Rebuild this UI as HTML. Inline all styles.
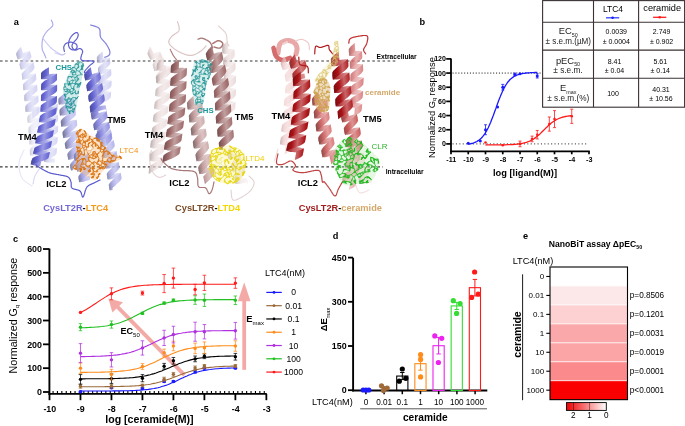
<!DOCTYPE html>
<html><head><meta charset="utf-8"><style>
html,body{margin:0;padding:0;background:#fff;overflow:hidden}
svg{display:block;will-change:transform}
text{font-family:"Liberation Sans",sans-serif}
</style></head><body>
<svg width="685" height="426" viewBox="0 0 685 426">
<rect width="685" height="426" fill="#fff"/>
<line x1="0" y1="61.0" x2="397" y2="61.0" stroke="#383838" stroke-width="1.2" stroke-dasharray="2.6 2.5"/>
<line x1="0" y1="166.9" x2="383" y2="166.9" stroke="#383838" stroke-width="1.2" stroke-dasharray="2.6 2.5"/>
<defs><linearGradient id="hf1" gradientUnits="userSpaceOnUse" x1="19.6" y1="83.8" x2="35.4" y2="81.2"><stop offset="0" stop-color="#7f7f9c"/><stop offset="0.35" stop-color="#c4c4f0"/><stop offset="0.62" stop-color="#d9d9f5"/><stop offset="1" stop-color="#c4c4f0"/></linearGradient><linearGradient id="hb1" gradientUnits="userSpaceOnUse" x1="19.6" y1="83.8" x2="35.4" y2="81.2"><stop offset="0" stop-color="#9b9bbe"/><stop offset="0.45" stop-color="#d6d6f4"/><stop offset="1" stop-color="#e8e8f9"/></linearGradient></defs><g opacity="0.7"><path d="M16.5,55.6L16.8,55.8L17.5,55.7L18.5,55.3L19.9,54.7L21.4,54.0L23.1,53.2L24.7,52.5L26.3,51.9L27.7,51.4L28.8,51.2L29.6,51.3L30.0,51.7L31.0,54.9L30.7,54.7L30.0,54.8L29.0,55.2L27.6,55.7L26.1,56.4L24.4,57.2L22.8,57.9L21.2,58.6L19.8,59.0L18.7,59.2L17.9,59.2L17.5,58.8ZM19.7,65.8L20.0,65.9L20.7,65.9L21.8,65.5L23.2,65.0L24.7,64.4L26.5,63.7L28.2,63.1L29.8,62.6L31.2,62.3L32.4,62.2L33.2,62.4L33.5,62.8L34.3,66.1L34.0,65.9L33.3,65.8L32.2,66.1L30.8,66.6L29.2,67.1L27.5,67.8L25.9,68.4L24.2,68.9L22.8,69.3L21.8,69.5L21.0,69.4L20.7,69.0ZM21.9,75.6L22.1,75.8L22.8,75.8L23.9,75.6L25.3,75.3L27.0,74.9L28.8,74.4L30.6,74.0L32.2,73.8L33.7,73.6L34.8,73.6L35.6,73.9L35.9,74.3L36.3,77.7L36.0,77.4L35.3,77.4L34.2,77.5L32.7,77.8L31.1,78.2L29.3,78.6L27.5,79.0L25.9,79.3L24.5,79.5L23.4,79.6L22.7,79.4L22.4,78.9ZM23.1,86.2L23.3,86.4L24.1,86.5L25.2,86.3L26.6,86.1L28.3,85.7L30.0,85.4L31.8,85.0L33.5,84.8L34.9,84.7L36.1,84.7L36.8,84.9L37.1,85.4L37.4,88.8L37.1,88.5L36.4,88.5L35.3,88.6L33.9,88.8L32.2,89.2L30.4,89.5L28.7,89.9L27.0,90.1L25.5,90.3L24.4,90.2L23.7,90.0L23.4,89.5ZM24.2,97.2L24.5,97.4L25.2,97.5L26.3,97.3L27.7,97.0L29.4,96.7L31.1,96.3L32.9,96.0L34.6,95.7L36.1,95.6L37.2,95.6L37.9,95.9L38.2,96.3L38.5,99.7L38.3,99.4L37.6,99.4L36.5,99.5L35.0,99.8L33.4,100.1L31.6,100.5L29.8,100.8L28.1,101.1L26.7,101.2L25.6,101.2L24.9,101.0L24.6,100.5ZM25.3,108.0L25.6,108.3L26.3,108.3L27.4,108.2L28.8,108.0L30.5,107.6L32.3,107.3L34.0,106.9L35.7,106.7L37.2,106.5L38.3,106.6L39.0,106.8L39.3,107.3L39.6,110.6L39.3,110.4L38.6,110.4L37.5,110.5L36.1,110.7L34.4,111.1L32.7,111.4L30.9,111.8L29.2,112.0L27.8,112.1L26.6,112.1L25.9,111.8L25.6,111.4Z" fill="url(#hb1)" opacity="1.0"/><path d="M21.0,46.7L20.3,47.5L19.6,48.3L18.9,49.1L18.3,49.9L17.7,50.6L17.2,51.4L16.8,52.1L16.5,52.7L16.3,53.3L16.1,53.8L16.1,54.2L16.1,54.5L17.9,59.8L17.9,59.7L18.0,59.4L18.2,59.1L18.5,58.7L18.9,58.2L19.3,57.6L19.8,57.0L20.4,56.4L21.0,55.7L21.6,54.9L22.3,54.1L23.0,53.3ZM29.6,50.7L29.5,51.1L29.0,51.8L28.2,52.8L27.1,54.1L25.8,55.5L24.4,57.1L23.0,58.7L21.7,60.3L20.7,61.7L19.9,62.9L19.5,64.0L19.4,64.7L21.0,70.1L21.2,69.7L21.7,69.0L22.6,68.0L23.7,66.8L25.1,65.3L26.5,63.8L27.9,62.2L29.2,60.6L30.2,59.1L31.0,57.8L31.4,56.7L31.4,56.0ZM33.3,61.7L33.1,62.1L32.7,62.9L31.8,63.8L30.6,65.0L29.1,66.3L27.5,67.6L26.0,69.1L24.5,70.4L23.3,71.7L22.4,72.8L21.8,73.8L21.7,74.5L22.5,80.0L22.8,79.7L23.4,79.1L24.4,78.2L25.7,77.2L27.2,75.9L28.9,74.5L30.4,73.1L31.9,71.7L33.1,70.2L34.0,69.0L34.5,67.9L34.6,67.2ZM35.7,73.2L35.5,73.6L34.9,74.2L33.9,75.1L32.6,76.1L31.0,77.2L29.3,78.5L27.6,79.8L26.1,81.1L24.8,82.3L23.7,83.4L23.1,84.3L23.0,85.1L23.5,90.6L23.7,90.3L24.4,89.7L25.4,88.9L26.8,87.9L28.4,86.7L30.1,85.5L31.7,84.2L33.3,82.9L34.6,81.6L35.6,80.5L36.2,79.5L36.4,78.8ZM37.0,84.3L36.8,84.7L36.1,85.3L35.1,86.1L33.7,87.1L32.1,88.2L30.4,89.4L28.7,90.7L27.2,92.0L25.8,93.3L24.8,94.4L24.2,95.3L24.1,96.1L24.7,101.6L24.9,101.3L25.5,100.6L26.5,99.8L27.9,98.8L29.4,97.7L31.1,96.4L32.8,95.1L34.4,93.8L35.7,92.6L36.7,91.5L37.3,90.6L37.5,89.9ZM38.1,95.2L37.9,95.6L37.2,96.2L36.2,97.0L34.9,98.0L33.3,99.1L31.6,100.4L29.9,101.7L28.3,103.0L27.0,104.2L26.0,105.3L25.4,106.2L25.2,106.9L25.7,112.5L25.9,112.1L26.6,111.5L27.6,110.7L29.0,109.7L30.6,108.6L32.3,107.4L34.0,106.1L35.5,104.8L36.9,103.6L37.9,102.5L38.5,101.5L38.6,100.8ZM39.2,106.2L39.1,106.4L39.0,106.6L38.6,106.9L38.2,107.3L37.7,107.7L37.0,108.2L36.3,108.7L35.5,109.2L34.7,109.9L33.8,110.5L32.9,111.2L32.0,111.8L32.6,118.8L33.6,118.1L34.5,117.4L35.3,116.8L36.2,116.1L37.0,115.4L37.7,114.8L38.3,114.1L38.8,113.6L39.2,113.0L39.5,112.6L39.7,112.1L39.7,111.8Z" fill="url(#hf1)"/></g>
<defs><linearGradient id="hf2" gradientUnits="userSpaceOnUse" x1="27.6" y1="135.5" x2="41.4" y2="134.5"><stop offset="0" stop-color="#8e8ea0"/><stop offset="0.35" stop-color="#dadaf6"/><stop offset="0.62" stop-color="#e7e7f9"/><stop offset="1" stop-color="#dadaf6"/></linearGradient><linearGradient id="hb2" gradientUnits="userSpaceOnUse" x1="27.6" y1="135.5" x2="41.4" y2="134.5"><stop offset="0" stop-color="#acacc2"/><stop offset="0.45" stop-color="#e5e5f9"/><stop offset="1" stop-color="#f1f1fc"/></linearGradient></defs><g opacity="0.5"><path d="M27.4,118.8L27.6,119.1L28.2,119.1L29.2,119.1L30.4,118.9L31.8,118.6L33.4,118.4L34.9,118.1L36.3,118.0L37.6,117.9L38.6,118.1L39.2,118.3L39.4,118.8L39.8,122.2L39.6,121.9L39.0,121.8L38.0,121.9L36.8,122.0L35.3,122.3L33.8,122.6L32.3,122.8L30.8,123.0L29.6,123.0L28.6,122.9L28.0,122.6L27.7,122.1ZM28.5,129.7L28.7,129.9L29.3,130.0L30.3,130.0L31.5,129.8L33.0,129.6L34.5,129.3L36.1,129.1L37.5,129.0L38.7,129.0L39.7,129.1L40.4,129.4L40.6,129.9L40.9,133.3L40.7,133.0L40.0,132.9L39.1,132.9L37.9,133.1L36.4,133.3L34.9,133.5L33.3,133.7L31.9,133.9L30.7,133.9L29.7,133.8L29.1,133.5L28.8,133.0ZM29.3,140.4L29.5,140.7L30.2,140.8L31.1,140.7L32.3,140.6L33.8,140.5L35.3,140.3L36.9,140.1L38.3,140.1L39.6,140.1L40.5,140.3L41.2,140.6L41.4,141.1L41.5,144.4L41.3,144.2L40.7,144.0L39.8,144.0L38.5,144.1L37.1,144.3L35.5,144.5L34.0,144.6L32.6,144.7L31.3,144.7L30.4,144.5L29.7,144.2L29.5,143.7ZM29.8,151.3L30.0,151.5L30.4,151.7L31.0,151.7L31.8,151.7L32.8,151.6L34.0,151.5L35.2,151.3L36.4,151.2L37.6,151.1L38.8,151.1L39.8,151.1L40.6,151.2L40.8,155.0L40.0,155.1L38.9,155.2L37.8,155.3L36.6,155.4L35.3,155.5L34.1,155.6L33.0,155.7L32.0,155.7L31.1,155.5L30.5,155.4L30.1,155.1L30.0,154.7Z" fill="url(#hb2)" opacity="1.0"/><path d="M32.6,111.5L31.9,112.1L31.2,112.7L30.5,113.3L29.9,113.9L29.3,114.5L28.7,115.0L28.3,115.6L27.9,116.1L27.6,116.5L27.4,117.0L27.3,117.3L27.2,117.7L27.9,123.3L27.9,123.1L28.0,122.9L28.2,122.6L28.6,122.3L29.0,122.0L29.4,121.6L30.0,121.1L30.6,120.7L31.2,120.2L31.9,119.6L32.6,119.1L33.4,118.5ZM39.3,117.7L39.2,118.1L38.6,118.6L37.7,119.4L36.6,120.3L35.2,121.3L33.8,122.5L32.4,123.6L31.0,124.8L29.9,125.9L29.0,127.0L28.5,127.8L28.4,128.6L28.9,134.1L29.1,133.8L29.7,133.2L30.6,132.5L31.7,131.6L33.1,130.6L34.5,129.4L36.0,128.2L37.3,127.1L38.4,125.9L39.3,124.9L39.8,124.0L39.9,123.3ZM40.5,128.8L40.4,129.2L39.8,129.7L38.9,130.5L37.7,131.3L36.4,132.3L34.9,133.4L33.4,134.5L32.0,135.6L30.9,136.7L30.0,137.7L29.4,138.6L29.3,139.3L29.6,144.9L29.8,144.5L30.3,144.0L31.3,143.3L32.5,142.4L33.9,141.5L35.4,140.4L36.8,139.3L38.2,138.1L39.4,137.0L40.3,136.0L40.8,135.1L41.0,134.4ZM41.3,140.0L41.2,140.3L40.6,140.9L39.7,141.5L38.5,142.4L37.1,143.3L35.5,144.4L34.0,145.5L32.6,146.6L31.4,147.6L30.5,148.6L30.0,149.5L29.8,150.2L30.0,155.8L30.2,155.4L30.8,154.9L31.7,154.2L32.9,153.4L34.3,152.4L35.8,151.4L37.4,150.3L38.8,149.2L40.0,148.1L40.9,147.1L41.4,146.3L41.6,145.6Z" fill="url(#hf2)"/></g>
<defs><linearGradient id="hf3" gradientUnits="userSpaceOnUse" x1="44.1" y1="130.8" x2="57.9" y2="131.2"><stop offset="0" stop-color="#7f7f9c"/><stop offset="0.35" stop-color="#c4c4f0"/><stop offset="0.62" stop-color="#d9d9f5"/><stop offset="1" stop-color="#c4c4f0"/></linearGradient><linearGradient id="hb3" gradientUnits="userSpaceOnUse" x1="44.1" y1="130.8" x2="57.9" y2="131.2"><stop offset="0" stop-color="#9b9bbe"/><stop offset="0.45" stop-color="#d6d6f4"/><stop offset="1" stop-color="#e8e8f9"/></linearGradient></defs><g opacity="0.7"><path d="M46.0,103.2L46.2,103.5L46.8,103.7L47.8,103.7L49.0,103.6L50.5,103.5L52.0,103.4L53.6,103.3L55.0,103.3L56.3,103.4L57.2,103.6L57.8,103.9L58.0,104.4L58.1,107.8L57.9,107.5L57.3,107.3L56.3,107.3L55.1,107.4L53.6,107.5L52.1,107.6L50.5,107.7L49.1,107.7L47.8,107.6L46.9,107.4L46.3,107.1L46.1,106.6ZM46.1,114.2L46.3,114.5L46.9,114.6L47.9,114.7L49.1,114.6L50.6,114.5L52.1,114.4L53.7,114.3L55.1,114.3L56.4,114.4L57.3,114.6L57.9,115.0L58.1,115.5L58.1,118.8L57.9,118.6L57.3,118.4L56.4,118.4L55.1,118.4L53.7,118.5L52.1,118.6L50.6,118.7L49.2,118.7L47.9,118.6L47.0,118.4L46.4,118.1L46.2,117.6ZM46.1,125.1L46.3,125.4L46.9,125.5L47.9,125.6L49.1,125.5L50.6,125.5L52.1,125.4L53.7,125.4L55.1,125.4L56.4,125.5L57.3,125.8L57.9,126.1L58.1,126.7L58.0,130.0L57.8,129.7L57.2,129.6L56.3,129.5L55.0,129.5L53.6,129.5L52.0,129.6L50.5,129.6L49.0,129.6L47.8,129.5L46.8,129.3L46.2,128.9L46.1,128.5ZM45.7,135.8L45.9,136.1L46.5,136.3L47.5,136.4L48.7,136.4L50.2,136.4L51.7,136.4L53.3,136.4L54.7,136.5L56.0,136.7L56.9,136.9L57.5,137.3L57.7,137.8L57.5,141.2L57.3,140.9L56.7,140.7L55.7,140.6L54.5,140.6L53.0,140.6L51.5,140.6L49.9,140.6L48.5,140.5L47.2,140.3L46.3,140.1L45.7,139.7L45.6,139.2ZM45.1,146.7L45.2,147.0L45.8,147.2L46.8,147.3L48.0,147.4L49.5,147.4L51.0,147.4L52.6,147.4L54.0,147.5L55.3,147.7L56.2,148.0L56.8,148.4L56.9,148.9L56.7,152.2L56.5,151.9L55.9,151.7L55.0,151.6L53.7,151.6L52.3,151.6L50.7,151.6L49.2,151.5L47.7,151.4L46.5,151.3L45.6,151.0L45.0,150.6L44.8,150.1ZM44.3,157.7L44.4,157.9L44.8,158.1L45.4,158.2L46.2,158.3L47.1,158.3L48.3,158.3L49.5,158.3L50.7,158.3L51.9,158.4L53.0,158.4L54.0,158.6L54.9,158.7L54.7,162.6L53.8,162.6L52.8,162.5L51.6,162.5L50.4,162.5L49.2,162.5L48.0,162.5L46.9,162.4L45.9,162.3L45.1,162.0L44.5,161.8L44.1,161.4L44.0,161.0Z" fill="url(#hb3)" opacity="1.0"/><path d="M52.0,96.5L51.2,97.0L50.4,97.5L49.7,98.1L49.0,98.6L48.3,99.1L47.8,99.6L47.2,100.1L46.8,100.6L46.5,101.0L46.2,101.4L46.1,101.8L46.0,102.1L46.1,107.7L46.1,107.5L46.3,107.4L46.5,107.1L46.9,106.9L47.3,106.5L47.8,106.2L48.4,105.8L49.0,105.4L49.7,104.9L50.5,104.5L51.2,104.0L52.0,103.5ZM58.0,103.3L57.8,103.6L57.2,104.1L56.3,104.8L55.1,105.6L53.6,106.5L52.1,107.5L50.5,108.5L49.1,109.6L47.9,110.6L46.9,111.5L46.3,112.4L46.1,113.1L46.2,118.7L46.4,118.3L47.0,117.8L47.9,117.2L49.2,116.4L50.6,115.5L52.1,114.5L53.7,113.5L55.1,112.4L56.4,111.4L57.3,110.4L57.9,109.6L58.1,108.9ZM58.1,114.4L57.9,114.7L57.4,115.2L56.4,115.9L55.2,116.6L53.7,117.5L52.2,118.5L50.6,119.5L49.1,120.5L47.9,121.5L46.9,122.4L46.3,123.3L46.1,124.0L46.1,129.6L46.3,129.2L46.9,128.7L47.9,128.1L49.1,127.4L50.6,126.5L52.1,125.5L53.7,124.5L55.1,123.4L56.4,122.4L57.3,121.5L57.9,120.7L58.1,120.0ZM58.2,125.6L57.9,125.9L57.3,126.4L56.4,127.0L55.1,127.8L53.6,128.6L52.0,129.5L50.5,130.5L49.0,131.4L47.7,132.4L46.7,133.2L46.0,134.0L45.8,134.7L45.5,140.3L45.7,140.0L46.4,139.5L47.4,138.9L48.6,138.2L50.1,137.4L51.7,136.5L53.3,135.5L54.8,134.6L56.1,133.6L57.1,132.7L57.7,131.9L58.0,131.2ZM57.7,136.7L57.5,137.0L56.9,137.5L55.9,138.1L54.6,138.8L53.1,139.6L51.5,140.5L49.9,141.4L48.4,142.3L47.1,143.3L46.0,144.1L45.4,144.9L45.1,145.6L44.8,151.2L45.0,150.9L45.6,150.4L46.6,149.8L47.9,149.1L49.4,148.3L51.0,147.5L52.7,146.5L54.2,145.6L55.5,144.7L56.5,143.8L57.1,143.0L57.4,142.3ZM57.0,147.7L56.8,148.1L56.2,148.5L55.2,149.1L53.9,149.8L52.4,150.6L50.8,151.5L49.1,152.4L47.6,153.3L46.3,154.2L45.3,155.1L44.6,155.9L44.4,156.6L44.0,162.2L44.2,161.8L44.8,161.4L45.8,160.8L47.1,160.1L48.6,159.3L50.2,158.4L51.9,157.5L53.4,156.6L54.7,155.7L55.7,154.8L56.4,154.0L56.6,153.3Z" fill="url(#hf3)"/></g>
<defs><linearGradient id="hf4" gradientUnits="userSpaceOnUse" x1="62.9" y1="132.1" x2="81.1" y2="128.9"><stop offset="0" stop-color="#78789b"/><stop offset="0.35" stop-color="#b8b8ee"/><stop offset="0.62" stop-color="#d1d1f4"/><stop offset="1" stop-color="#b8b8ee"/></linearGradient><linearGradient id="hb4" gradientUnits="userSpaceOnUse" x1="62.9" y1="132.1" x2="81.1" y2="128.9"><stop offset="0" stop-color="#9191bc"/><stop offset="0.45" stop-color="#cdcdf3"/><stop offset="1" stop-color="#e4e4f8"/></linearGradient></defs><g opacity="1.0"><path d="M58.4,100.7L58.7,100.9L59.5,100.9L60.8,100.7L62.4,100.3L64.3,99.9L66.4,99.4L68.4,98.9L70.3,98.6L71.9,98.4L73.2,98.3L74.0,98.5L74.4,99.0L74.7,102.3L74.4,102.1L73.6,102.1L72.3,102.3L70.7,102.6L68.8,103.1L66.8,103.6L64.7,104.0L62.8,104.4L61.2,104.6L59.9,104.6L59.1,104.4L58.8,104.0ZM59.5,111.6L59.8,111.8L60.6,111.8L61.9,111.6L63.5,111.3L65.4,110.8L67.4,110.3L69.5,109.9L71.4,109.5L73.0,109.2L74.3,109.2L75.1,109.4L75.4,109.8L75.8,113.1L75.5,112.9L74.7,112.9L73.4,113.2L71.8,113.5L69.9,114.0L67.9,114.5L65.9,115.0L64.0,115.4L62.3,115.6L61.0,115.6L60.2,115.4L59.9,115.0ZM60.8,122.7L61.1,123.0L61.9,122.9L63.2,122.7L64.8,122.3L66.7,121.8L68.7,121.3L70.7,120.7L72.6,120.3L74.2,120.0L75.5,119.9L76.3,120.0L76.6,120.5L77.1,123.8L76.8,123.6L76.0,123.6L74.8,123.9L73.2,124.3L71.3,124.9L69.3,125.4L67.3,125.9L65.3,126.4L63.7,126.6L62.4,126.7L61.6,126.5L61.2,126.0ZM62.6,134.0L62.9,134.3L63.7,134.2L65.0,133.9L66.6,133.4L68.4,132.8L70.4,132.1L72.4,131.5L74.2,130.9L75.8,130.5L77.0,130.3L77.9,130.4L78.3,130.9L78.9,134.1L78.6,133.9L77.8,134.0L76.6,134.4L75.0,134.9L73.2,135.6L71.2,136.2L69.2,136.9L67.3,137.4L65.7,137.8L64.4,137.9L63.6,137.8L63.2,137.3ZM65.0,145.1L65.3,145.3L66.1,145.2L67.3,144.9L68.9,144.3L70.7,143.6L72.7,142.9L74.6,142.2L76.4,141.6L78.0,141.1L79.3,140.9L80.2,141.0L80.5,141.4L81.3,144.7L81.0,144.5L80.2,144.6L79.0,145.0L77.4,145.5L75.6,146.2L73.6,147.0L71.7,147.7L69.8,148.3L68.2,148.7L66.9,148.9L66.1,148.8L65.7,148.4ZM67.6,155.9L67.9,156.1L68.7,156.0L69.9,155.6L71.5,155.1L73.3,154.4L75.2,153.6L77.2,152.8L79.0,152.2L80.6,151.8L81.8,151.6L82.7,151.6L83.1,152.0L83.9,155.3L83.5,155.1L82.7,155.2L81.5,155.6L80.0,156.2L78.2,156.9L76.2,157.7L74.3,158.4L72.4,159.0L70.8,159.5L69.6,159.7L68.7,159.6L68.3,159.2ZM70.2,166.6L70.2,166.7L70.3,166.7L70.4,166.8L70.5,166.7L70.6,166.7L70.8,166.7L71.1,166.7L71.3,166.6L71.6,166.5L71.9,166.5L72.2,166.4L72.6,166.2L73.5,170.1L73.1,170.2L72.8,170.2L72.5,170.3L72.2,170.3L71.9,170.3L71.7,170.3L71.5,170.3L71.3,170.2L71.2,170.2L71.1,170.1L71.0,170.0L70.9,169.9Z" fill="url(#hb4)" opacity="1.0"/><path d="M65.6,92.5L64.6,93.2L63.7,94.0L62.8,94.7L61.9,95.4L61.1,96.0L60.4,96.7L59.8,97.3L59.2,97.8L58.8,98.3L58.5,98.8L58.4,99.2L58.3,99.5L58.9,105.1L59.0,104.9L59.1,104.7L59.4,104.4L59.9,104.1L60.4,103.7L61.1,103.2L61.8,102.7L62.7,102.1L63.5,101.5L64.5,100.9L65.4,100.2L66.4,99.5ZM74.2,97.9L74.0,98.2L73.3,98.9L72.1,99.8L70.5,100.9L68.7,102.1L66.8,103.5L64.8,104.9L63.0,106.3L61.5,107.6L60.3,108.7L59.6,109.7L59.4,110.5L60.0,116.1L60.2,115.7L61.0,115.0L62.1,114.1L63.7,113.0L65.5,111.8L67.5,110.4L69.4,109.0L71.2,107.6L72.7,106.3L73.9,105.2L74.6,104.2L74.8,103.4ZM75.3,108.7L75.1,109.1L74.3,109.7L73.2,110.6L71.6,111.7L69.8,113.0L67.9,114.4L66.0,115.8L64.2,117.3L62.7,118.6L61.5,119.8L60.9,120.8L60.7,121.6L61.4,127.2L61.6,126.7L62.3,126.1L63.5,125.2L65.0,124.1L66.8,122.8L68.7,121.4L70.6,119.9L72.4,118.5L73.9,117.2L75.0,116.0L75.7,115.0L75.9,114.2ZM76.5,119.4L76.2,119.7L75.5,120.4L74.4,121.3L72.9,122.5L71.1,123.8L69.2,125.3L67.4,126.9L65.7,128.4L64.2,129.8L63.2,131.1L62.5,132.1L62.4,132.9L63.4,138.4L63.6,138.0L64.3,137.3L65.4,136.3L66.8,135.1L68.5,133.7L70.4,132.2L72.2,130.7L73.9,129.2L75.4,127.8L76.5,126.6L77.1,125.6L77.3,124.9ZM78.0,129.8L77.8,130.2L77.1,130.9L76.0,131.9L74.6,133.1L73.0,134.6L71.2,136.2L69.4,137.8L67.8,139.4L66.4,140.9L65.4,142.2L64.8,143.2L64.7,144.0L66.0,149.5L66.1,149.1L66.8,148.3L67.8,147.3L69.3,146.0L70.9,144.6L72.7,143.0L74.4,141.4L76.1,139.8L77.4,138.3L78.5,137.0L79.1,136.0L79.2,135.2ZM80.3,140.3L80.1,140.7L79.4,141.5L78.4,142.5L77.0,143.8L75.3,145.3L73.6,146.9L71.9,148.5L70.3,150.2L68.9,151.7L67.9,153.0L67.4,154.1L67.3,154.8L68.6,160.3L68.8,159.9L69.4,159.1L70.5,158.1L71.9,156.8L73.5,155.3L75.2,153.7L77.0,152.0L78.6,150.4L79.9,148.9L80.9,147.6L81.5,146.5L81.6,145.8ZM82.8,150.9L82.6,151.4L82.0,152.1L80.9,153.2L79.5,154.4L77.9,155.9L76.2,157.6L74.5,159.2L72.9,160.9L71.5,162.4L70.6,163.7L70.0,164.7L69.9,165.5L71.2,170.9L71.4,170.5L72.1,169.8L73.1,168.8L74.5,167.5L76.1,166.0L77.9,164.4L79.6,162.7L81.2,161.1L82.5,159.6L83.5,158.2L84.1,157.2L84.1,156.4Z" fill="url(#hf4)"/></g>
<defs><linearGradient id="hf5" gradientUnits="userSpaceOnUse" x1="96.0" y1="78.7" x2="111.0" y2="78.3"><stop offset="0" stop-color="#7f7f9c"/><stop offset="0.35" stop-color="#c4c4f0"/><stop offset="0.62" stop-color="#d9d9f5"/><stop offset="1" stop-color="#c4c4f0"/></linearGradient><linearGradient id="hb5" gradientUnits="userSpaceOnUse" x1="96.0" y1="78.7" x2="111.0" y2="78.3"><stop offset="0" stop-color="#9b9bbe"/><stop offset="0.45" stop-color="#d6d6f4"/><stop offset="1" stop-color="#e8e8f9"/></linearGradient></defs><g opacity="0.75"><path d="M96.9,59.0L97.1,59.3L97.8,59.3L98.8,59.2L100.1,59.0L101.7,58.7L103.4,58.4L105.0,58.1L106.6,57.9L107.9,57.8L109.0,57.8L109.6,58.1L109.9,58.6L110.3,61.9L110.0,61.7L109.4,61.6L108.3,61.7L107.0,61.9L105.5,62.2L103.8,62.6L102.2,62.9L100.6,63.1L99.3,63.2L98.2,63.1L97.5,62.8L97.2,62.4ZM98.0,69.9L98.2,70.1L98.9,70.2L99.9,70.1L101.3,69.9L102.8,69.6L104.5,69.3L106.2,69.1L107.7,68.9L109.1,68.9L110.1,69.0L110.8,69.3L111.1,69.8L111.3,73.2L111.0,72.9L110.4,72.8L109.4,72.8L108.0,73.0L106.5,73.2L104.8,73.5L103.1,73.8L101.6,73.9L100.3,74.0L99.2,73.9L98.5,73.6L98.3,73.2ZM98.5,80.3L98.7,80.5L99.4,80.6L100.4,80.6L101.8,80.5L103.3,80.4L105.0,80.3L106.7,80.2L108.3,80.2L109.7,80.3L110.7,80.5L111.3,80.9L111.5,81.4L111.4,84.8L111.2,84.5L110.6,84.3L109.5,84.3L108.2,84.3L106.6,84.4L104.9,84.5L103.3,84.6L101.7,84.6L100.4,84.6L99.3,84.4L98.7,84.1L98.5,83.6ZM98.1,90.9L98.4,91.2L99.0,91.3L100.0,91.4L101.4,91.4L102.9,91.3L104.6,91.3L106.3,91.3L107.9,91.3L109.2,91.5L110.3,91.7L110.9,92.1L111.1,92.6L110.9,95.9L110.7,95.7L110.0,95.5L109.0,95.4L107.6,95.4L106.1,95.4L104.4,95.5L102.7,95.5L101.1,95.5L99.8,95.3L98.8,95.1L98.2,94.8L98.0,94.3ZM97.5,101.9L97.5,101.9L97.5,102.0L97.5,102.0L97.5,102.0L97.5,102.0L97.5,102.0L97.5,102.1L97.6,102.1L97.6,102.1L97.6,102.1L97.6,102.1L97.6,102.2L97.5,105.7L97.4,105.7L97.4,105.6L97.4,105.6L97.4,105.6L97.4,105.5L97.4,105.5L97.4,105.5L97.3,105.4L97.3,105.4L97.3,105.4L97.3,105.3L97.3,105.3Z" fill="url(#hb5)" opacity="1.0"/><path d="M102.7,51.5L101.9,52.1L101.1,52.7L100.3,53.4L99.6,54.0L99.0,54.6L98.4,55.2L97.9,55.7L97.5,56.2L97.1,56.7L96.9,57.2L96.8,57.6L96.8,57.9L97.4,63.5L97.4,63.3L97.5,63.1L97.8,62.8L98.1,62.5L98.6,62.1L99.1,61.7L99.6,61.3L100.3,60.8L101.0,60.2L101.7,59.7L102.5,59.1L103.3,58.5ZM109.8,57.5L109.6,57.8L109.0,58.4L108.1,59.2L106.8,60.2L105.4,61.3L103.8,62.5L102.3,63.7L100.8,64.9L99.6,66.1L98.6,67.1L98.1,68.0L97.9,68.7L98.4,74.3L98.6,73.9L99.2,73.4L100.2,72.6L101.4,71.7L102.9,70.6L104.5,69.4L106.1,68.2L107.5,67.0L108.8,65.8L109.7,64.7L110.2,63.8L110.4,63.0ZM111.0,68.7L110.9,69.1L110.2,69.7L109.2,70.4L108.0,71.3L106.5,72.3L104.9,73.4L103.2,74.5L101.7,75.6L100.4,76.7L99.4,77.6L98.7,78.5L98.5,79.1L98.5,84.7L98.8,84.5L99.5,83.9L100.5,83.2L101.9,82.5L103.4,81.5L105.1,80.4L106.8,79.3L108.3,78.1L109.6,77.0L110.6,76.0L111.2,75.1L111.4,74.3ZM111.6,80.3L111.4,80.7L110.7,81.2L109.7,81.8L108.3,82.6L106.7,83.5L105.0,84.4L103.2,85.4L101.6,86.4L100.2,87.4L99.2,88.3L98.5,89.1L98.2,89.8L97.9,95.4L98.1,95.0L98.8,94.6L99.9,93.9L101.3,93.2L102.9,92.3L104.6,91.4L106.4,90.4L108.0,89.4L109.4,88.4L110.5,87.5L111.1,86.6L111.4,85.9ZM111.1,91.5L110.9,91.8L110.2,92.3L109.2,92.9L107.8,93.6L106.1,94.5L104.4,95.4L102.6,96.4L101.0,97.3L99.6,98.3L98.5,99.2L97.8,100.0L97.5,100.8L97.3,106.4L97.5,106.0L98.2,105.5L99.2,104.9L100.6,104.1L102.2,103.3L104.0,102.4L105.7,101.4L107.3,100.4L108.7,99.5L109.8,98.6L110.5,97.8L110.8,97.1Z" fill="url(#hf5)"/></g>
<defs><linearGradient id="hf6" gradientUnits="userSpaceOnUse" x1="75.1" y1="167.7" x2="90.9" y2="164.3"><stop offset="0" stop-color="#6d6d98"/><stop offset="0.35" stop-color="#a8a8ea"/><stop offset="0.62" stop-color="#c6c6f1"/><stop offset="1" stop-color="#a8a8ea"/></linearGradient><linearGradient id="hb6" gradientUnits="userSpaceOnUse" x1="75.1" y1="167.7" x2="90.9" y2="164.3"><stop offset="0" stop-color="#8585b9"/><stop offset="0.45" stop-color="#c2c2f0"/><stop offset="1" stop-color="#ddddf7"/></linearGradient></defs><g opacity="1.0"><path d="M74.0,157.0L74.3,157.2L75.0,157.2L76.1,156.9L77.5,156.5L79.1,155.9L80.8,155.3L82.5,154.7L84.1,154.3L85.6,154.0L86.7,153.9L87.4,154.0L87.8,154.4L88.5,157.7L88.2,157.5L87.5,157.5L86.5,157.8L85.1,158.2L83.5,158.8L81.7,159.4L80.0,160.0L78.4,160.4L77.0,160.8L75.9,160.9L75.1,160.7L74.8,160.3ZM76.4,167.6L76.7,167.8L77.4,167.8L78.5,167.5L79.9,167.1L81.5,166.6L83.2,166.0L85.0,165.5L86.6,165.1L88.0,164.8L89.2,164.8L89.9,164.9L90.2,165.4L90.9,168.7L90.6,168.4L89.9,168.5L88.8,168.7L87.4,169.1L85.8,169.6L84.1,170.1L82.3,170.7L80.7,171.1L79.3,171.4L78.2,171.5L77.4,171.3L77.1,170.9ZM78.5,178.3L78.7,178.5L79.1,178.5L79.6,178.5L80.4,178.3L81.3,178.0L82.4,177.7L83.5,177.4L84.8,177.0L86.0,176.6L87.2,176.3L88.4,176.0L89.5,175.7L90.3,179.7L89.2,180.0L88.0,180.4L86.8,180.7L85.6,181.1L84.3,181.5L83.2,181.8L82.1,182.0L81.2,182.1L80.4,182.2L79.8,182.1L79.4,181.9L79.2,181.6Z" fill="url(#hb6)" opacity="1.0"/><path d="M79.2,148.6L78.4,149.3L77.7,150.1L77.0,150.8L76.3,151.6L75.7,152.3L75.1,153.0L74.7,153.6L74.3,154.2L74.0,154.7L73.8,155.2L73.7,155.6L73.7,156.0L75.0,161.4L75.1,161.2L75.2,161.0L75.4,160.7L75.7,160.3L76.2,159.9L76.7,159.4L77.2,158.8L77.9,158.2L78.5,157.5L79.3,156.9L80.0,156.1L80.8,155.4ZM87.5,153.3L87.4,153.7L86.8,154.4L85.9,155.4L84.7,156.5L83.3,157.9L81.7,159.3L80.2,160.8L78.8,162.2L77.6,163.6L76.7,164.8L76.3,165.8L76.2,166.5L77.3,172.0L77.5,171.6L78.1,170.9L79.0,170.0L80.3,168.9L81.7,167.6L83.3,166.1L84.8,164.6L86.2,163.2L87.4,161.8L88.2,160.6L88.7,159.6L88.8,158.8ZM90.0,164.3L89.9,164.7L89.3,165.3L88.3,166.2L87.1,167.4L85.6,168.7L84.0,170.1L82.5,171.5L81.0,172.9L79.8,174.3L78.9,175.4L78.4,176.4L78.3,177.2L79.4,182.7L79.6,182.3L80.1,181.6L81.1,180.7L82.4,179.6L83.8,178.3L85.4,176.9L87.0,175.5L88.4,174.0L89.6,172.7L90.5,171.5L91.0,170.5L91.1,169.8Z" fill="url(#hf6)"/></g>
<defs><linearGradient id="hf7" gradientUnits="userSpaceOnUse" x1="101.6" y1="158.8" x2="117.4" y2="155.2"><stop offset="0" stop-color="#6d6d97"/><stop offset="0.35" stop-color="#a8a8e8"/><stop offset="0.62" stop-color="#c6c6f0"/><stop offset="1" stop-color="#a8a8e8"/></linearGradient><linearGradient id="hb7" gradientUnits="userSpaceOnUse" x1="101.6" y1="158.8" x2="117.4" y2="155.2"><stop offset="0" stop-color="#8585b7"/><stop offset="0.45" stop-color="#c2c2ef"/><stop offset="1" stop-color="#ddddf6"/></linearGradient></defs><g opacity="0.85"><path d="M97.2,133.2L97.5,133.4L98.2,133.4L99.2,133.0L100.6,132.6L102.2,131.9L103.9,131.3L105.6,130.7L107.2,130.1L108.6,129.8L109.7,129.6L110.5,129.7L110.8,130.1L111.7,133.4L111.4,133.2L110.7,133.3L109.6,133.6L108.3,134.1L106.7,134.7L105.0,135.3L103.3,136.0L101.7,136.5L100.3,136.9L99.2,137.0L98.4,136.9L98.0,136.5ZM100.0,143.8L100.3,144.0L101.0,143.9L102.1,143.6L103.5,143.1L105.0,142.5L106.7,141.9L108.5,141.3L110.1,140.8L111.5,140.4L112.6,140.3L113.4,140.5L113.7,140.9L114.6,144.1L114.3,143.9L113.6,144.0L112.5,144.3L111.1,144.7L109.5,145.3L107.8,146.0L106.1,146.6L104.5,147.1L103.1,147.5L102.0,147.6L101.2,147.5L100.9,147.1ZM102.7,154.3L102.9,154.5L103.7,154.4L104.7,154.2L106.1,153.7L107.7,153.2L109.4,152.6L111.2,152.0L112.8,151.6L114.2,151.3L115.4,151.2L116.1,151.4L116.5,151.8L117.2,155.1L116.9,154.9L116.2,154.9L115.1,155.1L113.7,155.6L112.1,156.1L110.4,156.7L108.6,157.2L107.0,157.7L105.6,158.0L104.5,158.1L103.8,158.0L103.5,157.6ZM104.9,164.8L105.2,165.0L105.9,165.0L107.0,164.8L108.4,164.4L110.0,163.9L111.7,163.3L113.5,162.8L115.1,162.4L116.6,162.2L117.7,162.1L118.4,162.3L118.8,162.7L119.4,166.0L119.1,165.8L118.4,165.8L117.3,166.0L115.9,166.4L114.3,166.9L112.5,167.4L110.8,168.0L109.2,168.4L107.7,168.6L106.6,168.7L105.9,168.5L105.6,168.1ZM106.9,175.5L107.2,175.7L107.9,175.7L109.0,175.5L110.4,175.1L112.1,174.6L113.8,174.1L115.6,173.6L117.2,173.2L118.6,173.0L119.8,173.0L120.5,173.1L120.8,173.6L121.4,176.9L121.1,176.7L120.4,176.7L119.3,176.9L117.9,177.3L116.3,177.7L114.6,178.3L112.8,178.7L111.2,179.1L109.7,179.4L108.6,179.4L107.9,179.3L107.6,178.8ZM108.9,186.4L109.0,186.5L109.1,186.5L109.2,186.6L109.4,186.6L109.6,186.6L109.8,186.6L110.1,186.5L110.4,186.5L110.8,186.4L111.2,186.3L111.6,186.2L112.1,186.1L112.8,190.1L112.4,190.1L111.9,190.2L111.5,190.3L111.2,190.3L110.8,190.3L110.5,190.3L110.3,190.2L110.0,190.2L109.9,190.1L109.7,190.0L109.6,189.8L109.6,189.7Z" fill="url(#hb7)" opacity="1.0"/><path d="M102.1,124.6L101.4,125.4L100.6,126.2L99.9,126.9L99.3,127.7L98.7,128.4L98.2,129.1L97.7,129.7L97.3,130.4L97.1,130.9L96.9,131.4L96.8,131.8L96.9,132.2L98.3,137.6L98.3,137.4L98.5,137.1L98.7,136.8L99.0,136.4L99.4,136.0L99.9,135.5L100.4,134.9L101.0,134.3L101.7,133.6L102.4,132.9L103.1,132.1L103.9,131.4ZM110.5,129.1L110.4,129.5L109.9,130.2L109.0,131.1L107.8,132.3L106.4,133.7L105.0,135.2L103.5,136.8L102.2,138.3L101.0,139.7L100.2,141.0L99.8,142.0L99.7,142.7L101.2,148.1L101.3,147.7L101.8,147.0L102.7,146.1L103.9,144.9L105.3,143.5L106.8,142.0L108.2,140.5L109.6,138.9L110.7,137.5L111.5,136.3L112.0,135.2L112.0,134.5ZM113.5,139.8L113.3,140.2L112.8,140.9L111.9,141.8L110.7,143.0L109.3,144.4L107.8,145.9L106.3,147.4L104.9,148.9L103.8,150.2L102.9,151.5L102.5,152.5L102.4,153.2L103.7,158.7L103.9,158.3L104.4,157.6L105.3,156.6L106.6,155.5L108.0,154.1L109.5,152.7L111.0,151.1L112.3,149.6L113.5,148.2L114.3,147.0L114.8,146.0L114.8,145.2ZM116.3,150.7L116.1,151.1L115.6,151.8L114.6,152.7L113.4,153.8L111.9,155.2L110.4,156.6L108.8,158.0L107.4,159.5L106.2,160.8L105.3,162.0L104.8,163.0L104.7,163.7L105.8,169.2L105.9,168.8L106.5,168.1L107.5,167.3L108.7,166.1L110.2,164.8L111.8,163.4L113.3,162.0L114.8,160.5L116.0,159.2L116.8,158.0L117.3,156.9L117.4,156.2ZM118.5,161.6L118.4,162.0L117.8,162.7L116.8,163.6L115.6,164.7L114.1,166.0L112.5,167.3L111.0,168.8L109.5,170.2L108.3,171.5L107.4,172.7L106.8,173.7L106.7,174.4L107.8,179.9L107.9,179.5L108.5,178.9L109.5,178.0L110.8,176.9L112.2,175.6L113.8,174.2L115.4,172.8L116.8,171.4L118.1,170.1L119.0,168.9L119.5,167.9L119.6,167.1ZM120.6,172.5L120.4,172.9L119.9,173.5L118.9,174.4L117.6,175.5L116.1,176.8L114.5,178.2L113.0,179.6L111.5,181.0L110.3,182.3L109.4,183.5L108.8,184.5L108.7,185.3L109.8,190.8L109.9,190.4L110.5,189.7L111.5,188.8L112.7,187.7L114.2,186.4L115.8,185.0L117.4,183.6L118.8,182.2L120.1,180.9L121.0,179.7L121.5,178.7L121.6,178.0Z" fill="url(#hf7)"/></g>
<defs><linearGradient id="hf8" gradientUnits="userSpaceOnUse" x1="34.9" y1="116.5" x2="53.1" y2="118.5"><stop offset="0" stop-color="#41418a"/><stop offset="0.35" stop-color="#6464d4"/><stop offset="0.62" stop-color="#9a9ae3"/><stop offset="1" stop-color="#6464d4"/></linearGradient><linearGradient id="hb8" gradientUnits="userSpaceOnUse" x1="34.9" y1="116.5" x2="53.1" y2="118.5"><stop offset="0" stop-color="#4f4fa7"/><stop offset="0.45" stop-color="#9292e1"/><stop offset="1" stop-color="#c3c3ee"/></linearGradient></defs><g opacity="1.0"><path d="M41.0,74.8L41.3,75.0L42.1,75.1L43.3,75.0L45.0,74.8L46.9,74.5L49.0,74.2L51.1,74.0L53.0,73.8L54.6,73.7L55.9,73.8L56.7,74.1L57.0,74.6L57.0,78.2L56.7,78.0L55.9,77.9L54.7,78.0L53.0,78.2L51.1,78.5L49.0,78.8L46.9,79.0L45.0,79.2L43.4,79.3L42.1,79.2L41.3,78.9L41.0,78.4ZM41.1,85.8L41.3,86.0L42.1,86.1L43.4,86.0L45.1,85.8L47.0,85.5L49.1,85.2L51.1,85.0L53.1,84.8L54.7,84.8L56.0,84.9L56.8,85.2L57.1,85.6L57.1,89.3L56.8,89.0L56.0,89.0L54.7,89.0L53.1,89.2L51.1,89.5L49.1,89.8L47.0,90.0L45.1,90.2L43.4,90.3L42.1,90.2L41.3,89.9L41.1,89.4ZM41.0,96.6L41.3,96.9L42.1,96.9L43.3,96.9L45.0,96.7L46.9,96.5L49.0,96.2L51.1,96.0L53.0,95.9L54.7,95.9L56.0,96.0L56.8,96.3L57.0,96.8L56.9,100.5L56.7,100.2L55.9,100.1L54.6,100.2L52.9,100.3L51.0,100.5L48.9,100.8L46.9,101.0L44.9,101.1L43.3,101.2L42.0,101.0L41.2,100.7L41.0,100.3ZM40.7,107.3L40.9,107.5L41.7,107.7L43.0,107.6L44.7,107.5L46.6,107.4L48.7,107.2L50.8,107.1L52.8,107.1L54.4,107.2L55.7,107.4L56.4,107.8L56.7,108.4L56.4,112.0L56.1,111.7L55.3,111.5L54.1,111.5L52.4,111.5L50.5,111.6L48.4,111.8L46.3,111.9L44.4,111.9L42.8,111.9L41.5,111.8L40.7,111.4L40.5,110.9ZM39.7,117.7L39.9,117.9L40.7,118.1L42.0,118.1L43.6,118.2L45.6,118.2L47.7,118.2L49.8,118.2L51.7,118.3L53.3,118.5L54.6,118.8L55.4,119.3L55.6,119.8L55.0,123.4L54.8,123.1L54.0,122.9L52.7,122.8L51.1,122.7L49.1,122.7L47.0,122.7L45.0,122.7L43.0,122.6L41.4,122.4L40.2,122.2L39.4,121.8L39.2,121.3ZM38.0,128.2L38.3,128.5L39.0,128.7L40.3,128.8L42.0,128.9L43.9,129.0L46.0,129.0L48.1,129.2L50.0,129.3L51.7,129.6L52.9,129.9L53.6,130.3L53.8,130.9L53.2,134.4L53.0,134.2L52.2,134.0L50.9,133.8L49.3,133.7L47.3,133.6L45.2,133.5L43.1,133.4L41.2,133.3L39.6,133.0L38.3,132.7L37.6,132.3L37.4,131.8ZM36.1,138.9L36.3,139.2L37.1,139.4L38.4,139.6L40.0,139.7L42.0,139.8L44.1,139.9L46.1,140.0L48.1,140.2L49.7,140.4L50.9,140.7L51.7,141.2L51.9,141.7L51.2,145.3L51.0,145.0L50.2,144.8L49.0,144.6L47.3,144.5L45.3,144.4L43.3,144.4L41.2,144.2L39.2,144.1L37.6,143.8L36.4,143.5L35.6,143.0L35.4,142.5ZM34.1,149.5L34.3,149.8L35.1,150.0L36.3,150.2L38.0,150.4L39.9,150.5L42.0,150.7L44.1,150.9L46.0,151.1L47.6,151.4L48.9,151.8L49.6,152.3L49.8,152.8L48.9,156.4L48.7,156.1L48.0,155.8L46.7,155.6L45.1,155.5L43.1,155.3L41.0,155.1L39.0,154.9L37.1,154.7L35.4,154.4L34.2,154.0L33.5,153.6L33.3,153.1ZM31.7,160.1L31.7,160.3L32.0,160.4L32.4,160.6L33.0,160.7L33.7,160.8L34.6,160.9L35.5,161.0L36.6,161.1L37.8,161.2L38.9,161.3L40.1,161.4L41.3,161.6L40.3,166.0L39.2,165.9L38.0,165.8L36.8,165.7L35.6,165.5L34.6,165.4L33.6,165.2L32.7,165.0L32.0,164.8L31.5,164.5L31.1,164.2L30.9,163.9L30.9,163.6Z" fill="url(#hb8)" opacity="1.0"/><path d="M49.0,67.2L48.0,67.8L46.9,68.4L46.0,69.0L45.0,69.6L44.1,70.2L43.3,70.8L42.6,71.3L42.1,71.8L41.6,72.3L41.3,72.8L41.1,73.2L41.0,73.5L41.0,79.6L41.1,79.5L41.3,79.2L41.6,79.0L42.1,78.7L42.6,78.3L43.3,77.9L44.1,77.5L45.0,77.0L45.9,76.5L46.9,75.9L47.9,75.4L49.0,74.8ZM57.0,73.4L56.7,73.7L55.9,74.3L54.7,75.0L53.0,76.0L51.1,77.0L49.0,78.2L47.0,79.4L45.0,80.6L43.4,81.8L42.1,82.9L41.3,83.8L41.1,84.5L41.1,90.6L41.3,90.3L42.2,89.7L43.4,89.0L45.1,88.0L47.0,87.0L49.1,85.8L51.1,84.6L53.0,83.4L54.7,82.2L56.0,81.1L56.8,80.2L57.0,79.4ZM57.1,84.4L56.8,84.8L56.0,85.4L54.7,86.1L53.1,87.0L51.1,88.1L49.1,89.2L47.0,90.4L45.1,91.6L43.4,92.7L42.1,93.8L41.3,94.7L41.0,95.4L40.9,101.5L41.2,101.1L42.1,100.6L43.3,99.9L45.0,99.0L46.9,97.9L49.0,96.8L51.1,95.6L53.0,94.4L54.7,93.2L56.0,92.2L56.8,91.3L57.1,90.5ZM57.1,95.6L56.8,96.0L56.0,96.6L54.7,97.3L53.0,98.1L51.1,99.1L49.0,100.2L46.9,101.3L44.9,102.4L43.2,103.5L41.9,104.5L41.0,105.3L40.7,106.1L40.4,112.1L40.7,111.8L41.6,111.4L42.9,110.7L44.6,109.8L46.5,108.9L48.7,107.8L50.8,106.7L52.8,105.5L54.5,104.4L55.8,103.4L56.6,102.4L56.9,101.7ZM56.8,107.2L56.5,107.5L55.7,108.0L54.4,108.7L52.6,109.4L50.6,110.3L48.4,111.2L46.3,112.2L44.2,113.1L42.4,114.1L41.1,115.0L40.2,115.7L39.8,116.5L39.0,122.5L39.4,122.2L40.3,121.8L41.6,121.2L43.4,120.5L45.4,119.6L47.6,118.7L49.8,117.8L51.9,116.8L53.6,115.8L55.0,114.8L55.9,113.9L56.3,113.2ZM55.7,118.6L55.4,118.9L54.5,119.3L53.2,119.9L51.4,120.5L49.4,121.3L47.1,122.1L44.9,123.0L42.8,123.9L41.0,124.7L39.6,125.5L38.6,126.3L38.2,127.0L37.2,133.0L37.6,132.7L38.4,132.3L39.8,131.8L41.6,131.2L43.7,130.4L45.9,129.6L48.2,128.7L50.3,127.9L52.1,127.0L53.5,126.1L54.5,125.3L54.8,124.6ZM54.0,129.7L53.7,130.0L52.8,130.4L51.5,130.9L49.7,131.5L47.6,132.2L45.3,133.0L43.1,133.8L41.0,134.6L39.1,135.5L37.7,136.3L36.7,137.0L36.3,137.7L35.2,143.7L35.6,143.4L36.4,143.0L37.8,142.5L39.6,141.9L41.7,141.2L44.0,140.4L46.2,139.6L48.3,138.8L50.2,137.9L51.6,137.1L52.6,136.4L53.0,135.6ZM52.1,140.5L51.8,140.8L50.9,141.3L49.5,141.8L47.7,142.4L45.6,143.1L43.4,143.8L41.1,144.6L39.0,145.4L37.2,146.2L35.7,147.0L34.7,147.7L34.3,148.3L33.1,154.3L33.4,154.0L34.3,153.7L35.7,153.2L37.5,152.6L39.7,152.0L41.9,151.2L44.2,150.5L46.3,149.6L48.2,148.8L49.6,148.0L50.6,147.2L51.0,146.5ZM50.0,151.7L49.7,152.0L48.8,152.3L47.4,152.8L45.6,153.3L43.5,153.9L41.2,154.6L38.9,155.3L36.7,156.0L34.9,156.8L33.4,157.5L32.4,158.2L32.0,158.9L30.6,164.8L30.9,164.5L31.8,164.2L33.2,163.7L35.1,163.2L37.2,162.6L39.5,162.0L41.8,161.3L43.9,160.5L45.8,159.7L47.3,159.0L48.2,158.3L48.7,157.6Z" fill="url(#hf8)"/></g>
<defs><linearGradient id="hf9" gradientUnits="userSpaceOnUse" x1="92.5" y1="128.0" x2="110.5" y2="124.0"><stop offset="0" stop-color="#575792"/><stop offset="0.35" stop-color="#8686e0"/><stop offset="0.62" stop-color="#b0b0eb"/><stop offset="1" stop-color="#8686e0"/></linearGradient><linearGradient id="hb9" gradientUnits="userSpaceOnUse" x1="92.5" y1="128.0" x2="110.5" y2="124.0"><stop offset="0" stop-color="#6a6ab1"/><stop offset="0.45" stop-color="#aaaae9"/><stop offset="1" stop-color="#d0d0f3"/></linearGradient></defs><g opacity="0.95"><path d="M91.0,115.5L91.3,115.7L92.1,115.6L93.4,115.2L94.9,114.7L96.8,114.0L98.7,113.3L100.7,112.6L102.5,112.0L104.1,111.6L105.4,111.4L106.2,111.5L106.6,111.9L107.4,115.3L107.1,115.1L106.3,115.2L105.0,115.5L103.5,116.1L101.6,116.8L99.7,117.5L97.7,118.2L95.9,118.8L94.3,119.2L93.0,119.4L92.1,119.3L91.8,118.8ZM93.4,126.2L93.7,126.4L94.5,126.3L95.8,125.9L97.3,125.4L99.2,124.7L101.1,124.0L103.1,123.3L104.9,122.7L106.5,122.3L107.8,122.1L108.7,122.3L109.0,122.7L109.8,126.0L109.4,125.9L108.6,125.9L107.4,126.3L105.8,126.8L104.0,127.5L102.0,128.2L100.1,128.9L98.2,129.5L96.6,129.9L95.4,130.1L94.5,130.0L94.2,129.6ZM95.7,136.9L96.1,137.1L96.8,137.0L98.1,136.6L99.7,136.1L101.5,135.5L103.5,134.7L105.4,134.1L107.3,133.5L108.9,133.1L110.2,132.9L111.0,133.0L111.4,133.5L112.1,136.8L111.8,136.6L111.0,136.7L109.7,137.1L108.2,137.6L106.3,138.3L104.4,139.0L102.4,139.6L100.5,140.2L98.9,140.6L97.7,140.8L96.8,140.7L96.5,140.3Z" fill="url(#hb9)" opacity="1.0"/><path d="M97.2,106.5L96.3,107.3L95.5,108.1L94.6,108.9L93.8,109.7L93.1,110.5L92.5,111.2L91.9,111.9L91.5,112.5L91.1,113.1L90.9,113.6L90.8,114.0L90.8,114.3L92.0,120.0L92.1,119.8L92.2,119.6L92.5,119.2L92.9,118.8L93.4,118.4L93.9,117.8L94.6,117.2L95.4,116.6L96.2,115.8L97.0,115.1L97.9,114.3L98.8,113.5ZM106.4,110.8L106.2,111.2L105.5,111.9L104.5,112.9L103.0,114.2L101.4,115.6L99.6,117.2L97.9,118.9L96.2,120.4L94.9,121.9L93.9,123.2L93.3,124.3L93.2,125.1L94.4,130.7L94.6,130.3L95.3,129.6L96.3,128.5L97.8,127.3L99.4,125.8L101.2,124.3L102.9,122.6L104.6,121.0L105.9,119.5L106.9,118.2L107.5,117.2L107.6,116.4ZM108.8,121.5L108.6,122.0L107.9,122.7L106.9,123.7L105.4,124.9L103.8,126.4L102.0,128.0L100.2,129.6L98.6,131.2L97.2,132.6L96.2,133.9L95.6,135.0L95.5,135.8L96.7,141.4L96.9,141.0L97.6,140.3L98.6,139.3L100.1,138.0L101.7,136.6L103.5,135.0L105.3,133.4L106.9,131.8L108.3,130.3L109.3,129.0L109.9,128.0L110.0,127.2ZM111.1,132.3L111.1,132.5L111.0,132.7L110.7,133.0L110.4,133.3L110.0,133.7L109.5,134.2L108.9,134.7L108.3,135.2L107.6,135.9L106.8,136.5L106.1,137.2L105.3,137.9L106.8,144.9L107.6,144.2L108.3,143.4L109.1,142.7L109.7,142.0L110.4,141.4L110.9,140.7L111.4,140.1L111.8,139.6L112.0,139.1L112.2,138.7L112.3,138.3L112.3,138.0Z" fill="url(#hf9)"/></g>
<defs><linearGradient id="hf10" gradientUnits="userSpaceOnUse" x1="85.9" y1="93.0" x2="104.1" y2="90.0"><stop offset="0" stop-color="#41418a"/><stop offset="0.35" stop-color="#6464d4"/><stop offset="0.62" stop-color="#9a9ae3"/><stop offset="1" stop-color="#6464d4"/></linearGradient><linearGradient id="hb10" gradientUnits="userSpaceOnUse" x1="85.9" y1="93.0" x2="104.1" y2="90.0"><stop offset="0" stop-color="#4f4fa7"/><stop offset="0.45" stop-color="#9292e1"/><stop offset="1" stop-color="#c3c3ee"/></linearGradient></defs><g opacity="1.0"><path d="M84.4,76.2L84.7,76.4L85.5,76.3L86.7,76.0L88.3,75.5L90.1,74.8L92.1,74.2L94.1,73.5L96.0,73.0L97.6,72.6L98.8,72.5L99.7,72.6L100.1,73.0L100.8,76.6L100.4,76.4L99.6,76.5L98.4,76.8L96.8,77.3L95.0,78.0L93.0,78.6L91.0,79.3L89.2,79.8L87.5,80.2L86.3,80.3L85.4,80.2L85.1,79.8ZM86.5,86.9L86.8,87.1L87.6,87.0L88.8,86.7L90.4,86.2L92.2,85.6L94.2,85.0L96.2,84.3L98.1,83.8L99.7,83.5L101.0,83.4L101.8,83.5L102.2,84.0L102.8,87.5L102.5,87.3L101.7,87.4L100.5,87.7L98.9,88.2L97.0,88.8L95.1,89.4L93.1,90.1L91.2,90.6L89.6,90.9L88.3,91.1L87.5,91.0L87.1,90.5ZM88.3,97.5L88.6,97.7L89.4,97.7L90.6,97.4L92.3,96.9L94.1,96.4L96.1,95.8L98.1,95.2L100.0,94.8L101.7,94.5L102.9,94.4L103.8,94.6L104.1,95.0L104.6,98.6L104.3,98.4L103.5,98.5L102.3,98.7L100.7,99.2L98.8,99.7L96.8,100.3L94.8,100.9L92.9,101.3L91.3,101.6L90.0,101.7L89.2,101.6L88.9,101.1ZM89.9,108.3L90.2,108.5L91.0,108.5L92.2,108.2L93.9,107.8L95.7,107.2L97.7,106.7L99.7,106.1L101.6,105.7L103.3,105.4L104.5,105.3L105.4,105.5L105.7,105.9L106.2,109.5L105.9,109.3L105.1,109.4L103.9,109.6L102.3,110.1L100.4,110.6L98.4,111.2L96.4,111.7L94.5,112.2L92.8,112.5L91.6,112.5L90.7,112.4L90.4,111.9Z" fill="url(#hb10)" opacity="1.0"/><path d="M90.8,67.3L89.9,68.1L89.0,68.8L88.1,69.6L87.3,70.4L86.6,71.2L85.9,71.9L85.3,72.5L84.9,73.2L84.5,73.7L84.3,74.2L84.1,74.6L84.1,75.0L85.3,81.0L85.3,80.8L85.5,80.6L85.8,80.3L86.2,79.9L86.7,79.4L87.3,78.9L88.0,78.3L88.7,77.7L89.5,77.0L90.4,76.3L91.3,75.5L92.2,74.7ZM99.8,71.8L99.6,72.2L98.9,72.9L97.8,73.9L96.4,75.1L94.7,76.5L92.9,78.1L91.1,79.6L89.4,81.2L88.0,82.6L87.0,83.9L86.4,85.0L86.2,85.8L87.4,91.7L87.6,91.3L88.3,90.6L89.4,89.7L90.8,88.5L92.5,87.1L94.3,85.5L96.1,83.9L97.8,82.4L99.2,80.9L100.3,79.6L100.9,78.6L101.0,77.8ZM102.0,82.8L101.8,83.2L101.1,83.8L100.0,84.8L98.5,86.0L96.8,87.4L95.0,88.9L93.1,90.4L91.4,91.9L90.0,93.3L88.9,94.5L88.3,95.6L88.1,96.3L89.1,102.3L89.3,102.0L90.0,101.3L91.1,100.4L92.6,99.2L94.4,97.8L96.2,96.4L98.1,94.8L99.8,93.3L101.2,91.9L102.3,90.6L102.9,89.5L103.1,88.7ZM103.9,93.8L103.7,94.2L103.0,94.9L101.9,95.8L100.4,97.0L98.6,98.3L96.7,99.7L94.9,101.2L93.1,102.7L91.6,104.1L90.5,105.3L89.9,106.3L89.7,107.1L90.6,113.1L90.8,112.7L91.5,112.1L92.7,111.2L94.2,110.0L95.9,108.7L97.8,107.2L99.7,105.8L101.4,104.3L102.9,102.9L104.0,101.6L104.7,100.6L104.8,99.8ZM105.5,104.7L105.5,104.7L105.5,104.7L105.5,104.8L105.5,104.8L105.5,104.8L105.5,104.8L105.5,104.8L105.5,104.9L105.4,104.9L105.4,104.9L105.4,105.0L105.4,105.0L106.3,111.3L106.3,111.2L106.4,111.2L106.4,111.1L106.4,111.1L106.4,111.0L106.4,111.0L106.4,110.9L106.4,110.9L106.4,110.8L106.4,110.8L106.4,110.8L106.4,110.7Z" fill="url(#hf10)"/></g>
<path d="M51.3,20.0L51.3,20.2L51.4,20.3L51.5,20.5L51.6,20.8L51.7,21.0L51.8,21.3L52.0,21.5L52.1,21.8L52.2,22.1L52.4,22.4L52.5,22.8L52.6,23.1L52.7,23.4L52.8,23.7L52.8,24.1L52.9,24.4L52.9,24.7L52.8,25.0L52.8,25.3L52.7,25.6L52.6,25.9L52.4,26.2L52.2,26.4L52.0,26.7L51.7,27.0L51.5,27.3L51.2,27.5L50.9,27.8L50.5,28.1L50.2,28.4L49.9,28.6L49.5,28.9L49.2,29.2L48.8,29.5L48.5,29.8L48.2,30.1L47.8,30.4L47.5,30.7L47.3,31.0L47.0,31.3L46.8,31.6L46.5,31.9L46.3,32.3L46.0,32.6L45.8,32.9L45.5,33.2L45.3,33.5L45.0,33.9L44.8,34.2L44.6,34.5L44.4,34.9L44.2,35.2L44.0,35.6L43.8,35.9L43.6,36.3L43.4,36.7L43.2,37.1L43.1,37.5L42.9,37.9L42.8,38.3L42.7,38.7L42.6,39.2L42.5,39.7L42.4,40.2L42.3,40.7L42.2,41.2L42.2,41.7L42.1,42.3L42.1,42.8L42.1,43.3L42.0,43.9L42.0,44.4L42.0,44.9L42.0,45.5L42.0,46.0L42.0,46.4L42.0,46.9L42.0,47.4L42.1,47.8L42.1,48.2L42.1,48.6L42.2,48.9L42.3,49.3L42.3,49.6L42.4,49.9L42.5,50.2L42.6,50.5L42.8,50.8L42.9,51.1L43.0,51.4L43.1,51.6L43.2,51.9L43.4,52.1L43.5,52.4L43.6,52.6L43.8,52.8L43.9,53.1L44.0,53.3L44.1,53.6L44.2,53.8L44.3,54.0L44.4,54.3L44.5,54.5L44.6,54.8L44.7,55.0L44.8,55.3L44.9,55.5L45.0,55.8L45.1,56.0L45.2,56.2L45.3,56.5L45.4,56.7L45.5,56.9L45.6,57.1L45.7,57.3L45.8,57.5L45.8,57.6L45.9,57.8L46.0,57.9L46.0,58.0" stroke="#a9a9ec" stroke-width="1.1" fill="none" opacity="1.0" stroke-linecap="round" stroke-linejoin="round"/>
<path d="M42.8,38.3L43.0,38.6L43.3,38.9L43.6,39.3L43.9,39.7L44.3,40.2L44.7,40.7L45.1,41.2L45.5,41.7L46.0,42.3L46.4,42.9L46.9,43.4L47.4,44.0L47.9,44.6L48.4,45.2L48.9,45.7L49.4,46.3L49.9,46.8L50.4,47.3L50.8,47.8L51.3,48.2L51.8,48.6L52.3,49.0L52.8,49.4L53.3,49.8L53.8,50.2L54.3,50.6L54.9,50.9L55.4,51.3L56.0,51.7L56.5,52.0L57.0,52.3L57.6,52.7L58.1,53.0L58.6,53.2L59.1,53.5L59.5,53.7L60.0,54.0L60.4,54.2L60.8,54.3L61.1,54.5L61.4,54.6L61.7,54.7L62.0,54.8L62.3,54.8L62.5,54.8L62.7,54.8L62.9,54.7L63.1,54.7L63.3,54.6L63.5,54.5L63.6,54.5L63.8,54.4L63.9,54.3L64.0,54.2L64.1,54.1L64.2,54.0L64.3,53.9L64.4,53.9L64.5,53.8L64.6,53.8" stroke="#c9c9f4" stroke-width="1.1" fill="none" opacity="1.0" stroke-linecap="round" stroke-linejoin="round"/>
<path d="M55.0,53.0L55.2,53.1L55.4,53.1L55.7,53.2L56.0,53.3L56.3,53.4L56.7,53.6L57.1,53.7L57.5,53.8L57.9,54.0L58.3,54.1L58.7,54.2L59.1,54.4L59.5,54.5L59.9,54.6L60.3,54.7L60.7,54.8L61.1,54.9L61.4,54.9L61.7,55.0L62.0,55.0L62.3,55.0L62.5,55.0L62.8,54.9L63.0,54.9L63.2,54.8L63.4,54.7L63.7,54.6L63.9,54.5L64.1,54.3L64.2,54.2L64.4,54.1L64.6,54.0L64.7,53.8L64.9,53.7L65.0,53.6L65.2,53.5L65.3,53.4L65.4,53.3L65.5,53.3L65.6,53.2" stroke="#c4c4f0" stroke-width="1.0" fill="none" opacity="1.0" stroke-linecap="round" stroke-linejoin="round"/>
<path d="M64.4,51.5L64.4,51.4L64.4,51.2L64.3,51.1L64.3,50.9L64.2,50.7L64.2,50.4L64.1,50.2L64.1,50.0L64.0,49.7L64.0,49.5L63.9,49.2L63.9,48.9L63.8,48.7L63.8,48.4L63.8,48.2L63.8,47.9L63.7,47.7L63.7,47.4L63.8,47.2L63.8,47.0L63.8,46.8L63.9,46.6L64.0,46.4L64.0,46.2L64.1,46.0L64.2,45.8L64.3,45.6L64.3,45.4L64.4,45.2L64.5,45.1L64.7,44.9L64.8,44.7L64.9,44.5L65.0,44.4L65.2,44.2L65.3,44.0L65.5,43.9L65.7,43.8L65.8,43.6L66.0,43.5L66.2,43.4L66.4,43.3L66.6,43.2L66.8,43.0L67.1,42.9L67.3,42.9L67.5,42.8L67.8,42.7L68.1,42.6L68.3,42.5L68.6,42.5L68.9,42.4L69.1,42.3L69.4,42.3L69.7,42.3L70.0,42.2L70.2,42.2L70.5,42.2L70.7,42.2L71.0,42.2L71.3,42.2L71.5,42.2L71.8,42.3L72.1,42.3L72.3,42.4L72.6,42.5L72.9,42.5L73.2,42.6L73.5,42.7L73.8,42.8L74.0,42.9L74.3,43.0L74.5,43.1L74.8,43.2L75.0,43.4L75.3,43.5L75.5,43.6L75.7,43.7L75.8,43.9L76.0,44.0L76.1,44.1L76.3,44.3L76.4,44.4L76.5,44.6L76.6,44.8L76.7,45.0L76.8,45.1L76.9,45.3L76.9,45.5L77.0,45.7L77.0,45.9L77.1,46.1L77.1,46.3L77.1,46.5L77.1,46.7L77.1,46.8L77.1,47.0L77.1,47.2L77.0,47.3L77.0,47.5L76.9,47.7L76.9,47.8L76.8,48.0L76.7,48.1L76.6,48.3L76.4,48.4L76.3,48.6L76.1,48.8L76.0,48.9L75.8,49.1L75.6,49.2L75.5,49.3L75.3,49.5L75.1,49.6L74.9,49.7L74.7,49.8L74.5,49.9L74.4,49.9L74.2,50.0L74.0,50.0L73.8,50.0L73.6,50.0L73.4,50.0L73.2,50.0L73.0,50.0L72.8,49.9L72.6,49.9L72.4,49.8L72.1,49.7L71.9,49.7L71.7,49.6L71.5,49.5L71.3,49.4L71.0,49.3L70.8,49.1L70.7,49.0L70.5,48.9L70.3,48.8L70.1,48.6L70.0,48.5L69.9,48.4L69.7,48.2L69.6,48.0L69.5,47.9L69.4,47.7L69.3,47.5L69.2,47.3L69.1,47.1L69.0,46.9L68.9,46.7L68.9,46.5L68.8,46.3L68.7,46.1L68.7,45.9L68.6,45.6L68.6,45.4L68.6,45.2L68.5,45.0L68.5,44.7L68.5,44.5L68.5,44.3L68.5,44.0L68.5,43.8L68.5,43.6L68.5,43.3L68.6,43.1L68.6,42.8L68.6,42.5L68.7,42.3L68.7,42.0L68.8,41.8L68.8,41.5L68.9,41.3L69.0,41.0L69.1,40.7L69.1,40.5L69.2,40.2L69.3,40.0L69.4,39.7L69.5,39.5L69.6,39.3L69.7,39.0L69.8,38.8L70.0,38.5L70.1,38.3L70.2,38.1L70.4,37.8L70.5,37.6L70.7,37.3L70.8,37.1L71.0,36.9L71.1,36.6L71.3,36.4L71.5,36.2L71.6,36.0L71.8,35.8L72.0,35.6L72.2,35.4L72.3,35.2L72.5,35.0L72.7,34.8L72.9,34.6L73.1,34.5L73.3,34.3L73.5,34.1L73.7,34.0L73.9,33.8L74.1,33.6L74.4,33.5L74.6,33.3L74.8,33.2L75.0,33.1L75.2,33.0L75.4,32.9L75.6,32.8L75.8,32.7L76.0,32.6L76.2,32.6L76.4,32.5L76.5,32.5L76.6,32.5L76.8,32.5L76.9,32.5L77.0,32.6L77.2,32.6L77.3,32.7L77.4,32.8L77.5,32.9L77.6,33.0L77.7,33.1L77.8,33.2L77.8,33.3L77.9,33.5L78.0,33.6L78.0,33.8L78.1,33.9L78.1,34.0L78.2,34.2L78.2,34.3L78.2,34.5L78.2,34.7L78.2,34.8L78.2,35.0L78.2,35.2L78.2,35.4L78.1,35.6L78.1,35.8L78.0,36.0L78.0,36.2L77.9,36.4L77.9,36.6L77.8,36.8L77.7,37.0L77.6,37.2L77.5,37.5L77.4,37.7L77.3,37.9L77.2,38.1L77.1,38.3L77.0,38.5L76.9,38.7L76.7,38.9L76.6,39.1L76.4,39.3L76.2,39.5L76.1,39.7L75.9,39.9L75.7,40.1L75.5,40.3L75.3,40.5L75.1,40.7L74.9,40.9L74.7,41.1L74.5,41.3L74.3,41.5L74.1,41.7L73.9,41.9L73.8,42.1L73.6,42.3L73.5,42.5L73.4,42.7L73.2,42.9L73.1,43.1L73.0,43.3L72.9,43.5L72.8,43.7L72.6,43.9L72.5,44.1L72.4,44.3L72.3,44.5L72.3,44.7L72.2,44.9L72.1,45.1L72.1,45.3L72.0,45.5L72.0,45.7L72.0,45.9L72.0,46.1L72.0,46.3L72.0,46.5L72.0,46.7L72.1,46.9L72.2,47.1L72.3,47.3L72.4,47.6L72.5,47.8L72.6,48.0L72.8,48.3L72.9,48.5L73.1,48.7L73.3,48.9L73.5,49.1L73.6,49.3L73.8,49.5L74.0,49.7L74.2,49.8L74.4,49.9L74.6,50.1L74.8,50.1L75.0,50.2L75.2,50.2L75.4,50.2L75.6,50.2L75.9,50.1L76.1,50.1L76.3,50.0L76.6,49.8L76.8,49.7L77.1,49.6L77.4,49.4L77.6,49.3L77.9,49.1L78.1,49.0L78.4,48.9L78.6,48.8L78.8,48.7L79.1,48.6L79.3,48.5L79.5,48.5L79.7,48.5L79.9,48.5L80.1,48.6L80.3,48.6L80.5,48.7L80.6,48.8L80.8,48.9L81.0,49.0L81.2,49.1L81.4,49.2L81.5,49.4L81.7,49.5L81.8,49.6L82.0,49.8L82.1,50.0L82.2,50.1L82.3,50.3L82.4,50.5L82.5,50.6L82.5,50.8L82.6,51.0L82.6,51.2L82.6,51.4L82.6,51.6L82.6,51.8L82.6,52.0L82.5,52.3L82.5,52.5L82.4,52.7L82.3,53.0L82.2,53.2L82.1,53.5L82.0,53.7L81.9,54.0L81.8,54.2L81.7,54.5L81.7,54.7L81.6,54.9L81.5,55.2L81.4,55.4L81.4,55.6L81.4,55.8L81.3,56.0L81.3,56.2L81.2,56.4L81.1,56.6L81.1,56.8L81.0,57.0L81.0,57.2L80.9,57.4L80.9,57.5L80.9,57.7L80.8,57.9L80.8,58.1L80.8,58.2L80.8,58.4L80.8,58.5L80.8,58.7L80.8,58.8L80.8,59.0L80.9,59.1L81.0,59.2L81.0,59.3L81.1,59.5L81.1,59.6L81.2,59.7L81.3,59.8L81.4,59.9L81.5,60.0L81.6,60.0L81.7,60.1L81.8,60.2L82.0,60.3L82.1,60.4L82.3,60.4L82.5,60.5L82.7,60.6L82.9,60.6L83.2,60.7L83.5,60.7L83.8,60.8L84.2,60.8L84.6,60.9L85.1,60.9L85.6,60.9L86.1,60.9L86.7,60.9L87.4,60.9L88.0,60.9L88.6,60.9L89.3,60.9L89.9,60.9L90.5,60.9L91.1,60.9L91.7,61.0L92.2,61.0L92.6,61.0L93.0,61.1L93.4,61.2L93.6,61.3L93.8,61.4L93.9,61.5L93.9,61.7L93.9,61.9L93.8,62.1L93.7,62.3L93.5,62.5L93.2,62.7L93.0,62.9L92.7,63.2L92.4,63.4L92.0,63.7L91.7,63.9L91.3,64.2L91.0,64.5L90.6,64.7L90.3,65.0L89.9,65.3L89.6,65.6L89.4,65.8L89.1,66.1L88.9,66.4L88.6,66.7L88.3,67.0L88.0,67.3L87.7,67.6L87.5,67.9L87.2,68.2L86.9,68.6L86.6,68.9L86.3,69.2L86.0,69.6L85.7,69.9L85.5,70.2L85.3,70.5L85.0,70.8L84.9,71.1L84.7,71.3L84.6,71.6L84.5,71.8L84.4,72.0L84.4,72.2L84.4,72.4L84.5,72.5L84.5,72.7L84.7,72.8L84.8,72.9L85.0,73.0L85.2,73.1L85.3,73.2L85.6,73.3L85.8,73.3L86.0,73.4L86.2,73.5L86.4,73.5L86.6,73.6L86.8,73.6L86.9,73.7L87.1,73.7L87.2,73.8L87.3,73.8" stroke="#5f5fd0" stroke-width="1.2" fill="none" opacity="1.0" stroke-linecap="round" stroke-linejoin="round"/>
<path d="M90.7,25.0L90.9,25.1L91.2,25.2L91.6,25.3L92.0,25.4L92.4,25.5L92.8,25.6L93.3,25.8L93.8,25.9L94.3,26.1L94.9,26.2L95.4,26.4L95.9,26.6L96.4,26.8L96.9,27.0L97.4,27.2L97.8,27.4L98.2,27.7L98.6,27.9L98.9,28.2L99.2,28.5L99.4,28.8L99.6,29.2L99.8,29.5L99.9,29.9L100.0,30.3L100.0,30.7L100.0,31.2L100.1,31.6L100.1,32.1L100.1,32.5L100.1,33.0L100.1,33.5L100.1,33.9L100.1,34.4L100.1,34.9L100.2,35.3L100.2,35.8L100.3,36.2L100.4,36.6L100.6,37.0L100.8,37.4L101.0,37.8L101.2,38.1L101.5,38.5L101.8,38.9L102.0,39.2L102.3,39.6L102.6,39.9L103.0,40.3L103.3,40.6L103.6,40.9L103.9,41.3L104.2,41.6L104.5,41.9L104.8,42.3L105.1,42.6L105.4,43.0L105.7,43.3L106.0,43.7L106.2,44.0L106.4,44.4L106.7,44.7L106.9,45.1L107.1,45.4L107.3,45.8L107.5,46.2L107.7,46.6L108.0,46.9L108.2,47.3L108.3,47.7L108.5,48.0L108.7,48.4L108.9,48.8L109.0,49.1L109.2,49.4L109.3,49.8L109.4,50.1L109.5,50.4L109.6,50.7L109.7,51.0L109.8,51.3L109.8,51.5L109.9,51.8L109.9,52.1L109.9,52.3L109.9,52.5L109.9,52.8L109.9,53.0L109.9,53.2L109.8,53.4L109.8,53.6L109.7,53.8L109.7,54.0L109.6,54.2L109.5,54.4L109.4,54.5L109.3,54.7L109.2,54.9L109.1,55.0L109.0,55.2L108.9,55.4L108.7,55.5L108.5,55.6L108.3,55.8L108.1,55.9L107.9,56.1L107.6,56.2L107.4,56.3L107.1,56.4L106.9,56.5L106.6,56.6L106.3,56.7L106.1,56.8L105.9,56.9L105.6,57.0L105.4,57.0L105.2,57.1L105.1,57.2L104.9,57.2L104.8,57.3" stroke="#8080dc" stroke-width="1.2" fill="none" opacity="1.0" stroke-linecap="round" stroke-linejoin="round"/>
<path d="M36.0,165.0L36.2,165.1L36.3,165.2L36.6,165.4L36.8,165.5L37.0,165.7L37.3,165.9L37.6,166.1L37.9,166.3L38.2,166.5L38.5,166.8L38.8,167.0L39.2,167.2L39.5,167.4L39.9,167.7L40.2,167.9L40.6,168.1L40.9,168.4L41.3,168.6L41.6,168.8L42.0,169.0L42.4,169.2L42.7,169.4L43.1,169.6L43.4,169.8L43.8,170.0L44.2,170.3L44.6,170.5L45.0,170.7L45.4,170.9L45.8,171.1L46.2,171.3L46.6,171.5L47.0,171.7L47.4,171.9L47.8,172.1L48.2,172.3L48.7,172.5L49.1,172.7L49.6,172.8L50.0,173.0L50.5,173.1L50.9,173.3L51.4,173.4L51.9,173.5L52.4,173.6L52.9,173.7L53.4,173.8L54.0,173.9L54.5,174.0L55.0,174.1L55.5,174.2L56.0,174.3L56.6,174.4L57.1,174.5L57.6,174.5L58.1,174.6L58.6,174.7L59.1,174.8L59.5,174.9L60.0,175.0L60.5,175.1L60.9,175.2L61.4,175.3L61.8,175.4L62.3,175.4L62.7,175.5L63.1,175.6L63.6,175.7L64.0,175.7L64.4,175.8L64.9,175.9L65.3,176.0L65.6,176.1L66.0,176.2L66.4,176.3L66.8,176.4L67.1,176.5L67.4,176.7L67.7,176.8L68.0,177.0L68.3,177.2L68.5,177.4L68.7,177.6L69.0,177.8L69.1,178.0L69.3,178.2L69.5,178.5L69.7,178.7L69.8,179.0L69.9,179.2L70.1,179.5L70.2,179.8L70.3,180.1L70.4,180.3L70.5,180.6L70.6,180.9L70.7,181.2L70.8,181.4L70.9,181.7L71.0,182.0L71.1,182.3L71.1,182.6L71.2,182.9L71.2,183.2L71.2,183.5L71.2,183.8L71.2,184.1L71.2,184.5L71.2,184.8L71.2,185.1L71.2,185.4L71.2,185.8L71.2,186.1L71.2,186.4L71.3,186.7L71.4,187.0L71.5,187.3L71.6,187.5L71.8,187.8L72.0,188.0L72.2,188.2L72.5,188.4L72.9,188.6L73.2,188.7L73.6,188.9L74.0,189.0L74.5,189.2L74.9,189.3L75.4,189.4L75.9,189.5L76.4,189.6L76.8,189.7L77.3,189.8L77.7,190.0L78.2,190.1L78.6,190.3L79.0,190.4L79.4,190.6L79.7,190.8L80.0,191.0L80.3,191.3L80.5,191.6L80.7,191.9L80.9,192.3L81.1,192.7L81.2,193.1L81.4,193.5L81.5,194.0L81.6,194.4L81.8,194.8L81.9,195.2L82.0,195.6L82.1,196.0L82.2,196.3L82.3,196.6L82.4,196.8L82.5,196.9L82.7,197.0L82.8,197.1L83.0,197.0L83.2,196.9L83.3,196.6L83.5,196.3L83.7,195.9L83.9,195.5L84.0,195.0L84.2,194.4L84.4,193.9L84.6,193.3L84.8,192.6L84.9,192.0L85.1,191.3L85.3,190.7L85.5,190.1L85.8,189.5L86.0,188.9L86.2,188.3L86.5,187.8L86.7,187.4L87.0,187.0L87.3,186.7L87.6,186.4L87.9,186.1L88.2,185.8L88.6,185.6L88.9,185.3L89.3,185.1L89.6,184.9L90.0,184.7L90.4,184.6L90.8,184.4L91.1,184.2L91.5,184.1L91.9,183.9L92.2,183.8L92.6,183.6L93.0,183.5L93.3,183.3L93.7,183.2L94.0,183.0L94.3,182.8L94.7,182.6L95.0,182.5L95.4,182.3L95.7,182.1L96.1,181.9L96.4,181.8L96.8,181.6L97.1,181.4L97.4,181.2L97.8,181.1L98.1,180.9L98.4,180.8L98.7,180.6L98.9,180.5L99.2,180.4L99.4,180.3L99.6,180.2L99.8,180.1L100.0,180.0" stroke="#5b5bd0" stroke-width="1.2" fill="none" opacity="1.0" stroke-linecap="round" stroke-linejoin="round"/>
<path d="M24.0,150.0L23.9,150.4L23.7,150.8L23.4,151.2L23.2,151.7L22.9,152.3L22.6,152.9L22.3,153.5L22.0,154.2L21.6,154.9L21.3,155.6L21.0,156.3L20.7,157.0L20.4,157.8L20.1,158.5L19.8,159.3L19.6,160.1L19.4,160.8L19.2,161.6L19.1,162.3L19.0,163.0L19.0,163.7L18.9,164.5L18.9,165.2L19.0,166.0L19.0,166.8L19.1,167.6L19.2,168.4L19.3,169.2L19.4,170.0L19.6,170.8L19.7,171.6L19.9,172.4L20.1,173.2L20.3,174.0L20.6,174.7L20.8,175.4L21.1,176.1L21.4,176.8L21.7,177.4L22.0,178.0L22.4,178.6L22.8,179.1L23.2,179.7L23.7,180.2L24.2,180.7L24.8,181.2L25.4,181.6L26.0,182.1L26.6,182.5L27.2,182.9L27.8,183.3L28.4,183.7L29.0,184.1L29.5,184.4L30.0,184.7L30.5,185.0L31.0,185.3L31.4,185.6L31.7,185.8L32.0,186.0" stroke="#dedef6" stroke-width="1.0" fill="none" opacity="1.0" stroke-linecap="round" stroke-linejoin="round"/>
<path d="M40.0,168.0L39.9,168.2L39.7,168.5L39.5,168.8L39.3,169.1L39.0,169.4L38.8,169.8L38.5,170.2L38.2,170.6L37.9,171.1L37.6,171.5L37.3,172.0L37.0,172.4L36.7,172.9L36.4,173.3L36.2,173.8L35.9,174.3L35.6,174.7L35.4,175.2L35.2,175.6L35.0,176.0L34.8,176.4L34.7,176.8L34.5,177.3L34.4,177.7L34.2,178.2L34.1,178.7L34.0,179.1L33.9,179.6L33.8,180.0L33.7,180.5L33.6,180.9L33.5,181.4L33.4,181.8L33.4,182.2L33.3,182.6L33.2,182.9L33.2,183.2L33.1,183.5L33.1,183.8L33.0,184.0" stroke="#c8c8f0" stroke-width="1.0" fill="none" opacity="1.0" stroke-linecap="round" stroke-linejoin="round"/>
<path d="M74.0,64.0L74.2,63.9L74.4,63.8L74.6,63.6L74.8,63.5L75.1,63.3L75.4,63.1L75.7,62.9L76.1,62.6L76.4,62.4L76.8,62.2L77.1,62.0L77.5,61.8L77.8,61.6L78.2,61.4L78.5,61.3L78.8,61.1L79.2,61.0L79.5,61.0L79.7,61.0L80.0,61.0L80.3,61.1L80.5,61.1L80.8,61.2L81.0,61.4L81.3,61.5L81.5,61.7L81.8,61.9L82.0,62.1L82.3,62.3L82.5,62.6L82.7,62.8L82.9,63.1L83.1,63.4L83.3,63.7L83.5,64.1L83.6,64.4L83.7,64.8L83.9,65.2L83.9,65.6L84.0,66.0L84.0,66.4L84.0,66.9L84.0,67.4L84.0,68.0L83.9,68.6L83.8,69.1L83.7,69.8L83.6,70.4L83.5,71.0L83.4,71.7L83.2,72.3L83.1,73.0L82.9,73.7L82.8,74.3L82.6,75.0L82.5,75.6L82.4,76.2L82.2,76.8L82.1,77.4L82.0,78.0L81.9,78.5L81.8,79.1L81.7,79.6L81.6,80.1L81.5,80.6L81.4,81.1L81.3,81.6L81.2,82.1L81.1,82.6L81.0,83.1L80.9,83.6L80.8,84.1L80.7,84.6L80.6,85.1L80.5,85.5L80.4,86.0L80.3,86.5L80.2,87.0L80.1,87.5L80.0,88.0L79.9,88.5L79.8,89.0L79.7,89.5L79.6,90.0L79.5,90.5L79.4,91.0L79.3,91.5L79.2,92.0L79.1,92.5L79.0,93.0L78.9,93.5L78.8,94.0L78.7,94.5L78.6,95.0L78.5,95.5L78.4,96.0L78.3,96.5L78.2,97.0L78.1,97.5L78.0,98.0L77.9,98.5L77.8,99.0L77.7,99.5L77.6,100.1L77.5,100.6L77.5,101.1L77.4,101.7L77.3,102.2L77.2,102.7L77.1,103.2L77.0,103.8L76.9,104.3L76.8,104.8L76.7,105.3L76.6,105.8L76.5,106.3L76.4,106.7L76.3,107.2L76.1,107.6L76.0,108.0L75.8,108.4L75.7,108.8L75.5,109.2L75.3,109.6L75.2,110.0L75.0,110.3L74.8,110.7L74.6,111.1L74.4,111.4L74.2,111.8L74.0,112.1L73.8,112.4L73.6,112.7L73.3,112.9L73.1,113.2L72.9,113.4L72.7,113.6L72.4,113.7L72.2,113.9L72.0,114.0L71.8,114.1L71.5,114.2L71.3,114.2L71.0,114.2L70.8,114.2L70.5,114.2L70.2,114.2L69.9,114.2L69.7,114.1L69.4,114.0L69.1,113.9L68.8,113.8L68.6,113.6L68.3,113.4L68.1,113.2L67.8,113.0L67.6,112.8L67.4,112.6L67.2,112.3L67.0,112.0L66.8,111.7L66.7,111.3L66.5,111.0L66.4,110.5L66.3,110.1L66.2,109.7L66.1,109.2L66.0,108.7L65.9,108.2L65.8,107.6L65.7,107.1L65.7,106.5L65.6,106.0L65.5,105.4L65.4,104.8L65.4,104.3L65.3,103.7L65.2,103.1L65.1,102.6L65.0,102.0L64.9,101.4L64.8,100.9L64.7,100.3L64.5,99.7L64.4,99.1L64.2,98.5L64.1,97.9L64.0,97.2L63.8,96.6L63.7,96.0L63.6,95.4L63.4,94.8L63.3,94.1L63.2,93.5L63.1,92.9L63.1,92.3L63.0,91.7L63.0,91.1L63.0,90.6L63.0,90.0L63.0,89.5L63.1,88.9L63.2,88.4L63.3,87.8L63.4,87.3L63.5,86.8L63.6,86.3L63.8,85.8L64.0,85.3L64.1,84.8L64.3,84.3L64.5,83.8L64.7,83.3L64.9,82.8L65.1,82.3L65.3,81.8L65.4,81.4L65.6,80.9L65.8,80.5L66.0,80.0L66.2,79.5L66.4,79.1L66.6,78.6L66.8,78.1L67.0,77.7L67.3,77.2L67.5,76.7L67.7,76.3L68.0,75.8L68.2,75.4L68.4,74.9L68.6,74.5L68.9,74.1L69.1,73.7L69.3,73.4L69.4,73.1L69.6,72.7L69.8,72.5L69.9,72.2L70.0,72.0Z" fill="#8ccfcb" opacity="0.4"/>
<path d="M75.1,64.9L76.7,63.7M70.6,101.0L71.4,102.8M66.1,107.4L65.9,107.8M76.7,83.8L75.0,83.0M74.7,100.8L73.8,102.3M73.9,110.0L73.7,111.4M71.9,94.1L70.7,94.0M75.4,79.9L73.8,80.4M75.4,77.3L74.8,78.4M70.7,105.4L70.4,105.2M73.1,80.8L72.8,79.7M69.2,84.0L69.4,81.7M72.8,72.6L70.5,72.1M79.2,87.2L77.0,87.3M77.7,84.8L77.0,87.3M70.2,76.7L68.4,76.6M79.0,79.1L77.1,79.2M78.2,64.5L80.2,61.8M71.8,98.8L70.6,101.0M71.5,107.6L70.1,107.0M78.2,93.6L78.4,91.9M71.7,88.5L73.3,88.7M80.2,84.8L78.6,85.4M73.2,74.9L72.9,74.6M78.3,66.7L78.2,64.5M75.7,99.5L75.3,97.6M65.8,99.7L66.2,101.0M65.8,97.0L64.5,95.7M76.9,98.7L75.3,97.6M68.1,76.3L68.4,76.6M82.2,68.1L80.9,69.0M71.7,107.2L71.5,107.6M73.9,110.0L72.7,109.0M70.9,99.1L72.9,97.4M71.4,105.4L71.9,103.9M72.8,67.2L73.8,67.6M69.3,112.2L70.0,110.9M71.8,110.8L73.7,111.4M71.4,102.8L71.9,103.9M67.3,88.8L67.4,90.5M69.8,108.5L70.2,108.3M77.1,76.8L78.8,78.7M81.3,69.0L82.2,68.1M81.0,83.1L80.2,84.8M72.7,109.0L71.8,110.8M73.2,74.9L75.4,74.7M76.4,70.3L75.9,72.2M77.4,81.0L76.0,81.0M81.2,66.9L81.7,66.8M63.9,89.5L65.9,89.4M69.1,101.6L68.1,102.8M71.7,88.5L70.0,89.8M72.8,72.6L71.8,71.5M80.9,69.5L83.0,69.3M78.6,91.0L78.2,93.6M78.2,64.5L78.8,66.7M81.7,66.8L82.9,66.7M70.7,83.9L70.9,86.3M74.7,89.9L75.5,90.7M75.0,83.0L75.3,84.8M68.2,107.2L70.1,107.0M75.4,79.9L74.8,78.4M78.8,66.7L78.1,67.6M75.5,64.0L75.1,64.9M77.7,83.7L77.7,84.8M71.9,74.0L72.8,72.6M76.1,105.7L74.6,104.5M64.6,86.0L63.7,87.7M68.1,89.2L67.4,90.5M73.1,90.5L73.9,88.7M68.2,107.2L67.5,109.1M67.4,93.9L67.0,91.5M81.0,83.1L80.8,82.1M71.4,105.4L70.4,105.2M72.8,79.7L73.8,80.4M78.4,67.9L78.3,66.7M65.8,97.0L64.6,99.4M80.9,69.5L82.2,68.1M73.4,112.6L73.7,111.4M67.0,91.5L66.7,91.3M73.2,101.2L74.7,100.8M78.6,91.0L78.4,91.9M65.8,99.7L64.6,99.4M63.9,89.5L64.9,91.5M78.4,67.9L78.1,67.6M72.7,109.0L74.9,108.0M82.2,68.1L82.9,66.7M73.1,93.1L74.8,92.3M78.6,85.4L77.0,87.3M73.9,88.7L73.3,88.7M67.5,100.7L67.3,101.4M70.2,83.8L69.2,83.7M76.1,105.7L74.9,108.0M69.4,81.7L69.2,83.7M71.7,104.3L71.4,102.8M72.4,82.8L72.8,83.4M78.8,78.7L77.1,79.2M75.4,77.3L77.6,75.4M75.4,74.7L75.9,72.2M70.9,99.1L68.9,99.1M70.9,99.1L70.6,101.0M70.0,110.9L67.4,110.7M72.7,109.0L71.5,107.6M78.2,96.5L76.6,98.5M76.0,94.3L74.8,92.3M76.5,93.5L76.0,94.3M73.9,88.7L71.7,88.5M80.9,74.7L82.5,74.7M75.3,97.6L76.6,98.5M75.7,82.1L77.4,81.0M74.9,108.0L74.7,109.3M71.9,94.1L73.2,93.4M71.9,103.9L73.2,102.7M72.3,70.4L73.9,70.3M68.3,85.5L69.5,85.0M73.2,93.4L73.1,93.1M77.6,97.2L76.6,98.5M81.3,69.0L80.9,69.5M76.7,83.8L77.7,84.8M68.4,97.5L67.5,99.2M67.3,88.8L65.7,87.1M70.3,103.7L70.4,105.2M66.1,107.4L67.3,106.5M70.9,99.1L71.8,98.8M70.3,103.7L71.4,102.8M69.0,90.6L70.5,91.9M70.7,83.9L72.8,83.4M69.0,104.2L70.4,105.2M64.1,94.1L64.8,94.1M65.9,107.8L67.5,109.1M77.4,81.0L77.1,79.2M81.7,66.8L82.2,68.1M74.5,67.7L75.1,64.9M73.1,80.8L72.4,82.8M70.9,86.3L71.7,88.5M71.9,94.1L71.9,93.5M73.9,110.0L74.7,109.3M68.9,91.8L70.5,91.9M78.2,61.9L76.7,63.7M74.7,89.9L73.1,90.5M67.3,106.5L68.2,107.2M75.7,82.1L75.0,83.0M67.1,80.5L67.9,78.6M66.1,103.3L68.1,102.8M68.3,85.5L68.1,84.1M80.2,84.8L80.8,82.1M77.1,76.8L77.6,75.4M70.9,86.3L69.5,85.0M74.1,70.5L73.8,72.0M74.5,67.7L73.8,67.6M81.0,83.1L79.2,83.9M73.1,90.5L73.3,88.7M72.4,76.6L74.6,77.2M71.8,110.8L73.5,112.3M79.0,79.1L77.4,81.0M69.4,81.7L71.4,80.5M73.9,86.2L75.3,84.8M71.8,71.5L70.5,72.1M73.2,101.2L73.2,102.7M65.7,87.1L63.7,87.7M75.4,79.9L76.0,81.0M69.3,112.2L67.4,110.7M74.3,71.3L73.8,72.0M67.1,80.5L68.1,84.1M71.9,74.0L72.9,74.6M78.4,67.9L78.8,66.7M68.1,76.3L67.9,78.6M79.3,71.1L78.5,71.1M78.3,66.7L78.1,67.6M64.5,95.7L65.0,95.7M79.2,83.9L78.4,84.5M69.4,112.9L69.8,114.0M66.4,106.7L66.0,105.8M83.2,63.6L80.2,61.8M76.4,69.5L78.1,67.6M81.3,69.0L80.9,69.0M67.3,106.5L66.4,106.7M64.5,95.7L64.8,94.1M76.9,98.7L76.6,98.5M73.5,112.3L73.7,111.4M71.4,80.5L72.8,79.7M65.7,87.1L64.6,86.0M67.4,93.9L66.0,94.5M80.9,74.7L77.6,75.4M75.2,92.5L75.5,90.7M74.3,71.3L75.9,72.2M70.2,76.7L71.7,77.9M70.7,94.0L71.9,93.5M69.8,108.5L70.1,107.0M78.2,64.5L76.7,63.7M75.2,92.5L74.8,92.3M70.7,83.9L70.2,83.8M78.2,61.9L78.2,64.5M68.6,102.8L68.1,102.8M69.2,84.0L68.3,85.5M77.1,76.8L75.4,77.3M75.5,64.0L76.7,63.7M70.0,110.9L69.4,112.9M73.9,110.0L74.9,108.0M66.1,103.3L67.3,101.4M67.3,101.4L68.1,102.8M83.5,65.7L81.7,65.7M79.2,87.2L78.6,85.4M76.7,83.8L77.7,83.7M70.2,76.7L70.9,76.3M76.4,69.5L76.4,70.3M83.2,63.6L82.9,66.7M70.2,76.7L68.1,76.3M75.4,77.3L74.6,77.2M69.2,84.0L70.7,83.9M72.4,76.6L71.7,77.9M73.4,112.6L73.5,112.3M64.6,86.0L64.6,83.6M70.9,99.1L69.2,97.8M66.1,107.4L66.4,106.7M72.8,72.6L73.8,72.0M65.7,103.8L66.0,105.8M65.9,89.4L67.4,90.5M77.8,91.6L78.6,91.0M74.6,77.2L74.8,78.4M79.0,79.1L78.8,78.7M79.2,83.9L80.8,82.1M78.1,67.6L76.3,68.8M74.5,67.7L72.8,67.2M66.4,106.7L65.9,107.8M68.4,97.5L68.9,99.1M71.8,71.5L71.7,70.5M81.2,66.9L82.2,68.1M77.7,83.7L79.2,83.9M73.9,86.2L73.9,88.7M80.2,84.8L79.2,83.9M75.2,92.5L76.5,93.5M78.2,96.5L76.9,98.7M69.2,84.0L69.5,85.0M70.7,94.0L70.5,91.9M77.1,76.8L77.1,79.2M75.5,64.0L78.2,64.5M74.9,83.9L75.3,84.8M69.0,90.6L70.0,89.8M73.4,112.6L71.8,110.8M73.1,80.8L71.4,80.5M81.7,65.7L81.7,66.8M65.7,103.8L66.1,103.3M78.6,85.4L78.4,84.5M68.1,89.2L70.0,89.8M80.3,72.6L78.5,71.1M74.3,71.3L74.1,70.5M69.2,84.0L70.2,83.8M74.2,72.4L73.8,72.0M78.3,66.7L78.8,66.7M74.0,105.4L74.6,104.5M67.5,99.2L67.5,100.7M69.3,112.2L69.4,112.9M67.5,99.2L65.8,99.7M68.6,102.8L69.0,104.2M67.0,91.5L67.4,90.5M68.7,92.8L68.9,91.8M67.5,99.2L68.9,99.1M64.1,94.1L65.0,95.7M68.9,91.8L69.0,90.6M72.3,70.4L71.9,68.4M80.2,84.8L79.2,87.2M68.4,106.3L67.3,106.5M71.9,93.5L73.1,93.1M73.8,102.3L73.2,102.7M69.8,108.5L71.5,107.6M74.2,72.4L75.9,72.2M79.3,71.1L80.9,69.5M69.2,84.0L68.1,84.1M65.0,95.7L66.0,94.5M69.1,101.6L68.6,102.8M71.5,107.6L70.2,108.3M66.0,94.5L64.8,94.1M77.8,91.6L78.4,91.9M70.7,83.9L72.4,82.8M78.2,96.5L77.6,97.2M76.4,70.3L78.5,71.1M67.3,88.8L68.1,89.2M70.0,110.9L71.8,110.8M76.4,69.5L76.3,68.8M75.7,99.5L74.9,100.9M65.8,97.0L66.0,94.5M74.2,72.4L72.8,72.6M68.1,84.1L69.2,83.7M75.7,82.1L76.0,81.0M74.9,83.9L76.7,83.8M74.7,89.9L73.9,88.7M67.0,91.5L64.9,91.5M77.7,84.8L78.4,84.5M81.3,69.0L83.0,69.3M74.0,105.4L72.8,106.7M70.7,105.4L71.4,105.4M68.4,106.3L70.1,107.0M69.5,85.0L69.2,83.7M71.7,107.2L72.8,106.7M75.7,99.5L76.9,98.7M73.2,74.9L72.4,76.6M76.7,83.8L75.3,84.8M75.2,92.5L76.0,94.3M83.5,65.7L82.9,66.7M75.7,99.5L76.6,98.5M67.4,93.9L68.7,92.8M67.5,100.7L66.2,101.0M74.1,70.5L73.9,70.3M67.3,88.8L65.9,89.4M65.7,87.1L64.6,83.6M66.2,101.0L67.3,101.4M74.5,67.7L76.3,68.8M68.7,92.8L70.5,91.9M67.1,80.5L69.4,81.7M72.1,68.3L73.8,67.6M70.5,91.9L70.0,89.8M70.7,83.9L69.2,83.7M67.3,106.5L66.0,105.8M73.9,86.2L73.3,88.7M70.0,110.9L69.8,114.0M70.7,105.4L71.7,104.3M74.3,71.3L73.9,70.3M83.0,69.3L82.2,68.1M72.7,109.0L74.7,109.3M81.2,66.9L81.7,65.7M71.9,94.1L73.1,93.1M68.4,106.3L68.2,107.2M70.2,108.3L70.1,107.0M76.1,105.7L74.0,105.4M65.8,97.0L65.0,95.7M68.4,97.5L69.2,97.8M73.1,80.8L73.8,80.4M73.1,90.5L72.3,91.5M68.1,84.1L64.6,83.6M83.5,65.7L81.7,66.8M71.7,104.3L71.9,103.9M68.9,99.1L69.2,97.8M74.9,83.9L75.0,83.0M70.9,76.3L72.4,76.6M73.2,101.2L74.9,100.9M71.8,98.8L72.9,97.4M80.3,72.6L82.5,74.7M66.7,91.3L67.4,90.5M78.6,85.4L77.7,84.8M80.9,74.7L80.3,72.6M71.9,68.4L72.8,67.2M76.9,98.7L77.6,97.2M72.3,70.4L71.8,71.5M81.7,65.7L82.9,66.7M72.8,72.6L72.9,74.6M80.9,69.5L80.9,69.0M73.2,93.4L71.9,93.5M66.1,107.4L66.0,105.8M64.5,95.7L64.1,94.1M83.5,65.7L83.2,63.6M71.5,107.6L72.8,106.7M73.2,101.2L73.8,102.3M76.5,93.5L78.2,93.6M70.9,76.3L71.7,77.9M79.3,71.1L80.3,72.6M75.5,90.7L74.8,92.3M72.3,70.4L71.7,70.5M71.7,107.2L70.1,107.0M67.3,106.5L65.9,107.8M77.8,91.6L78.2,93.6M65.7,103.8L68.1,102.8M74.6,104.5L73.2,102.7M71.7,70.5L70.5,72.1M69.1,101.6L70.6,101.0M64.6,99.4L66.2,101.0M70.3,103.7L69.0,104.2M69.2,84.0L69.2,83.7M75.4,74.7L77.6,75.4M66.7,91.3L64.9,91.5M73.2,74.9L71.9,74.0M74.9,83.9L72.8,83.4M69.3,112.2L69.8,114.0M67.9,78.6L68.4,76.6M78.6,85.4L79.2,83.9M68.1,89.2L69.0,90.6M72.1,68.3L72.8,67.2M78.2,61.9L80.2,61.8M72.3,91.5L70.5,91.9M75.7,82.1L76.7,83.8M72.3,91.5L73.1,93.1M77.7,83.7L78.4,84.5M67.4,110.7L67.5,109.1M74.7,100.8L74.9,100.9M63.7,87.7L63.9,89.5M69.4,81.7L70.2,83.8M75.3,97.6L72.9,97.4M72.1,68.3L71.9,68.4M74.2,72.4L74.3,71.3M81.7,65.7L83.2,63.6M71.7,104.3L71.4,105.4M76.4,70.3L76.3,68.8M67.0,91.5L68.9,91.8" stroke="#1a8f8f" stroke-width="0.6" fill="none" opacity="1.0"/>
<path d="M76.0,132.0L76.2,131.9L76.3,131.8L76.6,131.6L76.8,131.4L77.0,131.2L77.3,131.0L77.6,130.8L77.9,130.6L78.2,130.4L78.5,130.1L78.8,129.9L79.2,129.7L79.5,129.5L79.9,129.3L80.2,129.2L80.6,129.1L80.9,129.0L81.3,128.9L81.6,129.0L82.0,129.0L82.4,129.1L82.7,129.2L83.1,129.4L83.4,129.6L83.8,129.9L84.2,130.2L84.6,130.5L85.0,130.8L85.4,131.1L85.8,131.5L86.2,131.9L86.6,132.2L87.0,132.6L87.4,133.0L87.8,133.4L88.2,133.7L88.7,134.1L89.1,134.4L89.6,134.7L90.0,135.0L90.5,135.3L90.9,135.5L91.4,135.7L91.9,136.0L92.4,136.2L92.9,136.4L93.4,136.5L93.9,136.7L94.4,136.9L94.9,137.1L95.4,137.3L95.9,137.5L96.4,137.8L96.9,138.0L97.5,138.3L98.0,138.6L98.5,138.9L99.0,139.2L99.5,139.6L100.0,140.0L100.5,140.5L101.0,141.0L101.5,141.5L102.0,142.1L102.5,142.7L103.0,143.3L103.5,144.0L104.0,144.7L104.5,145.4L105.0,146.1L105.5,146.8L106.0,147.4L106.5,148.1L107.0,148.8L107.5,149.4L108.0,150.0L108.5,150.6L109.0,151.1L109.5,151.6L110.0,152.0L110.5,152.4L111.0,152.7L111.6,153.0L112.1,153.3L112.7,153.6L113.3,153.8L113.8,154.0L114.4,154.2L114.9,154.4L115.5,154.6L116.0,154.7L116.6,154.9L117.1,155.0L117.6,155.1L118.1,155.3L118.5,155.4L118.9,155.5L119.3,155.7L119.7,155.8L120.0,156.0L120.3,156.2L120.6,156.3L120.8,156.5L121.1,156.6L121.3,156.8L121.6,156.9L121.8,157.1L122.0,157.2L122.1,157.4L122.2,157.5L122.4,157.6L122.4,157.8L122.5,157.9L122.5,158.1L122.5,158.2L122.5,158.4L122.4,158.5L122.3,158.7L122.2,158.8L122.0,159.0L121.8,159.2L121.5,159.3L121.2,159.5L120.8,159.7L120.3,159.8L119.9,160.0L119.4,160.1L118.9,160.3L118.3,160.5L117.8,160.6L117.2,160.8L116.6,161.0L116.0,161.2L115.4,161.4L114.8,161.6L114.2,161.9L113.6,162.1L113.1,162.4L112.5,162.7L112.0,163.0L111.5,163.3L111.0,163.7L110.5,164.1L109.9,164.5L109.4,164.9L108.9,165.4L108.3,165.8L107.8,166.3L107.3,166.8L106.8,167.2L106.2,167.7L105.7,168.2L105.2,168.7L104.7,169.2L104.2,169.7L103.7,170.2L103.3,170.7L102.8,171.1L102.4,171.6L102.0,172.0L101.6,172.4L101.2,172.9L100.9,173.4L100.6,173.8L100.3,174.3L100.0,174.8L99.7,175.3L99.4,175.8L99.1,176.3L98.9,176.8L98.6,177.2L98.4,177.6L98.1,178.1L97.8,178.4L97.5,178.8L97.3,179.1L97.0,179.4L96.7,179.7L96.3,179.8L96.0,180.0L95.6,180.1L95.3,180.2L94.9,180.2L94.5,180.1L94.1,180.1L93.7,180.0L93.3,179.8L92.9,179.7L92.5,179.5L92.1,179.3L91.7,179.1L91.3,178.9L90.9,178.6L90.5,178.4L90.0,178.1L89.6,177.9L89.2,177.7L88.8,177.4L88.4,177.2L88.0,177.0L87.6,176.8L87.2,176.6L86.8,176.3L86.4,176.1L86.0,175.9L85.6,175.6L85.2,175.4L84.8,175.1L84.3,174.8L83.9,174.6L83.5,174.3L83.1,174.0L82.7,173.8L82.3,173.5L81.9,173.2L81.5,173.0L81.1,172.7L80.8,172.5L80.4,172.2L80.0,172.0L79.6,171.8L79.2,171.6L78.8,171.4L78.4,171.2L77.9,171.0L77.5,170.9L77.1,170.7L76.6,170.5L76.2,170.4L75.8,170.2L75.4,170.0L75.0,169.8L74.7,169.7L74.3,169.5L74.0,169.3L73.7,169.0L73.5,168.8L73.3,168.6L73.1,168.3L73.0,168.0L72.9,167.7L72.9,167.4L72.9,167.1L73.0,166.8L73.1,166.4L73.3,166.1L73.4,165.7L73.6,165.4L73.8,165.0L74.1,164.6L74.3,164.2L74.5,163.8L74.8,163.4L75.0,163.0L75.2,162.5L75.4,162.0L75.6,161.6L75.8,161.1L75.9,160.5L76.0,160.0L76.1,159.4L76.1,158.8L76.2,158.1L76.2,157.4L76.2,156.6L76.2,155.8L76.2,155.0L76.2,154.2L76.2,153.3L76.2,152.5L76.2,151.7L76.1,150.9L76.1,150.1L76.1,149.4L76.1,148.7L76.0,148.0L76.0,147.4L76.0,146.9L76.0,146.4L76.0,146.0Z" fill="#f2b878" opacity="0.4"/>
<path d="M92.1,163.2L93.8,164.7M92.3,173.6L90.7,174.2M92.1,163.2L90.4,161.7M92.8,177.4L92.3,176.4M80.9,151.0L81.3,151.4M79.5,147.4L78.2,147.2M92.2,145.7L93.2,143.5M96.6,177.2L98.8,176.3M100.2,174.2L99.7,173.1M90.7,174.2L91.7,174.2M108.0,161.5L110.3,162.1M95.6,157.2L96.2,157.7M86.7,150.2L86.5,149.4M83.3,137.3L81.2,137.2M78.9,151.6L79.2,152.6M92.2,140.4L91.0,139.0M99.3,168.8L99.3,167.6M89.6,167.3L90.1,165.0M88.3,147.2L88.8,147.5M75.8,168.3L75.8,168.8M94.7,138.3L97.5,138.5M83.9,167.9L85.8,168.8M89.3,140.4L89.2,138.6M94.0,171.3L92.7,169.5M104.6,148.0L104.5,147.4M95.6,157.2L93.8,158.8M100.5,169.1L101.4,167.3M85.8,164.4L83.3,164.0M80.9,169.0L79.3,168.7M77.3,131.9L78.5,132.6M97.9,161.2L98.9,158.8M83.8,140.6L82.7,139.4M82.7,167.5L84.0,166.9M108.0,161.5L107.3,161.4M93.4,155.8L91.3,154.8M80.2,149.1L79.3,151.0M75.9,164.9L77.1,162.8M104.6,148.0L105.6,147.5M96.6,177.2L97.3,177.9M82.9,154.8L82.1,154.3M100.8,146.9L101.2,144.7M112.4,157.0L112.0,155.7M78.6,156.1L77.9,158.4M103.5,151.1L103.9,153.3M99.0,173.8L100.2,174.2M77.9,147.6L79.5,147.4M90.5,152.4L89.7,150.5M78.2,157.6L76.2,159.2M101.2,164.8L99.8,165.7M107.4,159.4L107.3,161.4M100.8,167.9L101.4,167.3M75.8,168.3L76.4,166.9M76.6,142.5L79.0,141.6M92.2,140.4L92.4,139.8M90.8,168.1L92.4,168.0M106.8,164.5L104.2,164.4M79.5,140.6L78.2,139.5M96.7,164.0L98.8,163.9M112.0,155.7L114.0,155.7M81.9,158.7L82.8,160.1M76.5,141.3L76.6,142.5M90.8,150.9L89.7,150.5M77.9,147.6L76.2,146.9M83.9,167.9L84.0,166.9M88.6,143.1L88.3,144.3M93.0,166.9L92.4,168.0M103.7,163.5L104.2,164.4M96.4,163.0L98.1,161.8M92.7,153.9L94.2,154.2M105.0,168.1L103.1,169.0M97.5,171.7L96.5,170.9M92.1,163.2L90.1,165.0M85.4,146.7L86.8,146.9M94.4,173.6L93.1,174.2M81.2,168.5L80.6,165.6M86.3,135.6L84.5,136.1M96.5,170.9L97.3,169.8M89.3,140.4L88.0,140.9M79.3,151.0L79.2,152.6M99.5,147.7L98.5,146.3M76.5,141.3L78.1,142.6M86.1,133.3L84.4,130.9M86.9,141.4L87.0,139.9M89.4,170.0L90.6,171.0M80.2,171.3L80.9,169.0M92.3,176.4L93.3,177.5M76.2,146.9L78.0,148.6M88.4,144.6L88.3,144.3M104.5,147.4L104.2,149.1M92.7,153.9L93.4,155.8M81.2,134.9L82.7,135.4M77.4,149.4L77.8,150.4M89.4,170.0L90.9,170.8M86.8,146.9L88.8,147.5M74.9,168.8L75.8,168.8M92.1,141.8L93.2,143.5M97.8,156.2L96.2,157.7M95.4,156.3L96.2,157.7M93.8,158.8L96.2,157.7M90.8,150.9L88.7,150.7M83.8,140.6L84.6,141.6M115.2,160.6L113.1,161.4M107.1,150.7L104.9,151.7M104.0,163.8L104.5,161.5M113.6,155.0L112.4,157.0M98.3,164.4L96.7,164.0M80.5,154.0L81.5,153.2M89.1,155.5L87.9,153.5M76.9,152.0L77.5,151.6M93.8,142.1L93.1,141.1M94.6,168.5L92.4,168.0M82.8,160.1L82.6,161.6M121.2,157.0L119.6,155.9M85.4,144.0L85.3,142.6M80.1,135.0L80.6,136.9M113.6,155.0L114.0,155.7M76.4,133.6L77.9,134.0M89.0,136.7L90.1,136.8M80.6,165.6L82.7,167.5M84.3,130.5L86.1,133.3M93.8,142.1L93.2,143.5M79.2,136.7L77.9,136.3M96.4,163.0L94.2,161.6M89.4,170.0L88.6,172.0M85.3,142.6L85.8,141.0M84.6,141.6L85.8,141.0M98.5,160.6L98.3,161.7M86.8,146.9L86.5,149.4M89.9,171.6L90.6,171.0M93.4,155.8L94.2,154.2M80.1,135.0L81.2,134.9M101.5,149.3L103.8,149.9M83.3,137.3L84.5,136.1M103.7,163.5L102.0,162.9M98.8,176.3L98.4,174.8M105.9,148.3L104.5,147.4M88.5,158.9L90.3,157.0M91.2,158.0L93.8,158.8M97.3,154.5L98.2,153.8M89.9,171.6L90.9,170.8M85.4,144.0L84.6,141.6M102.1,142.4L101.2,144.7M74.9,169.0L75.8,168.8M81.3,169.1L80.6,172.1M78.4,161.5L79.9,159.9M89.4,170.0L89.9,171.6M104.6,148.0L105.9,148.3M96.0,153.7L96.5,154.7M101.5,149.3L101.0,148.1M96.6,177.2L97.2,178.9M85.8,164.4L86.9,165.6M100.5,169.1L99.3,167.6M84.0,150.3L83.7,147.8M88.5,158.9L88.4,158.0M110.3,162.1L113.1,161.4M89.4,170.0L90.8,168.1M103.0,145.7L101.6,145.7M78.0,161.4L77.3,160.8M101.7,152.3L100.4,151.5M100.4,151.5L98.5,152.7M88.5,158.9L90.4,161.7M84.3,130.5L85.2,132.3M92.3,173.6L93.1,174.2M116.2,157.4L114.0,155.7M79.5,147.4L80.2,149.1M95.4,156.3L93.4,155.8M95.4,144.3L96.1,144.0M79.2,136.7L78.3,136.9M89.9,171.6L88.6,172.0M89.7,142.9L88.3,144.3M80.2,171.3L80.6,172.1M100.8,167.9L99.3,167.6M87.5,152.5L87.9,153.5M96.0,153.7L95.1,151.4M108.1,151.8L109.9,152.8M75.8,168.3L74.9,169.0M86.9,141.4L88.0,140.9M79.1,140.4L79.9,139.4M85.6,159.6L86.1,161.8M107.4,159.4L108.0,161.5M93.8,176.0L93.3,177.5M94.0,162.7L94.2,161.6M107.1,150.7L108.1,151.8M103.3,154.8L102.0,156.1M101.6,145.7L101.2,144.7M89.9,142.5L90.4,142.5M75.9,164.9L76.4,166.9M77.9,134.0L77.9,136.3M83.8,170.0L84.5,168.7M96.5,154.7L97.3,154.5M92.2,145.7L91.2,145.4M101.2,144.7L100.5,142.5M87.7,166.8L85.9,165.7M104.5,147.4L105.6,147.5M76.2,159.2L77.9,158.4M100.6,161.1L102.0,162.9M89.7,150.5L88.7,150.7M83.8,140.6L83.2,142.4M80.5,154.0L79.2,152.6M110.1,153.4L109.3,152.0M90.6,171.0L90.9,170.8M91.4,177.9L92.3,176.4M77.1,162.8L78.4,161.5M86.9,141.4L86.9,141.5M79.3,141.6L79.0,141.6M79.1,140.4L78.8,138.7M92.7,169.5L92.4,168.0M91.2,158.0L92.5,157.1M105.0,168.1L105.8,167.0M82.6,145.3L85.2,145.7M92.1,163.2L94.0,162.7M84.0,150.3L86.5,149.4M96.5,154.7L98.2,153.8M92.7,151.8L95.1,151.4M92.8,177.4L93.8,176.0M75.8,168.3L76.9,169.3M90.3,157.0L89.1,155.5M80.5,154.0L82.1,154.3M95.4,156.3L95.6,157.2M97.8,156.2L95.6,157.2M85.8,164.4L86.1,161.8M107.3,161.4L104.5,161.5M78.1,142.6L79.0,141.6M94.6,166.1L93.0,166.9M95.2,142.7L96.1,144.0M103.9,153.3L104.9,151.7M79.3,141.6L80.1,143.5M77.3,160.8L78.4,161.5M98.8,163.9L99.8,165.7M101.6,145.7L100.8,146.9M99.1,141.2L100.5,142.5M79.3,141.6L79.5,140.6M86.7,150.2L87.5,152.5M93.0,146.7L92.8,149.2M105.0,168.1L101.4,167.3M76.0,134.1L77.9,134.0M95.1,151.4L93.9,152.3M101.2,164.8L102.0,162.9M84.5,153.3L84.5,152.6M80.2,171.3L81.3,169.1M90.5,152.4L91.5,150.4M112.4,157.0L111.3,158.6M96.4,163.0L96.7,164.0M79.3,141.6L78.1,142.6M92.8,177.4L93.3,177.5M86.3,135.6L85.6,137.3M85.2,132.3L86.1,133.3M80.9,151.0L79.3,151.0M103.7,163.5L104.5,161.5M82.6,161.6L83.3,164.0M74.9,168.8L74.9,169.0M97.5,171.7L96.2,172.0M90.8,150.9L91.5,150.4M92.8,149.2L91.5,150.4M83.3,137.3L82.7,139.4M97.5,171.7L97.3,169.8M104.0,163.8L103.7,163.5M88.2,170.7L89.4,170.0M113.6,155.0L112.0,155.7M79.8,155.8L77.7,154.5M78.5,132.6L80.0,131.6M80.1,143.5L79.0,141.6M94.0,162.7L93.8,164.7M109.3,152.0L108.1,151.8M94.0,171.3L93.0,172.3M79.1,140.4L78.2,139.5M92.1,141.8L93.1,141.1M81.5,153.2L81.3,151.4M82.7,135.4L84.1,134.3M91.2,158.0L90.3,157.0M102.1,142.4L100.5,142.5M97.9,161.2L98.3,161.7M88.4,144.6L88.8,147.5M78.0,161.4L79.9,159.9M86.1,161.8L88.4,161.1M108.9,157.4L111.3,158.6M78.3,136.9L78.8,138.7M102.5,160.7L102.7,157.1M97.5,138.5L95.7,138.1M99.5,147.7L97.4,148.5M93.7,167.7L92.7,169.5M73.0,167.4L74.9,169.0M77.9,147.6L78.2,147.2M106.8,164.5L105.8,167.0M99.5,147.7L100.6,149.1M81.0,164.6L83.3,164.0M98.5,146.3L97.4,148.5M93.1,174.2L91.7,174.2M121.2,157.0L119.6,157.1M86.3,135.6L85.0,136.6M79.4,129.7L81.3,129.1M80.9,151.0L80.2,149.1M81.3,129.1L80.1,130.3M95.3,144.4L96.1,144.0M92.2,140.4L93.1,141.1M87.5,152.5L88.7,150.7M88.4,144.6L88.6,143.1M95.4,144.3L95.2,142.7M119.6,157.1L116.2,157.4M98.3,164.4L98.8,163.9M110.9,158.3L108.9,157.4M98.5,160.6L100.6,161.1M102.1,142.4L101.6,145.7M80.5,154.0L79.8,155.8M83.2,142.4L82.4,144.4M100.8,167.9L103.1,169.0M89.7,142.9L90.4,142.5M89.1,155.5L88.4,158.0M89.0,136.7L89.2,138.6M88.3,147.2L86.8,146.9M90.0,136.2L89.2,138.6M116.2,157.4L115.2,160.6M99.5,147.7L100.8,146.9M83.9,167.9L82.7,167.5M100.6,149.1L98.6,148.6M84.1,134.3L84.5,136.1M95.4,144.3L95.4,146.3M103.5,151.1L104.9,151.7M78.0,161.4L78.4,161.5M79.4,129.7L78.5,130.7M86.1,133.3L84.1,134.3M84.5,153.8L82.9,154.8M100.5,169.1L100.8,167.9M96.0,153.7L94.2,154.2M95.4,146.3L96.1,144.0M85.6,137.3L84.5,136.1M119.6,157.1L119.6,155.9M82.5,133.6L84.1,134.3M89.1,155.5L91.3,154.8M104.0,163.8L104.2,164.4M94.7,138.3L94.1,138.5M88.4,139.4L87.0,139.9M93.0,146.7L91.2,145.4M77.3,131.9L78.5,130.7M76.4,166.9L75.8,168.8M74.9,169.0L76.9,169.3M85.0,158.4L84.0,158.8M110.9,158.3L112.4,157.0M98.5,160.6L98.1,161.8M78.8,138.7L78.2,139.5M83.3,137.3L85.0,136.6M76.5,141.3L78.2,139.5M79.3,151.0L77.8,150.4M92.8,177.4L91.4,177.9M77.7,154.5L78.6,156.1M111.2,155.0L112.0,155.7M91.0,139.0L89.2,138.6M92.3,173.6L91.7,174.2M97.6,140.2L97.5,138.5M106.7,150.8L108.1,151.8M101.7,152.3L100.4,151.3M78.2,157.6L79.8,155.8M83.4,158.7L84.0,158.8M89.7,150.5L91.5,150.4M93.4,155.8L92.5,157.1M85.4,146.7L85.2,145.7M92.4,149.4L91.5,150.4M76.4,133.6L76.0,134.1M80.1,135.0L79.2,136.7M81.7,140.8L79.5,140.6M102.0,156.1L103.9,153.3M85.0,158.4L85.6,159.6M98.4,174.8L99.7,173.1M83.9,167.9L84.5,168.7M81.2,137.2L80.6,136.9M88.7,150.7L86.5,149.4M99.5,147.7L98.6,148.6M79.0,141.6L79.5,140.6M121.2,157.0L121.2,158.8M80.2,142.0L79.0,141.6M90.5,152.4L90.8,150.9M78.5,132.6L77.9,134.0M98.5,146.3L98.6,148.6M81.2,168.5L79.3,168.7M80.0,131.6L81.3,129.1M85.4,146.7L83.7,147.8M79.3,151.0L81.3,151.4M93.3,170.5L93.0,172.3M85.4,144.0L85.2,145.7M99.3,167.6L101.4,167.3M92.1,141.8L91.6,141.9M87.7,166.8L89.6,167.3M85.8,168.8L84.5,168.7M86.3,135.6L86.1,133.3M87.7,166.8L86.9,165.6M84.0,166.9L84.5,168.7M79.1,140.4L79.0,141.6M89.0,136.7L90.0,136.2M83.9,167.9L83.8,170.0M98.1,161.8L98.3,161.7M85.8,164.4L85.9,165.7M103.0,145.7L104.5,147.4M108.0,161.5L110.2,162.6M81.3,169.1L79.3,168.7M88.4,161.1L90.4,161.7M80.2,142.0L80.1,143.5M89.7,142.9L88.6,143.1M97.8,156.2L97.3,154.5M75.9,164.9L74.5,165.3M80.1,143.5L82.4,144.4M111.2,155.0L112.4,157.0M119.6,157.1L121.2,158.8M93.0,146.7L92.2,145.7M98.5,146.3L98.0,145.3M85.8,168.8L83.8,170.0M92.2,140.4L91.6,141.9M101.7,152.3L103.5,151.1M98.0,145.3L96.1,144.0M81.2,168.5L82.7,167.5M92.7,153.9L92.7,151.8M104.0,163.8L102.0,162.9M83.4,158.7L82.8,160.1M80.0,131.6L78.5,130.7M77.4,149.4L78.0,148.6M88.2,170.7L88.6,172.0M79.1,140.4L79.5,140.6M97.6,140.2L99.6,140.0M90.8,168.1L89.6,167.3M94.0,171.3L96.2,172.0M104.2,149.1L103.8,149.9M94.4,173.6L93.0,172.3M101.2,164.8L101.4,167.3M92.4,149.4L92.8,149.2M93.7,167.7L94.6,166.1M89.2,138.6L90.1,136.8M94.6,168.5L92.7,169.5M80.2,149.1L82.5,147.6M99.3,167.6L99.8,165.7M121.2,158.8L119.6,155.9M81.9,158.7L84.0,158.8M84.2,155.5L82.9,154.8M97.3,177.9L97.2,178.9M84.5,153.8L84.5,153.3M102.0,156.1L102.7,157.1M88.2,170.7L89.9,171.6M97.5,138.5L99.6,140.0M95.2,142.7L95.3,144.4M92.2,140.4L92.1,141.8M99.1,141.2L97.6,140.2M88.4,144.6L88.3,147.2M106.8,164.5L104.0,163.8M99.3,168.8L97.3,169.8M99.0,173.8L98.4,174.8M100.6,149.1L101.0,148.1M83.3,137.3L82.7,135.4M78.1,142.6L76.6,142.5M80.6,165.6L81.0,164.6M81.2,168.5L80.9,169.0M82.6,145.3L82.5,147.6M91.4,177.9L93.3,177.5M79.3,141.6L80.2,142.0M90.7,174.2L93.1,174.2M100.4,151.5L100.4,151.3M90.4,142.5L91.6,141.9M99.1,141.2L99.6,140.0M104.6,148.0L103.8,149.9M85.9,165.7L86.9,165.6M106.7,150.8L104.9,151.7M76.9,152.0L78.9,151.6M78.8,138.7L79.9,139.4M108.1,151.8L107.6,154.5M94.4,173.6L94.7,174.2M77.9,147.6L78.0,148.6M88.0,140.9L87.0,139.9M78.9,151.6L80.9,151.0M81.3,169.1L80.9,169.0M110.1,153.4L107.6,154.5M96.4,163.0L98.3,161.7M84.5,153.8L84.5,152.6M84.5,153.8L84.2,155.5M78.2,157.6L78.6,156.1M89.9,142.5L88.6,143.1M109.3,152.0L109.9,152.8M77.1,162.8L77.3,160.8M86.9,141.4L85.8,141.0M103.3,154.8L103.9,153.3M86.8,146.9L85.2,145.7M111.0,160.5L113.1,161.4M102.5,160.7L102.0,162.9M107.4,159.4L108.9,157.4M85.2,132.3L84.4,130.9M82.5,133.6L82.7,135.4M86.7,150.2L88.7,150.7M98.8,176.3L97.3,177.9M80.0,131.6L80.1,130.3M90.3,157.0L88.4,158.0M92.4,139.8L94.1,138.5M99.5,147.7L101.0,148.1M93.8,176.0L94.7,174.2M81.7,140.8L82.7,139.4M91.4,149.1L92.8,149.2M97.9,161.2L98.1,161.8M93.1,174.2L94.7,174.2M97.8,156.2L98.9,158.8M96.5,170.9L96.2,172.0M78.2,157.6L77.9,158.4M85.0,158.4L83.4,158.7M110.9,158.3L111.3,158.6M78.9,151.6L77.5,151.6M92.7,151.8L91.5,150.4M98.5,160.6L98.9,158.8M76.9,152.0L77.8,150.4M97.6,140.2L97.2,141.0M81.9,158.7L79.9,159.9M82.6,145.3L82.4,144.4M79.2,136.7L80.6,136.9M95.2,142.7L93.2,143.5M84.6,141.6L83.2,142.4M85.3,142.6L83.2,142.4M106.7,150.8L107.1,150.7M92.3,173.6L93.0,172.3M110.2,162.6L110.3,162.1M111.0,160.5L110.3,162.1M76.2,146.9L78.2,147.2M112.4,157.0L114.0,155.7M97.5,138.5L97.2,141.0M103.5,151.1L103.8,149.9M85.0,136.6L84.5,136.1M99.0,173.8L99.7,173.1M104.2,164.4L105.8,167.0M94.6,166.1L93.8,164.7M95.4,146.3L95.3,144.4M85.8,141.0L86.9,141.5M77.3,131.9L76.0,134.1M80.6,172.1L80.9,169.0M92.4,149.4L91.4,149.1M84.2,155.5L84.5,153.3M83.4,158.7L82.6,161.6M82.5,147.6L83.7,147.8M99.3,168.8L100.5,169.1M100.6,161.1L102.5,160.7M85.6,137.3L85.0,136.6M101.4,167.3L103.1,169.0M111.0,160.5L115.2,160.6M90.0,136.2L90.1,136.8M111.0,160.5L111.3,158.6M100.2,174.2L98.4,174.8M99.1,141.2L97.2,141.0M104.6,148.0L104.2,149.1M103.3,154.8L102.7,157.1M84.3,130.5L84.4,130.9M79.2,136.7L81.2,137.2M100.6,149.1L100.4,151.3M94.7,138.3L95.7,138.1M92.1,163.2L94.2,161.6M73.0,167.4L74.5,165.3M97.4,148.5L98.6,148.6M77.3,160.8L76.2,159.2M78.9,151.6L79.3,151.0M98.5,160.6L97.9,161.2M85.6,159.6L84.0,158.8M77.7,154.5L79.2,152.6M89.3,140.4L88.4,139.4M93.3,170.5L92.7,169.5M101.5,149.3L100.6,149.1M78.3,136.9L77.9,136.3M79.8,155.8L78.6,156.1M93.8,176.0L92.3,176.4M80.1,130.3L78.5,130.7M98.3,164.4L99.8,165.7M96.0,153.7L97.3,154.5M81.7,140.8L80.2,142.0M78.0,161.4L77.1,162.8M77.5,151.6L77.8,150.4M89.9,142.5L89.7,142.9M105.9,148.3L105.6,147.5M95.4,144.3L95.3,144.4M93.2,143.5L91.2,145.4M98.5,152.7L97.3,154.5M76.4,166.9L74.5,165.3M93.7,167.7L92.4,168.0M95.2,142.7L93.8,142.1M78.2,147.2L78.0,148.6M104.2,149.1L103.5,151.1M92.7,153.9L91.3,154.8M88.4,139.4L89.2,138.6M102.5,160.7L104.5,161.5M81.9,158.7L83.4,158.7M109.9,152.8L107.6,154.5M97.8,156.2L96.5,154.7M95.4,156.3L96.5,154.7M98.8,176.3L97.2,178.9M95.4,146.3L98.0,145.3M90.5,152.4L87.9,153.5M88.0,140.9L86.9,141.5M79.4,129.7L80.1,130.3M88.4,144.6L89.7,142.9M76.4,133.6L77.3,131.9M74.9,168.8L73.0,167.4M95.7,138.1L94.1,138.5M75.8,168.3L74.9,168.8M93.7,167.7L94.6,168.5M75.8,168.8L76.9,169.3M81.2,134.9L82.5,133.6M92.7,151.8L93.9,152.3M79.9,139.4L79.5,140.6M110.2,162.6L111.0,160.5M98.5,152.7L98.2,153.8M87.7,166.8L90.1,165.0M93.7,167.7L93.0,166.9M101.0,148.1L100.8,146.9M91.0,139.0L92.4,139.8M81.0,164.6L82.6,161.6M93.1,141.1L92.4,139.8M94.0,171.3L93.3,170.5M85.3,142.6L84.6,141.6M84.0,150.3L84.5,152.6M81.2,168.5L81.3,169.1M92.5,157.1L93.8,158.8M88.5,158.9L88.4,161.1M110.1,153.4L109.9,152.8M81.5,153.2L82.1,154.3M103.0,145.7L101.2,144.7M99.3,168.8L100.8,167.9M110.1,153.4L111.2,155.0M77.9,147.6L77.4,149.4M94.2,154.2L93.9,152.3M91.4,149.1L91.5,150.4" stroke="#da7210" stroke-width="0.85" fill="none" opacity="1.0"/>
<ellipse cx="90" cy="150" rx="3.5" ry="3" fill="#fff" opacity="0.6"/>
<defs><linearGradient id="hf11" gradientUnits="userSpaceOnUse" x1="150.5" y1="66.3" x2="163.5" y2="61.7"><stop offset="0" stop-color="#968888"/><stop offset="0.35" stop-color="#e6d2d2"/><stop offset="0.62" stop-color="#efe2e2"/><stop offset="1" stop-color="#e6d2d2"/></linearGradient><linearGradient id="hb11" gradientUnits="userSpaceOnUse" x1="150.5" y1="66.3" x2="163.5" y2="61.7"><stop offset="0" stop-color="#b6a6a6"/><stop offset="0.45" stop-color="#eee0e0"/><stop offset="1" stop-color="#f6eeee"/></linearGradient></defs><g opacity="0.7"><path d="M148.4,55.9L148.8,56.1L149.4,56.0L150.3,55.6L151.4,55.0L152.6,54.3L154.0,53.6L155.4,52.9L156.8,52.3L158.0,51.9L159.0,51.8L159.8,51.9L160.3,52.4L161.9,55.9L161.6,55.6L160.9,55.6L160.0,55.9L158.9,56.4L157.6,57.1L156.2,57.8L154.9,58.5L153.6,59.2L152.4,59.6L151.5,59.8L150.7,59.7L150.3,59.3ZM153.1,66.5L153.4,66.7L154.0,66.8L155.0,66.6L156.2,66.3L157.6,65.9L159.1,65.5L160.6,65.1L162.1,64.9L163.3,64.8L164.3,64.9L165.0,65.2L165.4,65.7L166.2,69.5L166.0,69.2L165.3,69.1L164.4,69.2L163.2,69.4L161.8,69.8L160.3,70.2L158.8,70.5L157.4,70.8L156.1,70.9L155.2,70.9L154.5,70.7L154.2,70.2ZM156.0,78.9L156.0,78.9L156.1,78.9L156.1,79.0L156.1,79.1L156.2,79.1L156.2,79.1L156.2,79.2L156.3,79.2L156.3,79.2L156.4,79.2L156.4,79.2L156.5,79.2L157.4,83.3L157.4,83.2L157.3,83.2L157.3,83.2L157.2,83.1L157.2,83.1L157.1,83.0L157.1,83.0L157.1,82.9L157.0,82.8L156.9,82.7L156.9,82.7L156.9,82.6Z" fill="url(#hb11)" opacity="1.0"/><path d="M150.2,46.4L149.7,47.3L149.3,48.2L148.9,49.1L148.5,49.9L148.2,50.7L148.0,51.5L147.8,52.2L147.6,52.9L147.6,53.5L147.6,54.0L147.6,54.4L147.8,54.8L150.9,60.4L150.9,60.2L150.9,60.0L151.0,59.6L151.2,59.2L151.4,58.7L151.6,58.1L151.9,57.4L152.3,56.7L152.6,56.0L153.0,55.2L153.4,54.4L153.8,53.6ZM159.8,51.3L159.8,51.7L159.6,52.5L159.1,53.6L158.4,54.9L157.4,56.3L156.5,57.8L155.5,59.4L154.5,60.9L153.6,62.2L153.1,63.4L152.7,64.5L152.8,65.3L154.5,71.4L154.7,71.0L155.1,70.3L155.9,69.4L157.0,68.3L158.0,66.9L159.2,65.3L160.4,63.7L161.3,62.1L162.0,60.5L162.5,59.1L162.6,57.9L162.5,57.1ZM165.1,64.5L165.0,64.9L164.6,65.6L163.8,66.5L162.8,67.6L161.6,68.9L160.3,70.3L159.0,71.7L157.8,73.1L156.9,74.4L156.1,75.7L155.8,76.7L155.7,77.6L157.2,83.9L157.3,83.4L157.7,82.7L158.5,81.8L159.5,80.7L160.7,79.4L162.0,78.1L163.3,76.7L164.4,75.2L165.4,73.9L166.1,72.6L166.5,71.6L166.5,70.7Z" fill="url(#hf11)"/></g>
<defs><linearGradient id="hf12" gradientUnits="userSpaceOnUse" x1="152.0" y1="115.4" x2="168.0" y2="116.6"><stop offset="0" stop-color="#968888"/><stop offset="0.35" stop-color="#e6d2d2"/><stop offset="0.62" stop-color="#efe2e2"/><stop offset="1" stop-color="#e6d2d2"/></linearGradient><linearGradient id="hb12" gradientUnits="userSpaceOnUse" x1="152.0" y1="115.4" x2="168.0" y2="116.6"><stop offset="0" stop-color="#b6a6a6"/><stop offset="0.45" stop-color="#eee0e0"/><stop offset="1" stop-color="#f6eeee"/></linearGradient></defs><g opacity="0.7"><path d="M156.8,65.5L157.1,65.8L157.7,66.0L158.9,66.1L160.3,66.1L162.0,66.1L163.8,66.1L165.6,66.1L167.3,66.2L168.7,66.3L169.9,66.6L170.5,67.1L170.7,67.7L170.6,71.5L170.4,71.2L169.7,71.0L168.6,70.9L167.1,70.8L165.4,70.9L163.6,70.9L161.8,70.9L160.1,70.8L158.6,70.6L157.5,70.3L156.9,69.9L156.7,69.3ZM156.2,78.4L156.5,78.8L157.2,79.0L158.3,79.1L159.7,79.1L161.4,79.1L163.2,79.1L165.0,79.1L166.7,79.2L168.2,79.4L169.3,79.7L169.9,80.1L170.2,80.7L170.0,84.6L169.7,84.2L169.1,84.0L167.9,83.9L166.5,83.8L164.8,83.9L163.0,83.9L161.2,83.9L159.5,83.8L158.1,83.6L157.0,83.3L156.3,82.9L156.1,82.3ZM155.6,91.3L155.8,91.7L156.5,91.9L157.6,92.0L159.0,92.1L160.7,92.1L162.5,92.1L164.4,92.1L166.0,92.2L167.5,92.4L168.6,92.8L169.3,93.2L169.5,93.8L169.2,97.7L169.0,97.3L168.3,97.1L167.2,96.9L165.7,96.9L164.0,96.9L162.2,96.9L160.4,96.8L158.7,96.7L157.3,96.5L156.2,96.2L155.5,95.7L155.3,95.2ZM154.6,104.1L154.8,104.4L155.5,104.7L156.6,104.8L158.1,104.9L159.8,105.0L161.6,105.0L163.4,105.1L165.1,105.3L166.5,105.5L167.6,105.9L168.3,106.4L168.4,107.0L168.1,110.8L167.9,110.5L167.2,110.2L166.1,110.0L164.6,109.9L162.9,109.9L161.1,109.8L159.3,109.7L157.6,109.6L156.2,109.3L155.1,109.0L154.5,108.5L154.3,107.9ZM153.3,116.9L153.5,117.3L154.2,117.5L155.3,117.7L156.8,117.8L158.5,117.9L160.3,118.0L162.1,118.1L163.8,118.3L165.2,118.5L166.3,118.9L166.9,119.4L167.1,120.0L166.7,123.8L166.5,123.5L165.8,123.2L164.7,123.0L163.3,122.9L161.6,122.8L159.8,122.7L157.9,122.6L156.3,122.4L154.8,122.2L153.8,121.8L153.1,121.3L152.9,120.7ZM152.0,129.8L152.2,130.2L152.8,130.5L153.9,130.6L155.4,130.7L157.1,130.8L158.9,130.9L160.7,131.0L162.4,131.2L163.8,131.4L164.9,131.8L165.5,132.2L165.7,132.8L165.3,136.6L165.1,136.3L164.5,136.1L163.3,135.9L161.9,135.8L160.2,135.7L158.4,135.7L156.6,135.6L154.9,135.4L153.5,135.1L152.4,134.8L151.7,134.3L151.6,133.7ZM150.7,143.0L150.9,143.3L151.6,143.6L152.7,143.7L154.2,143.8L155.9,143.8L157.7,143.8L159.5,143.9L161.2,144.0L162.6,144.2L163.7,144.5L164.4,145.0L164.6,145.6L164.3,149.4L164.1,149.1L163.4,148.9L162.3,148.7L160.8,148.7L159.1,148.6L157.3,148.6L155.5,148.6L153.8,148.4L152.4,148.2L151.3,147.9L150.6,147.4L150.4,146.8ZM149.8,156.0L150.0,156.4L150.7,156.6L151.8,156.7L153.3,156.8L155.0,156.8L156.8,156.8L158.6,156.8L160.3,156.9L161.7,157.1L162.8,157.4L163.5,157.9L163.7,158.5L163.5,162.3L163.3,162.0L162.6,161.8L161.5,161.6L160.0,161.6L158.3,161.6L156.5,161.6L154.7,161.6L153.0,161.5L151.6,161.3L150.5,160.9L149.8,160.5L149.6,159.9ZM149.0,169.0L149.1,169.1L149.1,169.2L149.1,169.2L149.1,169.3L149.2,169.3L149.3,169.4L149.3,169.4L149.4,169.4L149.5,169.5L149.7,169.5L149.8,169.5L149.9,169.6L149.7,173.9L149.5,173.8L149.4,173.7L149.3,173.7L149.2,173.6L149.1,173.5L149.0,173.4L148.9,173.3L148.9,173.2L148.8,173.2L148.8,173.1L148.8,173.0L148.8,172.9Z" fill="url(#hb12)" opacity="1.0"/><path d="M164.2,58.0L163.3,58.6L162.3,59.1L161.4,59.7L160.6,60.3L159.8,60.8L159.1,61.4L158.4,61.9L157.9,62.4L157.5,62.9L157.2,63.4L157.0,63.8L156.9,64.2L156.6,70.6L156.7,70.4L156.9,70.2L157.2,69.9L157.6,69.6L158.1,69.3L158.7,68.9L159.4,68.5L160.2,68.0L161.0,67.5L161.9,67.1L162.9,66.5L163.8,66.0ZM170.8,66.4L170.5,66.8L169.8,67.4L168.7,68.1L167.2,68.9L165.5,69.9L163.6,71.0L161.7,72.1L160.0,73.2L158.5,74.3L157.3,75.4L156.6,76.3L156.3,77.2L156.0,83.6L156.3,83.1L157.0,82.6L158.1,81.9L159.6,81.0L161.4,80.0L163.2,79.0L165.1,77.9L166.8,76.7L168.3,75.6L169.5,74.6L170.2,73.6L170.5,72.8ZM170.2,79.4L170.0,79.9L169.2,80.4L168.1,81.1L166.6,82.0L164.9,82.9L163.0,84.0L161.1,85.1L159.4,86.2L157.9,87.3L156.7,88.3L155.9,89.2L155.6,90.1L155.3,96.5L155.5,96.0L156.3,95.5L157.4,94.8L158.9,94.0L160.7,93.0L162.5,92.0L164.4,90.9L166.2,89.7L167.7,88.6L168.9,87.6L169.6,86.7L169.9,85.8ZM169.5,92.5L169.3,93.0L168.6,93.5L167.4,94.2L165.9,95.0L164.1,96.0L162.2,97.0L160.3,98.0L158.6,99.1L157.0,100.1L155.8,101.1L155.1,102.0L154.7,102.8L154.2,109.2L154.5,108.8L155.2,108.3L156.4,107.6L157.9,106.8L159.7,105.9L161.6,104.9L163.5,103.9L165.3,102.8L166.8,101.7L168.0,100.7L168.8,99.8L169.1,98.9ZM168.6,105.7L168.3,106.1L167.5,106.6L166.4,107.3L164.8,108.1L163.0,109.0L161.1,109.9L159.2,110.9L157.4,111.9L155.8,113.0L154.6,113.9L153.8,114.8L153.5,115.6L152.8,122.0L153.1,121.6L153.8,121.1L155.0,120.4L156.6,119.7L158.4,118.8L160.3,117.9L162.2,116.9L164.0,115.8L165.6,114.8L166.8,113.8L167.6,112.9L167.9,112.1ZM167.2,118.7L167.0,119.1L166.2,119.6L165.0,120.3L163.5,121.0L161.7,121.9L159.7,122.8L157.8,123.8L156.0,124.9L154.4,125.9L153.2,126.9L152.4,127.8L152.1,128.6L151.4,134.9L151.7,134.5L152.5,134.0L153.6,133.4L155.2,132.6L157.0,131.7L158.9,130.8L160.8,129.8L162.6,128.8L164.2,127.7L165.4,126.8L166.2,125.9L166.5,125.1ZM165.8,131.5L165.5,131.9L164.8,132.5L163.6,133.1L162.1,133.9L160.3,134.8L158.4,135.8L156.4,136.8L154.7,137.9L153.1,138.9L151.9,139.9L151.1,140.9L150.8,141.7L150.3,148.1L150.6,147.7L151.3,147.1L152.5,146.4L154.0,145.6L155.8,144.7L157.7,143.7L159.6,142.7L161.4,141.6L162.9,140.6L164.1,139.6L164.9,138.7L165.2,137.9ZM164.6,144.3L164.4,144.7L163.6,145.3L162.5,145.9L161.0,146.8L159.2,147.7L157.3,148.7L155.4,149.8L153.7,150.9L152.1,152.0L151.0,153.0L150.2,153.9L149.9,154.8L149.5,161.2L149.8,160.7L150.5,160.2L151.7,159.5L153.2,158.7L154.9,157.7L156.8,156.7L158.7,155.6L160.4,154.5L162.0,153.4L163.1,152.4L163.9,151.5L164.2,150.7ZM163.8,157.2L163.5,157.6L162.8,158.2L161.6,158.9L160.1,159.7L158.4,160.7L156.5,161.7L154.6,162.8L152.9,163.9L151.3,165.0L150.2,166.0L149.4,166.9L149.1,167.7L148.7,174.1L149.0,173.7L149.7,173.2L150.9,172.5L152.4,171.7L154.2,170.7L156.0,169.7L157.9,168.6L159.7,167.5L161.2,166.4L162.4,165.4L163.1,164.4L163.4,163.6Z" fill="url(#hf12)"/></g>
<defs><linearGradient id="hf13" gradientUnits="userSpaceOnUse" x1="221.6" y1="78.6" x2="235.4" y2="78.4"><stop offset="0" stop-color="#968888"/><stop offset="0.35" stop-color="#e6d2d2"/><stop offset="0.62" stop-color="#efe2e2"/><stop offset="1" stop-color="#e6d2d2"/></linearGradient><linearGradient id="hb13" gradientUnits="userSpaceOnUse" x1="221.6" y1="78.6" x2="235.4" y2="78.4"><stop offset="0" stop-color="#b6a6a6"/><stop offset="0.45" stop-color="#eee0e0"/><stop offset="1" stop-color="#f6eeee"/></linearGradient></defs><g opacity="0.75"><path d="M222.2,48.8L222.5,49.2L223.1,49.3L224.0,49.4L225.3,49.3L226.7,49.2L228.3,49.1L229.8,49.0L231.3,49.0L232.5,49.1L233.5,49.3L234.1,49.7L234.4,50.3L234.6,54.1L234.4,53.8L233.8,53.6L232.8,53.6L231.6,53.6L230.2,53.8L228.6,53.9L227.1,54.0L225.6,54.0L224.4,53.9L223.4,53.7L222.8,53.3L222.5,52.7ZM223.1,61.8L223.4,62.1L224.0,62.3L224.9,62.3L226.2,62.3L227.6,62.2L229.2,62.1L230.7,62.0L232.2,62.0L233.4,62.1L234.4,62.4L235.0,62.8L235.3,63.3L235.5,67.2L235.3,66.8L234.7,66.7L233.7,66.6L232.5,66.6L231.0,66.7L229.5,66.9L227.9,66.9L226.5,66.9L225.2,66.8L224.3,66.6L223.6,66.2L223.4,65.6ZM223.8,74.6L224.1,74.9L224.7,75.1L225.6,75.2L226.9,75.2L228.3,75.1L229.9,75.0L231.4,75.0L232.9,75.1L234.1,75.2L235.1,75.5L235.8,76.0L236.0,76.6L236.0,80.5L235.8,80.1L235.2,79.8L234.2,79.8L233.0,79.7L231.6,79.8L230.0,79.8L228.5,79.9L227.0,79.9L225.8,79.7L224.8,79.4L224.2,79.0L224.0,78.5ZM224.0,87.2L224.2,87.6L224.8,87.8L225.7,88.0L227.0,88.0L228.4,88.0L230.0,88.0L231.5,88.1L233.0,88.2L234.2,88.4L235.1,88.8L235.7,89.3L235.9,89.9L235.8,93.7L235.6,93.4L235.0,93.1L234.1,93.0L232.8,92.9L231.4,92.9L229.8,92.8L228.3,92.8L226.8,92.7L225.6,92.5L224.7,92.1L224.1,91.7L223.9,91.1ZM223.5,100.1L223.7,100.4L224.3,100.7L225.3,100.8L226.5,100.9L227.9,101.0L229.5,101.0L231.1,101.1L232.5,101.3L233.7,101.5L234.7,101.9L235.2,102.3L235.4,102.9L235.2,106.8L235.0,106.4L234.5,106.2L233.5,106.0L232.3,105.9L230.8,105.9L229.3,105.8L227.7,105.7L226.3,105.6L225.1,105.3L224.1,105.0L223.5,104.5L223.4,103.9Z" fill="url(#hb13)" opacity="1.0"/><path d="M227.8,41.0L227.0,41.6L226.3,42.2L225.6,42.8L224.9,43.4L224.3,44.0L223.7,44.6L223.2,45.2L222.8,45.7L222.5,46.2L222.3,46.7L222.2,47.2L222.1,47.6L222.6,53.9L222.6,53.8L222.8,53.5L223.0,53.2L223.3,52.9L223.7,52.5L224.2,52.1L224.8,51.7L225.4,51.2L226.0,50.7L226.8,50.1L227.5,49.6L228.2,49.0ZM234.3,49.0L234.1,49.4L233.5,50.0L232.6,50.8L231.5,51.8L230.1,52.8L228.6,54.0L227.1,55.2L225.8,56.4L224.6,57.6L223.7,58.7L223.2,59.7L223.1,60.5L223.5,66.9L223.6,66.5L224.2,65.9L225.1,65.1L226.3,64.2L227.7,63.1L229.2,62.0L230.6,60.7L232.0,59.5L233.2,58.3L234.1,57.2L234.6,56.2L234.7,55.4ZM235.2,62.1L235.0,62.5L234.5,63.1L233.6,63.9L232.4,64.8L231.0,65.8L229.5,66.9L228.0,68.1L226.6,69.3L225.4,70.5L224.5,71.6L224.0,72.5L223.8,73.3L224.1,79.7L224.2,79.3L224.8,78.7L225.8,78.0L227.0,77.1L228.4,76.1L229.9,74.9L231.4,73.7L232.8,72.5L234.0,71.4L234.8,70.3L235.4,69.3L235.6,68.5ZM236.0,75.3L235.8,75.7L235.2,76.4L234.3,77.1L233.0,77.9L231.6,78.9L230.0,79.9L228.5,81.0L227.0,82.2L225.8,83.2L224.8,84.2L224.2,85.2L224.0,86.0L223.9,92.4L224.1,92.0L224.7,91.4L225.7,90.8L227.0,89.9L228.4,89.0L230.0,87.9L231.6,86.8L233.0,85.7L234.3,84.6L235.2,83.6L235.8,82.6L236.0,81.7ZM236.0,88.6L235.8,89.0L235.2,89.6L234.2,90.2L232.9,91.0L231.4,91.9L229.8,92.9L228.2,94.0L226.8,95.1L225.5,96.1L224.5,97.1L223.8,98.0L223.6,98.8L223.3,105.2L223.5,104.8L224.2,104.3L225.1,103.6L226.4,102.8L227.9,101.9L229.5,100.9L231.1,99.9L232.6,98.8L233.9,97.8L234.9,96.7L235.5,95.8L235.8,95.0ZM235.5,101.7L235.3,102.0L234.9,102.4L234.2,102.9L233.3,103.5L232.2,104.1L231.0,104.9L229.7,105.7L228.3,106.5L227.1,107.4L225.9,108.3L224.8,109.1L224.0,110.0L223.7,117.2L224.6,116.7L225.6,116.0L226.7,115.3L228.0,114.5L229.3,113.7L230.6,112.8L231.9,111.9L232.9,111.1L233.9,110.2L234.6,109.4L235.0,108.7L235.2,108.1Z" fill="url(#hf13)"/></g>
<defs><linearGradient id="hf14" gradientUnits="userSpaceOnUse" x1="230.4" y1="169.4" x2="243.6" y2="165.6"><stop offset="0" stop-color="#968888"/><stop offset="0.35" stop-color="#e6d2d2"/><stop offset="0.62" stop-color="#efe2e2"/><stop offset="1" stop-color="#e6d2d2"/></linearGradient><linearGradient id="hb14" gradientUnits="userSpaceOnUse" x1="230.4" y1="169.4" x2="243.6" y2="165.6"><stop offset="0" stop-color="#b6a6a6"/><stop offset="0.45" stop-color="#eee0e0"/><stop offset="1" stop-color="#f6eeee"/></linearGradient></defs><g opacity="0.6"><path d="M227.5,155.2L227.8,155.5L228.4,155.5L229.3,155.3L230.5,154.9L231.9,154.4L233.3,153.9L234.8,153.4L236.2,153.0L237.5,152.8L238.5,152.7L239.2,153.0L239.6,153.5L240.8,157.1L240.5,156.8L239.9,156.8L238.9,157.0L237.7,157.4L236.4,157.9L234.9,158.4L233.4,158.9L232.1,159.3L230.8,159.5L229.8,159.6L229.1,159.3L228.7,158.8ZM231.5,167.3L231.8,167.6L232.5,167.6L233.4,167.4L234.6,167.1L236.0,166.7L237.5,166.2L239.0,165.8L240.4,165.5L241.7,165.4L242.7,165.4L243.5,165.8L243.8,166.3L244.7,170.0L244.5,169.7L243.8,169.6L242.9,169.8L241.7,170.0L240.3,170.4L238.8,170.8L237.3,171.2L235.9,171.6L234.7,171.8L233.7,171.7L233.0,171.5L232.7,171.0ZM234.6,179.5L234.9,179.7L235.5,179.8L236.5,179.7L237.7,179.5L239.1,179.2L240.6,178.8L242.2,178.5L243.6,178.3L244.8,178.2L245.8,178.3L246.5,178.6L246.8,179.1L247.7,182.8L247.4,182.6L246.8,182.5L245.8,182.6L244.6,182.8L243.2,183.1L241.7,183.5L240.1,183.8L238.7,184.0L237.5,184.1L236.5,184.0L235.8,183.7L235.5,183.2Z" fill="url(#hb14)" opacity="1.0"/><path d="M230.7,146.2L230.2,147.0L229.6,147.8L229.1,148.5L228.6,149.3L228.1,150.1L227.8,150.8L227.5,151.4L227.2,152.1L227.0,152.6L227.0,153.2L227.0,153.6L227.0,154.0L229.1,160.1L229.1,159.9L229.2,159.6L229.3,159.3L229.6,158.9L229.9,158.4L230.2,157.9L230.7,157.3L231.1,156.7L231.6,156.0L232.2,155.3L232.7,154.6L233.3,153.8ZM239.2,152.3L239.1,152.7L238.7,153.4L238.1,154.4L237.2,155.6L236.1,157.0L235.0,158.5L233.8,160.0L232.8,161.5L232.0,163.0L231.4,164.2L231.1,165.3L231.2,166.1L233.1,172.2L233.2,171.8L233.6,171.1L234.3,170.1L235.2,169.0L236.3,167.6L237.5,166.1L238.6,164.5L239.6,163.0L240.5,161.6L241.0,160.3L241.3,159.2L241.2,158.3ZM243.5,165.0L243.4,165.5L243.0,166.2L242.3,167.1L241.3,168.3L240.1,169.5L238.8,170.9L237.6,172.3L236.4,173.8L235.5,175.1L234.8,176.3L234.4,177.4L234.4,178.2L235.7,184.5L235.9,184.0L236.3,183.3L237.1,182.5L238.2,181.3L239.4,180.1L240.6,178.7L241.9,177.3L243.1,175.8L244.0,174.4L244.7,173.2L245.1,172.1L245.1,171.2ZM246.5,177.8L246.5,177.9L246.5,177.9L246.5,178.0L246.5,178.0L246.5,178.0L246.5,178.1L246.5,178.1L246.4,178.2L246.4,178.2L246.4,178.3L246.3,178.4L246.3,178.4L247.9,185.2L247.9,185.1L247.9,185.0L247.9,184.9L247.9,184.8L248.0,184.7L248.0,184.6L248.0,184.5L248.0,184.4L248.0,184.3L248.0,184.2L248.0,184.2L247.9,184.1Z" fill="url(#hf14)"/></g>
<defs><linearGradient id="hf15" gradientUnits="userSpaceOnUse" x1="192.5" y1="140.5" x2="209.5" y2="137.5"><stop offset="0" stop-color="#826969"/><stop offset="0.35" stop-color="#c8a2a2"/><stop offset="0.62" stop-color="#dbc3c3"/><stop offset="1" stop-color="#c8a2a2"/></linearGradient><linearGradient id="hb15" gradientUnits="userSpaceOnUse" x1="192.5" y1="140.5" x2="209.5" y2="137.5"><stop offset="0" stop-color="#9e8080"/><stop offset="0.45" stop-color="#d8bebe"/><stop offset="1" stop-color="#eadbdb"/></linearGradient></defs><g opacity="1.0"><path d="M187.1,104.9L187.4,105.2L188.2,105.3L189.4,105.1L190.9,104.8L192.7,104.4L194.6,104.0L196.5,103.6L198.3,103.3L199.8,103.2L201.0,103.2L201.8,103.5L202.2,104.1L202.7,108.0L202.4,107.7L201.6,107.6L200.5,107.8L198.9,108.1L197.2,108.4L195.3,108.9L193.4,109.3L191.6,109.6L190.0,109.7L188.8,109.6L188.0,109.4L187.7,108.8ZM188.9,117.8L189.2,118.1L190.0,118.1L191.2,118.0L192.7,117.7L194.5,117.3L196.4,116.9L198.3,116.5L200.1,116.2L201.6,116.0L202.8,116.1L203.6,116.4L204.0,116.9L204.5,120.8L204.2,120.5L203.5,120.5L202.3,120.6L200.8,120.9L199.0,121.3L197.1,121.7L195.2,122.1L193.4,122.4L191.9,122.6L190.6,122.5L189.8,122.2L189.5,121.7ZM190.9,130.7L191.2,131.0L191.9,131.1L193.1,130.9L194.6,130.6L196.4,130.2L198.3,129.7L200.2,129.3L202.0,129.0L203.5,128.8L204.7,128.8L205.5,129.1L205.9,129.6L206.5,133.5L206.2,133.2L205.4,133.2L204.2,133.4L202.7,133.7L201.0,134.1L199.1,134.6L197.2,135.0L195.4,135.3L193.8,135.5L192.6,135.5L191.8,135.2L191.5,134.6ZM193.1,143.8L193.4,144.1L194.2,144.1L195.3,143.9L196.8,143.5L198.6,143.1L200.5,142.5L202.3,142.1L204.1,141.7L205.6,141.4L206.8,141.4L207.7,141.7L208.0,142.2L208.8,146.0L208.5,145.8L207.7,145.8L206.5,146.0L205.0,146.4L203.3,146.9L201.4,147.4L199.5,147.9L197.7,148.2L196.2,148.5L195.0,148.5L194.2,148.2L193.8,147.6ZM195.7,156.7L196.0,157.0L196.8,157.0L197.9,156.8L199.4,156.4L201.2,155.8L203.0,155.3L204.9,154.8L206.7,154.3L208.2,154.1L209.4,154.1L210.2,154.3L210.6,154.8L211.4,158.6L211.1,158.4L210.3,158.4L209.2,158.6L207.7,159.0L205.9,159.5L204.1,160.1L202.2,160.6L200.4,161.0L198.9,161.3L197.7,161.3L196.9,161.1L196.5,160.6ZM198.4,169.5L198.8,169.7L199.5,169.7L200.7,169.5L202.2,169.1L203.9,168.6L205.8,168.0L207.7,167.5L209.4,167.0L211.0,166.8L212.2,166.7L213.0,167.0L213.4,167.5L214.2,171.3L213.9,171.0L213.1,171.0L212.0,171.3L210.5,171.7L208.7,172.2L206.9,172.8L205.0,173.3L203.2,173.8L201.7,174.0L200.5,174.1L199.7,173.8L199.3,173.3Z" fill="url(#hb15)" opacity="1.0"/><path d="M193.4,95.9L192.5,96.7L191.7,97.5L190.8,98.2L190.1,99.0L189.3,99.7L188.7,100.4L188.1,101.0L187.7,101.7L187.3,102.2L187.1,102.8L187.0,103.2L186.9,103.6L187.9,110.1L187.9,109.9L188.1,109.7L188.3,109.3L188.7,109.0L189.2,108.5L189.8,108.0L190.5,107.5L191.2,106.9L192.0,106.2L192.9,105.5L193.7,104.8L194.6,104.1ZM202.0,102.8L201.8,103.2L201.1,103.9L200.0,104.9L198.6,106.0L197.0,107.4L195.3,108.8L193.5,110.3L191.9,111.8L190.5,113.2L189.5,114.5L188.9,115.6L188.8,116.5L189.7,123.0L189.9,122.5L190.5,121.8L191.6,120.9L193.0,119.7L194.6,118.4L196.4,116.9L198.1,115.4L199.8,113.9L201.1,112.5L202.2,111.2L202.8,110.1L202.9,109.3ZM203.8,115.6L203.6,116.0L202.9,116.7L201.9,117.7L200.4,118.9L198.8,120.2L197.1,121.7L195.3,123.2L193.7,124.7L192.4,126.2L191.4,127.5L190.8,128.6L190.7,129.4L191.7,135.9L191.8,135.5L192.5,134.8L193.6,133.8L194.9,132.6L196.6,131.3L198.3,129.8L200.0,128.3L201.6,126.8L203.0,125.3L204.0,124.0L204.6,122.9L204.7,122.1ZM205.6,128.3L205.4,128.7L204.8,129.5L203.7,130.4L202.4,131.6L200.7,133.0L199.0,134.5L197.3,136.1L195.8,137.7L194.5,139.2L193.5,140.5L192.9,141.6L192.8,142.5L194.0,148.9L194.2,148.5L194.8,147.7L195.8,146.8L197.2,145.5L198.8,144.1L200.5,142.6L202.2,141.0L203.7,139.5L205.0,138.1L206.0,136.7L206.6,135.6L206.7,134.8ZM207.8,140.9L207.6,141.3L207.0,142.1L205.9,143.1L204.6,144.3L203.0,145.8L201.4,147.3L199.7,148.9L198.2,150.5L196.9,152.1L196.0,153.4L195.5,154.5L195.4,155.4L196.8,161.8L196.9,161.4L197.5,160.6L198.5,159.6L199.8,158.3L201.4,156.9L203.0,155.4L204.7,153.7L206.2,152.2L207.5,150.6L208.4,149.3L209.0,148.2L209.0,147.3ZM210.3,153.5L210.2,154.0L209.5,154.7L208.5,155.7L207.2,157.0L205.7,158.5L204.1,160.0L202.4,161.7L200.9,163.3L199.7,164.8L198.7,166.2L198.2,167.3L198.2,168.2L199.6,174.6L199.7,174.1L200.3,173.4L201.3,172.4L202.6,171.1L204.2,169.6L205.8,168.1L207.4,166.4L208.9,164.8L210.2,163.3L211.1,161.9L211.6,160.8L211.7,159.9ZM213.1,166.2L213.0,166.5L212.7,166.9L212.3,167.5L211.6,168.2L210.7,169.0L209.8,170.0L208.7,171.0L207.6,172.1L206.4,173.2L205.3,174.3L204.2,175.5L203.2,176.5L204.9,184.3L205.9,183.3L207.0,182.3L208.1,181.2L209.3,180.1L210.4,178.9L211.5,177.8L212.4,176.7L213.2,175.7L213.8,174.7L214.3,173.9L214.5,173.2L214.5,172.6Z" fill="url(#hf15)"/></g>
<defs><linearGradient id="hf16" gradientUnits="userSpaceOnUse" x1="165.8" y1="110.2" x2="184.2" y2="111.8"><stop offset="0" stop-color="#684646"/><stop offset="0.35" stop-color="#a06c6c"/><stop offset="0.62" stop-color="#c19f9f"/><stop offset="1" stop-color="#a06c6c"/></linearGradient><linearGradient id="hb16" gradientUnits="userSpaceOnUse" x1="165.8" y1="110.2" x2="184.2" y2="111.8"><stop offset="0" stop-color="#7e5555"/><stop offset="0.45" stop-color="#bc9898"/><stop offset="1" stop-color="#dac6c6"/></linearGradient></defs><g opacity="1.0"><path d="M170.9,67.7L171.1,68.1L171.9,68.2L173.2,68.3L174.9,68.2L176.8,68.1L178.9,67.9L180.9,67.8L182.9,67.8L184.5,67.9L185.8,68.1L186.6,68.5L186.8,69.1L186.7,73.2L186.4,72.9L185.6,72.8L184.4,72.7L182.7,72.8L180.8,72.9L178.7,73.1L176.6,73.2L174.7,73.2L173.0,73.1L171.8,72.9L171.0,72.4L170.7,71.9ZM170.5,80.7L170.7,81.0L171.5,81.2L172.8,81.2L174.5,81.2L176.4,81.0L178.5,80.9L180.6,80.8L182.5,80.8L184.1,80.9L185.4,81.2L186.2,81.6L186.5,82.2L186.3,86.3L186.0,86.0L185.2,85.8L184.0,85.8L182.3,85.8L180.4,85.9L178.3,86.1L176.2,86.2L174.3,86.2L172.6,86.1L171.4,85.9L170.6,85.4L170.3,84.9ZM170.0,93.6L170.3,93.9L171.0,94.1L172.3,94.1L174.0,94.1L175.9,94.0L178.0,93.9L180.1,93.8L182.0,93.9L183.7,94.0L184.9,94.3L185.7,94.7L185.9,95.3L185.7,99.4L185.5,99.1L184.7,98.9L183.4,98.8L181.7,98.9L179.8,99.0L177.7,99.1L175.7,99.1L173.7,99.1L172.1,99.0L170.8,98.8L170.1,98.3L169.8,97.7ZM169.3,106.4L169.5,106.7L170.3,106.9L171.6,106.9L173.2,106.9L175.2,106.9L177.3,106.9L179.3,106.9L181.3,107.0L182.9,107.2L184.2,107.5L184.9,108.0L185.2,108.6L184.8,112.7L184.5,112.3L183.8,112.1L182.5,112.0L180.8,112.0L178.9,112.0L176.8,112.0L174.8,112.0L172.8,112.0L171.2,111.8L170.0,111.5L169.2,111.1L169.0,110.5ZM168.0,119.0L168.3,119.3L169.1,119.6L170.3,119.7L172.0,119.7L173.9,119.8L176.0,119.8L178.1,119.9L180.0,120.1L181.7,120.3L182.9,120.7L183.6,121.1L183.8,121.7L183.4,125.8L183.1,125.5L182.3,125.3L181.1,125.1L179.4,125.0L177.5,125.0L175.4,124.9L173.3,124.9L171.4,124.7L169.8,124.5L168.6,124.2L167.8,123.7L167.6,123.1ZM166.5,131.8L166.7,132.1L167.5,132.3L168.7,132.5L170.4,132.6L172.3,132.7L174.4,132.7L176.5,132.8L178.4,133.0L180.1,133.3L181.3,133.6L182.0,134.1L182.2,134.7L181.7,138.8L181.5,138.5L180.7,138.3L179.4,138.1L177.8,138.0L175.8,137.9L173.7,137.8L171.7,137.7L169.7,137.6L168.1,137.3L166.9,136.9L166.1,136.5L165.9,135.8ZM164.8,144.6L165.0,144.9L165.8,145.2L167.0,145.3L168.7,145.4L170.6,145.5L172.7,145.6L174.8,145.7L176.7,145.9L178.3,146.2L179.5,146.6L180.3,147.0L180.5,147.7L179.9,151.7L179.7,151.4L178.9,151.2L177.7,151.0L176.0,150.9L174.1,150.8L172.0,150.7L169.9,150.6L168.0,150.4L166.3,150.1L165.1,149.8L164.4,149.3L164.2,148.7ZM163.0,157.5L163.0,157.5L163.0,157.6L163.0,157.6L163.0,157.6L163.0,157.6L163.0,157.6L163.0,157.6L163.0,157.6L163.0,157.6L163.0,157.6L163.0,157.7L163.0,157.7L162.5,161.8L162.5,161.8L162.5,161.8L162.5,161.8L162.5,161.8L162.5,161.8L162.5,161.7L162.5,161.7L162.5,161.7L162.5,161.7L162.5,161.7L162.5,161.6L162.5,161.6Z" fill="url(#hb16)" opacity="1.0"/><path d="M179.2,59.7L178.1,60.3L177.1,60.9L176.0,61.5L175.1,62.1L174.2,62.8L173.4,63.4L172.6,63.9L172.0,64.5L171.6,65.0L171.2,65.5L171.0,66.0L170.9,66.4L170.7,73.2L170.8,73.1L171.0,72.8L171.3,72.5L171.8,72.2L172.4,71.9L173.1,71.5L173.9,71.0L174.7,70.5L175.7,70.0L176.7,69.5L177.8,68.9L178.8,68.3ZM186.9,67.7L186.6,68.1L185.8,68.7L184.5,69.5L182.8,70.4L180.8,71.5L178.7,72.7L176.6,73.9L174.6,75.2L173.0,76.4L171.7,77.5L170.8,78.5L170.5,79.4L170.3,86.2L170.6,85.8L171.4,85.2L172.7,84.5L174.4,83.5L176.4,82.5L178.5,81.3L180.6,80.1L182.5,78.8L184.2,77.6L185.5,76.5L186.4,75.5L186.7,74.6ZM186.5,80.8L186.2,81.2L185.4,81.8L184.1,82.6L182.4,83.5L180.4,84.5L178.3,85.7L176.2,86.9L174.2,88.1L172.5,89.3L171.2,90.4L170.4,91.4L170.1,92.2L169.8,99.1L170.0,98.7L170.9,98.1L172.2,97.4L173.9,96.5L175.9,95.4L178.0,94.3L180.1,93.1L182.1,91.8L183.8,90.6L185.1,89.5L185.9,88.5L186.2,87.7ZM186.0,93.9L185.8,94.4L184.9,94.9L183.6,95.7L181.9,96.5L179.9,97.6L177.8,98.7L175.6,99.8L173.6,101.0L171.9,102.2L170.6,103.2L169.7,104.2L169.4,105.0L168.9,111.9L169.2,111.5L170.0,110.9L171.4,110.2L173.1,109.4L175.1,108.4L177.2,107.3L179.4,106.1L181.4,104.9L183.1,103.7L184.5,102.7L185.3,101.7L185.7,100.8ZM185.3,107.3L185.0,107.6L184.2,108.2L182.8,108.9L181.1,109.7L179.1,110.6L176.9,111.6L174.7,112.7L172.6,113.8L170.9,114.9L169.5,115.9L168.6,116.8L168.2,117.6L167.4,124.5L167.8,124.1L168.6,123.6L170.0,122.9L171.8,122.1L173.8,121.2L176.0,120.2L178.2,119.1L180.3,118.0L182.0,116.9L183.4,115.9L184.3,114.9L184.7,114.1ZM184.0,120.4L183.7,120.8L182.8,121.3L181.5,121.9L179.7,122.7L177.7,123.6L175.5,124.6L173.2,125.6L171.2,126.6L169.4,127.7L168.0,128.7L167.0,129.6L166.7,130.4L165.8,137.2L166.1,136.8L167.0,136.4L168.3,135.7L170.1,134.9L172.2,134.1L174.4,133.1L176.6,132.1L178.7,131.0L180.5,130.0L181.9,129.0L182.8,128.1L183.2,127.2ZM182.4,133.4L182.1,133.8L181.2,134.3L179.9,134.9L178.1,135.7L176.0,136.5L173.8,137.5L171.6,138.5L169.5,139.5L167.7,140.5L166.3,141.5L165.3,142.4L164.9,143.2L164.0,150.0L164.3,149.7L165.2,149.2L166.6,148.5L168.4,147.8L170.4,146.9L172.6,146.0L174.9,145.0L177.0,143.9L178.8,142.9L180.2,141.9L181.1,141.0L181.5,140.2ZM180.7,146.3L180.3,146.7L179.5,147.2L178.1,147.8L176.3,148.5L174.2,149.4L172.0,150.3L169.8,151.4L167.7,152.4L165.9,153.4L164.5,154.4L163.5,155.4L163.2,156.2L162.3,163.0L162.6,162.6L163.5,162.1L164.8,161.4L166.6,160.7L168.7,159.8L170.9,158.9L173.1,157.9L175.2,156.8L177.0,155.8L178.4,154.8L179.3,153.9L179.7,153.1Z" fill="url(#hf16)"/></g>
<defs><linearGradient id="hf17" gradientUnits="userSpaceOnUse" x1="210.9" y1="98.8" x2="229.1" y2="96.2"><stop offset="0" stop-color="#684646"/><stop offset="0.35" stop-color="#a06c6c"/><stop offset="0.62" stop-color="#c19f9f"/><stop offset="1" stop-color="#a06c6c"/></linearGradient><linearGradient id="hb17" gradientUnits="userSpaceOnUse" x1="210.9" y1="98.8" x2="229.1" y2="96.2"><stop offset="0" stop-color="#7e5555"/><stop offset="0.45" stop-color="#bc9898"/><stop offset="1" stop-color="#dac6c6"/></linearGradient></defs><g opacity="1.0"><path d="M206.2,55.8L206.5,56.1L207.3,56.0L208.6,55.7L210.1,55.2L212.0,54.5L213.9,53.8L215.9,53.1L217.7,52.6L219.4,52.2L220.6,52.1L221.5,52.3L221.9,52.8L222.9,56.8L222.6,56.6L221.8,56.6L220.6,56.9L219.0,57.5L217.2,58.1L215.2,58.8L213.2,59.5L211.4,60.0L209.8,60.4L208.5,60.5L207.6,60.3L207.2,59.8ZM209.3,68.4L209.7,68.6L210.5,68.6L211.7,68.2L213.3,67.7L215.1,67.1L217.1,66.4L219.1,65.8L220.9,65.3L222.6,64.9L223.8,64.8L224.7,65.1L225.1,65.6L226.1,69.6L225.7,69.4L224.9,69.4L223.7,69.7L222.1,70.2L220.2,70.8L218.3,71.4L216.3,72.1L214.4,72.6L212.8,72.9L211.6,73.1L210.7,72.9L210.3,72.4ZM212.1,80.8L212.4,81.0L213.2,80.9L214.5,80.7L216.1,80.2L217.9,79.7L220.0,79.1L222.0,78.6L223.9,78.1L225.6,78.0L226.9,78.0L227.7,78.2L228.1,78.7L228.7,82.8L228.4,82.5L227.6,82.5L226.4,82.8L224.7,83.1L222.9,83.6L220.9,84.2L218.9,84.7L217.0,85.2L215.4,85.4L214.1,85.5L213.3,85.3L212.9,84.8ZM214.0,92.9L214.3,93.2L215.1,93.1L216.3,93.0L218.0,92.7L219.9,92.4L221.9,91.9L224.0,91.6L225.9,91.3L227.6,91.3L228.9,91.4L229.7,91.7L230.0,92.3L230.3,96.4L230.0,96.1L229.2,96.0L228.0,96.1L226.3,96.3L224.4,96.7L222.4,97.1L220.4,97.5L218.5,97.7L216.8,97.8L215.5,97.8L214.7,97.5L214.4,97.0ZM214.9,105.5L215.2,105.8L216.0,105.9L217.3,105.8L219.0,105.5L220.9,105.2L222.9,104.9L225.0,104.6L226.9,104.4L228.6,104.4L229.8,104.5L230.7,104.8L231.0,105.4L231.2,109.5L230.9,109.2L230.1,109.1L228.9,109.2L227.2,109.4L225.3,109.7L223.2,110.1L221.2,110.3L219.3,110.6L217.6,110.6L216.3,110.5L215.5,110.2L215.2,109.6ZM215.8,118.6L216.1,118.9L216.9,119.0L218.2,118.9L219.9,118.6L221.8,118.3L223.8,117.9L225.8,117.5L227.7,117.2L229.4,117.1L230.7,117.2L231.5,117.4L231.8,118.0L232.3,122.1L232.0,121.8L231.1,121.8L229.9,121.9L228.3,122.2L226.3,122.6L224.3,123.0L222.2,123.4L220.3,123.6L218.7,123.7L217.3,123.6L216.5,123.3L216.2,122.7ZM217.3,131.8L217.6,132.1L218.4,132.1L219.7,132.0L221.3,131.7L223.2,131.3L225.2,130.8L227.2,130.4L229.1,130.1L230.8,129.9L232.1,129.9L232.9,130.2L233.2,130.8L233.8,134.8L233.5,134.6L232.7,134.5L231.4,134.7L229.8,135.0L227.9,135.5L225.8,135.9L223.8,136.3L221.9,136.7L220.2,136.8L219.0,136.8L218.1,136.5L217.8,135.9ZM218.9,144.8L219.0,144.9L219.0,145.0L219.2,145.0L219.4,145.1L219.6,145.1L219.9,145.1L220.2,145.1L220.5,145.0L220.9,144.9L221.4,144.9L221.8,144.8L222.3,144.7L222.9,149.6L222.4,149.7L222.0,149.7L221.5,149.7L221.1,149.7L220.8,149.7L220.4,149.6L220.1,149.6L219.9,149.5L219.7,149.4L219.6,149.2L219.5,149.1L219.4,148.9Z" fill="url(#hb17)" opacity="1.0"/><path d="M212.0,45.8L211.1,46.7L210.3,47.5L209.5,48.4L208.7,49.3L208.0,50.1L207.4,50.9L206.9,51.7L206.4,52.4L206.1,53.0L205.9,53.6L205.8,54.1L205.8,54.5L207.5,61.1L207.5,60.9L207.7,60.7L207.9,60.3L208.3,59.9L208.7,59.4L209.3,58.8L210.0,58.1L210.7,57.4L211.4,56.7L212.2,55.9L213.1,55.0L214.0,54.2ZM221.6,51.5L221.4,51.9L220.8,52.7L219.8,53.8L218.4,55.2L216.8,56.7L215.1,58.4L213.4,60.2L211.9,61.9L210.5,63.5L209.6,65.0L209.1,66.2L209.0,67.0L210.6,73.7L210.8,73.3L211.4,72.5L212.5,71.4L213.9,70.0L215.5,68.5L217.2,66.8L218.9,65.0L220.4,63.3L221.7,61.7L222.7,60.2L223.2,59.0L223.3,58.1ZM224.8,64.2L224.7,64.7L224.0,65.5L223.0,66.6L221.6,67.9L220.0,69.4L218.2,71.1L216.5,72.8L214.9,74.4L213.5,76.0L212.5,77.4L211.9,78.5L211.8,79.4L213.2,86.2L213.4,85.7L214.1,85.0L215.2,83.9L216.6,82.6L218.3,81.1L220.1,79.5L221.8,77.8L223.4,76.1L224.7,74.5L225.7,73.0L226.3,71.8L226.4,70.9ZM227.8,77.4L227.8,77.9L227.1,78.7L225.9,79.6L224.5,80.9L222.8,82.3L220.9,83.8L219.0,85.3L217.3,86.8L215.8,88.3L214.7,89.6L214.0,90.6L213.8,91.5L214.6,98.4L214.8,97.9L215.6,97.3L216.7,96.3L218.3,95.2L220.1,93.8L222.0,92.3L223.9,90.8L225.6,89.2L227.1,87.7L228.2,86.3L228.8,85.2L229.0,84.2ZM229.9,90.9L229.7,91.4L228.9,92.0L227.7,92.9L226.2,94.1L224.3,95.3L222.4,96.7L220.4,98.1L218.6,99.6L217.0,100.9L215.8,102.2L215.1,103.2L214.9,104.1L215.3,111.0L215.5,110.5L216.3,109.9L217.5,109.0L219.1,107.9L221.0,106.7L223.0,105.3L224.9,103.8L226.8,102.4L228.4,101.0L229.5,99.7L230.2,98.7L230.5,97.8ZM230.9,104.0L230.6,104.4L229.9,105.1L228.6,106.0L227.0,107.0L225.2,108.3L223.2,109.7L221.2,111.1L219.4,112.6L217.8,114.0L216.6,115.2L215.9,116.3L215.7,117.2L216.3,124.1L216.5,123.6L217.2,122.9L218.4,122.0L220.0,120.9L221.8,119.6L223.8,118.3L225.8,116.8L227.6,115.4L229.2,114.0L230.4,112.8L231.1,111.7L231.3,110.9ZM231.7,116.6L231.4,117.0L230.7,117.7L229.5,118.7L228.0,119.8L226.2,121.2L224.3,122.6L222.3,124.2L220.6,125.7L219.1,127.1L217.9,128.4L217.3,129.6L217.1,130.4L217.9,137.3L218.1,136.8L218.9,136.1L220.0,135.2L221.6,134.0L223.3,132.6L225.2,131.2L227.1,129.7L228.9,128.2L230.4,126.7L231.5,125.4L232.2,124.3L232.4,123.4ZM233.1,129.4L232.9,129.8L232.1,130.5L231.0,131.5L229.5,132.7L227.7,134.1L225.8,135.5L223.9,137.1L222.2,138.6L220.7,140.1L219.6,141.4L218.9,142.5L218.7,143.4L219.6,150.2L219.8,149.8L220.5,149.1L221.7,148.1L223.2,146.9L225.0,145.6L226.9,144.1L228.8,142.5L230.5,141.0L232.0,139.5L233.1,138.2L233.8,137.1L233.9,136.2Z" fill="url(#hf17)"/></g>
<path d="M177.6,21.7L177.6,21.9L177.7,22.2L177.8,22.6L177.9,22.9L178.1,23.3L178.2,23.8L178.3,24.2L178.5,24.7L178.6,25.2L178.8,25.7L178.9,26.2L179.0,26.7L179.1,27.2L179.2,27.7L179.2,28.2L179.2,28.7L179.2,29.2L179.2,29.6L179.1,30.0L179.0,30.4L178.8,30.8L178.6,31.1L178.3,31.4L178.0,31.8L177.7,32.1L177.3,32.4L176.9,32.7L176.5,33.0L176.1,33.3L175.7,33.5L175.2,33.8L174.8,34.1L174.4,34.4L173.9,34.6L173.5,34.9L173.1,35.2L172.7,35.4L172.4,35.7L172.1,36.0L171.8,36.3L171.5,36.6L171.3,36.9L171.1,37.2L170.8,37.5L170.6,37.8L170.4,38.0L170.1,38.3L169.9,38.6L169.8,38.9L169.6,39.2L169.4,39.5L169.3,39.8L169.1,40.1L169.0,40.4L168.9,40.6L168.9,40.9L168.8,41.2L168.8,41.5L168.8,41.8L168.8,42.1L168.8,42.4L168.9,42.7L169.0,43.0L169.1,43.3L169.2,43.6L169.4,43.9L169.6,44.2L169.7,44.5L170.0,44.8L170.2,45.1L170.4,45.3L170.7,45.6L170.9,45.9L171.2,46.2L171.5,46.5L171.8,46.8L172.2,47.1L172.5,47.4L172.8,47.7L173.2,48.0L173.6,48.3L174.0,48.6L174.4,48.9L174.9,49.2L175.4,49.6L175.9,49.9L176.4,50.2L176.9,50.5L177.5,50.9L178.0,51.2L178.6,51.5L179.1,51.8L179.7,52.1L180.3,52.4L180.8,52.7L181.4,52.9L181.9,53.2L182.4,53.4L182.9,53.6L183.4,53.8L183.9,54.0L184.3,54.2L184.8,54.3L185.2,54.5L185.7,54.6L186.1,54.8L186.6,54.9L187.0,55.0L187.5,55.1L187.9,55.2L188.3,55.3L188.7,55.3L189.2,55.4L189.6,55.4L190.0,55.4L190.5,55.4L190.9,55.4L191.3,55.4L191.8,55.4L192.2,55.3L192.6,55.2L193.1,55.1L193.6,55.0L194.0,54.8L194.5,54.6L195.0,54.4L195.4,54.2L195.9,54.0L196.4,53.7L196.8,53.5L197.3,53.2L197.8,53.0L198.2,52.7L198.6,52.4L199.1,52.2L199.5,51.9L199.9,51.6L200.3,51.4L200.6,51.1L201.0,50.9L201.3,50.7L201.7,50.4L202.0,50.1L202.3,49.9L202.6,49.6L202.9,49.3L203.2,49.0L203.5,48.7L203.8,48.5L204.1,48.2L204.3,47.9L204.5,47.6L204.8,47.4L205.0,47.1L205.2,46.9L205.4,46.7L205.6,46.5L205.7,46.3L205.9,46.1L206.0,46.0" stroke="#dcc6c6" stroke-width="1.2" fill="none" opacity="1.0" stroke-linecap="round" stroke-linejoin="round"/>
<path d="M170.3,49.4L170.4,49.6L170.5,49.8L170.6,50.0L170.7,50.2L170.8,50.5L170.9,50.7L171.0,51.0L171.2,51.3L171.3,51.7L171.5,52.0L171.6,52.3L171.8,52.7L172.0,53.0L172.1,53.4L172.3,53.7L172.5,54.0L172.7,54.4L172.8,54.7L173.0,55.0L173.2,55.3L173.4,55.6L173.6,55.9L173.8,56.2L174.1,56.6L174.3,56.9L174.5,57.2L174.8,57.6L175.1,57.9L175.3,58.2L175.6,58.6L175.8,58.9L176.1,59.2L176.3,59.5L176.6,59.8L176.8,60.1L177.0,60.3L177.2,60.5L177.3,60.8L177.5,60.9L177.6,61.1" stroke="#b08080" stroke-width="1.2" fill="none" opacity="1.0" stroke-linecap="round" stroke-linejoin="round"/>
<path d="M218.5,26.0L218.7,26.2L219.0,26.4L219.3,26.7L219.6,27.0L219.9,27.3L220.3,27.6L220.8,28.0L221.2,28.4L221.6,28.8L222.1,29.2L222.5,29.6L223.0,30.0L223.4,30.4L223.8,30.9L224.2,31.3L224.6,31.7L225.0,32.1L225.3,32.6L225.6,33.0L225.8,33.4L226.0,33.8L226.2,34.2L226.3,34.7L226.5,35.1L226.6,35.6L226.6,36.1L226.7,36.5L226.8,37.0L226.8,37.5L226.8,38.0L226.9,38.4L226.9,38.9L226.9,39.4L226.9,39.8L227.0,40.2L227.0,40.6L227.0,41.0L227.1,41.4L227.1,41.8L227.2,42.1L227.3,42.4L227.4,42.7L227.5,43.0L227.6,43.2L227.7,43.5L227.8,43.7L227.9,44.0L228.0,44.2L228.1,44.4L228.2,44.6L228.3,44.8L228.4,45.0L228.5,45.1L228.6,45.3L228.7,45.4L228.7,45.5L228.8,45.7L228.9,45.8L229.0,45.9L229.0,46.0" stroke="#e2d0d0" stroke-width="1.1" fill="none" opacity="1.0" stroke-linecap="round" stroke-linejoin="round"/>
<path d="M198.0,39.2L198.1,39.2L198.2,39.1L198.4,39.1L198.6,39.0L198.7,38.9L198.9,38.8L199.1,38.8L199.3,38.7L199.5,38.6L199.7,38.5L200.0,38.4L200.2,38.4L200.5,38.3L200.7,38.3L201.0,38.2L201.3,38.2L201.5,38.2L201.8,38.2L202.1,38.2L202.4,38.3L202.7,38.4L203.0,38.5L203.4,38.6L203.7,38.7L204.1,38.9L204.5,39.0L204.9,39.2L205.3,39.4L205.7,39.6L206.1,39.8L206.6,40.0L207.0,40.2L207.4,40.4L207.7,40.7L208.1,40.9L208.5,41.1L208.8,41.4L209.1,41.6L209.4,41.9L209.7,42.1L209.9,42.4L210.2,42.6L210.4,42.9L210.6,43.2L210.8,43.6L211.0,43.9L211.2,44.2L211.3,44.6L211.5,44.9L211.6,45.3L211.7,45.6L211.9,46.0L212.0,46.3L212.1,46.6L212.2,46.9L212.3,47.2L212.4,47.4L212.4,47.6L212.5,47.8L212.6,48.0" stroke="#a87878" stroke-width="1.3" fill="none" opacity="1.0" stroke-linecap="round" stroke-linejoin="round"/>
<path d="M212.6,43.6L212.8,43.5L213.0,43.4L213.2,43.3L213.4,43.1L213.7,42.9L214.0,42.8L214.3,42.6L214.6,42.4L214.9,42.2L215.3,42.0L215.6,41.8L216.0,41.6L216.3,41.4L216.7,41.2L217.0,41.1L217.3,41.0L217.6,40.8L217.9,40.8L218.2,40.7L218.5,40.7L218.8,40.7L219.0,40.7L219.3,40.8L219.6,40.9L219.9,41.0L220.1,41.1L220.4,41.2L220.7,41.4L220.9,41.5L221.2,41.7L221.4,41.9L221.7,42.1L221.9,42.2L222.1,42.4L222.3,42.6L222.4,42.8L222.6,43.0L222.7,43.2L222.7,43.4L222.8,43.6L222.8,43.8L222.8,44.0L222.8,44.2L222.7,44.5L222.7,44.7L222.6,45.0L222.4,45.2L222.3,45.5L222.2,45.8L222.0,46.0L221.8,46.3L221.6,46.6L221.4,46.8L221.2,47.0L221.0,47.2L220.8,47.4L220.6,47.6L220.3,47.8L220.1,47.9L219.9,48.0L219.7,48.1L219.4,48.1L219.1,48.1L218.8,48.1L218.5,48.1L218.2,48.1L217.8,48.0L217.5,47.9L217.1,47.9L216.8,47.8L216.4,47.7L216.1,47.6L215.7,47.5L215.4,47.4L215.1,47.3L214.9,47.2L214.6,47.1L214.4,47.1L214.2,47.0L214.0,47.0" stroke="#a87474" stroke-width="1.4" fill="none" opacity="1.0" stroke-linecap="round" stroke-linejoin="round"/>
<path d="M161.0,158.6L161.1,158.7L161.1,158.8L161.2,158.9L161.3,159.0L161.3,159.2L161.4,159.3L161.5,159.5L161.6,159.6L161.7,159.8L161.8,160.0L161.9,160.2L162.0,160.4L162.1,160.6L162.3,160.8L162.4,161.0L162.6,161.2L162.8,161.4L163.0,161.6L163.2,161.9L163.4,162.1L163.6,162.3L163.9,162.6L164.2,162.9L164.5,163.2L164.8,163.5L165.1,163.8L165.4,164.1L165.8,164.5L166.2,164.8L166.5,165.1L166.9,165.5L167.3,165.8L167.7,166.1L168.1,166.4L168.5,166.7L168.9,167.0L169.3,167.3L169.7,167.5L170.1,167.8L170.5,168.0L170.9,168.2L171.3,168.4L171.7,168.6L172.1,168.7L172.6,168.9L173.0,169.0L173.4,169.1L173.8,169.2L174.3,169.3L174.7,169.4L175.2,169.5L175.6,169.6L176.1,169.7L176.6,169.8L177.1,169.9L177.6,170.0L178.1,170.0L178.7,170.1L179.2,170.2L179.8,170.3L180.4,170.4L181.1,170.4L181.8,170.5L182.5,170.5L183.2,170.6L184.0,170.6L184.8,170.6L185.6,170.6L186.4,170.7L187.2,170.7L188.0,170.7L188.8,170.7L189.6,170.8L190.3,170.8L191.0,170.9L191.7,171.0L192.3,171.1L192.9,171.2L193.4,171.3L193.9,171.5L194.3,171.7L194.7,171.9L195.0,172.1L195.3,172.3L195.6,172.5L195.8,172.8L196.0,173.0L196.2,173.3L196.3,173.6L196.5,173.9L196.6,174.2L196.7,174.5L196.8,174.8L196.9,175.2L196.9,175.5L197.0,175.8L197.1,176.2L197.2,176.6L197.3,176.9L197.4,177.3L197.5,177.7L197.6,178.1L197.6,178.6L197.7,179.1L197.7,179.6L197.7,180.1L197.8,180.7L197.8,181.2L197.8,181.7L197.8,182.3L197.8,182.8L197.8,183.4L197.8,183.9L197.9,184.4L197.9,184.8L198.0,185.3L198.1,185.7L198.3,186.1L198.4,186.4L198.6,186.7L198.8,186.9L199.1,187.1L199.4,187.3L199.7,187.4L200.0,187.5L200.4,187.5L200.8,187.5L201.2,187.5L201.6,187.5L202.0,187.5L202.4,187.5L202.8,187.5L203.2,187.5L203.6,187.5L204.0,187.5L204.3,187.5L204.7,187.5L205.0,187.6L205.3,187.7L205.6,187.9L205.9,188.1L206.1,188.3L206.3,188.6L206.5,188.9L206.7,189.2L206.9,189.6L207.1,190.0L207.3,190.3L207.4,190.7L207.6,191.1L207.8,191.5L207.9,191.8L208.1,192.2L208.2,192.5L208.3,192.8L208.5,193.1L208.6,193.3L208.8,193.5L208.9,193.6L209.1,193.7L209.3,193.7L209.4,193.7L209.6,193.7L209.7,193.6L209.9,193.5L210.0,193.4L210.2,193.3L210.3,193.1L210.5,192.9L210.6,192.7L210.8,192.5L210.9,192.2L211.1,192.0L211.2,191.7L211.4,191.4L211.5,191.2L211.6,190.9L211.7,190.6L211.9,190.3L212.0,190.0L212.1,189.7L212.2,189.3L212.4,189.0L212.5,188.5L212.6,188.1L212.7,187.7L212.8,187.2L213.0,186.7L213.1,186.2L213.2,185.8L213.3,185.3L213.4,184.8L213.5,184.4L213.6,183.9L213.7,183.5L213.7,183.2L213.8,182.8L213.9,182.5L213.9,182.2L214.0,182.0" stroke="#a87676" stroke-width="1.2" fill="none" opacity="1.0" stroke-linecap="round" stroke-linejoin="round"/>
<path d="M151.7,150.4L151.6,150.5L151.5,150.7L151.4,150.9L151.3,151.1L151.2,151.2L151.0,151.5L150.9,151.7L150.7,151.9L150.6,152.2L150.4,152.4L150.2,152.7L150.1,153.0L150.0,153.3L149.8,153.7L149.7,154.0L149.6,154.4L149.5,154.8L149.5,155.3L149.4,155.7L149.4,156.2L149.4,156.7L149.4,157.3L149.5,157.9L149.5,158.6L149.5,159.3L149.6,160.0L149.7,160.8L149.8,161.6L149.9,162.4L150.0,163.2L150.1,164.0L150.2,164.8L150.4,165.6L150.5,166.3L150.7,167.1L150.9,167.8L151.1,168.5L151.3,169.1L151.5,169.7L151.7,170.3L151.9,170.8L152.2,171.3L152.5,171.8L152.8,172.3L153.1,172.8L153.5,173.2L153.8,173.6L154.2,174.1L154.5,174.5L154.9,174.8L155.3,175.2L155.7,175.5L156.1,175.8L156.4,176.1L156.8,176.4L157.2,176.6L157.6,176.8L158.0,177.0L158.3,177.2L158.7,177.3L159.1,177.4L159.4,177.4L159.8,177.4L160.2,177.4L160.6,177.3L161.0,177.2L161.5,177.1L161.9,176.9L162.3,176.8L162.7,176.6L163.1,176.4L163.5,176.2L163.8,176.0L164.2,175.8L164.5,175.6L164.8,175.5L165.1,175.3L165.4,175.2L165.6,175.1L165.8,175.0" stroke="#e4d4d4" stroke-width="1.1" fill="none" opacity="1.0" stroke-linecap="round" stroke-linejoin="round"/>
<path d="M249.0,176.0L249.1,176.2L249.3,176.3L249.6,176.6L249.8,176.8L250.1,177.0L250.4,177.3L250.7,177.6L251.0,177.9L251.4,178.2L251.7,178.5L252.0,178.8L252.3,179.2L252.6,179.5L252.9,179.9L253.2,180.2L253.4,180.6L253.6,180.9L253.8,181.3L253.9,181.6L254.0,182.0L254.0,182.4L254.1,182.7L254.0,183.1L254.0,183.5L254.0,183.9L253.9,184.3L253.8,184.7L253.7,185.1L253.5,185.5L253.4,185.9L253.2,186.4L253.0,186.8L252.8,187.2L252.6,187.6L252.4,188.0L252.1,188.4L251.9,188.8L251.6,189.2L251.3,189.6L251.0,190.0L250.7,190.4L250.3,190.8L250.0,191.1L249.6,191.5L249.2,191.9L248.7,192.3L248.3,192.7L247.8,193.1L247.4,193.4L246.9,193.8L246.4,194.2L245.9,194.5L245.4,194.9L244.9,195.2L244.4,195.6L243.9,195.9L243.4,196.2L242.9,196.5L242.5,196.7L242.0,197.0L241.5,197.3L241.1,197.5L240.6,197.8L240.1,198.1L239.6,198.3L239.1,198.6L238.6,198.9L238.1,199.1L237.6,199.3L237.1,199.6L236.6,199.8L236.1,199.9L235.6,200.1L235.2,200.2L234.8,200.3L234.4,200.3L234.0,200.3L233.6,200.2L233.3,200.1L233.0,200.0L232.7,199.8L232.5,199.5L232.3,199.1L232.1,198.7L232.0,198.2L231.8,197.6L231.7,197.1L231.6,196.5L231.5,195.8L231.4,195.2L231.4,194.5L231.3,193.9L231.3,193.3L231.2,192.7L231.2,192.1L231.2,191.6L231.1,191.1L231.1,190.7L231.0,190.3L231.0,190.0" stroke="#e2d2d2" stroke-width="1.1" fill="none" opacity="1.0" stroke-linecap="round" stroke-linejoin="round"/>
<path d="M194.0,62.0L194.2,61.9L194.5,61.8L194.7,61.6L195.1,61.5L195.4,61.3L195.7,61.1L196.1,60.9L196.5,60.6L196.9,60.4L197.4,60.2L197.8,60.0L198.3,59.8L198.7,59.6L199.2,59.4L199.7,59.3L200.1,59.1L200.6,59.0L201.1,59.0L201.5,59.0L202.0,59.0L202.5,59.1L203.0,59.2L203.5,59.3L204.0,59.4L204.6,59.6L205.2,59.8L205.8,60.0L206.4,60.2L207.0,60.4L207.6,60.7L208.1,61.0L208.7,61.3L209.2,61.6L209.7,61.9L210.2,62.2L210.7,62.6L211.1,62.9L211.4,63.3L211.7,63.6L212.0,64.0L212.2,64.4L212.4,64.8L212.5,65.2L212.6,65.6L212.6,66.1L212.6,66.6L212.6,67.1L212.6,67.5L212.5,68.0L212.4,68.6L212.3,69.1L212.2,69.6L212.1,70.2L211.9,70.7L211.8,71.2L211.6,71.8L211.5,72.3L211.3,72.9L211.2,73.4L211.0,74.0L210.8,74.6L210.6,75.1L210.4,75.7L210.2,76.2L210.0,76.8L209.7,77.4L209.4,78.0L209.1,78.6L208.9,79.2L208.6,79.8L208.3,80.4L208.0,81.0L207.7,81.6L207.4,82.2L207.1,82.8L206.9,83.4L206.6,84.1L206.4,84.7L206.2,85.4L206.0,86.0L205.8,86.7L205.7,87.4L205.6,88.1L205.4,88.8L205.3,89.5L205.2,90.3L205.2,91.0L205.1,91.8L205.0,92.6L204.9,93.3L204.9,94.1L204.8,94.8L204.7,95.5L204.7,96.3L204.6,96.9L204.5,97.6L204.4,98.3L204.3,98.9L204.1,99.5L204.0,100.0L203.8,100.5L203.7,101.0L203.5,101.5L203.3,102.0L203.2,102.5L203.0,102.9L202.8,103.4L202.6,103.8L202.4,104.2L202.2,104.6L202.0,104.9L201.8,105.3L201.6,105.6L201.3,105.9L201.1,106.1L200.9,106.4L200.7,106.6L200.4,106.7L200.2,106.9L200.0,107.0L199.8,107.1L199.5,107.1L199.3,107.2L199.0,107.2L198.8,107.1L198.5,107.1L198.2,107.0L197.9,106.9L197.7,106.7L197.4,106.6L197.1,106.4L196.8,106.2L196.6,106.0L196.3,105.7L196.1,105.5L195.8,105.2L195.6,104.9L195.4,104.6L195.2,104.3L195.0,104.0L194.8,103.7L194.7,103.3L194.5,102.9L194.4,102.5L194.3,102.1L194.2,101.7L194.1,101.3L194.0,100.8L193.9,100.3L193.8,99.8L193.7,99.3L193.7,98.8L193.6,98.2L193.5,97.7L193.4,97.1L193.4,96.5L193.3,95.9L193.2,95.3L193.1,94.6L193.0,94.0L192.9,93.3L192.8,92.6L192.7,91.8L192.6,90.9L192.5,90.0L192.3,89.1L192.2,88.2L192.1,87.3L192.0,86.3L191.9,85.4L191.8,84.4L191.7,83.5L191.6,82.7L191.5,81.8L191.4,81.0L191.3,80.3L191.2,79.6L191.1,79.0L191.1,78.4L191.0,78.0Z" fill="#8ccfcb" opacity="0.35"/>
<path d="M195.1,70.6L195.6,72.0M203.9,95.6L202.3,95.8M204.1,64.5L202.4,65.0M206.0,61.0L204.2,61.8M208.9,70.4L207.6,69.2M198.6,92.0L197.5,91.6M193.0,73.6L192.8,73.6M204.3,95.4L202.9,96.0M195.1,88.7L195.6,90.9M196.9,75.6L195.5,75.5M207.7,74.8L208.4,73.7M210.6,63.2L208.5,62.1M195.1,94.2L196.2,94.0M208.5,62.1L207.2,61.4M199.1,86.4L198.7,88.8M200.5,99.6L200.0,97.1M202.4,66.7L203.3,66.0M210.5,74.2L208.4,73.7M206.1,82.9L206.6,81.5M211.0,65.2L211.9,64.5M203.3,66.0L202.4,65.0M198.8,101.9L199.4,102.2M201.3,67.6L202.4,66.7M208.2,67.5L210.8,68.8M204.5,77.4L202.6,78.9M192.6,85.3L191.5,83.8M193.0,73.6L192.9,75.0M198.6,92.0L198.7,94.0M205.9,62.1L204.2,61.8M198.7,88.8L200.6,91.2M201.9,92.0L202.3,93.2M203.4,100.7L202.3,104.1M208.6,78.5L208.5,76.8M208.6,78.5L208.4,79.3M197.2,62.4L196.3,61.0M204.6,80.5L204.6,78.5M195.3,79.7L196.9,79.5M193.8,90.0L192.8,89.5M197.8,99.4L195.5,100.0M202.9,96.0L201.9,95.5M196.6,63.6L196.3,61.0M204.5,82.8L204.5,80.9M202.6,78.9L204.6,78.5M203.4,65.3L202.4,65.0M206.1,84.1L205.3,86.4M195.5,78.0L194.8,76.7M203.6,74.2L201.3,74.3M195.6,72.0L195.2,69.9M203.1,80.5L204.5,80.9M193.8,90.0L195.6,90.9M202.4,61.8L200.6,61.9M200.6,61.9L200.8,60.2M200.6,101.9L202.3,104.1M207.0,78.5L208.6,78.5M207.6,78.3L208.6,78.5M203.9,73.1L203.6,74.2M197.7,77.3L198.9,76.5M204.3,95.4L204.9,93.6M195.5,78.0L196.4,76.4M207.3,68.1L207.6,69.2M204.9,93.6L202.3,93.2M204.5,82.8L204.0,83.3M203.4,65.3L203.3,66.0M196.4,68.1L197.0,67.1M197.5,91.6L195.6,90.9M200.1,64.0L200.6,61.9M208.3,67.3L207.3,68.1M195.5,78.0L195.3,79.7M204.6,80.5L202.5,80.0M203.6,74.2L205.9,74.5M197.7,77.3L196.5,78.3M200.5,99.6L197.8,99.4M197.8,99.4L197.7,97.1M193.9,82.9L193.8,80.8M195.1,70.6L195.2,69.9M197.6,101.6L195.6,102.3M205.8,68.6L207.6,69.2M208.1,65.0L207.8,62.6M191.2,81.7L191.5,83.8M204.6,78.5L202.5,77.7M209.5,75.8L208.5,76.8M202.6,78.9L202.5,80.0M192.6,89.3L193.8,90.0M203.9,73.1L205.0,70.8M196.1,92.9L196.2,94.0M197.2,62.4L195.1,62.4M195.1,94.2L195.8,95.9M202.4,87.8L202.8,86.3M193.8,90.0L192.9,91.6M197.2,62.4L199.1,63.7M191.6,81.3L191.2,81.7M202.2,89.8L201.8,90.9M204.5,82.8L204.8,84.2M201.3,67.6L199.1,67.1M203.4,65.3L202.4,66.7M200.8,85.9L201.7,84.9M200.5,99.6L203.4,100.7M201.3,67.6L203.4,68.7M195.8,84.4L194.6,82.9M200.2,76.8L199.5,75.3M191.6,81.3L192.8,80.2M200.9,72.4L201.4,70.1M207.6,78.3L208.4,79.3M197.8,70.0L196.4,68.1M192.9,87.1L195.2,86.1M193.5,70.8L192.8,73.6M201.9,95.5L202.3,95.8M204.6,90.5L203.8,89.5M197.6,101.6L198.8,101.9M202.6,97.1L202.9,96.0M209.3,77.6L208.5,76.8M192.5,70.0L195.2,69.9M201.3,67.6L200.1,66.0M193.5,79.2L193.8,80.8M198.8,101.9L197.9,102.8M195.1,94.2L194.4,95.3M199.0,80.8L198.1,81.5M208.5,62.1L207.8,62.6M199.1,78.9L199.6,77.6M196.8,81.8L199.1,82.0M200.1,64.0L199.1,63.7M204.9,93.6L203.9,95.6M200.2,76.8L199.6,77.6M201.4,94.2L202.3,95.8M194.4,95.3L195.8,95.9M195.0,83.6L195.8,84.4M200.8,85.9L198.0,85.4M208.3,67.3L208.1,65.0M195.2,66.9L197.1,65.9M196.6,102.9L196.0,104.5M195.6,102.3L195.5,100.0M195.5,75.5L196.4,76.4M204.8,84.2L205.3,86.4M197.0,67.1L196.4,68.5M194.9,66.4L197.1,65.9M198.9,72.7L199.5,75.3M207.7,74.8L209.5,75.8M197.9,102.8L196.6,102.9M210.8,68.8L208.9,70.4M199.7,92.0L201.9,92.0M195.1,94.2L196.1,92.9M193.5,79.2L195.3,79.7M206.9,70.5L207.6,69.2M201.4,70.1L203.4,68.7M198.9,76.5L199.6,77.6M204.6,90.5L204.8,89.0M197.3,94.1L198.7,94.0M200.1,66.0L199.1,67.1M195.2,69.9L195.0,68.8M200.2,76.8L198.9,76.5M203.6,74.2L205.8,73.4M197.9,102.8L196.0,104.5M204.5,82.8L206.1,84.1M203.4,100.7L200.6,101.9M195.0,83.6L193.9,82.9M202.6,97.1L202.8,96.9M195.1,70.6L193.5,70.8M197.8,70.0L195.2,69.9M196.4,68.1L195.0,68.8M206.4,67.6L208.3,67.3M195.2,69.9L196.4,68.5M204.6,80.5L206.6,81.5M208.1,65.0L211.9,64.5M208.2,67.5L208.3,67.3M209.5,75.8L210.5,74.2M196.5,78.3L196.9,79.5M196.2,87.9L195.1,88.7M202.6,97.1L202.3,95.8M207.8,72.0L210.1,72.5M195.1,94.2L193.3,94.2M193.3,94.2L194.4,95.3M200.9,72.4L198.9,72.7M197.8,70.0L196.4,68.5M196.4,68.1L196.4,68.5M196.8,81.8L194.9,80.8M196.4,68.1L195.2,66.9M204.8,84.2L204.0,83.3M204.8,89.0L203.8,89.5M201.8,90.9L201.9,92.0M192.9,75.0L191.2,76.1M196.2,87.9L198.7,88.8M206.0,61.0L205.9,62.1M202.6,78.9L202.5,77.7M194.9,66.4L195.2,66.9M205.8,68.6L206.4,67.6M211.0,65.2L208.1,65.0M203.3,66.0L204.1,64.5M201.4,94.2L201.9,95.5M197.0,67.1L197.1,65.9M196.6,63.6L195.1,62.4M205.8,68.6L205.0,70.8M192.6,85.3L195.2,86.1M192.6,89.3L192.8,89.5M205.9,74.5L205.8,73.4M203.9,73.1L205.9,74.5M202.9,96.0L203.9,95.6M209.3,77.6L209.5,75.8M196.8,81.8L198.1,81.5M198.9,72.7L200.8,71.6M200.0,97.1L201.9,95.5M207.6,78.3L207.0,78.5M202.4,61.8L200.8,60.2M203.4,68.7L202.4,66.7M202.2,89.8L203.6,88.3M200.1,64.0L200.1,66.0M200.9,72.4L201.3,74.3M206.0,61.0L204.1,60.3M197.3,94.1L196.2,94.0M201.4,70.1L200.8,71.6M203.4,65.3L204.1,64.5M197.7,97.1L195.8,95.9M202.8,96.9L202.3,95.8M200.5,99.6L200.6,101.9M210.5,74.2L210.1,72.5M205.1,88.6L204.6,90.5M205.8,68.6L207.3,68.1M195.8,84.4L195.2,86.1M197.7,77.3L197.9,78.2M206.1,84.1L204.8,84.2M199.7,92.0L198.7,94.0M205.9,62.1L207.2,61.4M195.1,62.4L196.3,61.0M207.2,61.4L207.8,62.6M203.1,80.5L202.5,80.0M195.0,83.6L194.6,82.9M197.2,62.4L196.6,63.6M193.0,73.6L191.2,76.1M194.8,76.7L196.4,76.4M191.2,81.7L192.8,80.2M195.8,84.4L198.0,85.4M206.4,67.6L207.3,68.1M192.6,89.3L192.9,91.6M202.4,61.8L202.7,62.5M208.2,67.5L207.3,68.1M196.2,87.9L195.2,86.1M202.2,89.8L203.8,89.5M195.3,79.7L194.9,80.8M194.8,76.7L195.5,75.5M196.6,98.7L195.5,100.0M195.6,102.3L196.6,102.9M192.9,91.6L192.8,89.5M197.0,67.1L195.2,66.9M200.6,101.9L199.4,102.2M197.6,101.6L197.9,102.8M198.6,92.0L199.7,92.0M202.6,83.2L203.2,82.3M193.8,80.8L194.9,80.8M204.1,60.3L204.2,61.8M203.1,80.5L202.6,78.9M202.8,86.3L201.7,84.9M201.9,95.5L202.3,93.2M205.1,88.6L203.6,88.3M194.9,80.8L194.6,82.9M195.6,102.3L196.0,104.5M198.1,81.5L199.1,82.0M200.8,85.9L199.1,86.4M200.8,60.2L202.1,59.7M206.1,82.9L204.5,82.8M206.6,81.5L204.5,80.9M206.9,70.5L205.0,70.8M202.4,61.8L204.2,61.8M202.6,83.2L201.7,84.9M204.1,60.3L202.1,59.7M192.6,89.3L192.9,87.1M196.6,98.7L197.7,97.1M200.0,97.1L197.7,97.1M203.6,88.3L203.8,89.5M199.0,80.8L199.1,82.0M197.6,101.6L197.8,99.4M198.1,81.5L200.3,82.0M195.5,78.0L196.5,78.3M202.0,87.3L202.8,86.3M205.1,88.6L205.3,86.4M191.6,81.3L193.8,80.8M193.5,70.8L192.5,70.0M201.4,94.2L202.3,93.2M202.4,61.8L202.1,59.7M193.5,79.2L192.8,80.2M199.7,92.0L200.6,91.2M191.6,81.3L191.5,83.8M203.9,73.1L205.8,73.4M199.0,80.8L200.3,82.0M209.3,77.6L208.6,78.5M202.0,87.3L202.4,87.8M208.4,73.7L210.1,72.5M193.5,70.8L195.6,72.0M205.1,88.6L203.8,89.5M210.8,68.8L208.3,67.3M204.0,83.3L203.2,82.3M198.8,101.9L200.6,101.9M204.3,95.4L203.9,95.6M201.9,92.0L200.6,91.2M204.2,61.8L202.7,62.5M196.1,92.9L197.3,94.1M196.6,98.7L197.8,99.4M207.8,72.0L208.9,70.4M192.9,87.1L192.6,85.3M199.4,102.2L202.3,104.1M197.9,102.8L199.4,102.2M193.8,80.8L192.8,80.2M196.4,68.5L195.0,68.8M208.2,67.5L208.1,65.0M200.6,61.9L199.1,63.7M196.5,78.3L197.9,78.2M194.9,66.4L197.0,67.1M206.1,82.9L206.1,84.1M192.9,75.0L192.8,73.6M210.6,63.2L211.9,64.5M202.9,96.0L202.8,96.9M203.6,88.3L204.8,89.0M206.0,61.0L207.2,61.4M203.6,88.3L202.4,87.8M199.1,78.9L197.9,78.2M196.1,92.9L195.6,90.9M196.2,94.0L195.8,95.9M196.9,75.6L197.7,77.3M208.2,67.5L206.4,67.6M204.5,77.4L204.6,78.5M207.7,74.8L205.9,74.5M207.8,72.0L208.4,73.7M200.3,82.0L199.1,82.0M200.6,61.9L202.7,62.5M201.8,90.9L200.6,91.2M210.6,63.2L211.0,65.2M204.5,82.8L203.2,82.3M205.9,62.1L207.8,62.6M193.8,90.0L195.1,88.7M202.9,96.0L202.3,95.8M200.9,72.4L200.8,71.6M208.9,70.4L206.9,70.5M201.3,74.3L199.5,75.3M199.1,86.4L198.0,85.4M202.6,83.2L204.0,83.3M205.1,88.6L204.8,89.0M197.6,101.6L196.6,102.9M207.0,78.5L208.4,79.3M196.6,63.6L197.1,65.9M196.1,92.9L197.5,91.6M203.1,80.5L204.6,80.5M199.0,80.8L199.1,78.9M193.3,94.2L192.9,91.6M195.1,70.6L192.5,70.0M205.8,68.6L203.4,68.7M200.8,85.9L202.0,87.3M191.2,76.1L192.8,73.6M204.6,80.5L204.5,80.9M207.8,72.0L206.9,70.5M193.9,82.9L194.6,82.9M197.0,67.1L199.1,67.1M204.5,77.4L202.5,77.7M193.0,73.6L193.5,70.8M196.9,75.6L196.4,76.4M193.5,70.8L195.2,69.9M196.9,79.5L197.9,78.2M198.9,76.5L199.5,75.3" stroke="#1a8f8f" stroke-width="0.6" fill="none" opacity="1.0"/>
<path d="M212.0,150.0L212.3,149.9L212.6,149.7L212.9,149.6L213.3,149.4L213.7,149.2L214.1,148.9L214.6,148.7L215.1,148.4L215.6,148.2L216.1,147.9L216.7,147.7L217.2,147.4L217.8,147.2L218.4,147.0L219.0,146.7L219.6,146.5L220.2,146.4L220.8,146.2L221.4,146.1L222.0,146.0L222.6,145.9L223.3,145.9L223.9,145.8L224.6,145.8L225.3,145.7L226.1,145.7L226.8,145.7L227.6,145.7L228.3,145.7L229.1,145.8L229.8,145.8L230.6,145.9L231.3,145.9L232.0,146.0L232.8,146.1L233.5,146.3L234.1,146.4L234.8,146.6L235.4,146.8L236.0,147.0L236.6,147.2L237.1,147.5L237.7,147.8L238.2,148.1L238.8,148.4L239.3,148.7L239.8,149.1L240.3,149.5L240.8,149.8L241.3,150.2L241.8,150.7L242.2,151.1L242.6,151.6L243.0,152.0L243.4,152.5L243.8,153.0L244.1,153.5L244.4,154.0L244.7,154.5L245.0,155.0L245.2,155.5L245.5,156.1L245.7,156.7L245.8,157.3L246.0,157.9L246.1,158.6L246.2,159.2L246.3,159.9L246.4,160.6L246.4,161.2L246.5,161.9L246.5,162.6L246.5,163.3L246.5,164.0L246.4,164.7L246.4,165.4L246.3,166.1L246.2,166.7L246.1,167.4L246.0,168.0L245.9,168.6L245.7,169.3L245.5,169.9L245.3,170.6L245.1,171.3L244.9,171.9L244.7,172.6L244.4,173.3L244.1,173.9L243.8,174.6L243.5,175.2L243.2,175.8L242.8,176.4L242.5,177.0L242.1,177.6L241.7,178.1L241.3,178.6L240.9,179.1L240.4,179.6L240.0,180.0L239.5,180.4L239.0,180.8L238.5,181.1L238.0,181.4L237.4,181.8L236.8,182.0L236.2,182.3L235.6,182.6L235.0,182.8L234.4,183.0L233.7,183.2L233.1,183.4L232.4,183.5L231.8,183.6L231.1,183.8L230.5,183.8L229.9,183.9L229.2,184.0L228.6,184.0L228.0,184.0L227.4,184.0L226.8,184.0L226.2,183.9L225.5,183.8L224.9,183.7L224.2,183.6L223.6,183.4L223.0,183.3L222.3,183.1L221.7,182.9L221.1,182.7L220.4,182.4L219.8,182.2L219.2,181.9L218.6,181.6L218.1,181.3L217.5,181.0L217.0,180.7L216.5,180.3L216.0,180.0L215.5,179.6L215.1,179.3L214.6,178.8L214.2,178.4L213.7,178.0L213.3,177.5L212.9,177.0L212.5,176.5L212.1,176.0L211.8,175.5L211.4,175.0L211.1,174.4L210.7,173.9L210.4,173.3L210.1,172.8L209.9,172.2L209.6,171.7L209.4,171.1L209.2,170.6L209.0,170.0L208.8,169.4L208.7,168.8L208.6,168.2L208.6,167.5L208.5,166.9L208.5,166.2L208.5,165.5L208.5,164.8L208.5,164.1L208.6,163.4L208.6,162.7L208.7,162.0L208.7,161.4L208.8,160.8L208.8,160.2L208.9,159.7L208.9,159.2L209.0,158.7L209.0,158.3L209.0,158.0Z" fill="#f4ec70" opacity="0.3"/>
<path d="M226.6,175.7L226.2,174.7M225.3,181.5L227.6,183.9M222.2,157.7L221.1,159.9M213.5,154.0L211.4,152.5M216.9,150.3L215.1,148.7M224.0,151.5L225.3,150.0M225.3,150.0L224.8,148.9M231.2,146.9L230.7,146.1M223.4,176.4L224.2,174.2M236.8,177.7L237.4,179.1M219.8,160.1L221.1,159.9M232.2,148.2L229.3,146.1M217.4,157.2L215.6,158.3M240.2,166.9L240.2,168.5M235.7,171.7L236.6,173.8M245.0,171.5L243.9,173.5M239.1,177.8L239.0,179.8M211.6,164.9L211.1,166.9M238.2,160.3L237.1,160.8M242.9,167.5L244.7,167.9M218.0,178.7L219.5,181.5M215.4,156.4L215.6,155.6M233.0,169.9L233.1,168.9M217.9,169.3L220.0,168.9M226.6,160.4L227.2,159.2M237.3,168.3L238.6,169.6M235.8,158.4L234.3,159.2M240.1,162.5L241.0,161.0M223.4,176.4L221.8,178.1M234.7,182.2L234.4,182.8M230.5,171.6L231.3,173.5M243.7,154.2L240.9,155.0M241.0,161.0L241.2,162.4M212.3,168.2L214.2,170.4M229.1,150.3L230.0,152.7M234.0,148.2L235.2,147.7M222.5,168.8L222.6,168.9M210.3,156.1L212.6,156.1M228.5,153.0L226.5,152.0M234.0,151.9L233.3,150.4M217.6,152.6L218.6,152.2M222.5,168.8L224.4,170.6M232.2,148.2L231.2,146.9M217.4,178.0L216.0,179.9M211.1,162.0L210.3,159.5M235.8,179.4L236.8,177.7M235.3,174.0L236.6,173.8M226.6,168.6L228.5,167.5M225.2,173.2L224.2,174.2M232.5,183.1L234.4,182.8M216.0,179.9L219.5,181.5M221.8,153.3L223.5,153.1M211.1,162.0L212.7,160.6M219.6,172.7L218.5,174.6M230.1,173.9L229.0,175.3M217.9,163.2L218.9,162.3M220.6,158.5L219.5,159.4M213.1,167.0L211.1,166.9M232.6,178.9L233.6,179.7M228.3,174.1L227.3,172.6M220.6,158.5L221.1,159.9M230.0,152.7L228.8,152.9M236.3,167.3L237.6,165.3M218.8,171.2L221.1,171.7M219.5,159.4L221.1,159.9M215.6,158.3L216.5,159.1M244.1,160.0L243.6,159.6M230.6,180.3L229.9,182.4M226.5,152.0L228.8,152.9M219.8,146.9L221.5,149.3M239.1,158.9L236.6,159.5M237.8,174.7L236.6,173.8M235.0,149.6L236.2,149.0M217.0,148.3L215.1,148.7M213.5,154.0L215.4,152.9M242.8,172.3L242.6,173.8M239.1,170.3L241.1,168.7M224.8,160.0L225.4,161.3M240.1,167.7L240.2,168.5M224.2,167.9L222.6,168.9M213.5,154.0L211.3,153.4M229.7,169.5L228.5,167.5M239.0,154.8L238.6,156.1M214.9,176.0L213.0,176.8M244.1,160.0L245.5,161.5M223.5,153.1L224.2,154.5M231.0,158.0L232.1,159.0M242.8,172.3L243.7,173.1M220.2,154.2L221.8,153.3M215.4,156.4L215.6,158.3M232.3,178.7L233.6,179.7M240.1,162.5L242.1,163.0M224.0,151.5L226.5,152.0M218.0,178.7L216.0,179.9M210.3,159.5L211.1,161.0M227.3,172.6L225.2,173.2M230.6,180.3L228.9,181.3M237.2,164.3L236.4,161.9M218.2,154.7L220.4,154.6M238.2,160.3L237.2,161.1M213.3,156.9L215.6,155.6M231.1,167.0L233.1,168.9M216.9,150.3L217.0,148.3M237.2,161.1L237.8,161.3M236.6,159.5L235.5,160.5M231.3,173.5L231.4,175.9M237.1,160.8L236.4,161.9M227.6,183.9L224.1,181.7M215.6,158.3L214.9,159.5M222.5,168.8L222.5,166.0M236.2,149.0L235.2,147.7M215.4,156.4L213.3,156.9M216.3,152.2L218.6,152.2M220.3,161.9L218.9,162.3M232.7,151.5L233.3,150.4M218.0,178.7L217.4,178.0M228.5,153.0L227.6,155.2M219.8,146.9L217.3,148.7M242.5,160.2L241.0,161.0M212.2,150.0L215.1,148.7M233.6,165.6L233.6,164.5M234.0,177.7L233.3,176.6M219.8,160.1L218.5,160.4M226.5,152.0L225.3,150.0M232.9,168.5L233.0,169.9M234.1,182.6L234.7,182.2M240.1,167.7L240.2,166.9M232.2,148.2L234.2,149.4M211.6,164.9L209.8,164.9M230.0,152.7L231.1,154.3M234.3,159.2L235.5,160.5M223.4,176.4L224.4,175.6M217.9,169.3L218.8,171.2M224.0,151.5L223.5,153.1M242.5,160.2L244.1,160.0M222.5,168.8L224.2,167.9M230.0,152.7L230.0,149.9M233.6,165.6L233.0,163.2M217.4,166.5L215.7,166.0M222.6,168.9L224.4,170.6M232.2,157.2L230.8,156.7M222.2,157.7L220.6,158.5M245.2,162.4L245.5,161.5M240.9,155.0L242.7,153.4M234.7,174.7L233.3,176.6M245.0,171.5L243.7,173.1M239.1,170.3L238.6,169.6M245.6,165.7L244.7,167.9M213.0,176.8L212.0,174.4M222.5,166.0L221.6,164.3M239.1,158.9L237.8,161.3M235.6,181.0L234.4,181.3M232.9,168.5L233.1,168.9M228.3,174.1L229.0,175.3M225.9,155.1L224.2,154.5M235.0,149.6L236.1,148.7M216.9,150.3L217.3,148.7M228.5,153.0L230.0,152.7M227.7,160.5L228.3,163.3M227.3,172.6L228.8,172.3M231.8,170.3L233.1,168.9M219.8,160.1L219.5,159.4M219.2,148.1L217.0,148.3M224.8,160.0L227.2,159.2M215.9,168.1L214.2,170.4M232.2,157.2L230.7,159.5M219.6,175.1L220.6,175.4M232.2,148.2L230.7,146.1M228.3,163.3L228.8,161.7M218.2,154.7L217.9,155.9M245.6,165.7L243.3,165.5M225.9,155.1L225.9,153.2M243.9,157.2L243.6,159.6M238.6,169.6L240.2,168.5M237.2,164.3L238.4,163.5M244.6,160.4L243.6,159.6M219.6,175.1L221.5,174.1M221.5,149.3L224.8,148.9M213.0,176.8L216.0,179.9M229.1,150.3L230.0,149.9M215.4,152.9L216.3,152.2M237.1,160.8L235.5,160.5M242.8,172.3L245.0,171.5M221.8,178.1L220.7,179.0M219.5,159.4L218.5,160.4M224.4,161.4L223.7,160.9M242.9,167.5L243.3,165.5M243.7,154.2L242.7,153.4M237.8,174.7L238.1,173.6M213.1,167.0L214.5,164.7M221.6,161.7L221.6,164.3M227.7,160.5L228.8,161.7M233.6,179.7L232.8,179.3M220.3,161.9L220.0,163.5M217.4,157.2L216.5,159.1M234.0,151.9L234.8,150.8M237.2,161.1L236.4,161.9M228.3,163.3L228.9,163.5M221.6,161.7L220.3,161.9M224.2,167.9L226.6,168.6M232.3,163.6L233.6,165.6M211.6,164.9L211.6,163.5M209.1,169.3L211.1,166.9M219.2,148.1L217.3,148.7M217.9,169.3L215.9,168.1M235.0,149.6L234.2,149.4M243.7,154.2L243.9,157.2M235.6,153.8L236.9,151.9M211.0,173.1L210.4,170.8M240.1,167.7L241.1,168.7M219.8,146.9L219.2,148.1M239.0,154.8L239.4,153.6M209.1,169.3L210.4,170.8M225.9,155.1L227.6,155.2M228.7,177.0L229.0,175.3M215.7,166.0L214.5,164.7M232.9,168.5L231.8,170.3M225.9,165.6L224.2,167.9M233.3,150.4L234.2,149.4M238.2,151.2L239.8,150.0M245.2,162.4L245.5,164.0M235.8,158.4L236.1,156.2M217.0,148.3L217.3,148.7M234.4,181.3L234.4,182.8M211.4,152.5L211.3,153.4M235.3,174.0L234.7,174.7M227.7,160.5L228.9,163.5M220.0,163.5L221.6,164.3M228.5,153.0L228.8,152.9M212.7,160.6L211.1,161.0M242.6,176.0L243.9,173.5M212.0,174.4L211.0,173.1M215.5,172.7L214.2,170.4M227.7,160.5L226.6,160.4M217.4,166.5L215.9,168.1M222.5,168.8L221.5,168.8M210.7,158.1L210.3,159.5M240.3,163.9L238.4,163.5M211.1,162.0L211.6,163.5M233.0,169.9L231.8,170.3M226.6,175.7L224.4,175.6M241.1,164.2L241.2,162.4M229.9,182.4L231.7,181.4M225.9,165.6L226.6,168.6M210.3,156.1L211.3,153.4M245.5,161.5L244.6,160.4M213.3,156.9L212.6,156.1M219.5,178.3L219.5,181.5M235.0,149.6L234.8,150.8M241.1,168.7L240.2,168.5M236.9,151.9L239.8,150.0M224.4,161.4L225.4,161.3M228.9,163.5L228.8,161.7M209.8,164.9L211.1,166.9M214.9,159.5L216.5,159.1M235.8,179.4L236.9,181.5M238.1,173.6L239.5,174.4M238.2,151.2L239.4,153.6M235.7,160.3L235.5,160.5M237.1,160.8L236.6,159.5M234.5,157.2L236.1,156.2M215.9,168.1L215.7,166.0M241.0,152.2L239.8,150.0M244.2,165.1L243.3,165.5M217.4,157.2L217.9,155.9M232.3,163.6L233.6,164.5M217.4,166.5L216.7,167.2M242.6,176.0L242.6,173.8M232.6,178.9L234.0,177.7M224.8,173.3L225.2,173.2M238.6,156.1L240.9,155.0M213.1,167.0L212.3,168.2M233.3,150.4L234.8,150.8M229.9,177.4L229.0,175.3M214.9,176.0L212.0,174.4M215.9,161.3L217.9,163.2M240.3,163.9L241.2,162.4M235.8,158.4L236.6,159.5M234.7,174.7L236.6,173.8M239.1,170.3L240.2,168.5M236.2,149.0L236.1,148.7M219.6,172.7L221.0,173.3M220.2,154.2L220.4,154.6M232.3,163.6L233.0,163.2M236.4,161.9L237.8,161.3M240.3,163.9L240.1,162.5M232.7,151.5L234.0,151.9M239.7,167.0L240.2,168.5M215.6,155.6L217.9,155.9M222.2,157.7L219.4,158.8M231.1,167.0L228.5,167.5M234.4,181.3L234.1,182.6M231.1,154.3L228.8,152.9M230.9,151.3L230.0,149.9M211.6,164.9L214.5,164.7M241.1,168.7L240.2,166.9M240.9,155.0L239.4,153.6M235.6,153.8L236.1,156.2M234.1,182.6L232.5,183.1M209.8,164.9L211.6,163.5M219.8,160.1L219.4,158.8M224.8,173.3L226.2,174.7M232.3,178.7L234.0,177.7M232.7,151.5L230.9,151.3M216.9,150.3L216.3,152.2M229.9,177.4L231.4,175.9M232.6,178.9L232.8,179.3M241.0,152.2L242.7,153.4M224.2,167.9L222.5,166.0M233.6,164.5L235.0,166.3M211.4,152.5L212.2,150.0M233.6,165.6L235.0,166.3M226.6,175.7L228.7,177.0M246.3,163.7L245.5,164.0M224.6,179.4L226.2,177.7M217.4,166.5L218.6,165.9M228.3,174.1L228.8,172.3M236.9,181.5L239.0,179.8M242.6,173.8L243.9,173.5M221.8,178.1L219.5,178.3M219.2,148.1L221.5,149.3M226.8,170.3L228.2,170.2M219.6,172.7L217.3,173.2M219.6,172.7L218.8,171.2M239.7,167.0L240.2,166.9M240.1,167.7L239.7,167.0M211.6,164.9L213.1,167.0M218.2,154.7L217.6,152.6M214.9,176.0L217.4,178.0M242.9,167.5L241.1,168.7M232.9,168.5L231.1,167.0M232.6,178.9L232.3,178.7M222.6,168.9L221.5,168.8M217.3,148.7L215.1,148.7M236.9,151.9L234.8,150.8M232.3,178.7L232.8,179.3M231.2,146.9L229.3,146.1M237.1,160.8L237.8,161.3M220.0,168.9L221.5,168.8M224.8,160.0L223.7,160.9M230.8,156.7L231.1,154.3M228.7,177.0L226.2,177.7M212.3,168.2L210.4,170.8M217.9,163.2L220.3,161.9M240.3,163.9L241.1,164.2M221.6,161.7L223.7,160.9M231.0,158.0L230.8,156.7M239.1,177.8L237.4,179.1M226.6,168.6L228.2,170.2M221.0,173.3L221.5,174.1M219.4,158.8L218.5,160.4M219.5,178.3L217.4,178.0M225.3,181.5L224.6,179.4M229.3,146.1L230.7,146.1M213.5,154.0L212.6,156.1M229.7,169.5L230.5,171.6M236.3,167.3L235.8,168.9M232.2,148.2L234.0,148.2M219.6,175.1L218.5,174.6M236.9,151.9L238.2,151.2M225.4,161.3L223.7,160.9M240.1,162.5L241.2,162.4M235.7,160.3L236.6,159.5M234.4,181.3L234.7,182.2M238.6,156.1L236.1,156.2M210.7,158.1L212.6,156.1M232.2,157.2L232.1,159.0M220.6,158.5L219.4,158.8M217.3,173.2L215.5,172.7M227.6,183.9L229.9,182.4M217.3,173.2L218.5,174.6M234.3,159.2L235.7,160.3M233.0,163.2L233.6,164.5M233.3,176.6L231.4,175.9M242.6,176.0L243.7,173.1M244.7,167.9L243.3,165.5M227.3,172.6L226.8,170.3M225.3,181.5L224.1,181.7M220.6,175.4L221.0,173.3M226.8,170.3L226.6,168.6M226.2,174.7L224.4,175.6M236.3,167.3L235.0,166.3M231.0,158.0L230.7,159.5M237.3,168.3L235.8,168.9M228.7,177.0L229.9,177.4M244.2,165.1L245.5,164.0M214.9,159.5L212.7,160.6M239.0,154.8L240.9,155.0M218.0,178.7L219.5,178.3M215.7,166.0L216.7,167.2M225.9,165.6L224.5,163.8M227.6,183.9L228.9,181.3M229.7,169.5L228.2,170.2M244.1,160.0L243.9,157.2M219.4,158.8L219.5,159.4M217.6,152.6L216.3,152.2M211.0,173.1L214.2,170.4M236.9,181.5L234.7,182.2M228.3,174.1L230.1,173.9M242.5,160.2L243.6,159.6M224.5,163.8L225.4,161.3M235.8,179.4L235.6,181.0M220.7,179.0L219.5,181.5M243.7,173.1L243.9,173.5M221.2,170.6L220.0,168.9M229.9,182.4L228.9,181.3M217.9,163.2L220.0,163.5M237.3,168.3L236.3,167.3M221.8,153.3L220.3,152.5M237.6,165.3L237.2,164.3M237.8,174.7L239.5,174.4M237.6,165.3L238.4,163.5M242.1,163.0L241.2,162.4M225.2,173.2L226.2,174.7M239.0,179.8L237.4,179.1M235.2,147.7L236.1,148.7M235.6,181.0L234.7,182.2M234.3,159.2L234.5,157.2M239.1,177.8L236.8,177.7M215.9,168.1L216.7,167.2M235.3,174.0L235.7,171.7M226.8,170.3L224.4,170.6M230.7,159.5L232.1,159.0M246.3,163.7L245.6,165.7M215.9,161.3L216.5,159.1M221.8,153.3L220.4,154.6M218.6,165.9L216.7,167.2M227.6,155.2L228.8,152.9M218.2,154.7L220.2,154.2M217.4,157.2L215.6,155.6M230.5,171.6L231.8,170.3M235.0,166.3L235.8,168.9M221.0,173.3L221.1,171.7M229.7,169.5L231.8,170.3M234.0,148.2L234.2,149.4M221.2,170.6L221.5,168.8M209.1,169.3L212.3,168.2M232.5,183.1L231.7,181.4M245.6,165.7L245.5,164.0M217.6,152.6L215.4,152.9M220.2,154.2L220.3,152.5M224.1,181.7L224.6,179.4M238.1,173.6L236.6,173.8M220.7,179.0L219.5,178.3M228.8,172.3L230.5,171.6M219.6,172.7L221.1,171.7M243.7,173.1L242.6,173.8M226.6,160.4L225.4,161.3M230.0,152.7L230.9,151.3M224.2,174.2L224.4,175.6M225.9,153.2L226.5,152.0M230.6,180.3L231.7,181.4M246.3,163.7L245.2,162.4M224.8,173.3L224.2,174.2M225.9,153.2L224.2,154.5M220.6,175.4L221.5,174.1M239.1,158.9L238.2,160.3M230.1,173.9L231.3,173.5M242.8,172.3L243.9,173.5M215.9,161.3L214.9,159.5M237.1,160.8L237.2,161.1M224.0,151.5L224.8,148.9M220.0,163.5L218.9,162.3M220.3,152.5L218.6,152.2M235.7,160.3L237.1,160.8M226.6,175.7L226.2,177.7M212.2,150.0L211.3,153.4M221.2,170.6L221.1,171.7M227.7,160.5L227.2,159.2M244.1,160.0L244.6,160.4M221.6,161.7L221.1,159.9M210.3,156.1L210.7,158.1M242.1,163.0L241.1,164.2M241.0,152.2L239.4,153.6M235.6,181.0L236.9,181.5M232.2,157.2L231.0,158.0M224.4,161.4L224.5,163.8M224.4,161.4L224.8,160.0M228.9,181.3L231.7,181.4M235.8,179.4L237.4,179.1M218.6,165.9L220.0,163.5M238.2,160.3L237.8,161.3M239.5,174.4L236.6,173.8M234.0,151.9L235.6,153.8M235.7,171.7L235.8,168.9M212.3,168.2L211.1,166.9M214.9,176.0L215.5,172.7M234.1,182.6L234.4,182.8M244.2,165.1L245.6,165.7M235.8,158.4L234.5,157.2M229.1,150.3L230.9,151.3M211.1,162.0L211.1,161.0" stroke="#e6d600" stroke-width="0.75" fill="none" opacity="1.0"/>
<ellipse cx="221" cy="162" rx="3.5" ry="4.5" fill="#fff" opacity="0.6"/>
<path d="M278.0,53.0L278.0,52.7L278.1,52.4L278.1,52.1L278.2,51.7L278.2,51.3L278.3,50.8L278.4,50.3L278.4,49.8L278.5,49.3L278.6,48.7L278.6,48.2L278.7,47.6L278.9,47.1L279.0,46.6L279.1,46.1L279.2,45.6L279.4,45.1L279.6,44.7L279.8,44.3L280.0,44.0L280.2,43.7L280.5,43.4L280.8,43.1L281.1,42.9L281.4,42.6L281.7,42.4L282.1,42.1L282.4,41.9L282.8,41.7L283.2,41.6L283.6,41.4L284.0,41.2L284.4,41.1L284.7,41.0L285.1,40.9L285.5,40.8L285.9,40.7L286.3,40.6L286.6,40.5L287.0,40.5L287.4,40.5L287.7,40.5L288.1,40.5L288.5,40.5L288.8,40.5L289.2,40.6L289.6,40.7L290.0,40.7L290.4,40.8L290.8,40.9L291.1,41.1L291.5,41.2L291.8,41.3L292.2,41.5L292.5,41.6L292.9,41.8L293.2,42.0L293.5,42.1L293.7,42.3L294.0,42.5L294.2,42.7L294.5,42.9L294.7,43.1L294.9,43.4L295.1,43.6L295.3,43.9L295.5,44.1L295.7,44.4L295.8,44.7L296.0,45.0L296.1,45.3L296.3,45.6L296.4,45.9L296.5,46.2L296.6,46.5L296.7,46.8L296.8,47.1L296.9,47.4L296.9,47.7L297.0,48.0L297.0,48.3L297.1,48.6L297.1,48.9L297.0,49.3L297.0,49.6L297.0,50.0L296.9,50.3L296.8,50.7L296.8,51.0L296.7,51.3L296.6,51.7L296.5,52.0L296.4,52.3L296.4,52.6L296.3,52.9L296.2,53.2L296.1,53.4L296.1,53.6L296.0,53.8L296.0,54.0" stroke="#e8a8a8" stroke-width="5.0" fill="none" opacity="1.0" stroke-linecap="round" stroke-linejoin="round"/>
<path d="M283.0,44.0L283.1,43.9L283.3,43.9L283.4,43.8L283.6,43.7L283.8,43.6L284.0,43.5L284.3,43.4L284.5,43.2L284.8,43.1L285.0,43.0L285.2,42.9L285.5,42.8L285.7,42.6L286.0,42.5L286.2,42.4L286.4,42.3L286.6,42.2L286.7,42.1L286.9,42.1L287.0,42.0" stroke="#f4d0d0" stroke-width="2.0" fill="none" opacity="1.0" stroke-linecap="round" stroke-linejoin="round"/>
<path d="M273.5,48.0L273.6,48.2L273.6,48.5L273.7,48.8L273.8,49.2L273.9,49.5L274.0,49.9L274.1,50.4L274.2,50.8L274.3,51.3L274.4,51.8L274.5,52.2L274.6,52.7L274.8,53.2L274.9,53.6L275.1,54.1L275.2,54.5L275.4,54.9L275.6,55.3L275.8,55.7L276.0,56.0L276.2,56.3L276.4,56.6L276.7,56.9L276.9,57.2L277.2,57.4L277.5,57.7L277.8,57.9L278.1,58.2L278.4,58.4L278.7,58.6L279.0,58.8L279.3,59.0L279.6,59.2L279.9,59.4L280.3,59.5L280.6,59.6L281.0,59.8L281.3,59.9L281.7,59.9L282.0,60.0L282.4,60.0L282.8,60.0L283.2,60.0L283.6,60.0L284.0,59.9L284.5,59.8L285.0,59.7L285.4,59.5L285.9,59.4L286.4,59.2L286.8,59.1L287.3,58.9L287.7,58.8L288.1,58.6L288.5,58.5L288.9,58.4L289.2,58.2L289.5,58.1L289.8,58.1L290.0,58.0" stroke="#d46c6c" stroke-width="4.6" fill="none" opacity="1.0" stroke-linecap="round" stroke-linejoin="round"/>
<defs><linearGradient id="hf18" gradientUnits="userSpaceOnUse" x1="278.5" y1="105.0" x2="293.5" y2="105.0"><stop offset="0" stop-color="#9b7f7f"/><stop offset="0.35" stop-color="#efc4c4"/><stop offset="0.62" stop-color="#f5d9d9"/><stop offset="1" stop-color="#efc4c4"/></linearGradient><linearGradient id="hb18" gradientUnits="userSpaceOnUse" x1="278.5" y1="105.0" x2="293.5" y2="105.0"><stop offset="0" stop-color="#bd9b9b"/><stop offset="0.45" stop-color="#f4d6d6"/><stop offset="1" stop-color="#f9e8e8"/></linearGradient></defs><g opacity="0.7"><path d="M281.2,65.8L281.6,66.0L282.3,66.0L283.2,65.7L284.5,65.1L285.9,64.5L287.5,63.8L289.0,63.2L290.5,62.7L291.9,62.4L292.9,62.3L293.8,62.5L294.2,63.0L295.5,66.6L295.2,66.3L294.5,66.3L293.5,66.6L292.2,67.0L290.8,67.6L289.2,68.3L287.7,68.9L286.2,69.5L284.9,69.9L283.9,70.0L283.1,69.8L282.7,69.4ZM285.0,77.0L285.3,77.3L285.9,77.2L287.0,77.1L288.3,76.9L289.9,76.5L291.5,76.2L293.3,76.0L294.8,75.8L296.3,76.0L297.4,76.2L298.1,76.6L298.4,77.3L298.6,81.2L298.3,80.7L297.7,80.5L296.6,80.5L295.3,80.5L293.8,80.7L292.2,80.9L290.5,81.2L289.1,81.5L287.8,81.6L286.7,81.5L286.1,81.3L285.8,80.8ZM285.5,88.3L285.7,88.6L286.4,88.8L287.4,88.9L288.7,89.0L290.3,89.1L292.0,89.1L293.7,89.2L295.3,89.4L296.6,89.7L297.6,90.1L298.2,90.6L298.4,91.2L298.0,95.0L297.8,94.7L297.2,94.4L296.2,94.2L294.9,94.1L293.3,94.0L291.6,93.9L289.9,93.8L288.4,93.7L287.1,93.4L286.1,93.1L285.5,92.7L285.3,92.1ZM284.4,100.9L284.5,101.3L285.2,101.5L286.2,101.7L287.5,101.9L289.1,102.0L290.8,102.1L292.4,102.2L294.0,102.4L295.3,102.7L296.3,103.0L296.9,103.5L297.1,104.1L296.7,108.0L296.5,107.6L295.9,107.3L294.9,107.2L293.5,107.1L292.0,107.0L290.3,106.8L288.6,106.7L287.0,106.5L285.7,106.2L284.7,105.8L284.1,105.3L284.0,104.7ZM283.1,113.9L283.3,114.3L283.9,114.5L285.0,114.7L286.3,114.8L287.9,114.9L289.5,115.0L291.2,115.1L292.8,115.3L294.1,115.6L295.1,116.0L295.7,116.5L295.9,117.1L295.5,120.9L295.3,120.6L294.7,120.3L293.7,120.1L292.3,120.0L290.8,119.9L289.1,119.8L287.4,119.7L285.9,119.5L284.5,119.2L283.5,118.8L282.9,118.3L282.8,117.7ZM281.9,126.8L282.0,127.2L282.7,127.4L283.7,127.6L285.0,127.7L286.6,127.8L288.3,128.0L290.0,128.1L291.5,128.3L292.8,128.6L293.8,129.0L294.4,129.5L294.6,130.1L294.2,133.9L294.0,133.5L293.4,133.3L292.4,133.1L291.0,132.9L289.5,132.8L287.8,132.7L286.1,132.6L284.6,132.4L283.2,132.1L282.2,131.7L281.6,131.2L281.5,130.6ZM280.5,139.7L280.7,140.1L281.3,140.3L282.4,140.5L283.7,140.7L285.3,140.8L286.9,140.9L288.6,141.0L290.2,141.2L291.5,141.5L292.5,141.9L293.1,142.4L293.3,143.0L292.9,146.8L292.7,146.5L292.0,146.2L291.0,146.0L289.7,145.9L288.1,145.8L286.4,145.7L284.8,145.5L283.2,145.3L281.9,145.0L280.9,144.6L280.3,144.1L280.1,143.5Z" fill="url(#hb18)" opacity="1.0"/><path d="M284.8,56.2L284.1,57.0L283.5,57.8L282.9,58.7L282.4,59.5L281.9,60.4L281.5,61.2L281.1,61.9L280.9,62.6L280.7,63.2L280.7,63.7L280.7,64.2L280.8,64.6L283.2,70.5L283.1,70.4L283.2,70.1L283.3,69.7L283.6,69.3L283.8,68.8L284.2,68.2L284.6,67.6L285.0,66.9L285.5,66.1L286.0,65.4L286.6,64.6L287.2,63.8ZM293.8,61.8L293.8,62.3L293.4,63.1L292.7,64.1L291.7,65.4L290.6,66.8L289.3,68.4L288.1,69.9L286.9,71.4L285.9,72.9L285.2,74.0L284.8,75.1L284.7,75.8L286.1,82.1L286.4,81.7L286.9,81.0L287.9,80.2L288.9,78.9L290.2,77.6L291.6,76.0L292.9,74.4L294.1,72.8L295.0,71.3L295.7,69.9L296.0,68.8L295.9,67.8ZM298.4,76.1L298.2,76.5L297.7,77.2L296.7,78.0L295.4,78.9L293.9,79.9L292.2,81.0L290.5,82.2L288.9,83.3L287.6,84.3L286.5,85.3L285.8,86.3L285.6,87.0L285.2,93.4L285.6,93.1L286.2,92.5L287.3,91.8L288.7,91.1L290.3,90.1L292.1,89.0L293.8,87.9L295.4,86.7L296.8,85.5L297.8,84.4L298.4,83.3L298.6,82.5ZM298.5,89.9L298.3,90.3L297.6,90.9L296.5,91.5L295.1,92.2L293.4,93.1L291.6,94.0L289.8,95.0L288.1,96.0L286.7,97.0L285.6,97.9L284.8,98.8L284.5,99.6L283.8,106.0L284.1,105.6L284.8,105.1L285.9,104.5L287.3,103.7L289.0,102.9L290.8,102.0L292.6,101.0L294.3,100.0L295.7,99.0L296.9,98.0L297.6,97.1L297.9,96.3ZM297.2,102.9L296.9,103.2L296.2,103.7L295.1,104.4L293.7,105.1L292.0,106.0L290.3,106.9L288.5,108.0L286.8,109.0L285.4,110.0L284.3,111.0L283.5,111.9L283.2,112.6L282.6,119.0L282.9,118.6L283.6,118.1L284.7,117.5L286.1,116.7L287.8,115.9L289.6,114.9L291.3,113.9L293.0,112.9L294.4,111.9L295.6,110.9L296.3,110.0L296.6,109.2ZM296.0,115.8L295.8,116.2L295.0,116.7L293.9,117.4L292.5,118.1L290.9,119.0L289.1,119.9L287.3,120.9L285.6,121.9L284.2,122.9L283.0,123.8L282.3,124.7L282.0,125.5L281.3,131.9L281.6,131.5L282.3,131.0L283.4,130.4L284.8,129.6L286.5,128.8L288.3,127.9L290.1,126.9L291.8,125.9L293.2,124.9L294.3,123.9L295.1,123.0L295.4,122.2ZM294.7,128.8L294.5,129.2L293.8,129.7L292.7,130.3L291.2,131.1L289.6,131.9L287.8,132.8L286.0,133.8L284.3,134.8L282.8,135.8L281.7,136.8L281.0,137.6L280.7,138.4L280.0,144.8L280.3,144.4L281.0,143.9L282.1,143.3L283.5,142.6L285.2,141.7L287.0,140.8L288.7,139.8L290.4,138.8L291.9,137.8L293.0,136.9L293.8,136.0L294.1,135.2ZM293.4,141.7L293.3,141.9L293.1,142.2L292.7,142.4L292.3,142.7L291.7,143.0L291.0,143.4L290.2,143.8L289.4,144.3L288.4,144.7L287.5,145.2L286.5,145.7L285.5,146.2L284.7,154.2L285.7,153.7L286.7,153.1L287.6,152.6L288.6,152.1L289.4,151.5L290.2,151.0L290.9,150.4L291.5,149.9L292.0,149.4L292.4,149.0L292.6,148.5L292.7,148.1Z" fill="url(#hf18)"/></g>
<defs><linearGradient id="hf19" gradientUnits="userSpaceOnUse" x1="347.5" y1="79.5" x2="362.5" y2="79.5"><stop offset="0" stop-color="#8a4646"/><stop offset="0.35" stop-color="#d46c6c"/><stop offset="0.62" stop-color="#e39f9f"/><stop offset="1" stop-color="#d46c6c"/></linearGradient><linearGradient id="hb19" gradientUnits="userSpaceOnUse" x1="347.5" y1="79.5" x2="362.5" y2="79.5"><stop offset="0" stop-color="#a75555"/><stop offset="0.45" stop-color="#e19898"/><stop offset="1" stop-color="#eec6c6"/></linearGradient></defs><g opacity="0.8"><path d="M348.8,51.1L349.0,51.4L349.7,51.6L350.7,51.6L352.1,51.5L353.6,51.3L355.3,51.1L357.0,50.9L358.5,50.8L359.9,50.9L360.9,51.1L361.6,51.5L361.9,52.0L362.2,55.9L362.0,55.5L361.3,55.4L360.3,55.4L358.9,55.5L357.4,55.7L355.7,55.9L354.0,56.0L352.4,56.1L351.1,56.1L350.0,55.9L349.4,55.5L349.1,54.9ZM349.8,64.0L350.0,64.3L350.7,64.5L351.7,64.5L353.1,64.4L354.6,64.2L356.3,64.0L358.0,63.9L359.6,63.9L360.9,63.9L362.0,64.1L362.7,64.6L362.9,65.1L363.1,69.0L362.9,68.7L362.2,68.5L361.2,68.4L359.9,68.5L358.3,68.7L356.6,68.8L354.9,69.0L353.4,69.0L352.0,69.0L351.0,68.8L350.3,68.4L350.1,67.9ZM350.5,76.7L350.7,77.0L351.3,77.2L352.4,77.2L353.7,77.2L355.3,77.1L357.0,77.0L358.7,77.0L360.3,77.1L361.6,77.2L362.6,77.5L363.3,78.0L363.6,78.6L363.5,82.5L363.3,82.1L362.6,81.8L361.6,81.7L360.2,81.7L358.7,81.8L357.0,81.8L355.3,81.9L353.8,81.8L352.5,81.8L351.4,81.5L350.8,81.1L350.6,80.6ZM350.2,89.2L350.4,89.5L351.0,89.8L352.1,89.9L353.4,89.9L355.0,90.0L356.7,90.0L358.4,90.1L359.9,90.3L361.3,90.5L362.3,90.9L362.9,91.3L363.1,91.9L362.8,95.8L362.6,95.4L362.0,95.2L361.0,95.0L359.6,94.9L358.0,94.9L356.4,94.8L354.7,94.7L353.1,94.6L351.8,94.4L350.8,94.1L350.2,93.6L350.0,93.0ZM349.3,102.0L349.5,102.3L350.1,102.6L351.1,102.7L352.5,102.8L354.0,102.9L355.7,103.0L357.4,103.1L359.0,103.3L360.3,103.5L361.3,103.9L361.9,104.4L362.1,105.0L361.8,108.8L361.6,108.4L360.9,108.2L359.9,108.0L358.6,107.9L357.0,107.9L355.3,107.8L353.6,107.7L352.1,107.5L350.8,107.2L349.8,106.9L349.1,106.4L349.0,105.8Z" fill="url(#hb19)" opacity="1.0"/><path d="M354.7,43.0L353.9,43.6L353.1,44.3L352.4,44.9L351.6,45.6L351.0,46.2L350.4,46.8L349.9,47.4L349.4,48.0L349.1,48.5L348.8,49.0L348.7,49.4L348.7,49.8L349.2,56.2L349.2,56.0L349.4,55.8L349.6,55.5L350.0,55.1L350.4,54.7L350.9,54.3L351.5,53.8L352.2,53.3L352.9,52.8L353.7,52.2L354.5,51.6L355.3,51.0ZM361.8,50.7L361.6,51.2L361.0,51.8L360.1,52.6L358.8,53.6L357.3,54.7L355.7,56.0L354.1,57.3L352.6,58.5L351.4,59.8L350.4,60.9L349.9,61.9L349.7,62.7L350.2,69.1L350.4,68.7L351.0,68.1L351.9,67.3L353.2,66.3L354.7,65.2L356.3,63.9L357.9,62.7L359.4,61.4L360.6,60.1L361.6,59.0L362.2,58.0L362.3,57.1ZM362.9,63.9L362.7,64.3L362.0,64.9L361.1,65.7L359.8,66.7L358.3,67.8L356.6,68.9L355.0,70.2L353.5,71.4L352.2,72.6L351.2,73.6L350.6,74.6L350.4,75.5L350.6,81.9L350.8,81.4L351.5,80.8L352.5,80.1L353.8,79.2L355.3,78.1L357.0,76.9L358.6,75.7L360.1,74.5L361.4,73.2L362.4,72.1L363.0,71.1L363.2,70.3ZM363.6,77.3L363.3,77.7L362.7,78.4L361.7,79.1L360.3,79.9L358.8,80.9L357.0,81.9L355.3,83.0L353.7,84.1L352.3,85.2L351.2,86.2L350.5,87.1L350.3,87.9L349.9,94.3L350.2,93.9L350.9,93.4L351.9,92.7L353.3,91.9L355.0,91.0L356.7,89.9L358.4,88.8L360.1,87.7L361.5,86.6L362.5,85.6L363.2,84.6L363.4,83.7ZM363.2,90.7L362.9,91.1L362.3,91.6L361.2,92.3L359.8,93.1L358.1,93.9L356.4,94.9L354.6,95.9L353.0,97.0L351.5,98.0L350.4,99.0L349.7,99.9L349.4,100.7L348.9,107.1L349.1,106.7L349.8,106.2L350.9,105.5L352.3,104.7L354.0,103.9L355.7,102.9L357.5,101.9L359.2,100.8L360.6,99.8L361.7,98.8L362.4,97.9L362.7,97.0ZM362.2,103.7L362.1,103.9L361.9,104.1L361.6,104.4L361.1,104.6L360.6,105.0L360.0,105.3L359.2,105.7L358.4,106.2L357.6,106.6L356.7,107.1L355.8,107.6L354.8,108.1L354.3,116.1L355.2,115.6L356.1,115.0L357.0,114.5L357.8,114.0L358.6,113.4L359.4,112.9L360.0,112.4L360.6,111.9L361.0,111.4L361.4,110.9L361.6,110.5L361.7,110.1Z" fill="url(#hf19)"/></g>
<defs><linearGradient id="hf20" gradientUnits="userSpaceOnUse" x1="354.4" y1="169.4" x2="367.6" y2="165.6"><stop offset="0" stop-color="#9b7f7f"/><stop offset="0.35" stop-color="#efc4c4"/><stop offset="0.62" stop-color="#f5d9d9"/><stop offset="1" stop-color="#efc4c4"/></linearGradient><linearGradient id="hb20" gradientUnits="userSpaceOnUse" x1="354.4" y1="169.4" x2="367.6" y2="165.6"><stop offset="0" stop-color="#bd9b9b"/><stop offset="0.45" stop-color="#f4d6d6"/><stop offset="1" stop-color="#f9e8e8"/></linearGradient></defs><g opacity="0.6"><path d="M351.5,155.2L351.8,155.5L352.4,155.5L353.3,155.3L354.5,154.9L355.9,154.4L357.3,153.9L358.8,153.4L360.2,153.0L361.5,152.8L362.5,152.7L363.2,153.0L363.6,153.5L364.8,157.1L364.5,156.8L363.9,156.8L362.9,157.0L361.7,157.4L360.4,157.9L358.9,158.4L357.4,158.9L356.1,159.3L354.8,159.5L353.8,159.6L353.1,159.3L352.7,158.8ZM355.5,167.3L355.8,167.6L356.5,167.6L357.4,167.4L358.6,167.1L360.0,166.7L361.5,166.2L363.0,165.8L364.4,165.5L365.7,165.4L366.7,165.4L367.5,165.8L367.8,166.3L368.7,170.0L368.5,169.7L367.8,169.6L366.9,169.8L365.7,170.0L364.3,170.4L362.8,170.8L361.3,171.2L359.9,171.6L358.7,171.8L357.7,171.7L357.0,171.5L356.7,171.0ZM358.6,179.5L358.9,179.7L359.5,179.8L360.5,179.7L361.7,179.5L363.1,179.2L364.6,178.8L366.2,178.5L367.6,178.3L368.8,178.2L369.8,178.3L370.5,178.6L370.8,179.1L371.7,182.8L371.4,182.6L370.8,182.5L369.8,182.6L368.6,182.8L367.2,183.1L365.7,183.5L364.1,183.8L362.7,184.0L361.5,184.1L360.5,184.0L359.8,183.7L359.5,183.2Z" fill="url(#hb20)" opacity="1.0"/><path d="M354.7,146.2L354.2,147.0L353.6,147.8L353.1,148.5L352.6,149.3L352.1,150.1L351.8,150.8L351.5,151.4L351.2,152.1L351.0,152.6L351.0,153.2L351.0,153.6L351.0,154.0L353.1,160.1L353.1,159.9L353.2,159.6L353.3,159.3L353.6,158.9L353.9,158.4L354.2,157.9L354.7,157.3L355.1,156.7L355.6,156.0L356.2,155.3L356.7,154.6L357.3,153.8ZM363.2,152.3L363.1,152.7L362.7,153.4L362.1,154.4L361.2,155.6L360.1,157.0L359.0,158.5L357.8,160.0L356.8,161.5L356.0,163.0L355.4,164.2L355.1,165.3L355.2,166.1L357.1,172.2L357.2,171.8L357.6,171.1L358.3,170.1L359.2,169.0L360.3,167.6L361.5,166.1L362.6,164.5L363.6,163.0L364.5,161.6L365.0,160.3L365.3,159.2L365.2,158.3ZM367.5,165.0L367.4,165.5L367.0,166.2L366.3,167.1L365.3,168.3L364.1,169.5L362.8,170.9L361.6,172.3L360.4,173.8L359.5,175.1L358.8,176.3L358.4,177.4L358.4,178.2L359.7,184.5L359.9,184.0L360.3,183.3L361.1,182.5L362.2,181.3L363.4,180.1L364.6,178.7L365.9,177.3L367.1,175.8L368.0,174.4L368.7,173.2L369.1,172.1L369.1,171.2ZM370.5,177.8L370.5,177.9L370.5,177.9L370.5,178.0L370.5,178.0L370.5,178.0L370.5,178.1L370.5,178.1L370.4,178.2L370.4,178.2L370.4,178.3L370.3,178.4L370.3,178.4L371.9,185.2L371.9,185.1L371.9,185.0L371.9,184.9L371.9,184.8L372.0,184.7L372.0,184.6L372.0,184.5L372.0,184.4L372.0,184.3L372.0,184.2L372.0,184.2L371.9,184.1Z" fill="url(#hf20)"/></g>
<defs><linearGradient id="hf21" gradientUnits="userSpaceOnUse" x1="316.5" y1="129.6" x2="333.5" y2="126.4"><stop offset="0" stop-color="#8a4646"/><stop offset="0.35" stop-color="#d46c6c"/><stop offset="0.62" stop-color="#e39f9f"/><stop offset="1" stop-color="#d46c6c"/></linearGradient><linearGradient id="hb21" gradientUnits="userSpaceOnUse" x1="316.5" y1="129.6" x2="333.5" y2="126.4"><stop offset="0" stop-color="#a75555"/><stop offset="0.45" stop-color="#e19898"/><stop offset="1" stop-color="#eec6c6"/></linearGradient></defs><g opacity="1.0"><path d="M312.1,100.9L312.4,101.2L313.2,101.2L314.3,101.1L315.9,100.8L317.7,100.4L319.6,100.0L321.5,99.6L323.3,99.3L324.8,99.2L326.0,99.3L326.8,99.6L327.1,100.1L327.7,104.0L327.4,103.7L326.6,103.7L325.4,103.8L323.9,104.1L322.1,104.5L320.2,104.9L318.3,105.3L316.5,105.5L315.0,105.7L313.8,105.6L313.0,105.3L312.6,104.8ZM313.9,113.8L314.2,114.1L314.9,114.1L316.1,114.0L317.6,113.7L319.4,113.3L321.3,112.9L323.2,112.5L325.0,112.2L326.5,112.0L327.7,112.1L328.5,112.4L328.9,112.9L329.4,116.8L329.1,116.5L328.4,116.5L327.2,116.6L325.7,116.9L323.9,117.3L322.0,117.8L320.1,118.1L318.3,118.4L316.8,118.6L315.5,118.5L314.7,118.2L314.4,117.7ZM315.8,126.8L316.1,127.1L316.9,127.2L318.1,127.0L319.6,126.7L321.4,126.2L323.2,125.7L325.1,125.3L326.9,124.9L328.4,124.7L329.6,124.7L330.4,124.9L330.8,125.4L331.5,129.3L331.2,129.0L330.4,129.0L329.3,129.3L327.7,129.6L326.0,130.1L324.1,130.6L322.2,131.0L320.4,131.4L318.8,131.5L317.6,131.5L316.8,131.2L316.5,130.7ZM318.4,140.0L318.7,140.2L319.5,140.3L320.7,140.0L322.2,139.6L323.9,139.1L325.8,138.5L327.6,137.9L329.4,137.5L330.9,137.2L332.1,137.1L332.9,137.3L333.3,137.8L334.2,141.7L333.9,141.4L333.1,141.4L332.0,141.7L330.5,142.1L328.7,142.7L326.9,143.3L325.0,143.8L323.2,144.3L321.7,144.5L320.5,144.6L319.7,144.3L319.3,143.8ZM321.5,152.8L321.8,153.1L322.6,153.0L323.7,152.8L325.2,152.3L327.0,151.8L328.8,151.1L330.7,150.5L332.4,150.1L333.9,149.8L335.1,149.7L336.0,149.9L336.4,150.4L337.3,154.2L337.0,154.0L336.2,154.0L335.0,154.3L333.6,154.7L331.8,155.3L330.0,155.9L328.1,156.5L326.4,157.0L324.9,157.3L323.7,157.3L322.8,157.1L322.4,156.6Z" fill="url(#hb21)" opacity="1.0"/><path d="M318.4,91.9L317.5,92.7L316.7,93.5L315.8,94.2L315.1,94.9L314.3,95.7L313.7,96.4L313.1,97.0L312.7,97.6L312.3,98.2L312.1,98.7L311.9,99.2L311.9,99.6L312.8,106.1L312.9,105.9L313.0,105.6L313.3,105.3L313.7,104.9L314.2,104.5L314.8,104.0L315.4,103.4L316.2,102.8L317.0,102.2L317.8,101.5L318.7,100.8L319.6,100.1ZM327.0,98.8L326.8,99.3L326.1,100.0L325.0,100.9L323.6,102.0L322.0,103.4L320.2,104.8L318.4,106.3L316.8,107.8L315.4,109.2L314.4,110.5L313.8,111.6L313.7,112.5L314.6,119.0L314.8,118.5L315.4,117.8L316.5,116.9L317.9,115.7L319.6,114.4L321.3,112.9L323.1,111.4L324.7,110.0L326.1,108.5L327.1,107.3L327.7,106.2L327.8,105.3ZM328.7,111.6L328.5,112.0L327.8,112.7L326.8,113.7L325.4,114.9L323.7,116.2L322.0,117.7L320.3,119.2L318.7,120.7L317.3,122.2L316.3,123.5L315.7,124.6L315.6,125.5L316.7,132.0L316.8,131.5L317.5,130.8L318.5,129.8L319.9,128.6L321.5,127.3L323.2,125.8L325.0,124.3L326.6,122.8L327.9,121.3L328.9,120.0L329.5,118.9L329.6,118.1ZM330.5,124.1L330.3,124.5L329.7,125.3L328.6,126.3L327.3,127.5L325.7,129.0L324.1,130.5L322.4,132.2L320.9,133.8L319.6,135.3L318.7,136.6L318.2,137.8L318.1,138.7L319.6,145.1L319.7,144.6L320.3,143.9L321.3,142.8L322.6,141.6L324.1,140.1L325.8,138.6L327.4,136.9L328.9,135.3L330.2,133.9L331.1,132.5L331.7,131.4L331.7,130.6ZM333.0,136.6L332.8,137.0L332.2,137.8L331.3,138.8L330.0,140.1L328.5,141.6L326.9,143.2L325.3,144.9L323.8,146.6L322.6,148.1L321.7,149.5L321.2,150.6L321.2,151.5L322.8,157.9L322.9,157.4L323.5,156.7L324.4,155.6L325.7,154.3L327.2,152.8L328.8,151.2L330.4,149.5L331.9,147.9L333.1,146.3L334.0,145.0L334.5,143.8L334.5,142.9ZM336.0,149.1L336.0,149.3L335.9,149.6L335.6,150.0L335.2,150.5L334.7,151.0L334.2,151.6L333.5,152.3L332.8,153.0L332.0,153.8L331.2,154.7L330.3,155.5L329.5,156.4L331.4,164.4L332.2,163.5L333.1,162.6L333.9,161.7L334.7,160.8L335.4,160.0L336.0,159.2L336.6,158.4L337.0,157.7L337.3,157.0L337.6,156.4L337.7,155.9L337.6,155.5Z" fill="url(#hf21)"/></g>
<defs><linearGradient id="hf22" gradientUnits="userSpaceOnUse" x1="289.6" y1="70.2" x2="307.4" y2="65.8"><stop offset="0" stop-color="#7a2222"/><stop offset="0.35" stop-color="#bc3434"/><stop offset="0.62" stop-color="#d37b7b"/><stop offset="1" stop-color="#bc3434"/></linearGradient><linearGradient id="hb22" gradientUnits="userSpaceOnUse" x1="289.6" y1="70.2" x2="307.4" y2="65.8"><stop offset="0" stop-color="#952929"/><stop offset="0.45" stop-color="#d07171"/><stop offset="1" stop-color="#e5b1b1"/></linearGradient></defs><g opacity="0.95"><path d="M289.6,64.3L290.0,64.6L290.8,64.5L292.0,64.1L293.5,63.4L295.3,62.7L297.2,61.9L299.2,61.2L301.0,60.5L302.7,60.1L304.0,60.0L304.9,60.2L305.3,60.7L306.3,64.4L306.0,64.1L305.1,64.1L303.9,64.5L302.3,65.0L300.5,65.7L298.6,66.5L296.7,67.3L294.9,67.9L293.3,68.4L292.1,68.6L291.2,68.5L290.8,68.0ZM292.5,76.0L292.7,76.2L293.1,76.3L293.7,76.3L294.5,76.1L295.5,75.9L296.6,75.6L297.8,75.2L299.2,74.9L300.5,74.5L301.9,74.1L303.2,73.8L304.4,73.5L305.3,78.0L304.1,78.4L302.7,78.8L301.4,79.2L300.0,79.6L298.7,79.9L297.4,80.2L296.3,80.4L295.3,80.5L294.4,80.5L293.8,80.4L293.4,80.2L293.2,79.8Z" fill="url(#hb22)" opacity="1.0"/><path d="M294.8,54.2L294.0,55.1L293.2,56.0L292.5,57.0L291.8,57.9L291.1,58.7L290.6,59.6L290.1,60.3L289.7,61.0L289.4,61.7L289.2,62.2L289.2,62.7L289.2,63.1L291.2,69.2L291.2,69.0L291.3,68.7L291.5,68.4L291.9,67.9L292.3,67.4L292.8,66.7L293.4,66.0L294.1,65.3L294.8,64.5L295.6,63.6L296.3,62.7L297.2,61.8ZM305.0,59.5L304.9,60.0L304.4,60.9L303.4,62.0L302.1,63.4L300.5,64.9L298.7,66.6L297.0,68.3L295.4,69.9L294.0,71.4L293.0,72.8L292.4,73.9L292.3,74.8L293.4,81.1L293.6,80.6L294.3,79.8L295.4,78.8L296.9,77.5L298.6,76.0L300.4,74.4L302.2,72.7L303.8,71.0L305.1,69.4L306.1,67.9L306.6,66.6L306.7,65.7Z" fill="url(#hf22)"/></g>
<defs><linearGradient id="hf23" gradientUnits="userSpaceOnUse" x1="287.8" y1="115.1" x2="307.2" y2="116.9"><stop offset="0" stop-color="#6e0c0e"/><stop offset="0.35" stop-color="#aa1216"/><stop offset="0.62" stop-color="#c86568"/><stop offset="1" stop-color="#aa1216"/></linearGradient><linearGradient id="hb23" gradientUnits="userSpaceOnUse" x1="287.8" y1="115.1" x2="307.2" y2="116.9"><stop offset="0" stop-color="#860e11"/><stop offset="0.45" stop-color="#c4595c"/><stop offset="1" stop-color="#dfa4a5"/></linearGradient></defs><g opacity="1.0"><path d="M292.9,80.9L293.2,81.2L294.0,81.3L295.4,81.2L297.1,80.9L299.2,80.5L301.3,80.1L303.5,79.7L305.6,79.5L307.3,79.4L308.7,79.5L309.6,79.9L310.0,80.5L310.2,84.7L309.9,84.4L309.0,84.3L307.7,84.4L305.9,84.6L303.9,85.0L301.7,85.4L299.6,85.7L297.5,86.0L295.8,86.1L294.4,86.0L293.6,85.7L293.2,85.1ZM293.5,93.7L293.8,94.0L294.7,94.1L296.0,94.1L297.8,93.9L299.8,93.7L302.0,93.6L304.3,93.5L306.3,93.4L308.1,93.5L309.4,93.8L310.3,94.2L310.6,94.9L310.4,99.1L310.1,98.7L309.3,98.6L307.9,98.5L306.1,98.6L304.1,98.7L301.9,98.9L299.7,99.0L297.6,99.0L295.9,99.0L294.6,98.8L293.8,98.5L293.5,97.9ZM292.9,106.6L293.2,106.9L294.0,107.1L295.4,107.1L297.1,107.1L299.2,107.1L301.4,107.1L303.6,107.1L305.7,107.2L307.4,107.4L308.8,107.8L309.6,108.2L309.8,108.9L309.4,113.1L309.1,112.7L308.3,112.5L306.9,112.3L305.2,112.3L303.1,112.3L300.9,112.3L298.7,112.3L296.7,112.2L294.9,112.1L293.6,111.8L292.8,111.3L292.6,110.8ZM291.5,119.5L291.7,119.8L292.6,120.1L293.9,120.2L295.7,120.3L297.7,120.4L299.9,120.5L302.2,120.6L304.2,120.8L305.9,121.1L307.3,121.6L308.0,122.1L308.2,122.7L307.6,126.9L307.4,126.5L306.5,126.3L305.2,126.0L303.4,125.9L301.4,125.8L299.2,125.7L297.0,125.6L294.9,125.4L293.2,125.2L291.9,124.8L291.1,124.3L291.0,123.7ZM289.5,132.5L289.7,132.9L290.5,133.2L291.8,133.4L293.6,133.5L295.7,133.7L297.9,133.8L300.1,134.0L302.1,134.3L303.8,134.6L305.1,135.0L305.9,135.5L306.1,136.2L305.4,140.4L305.1,140.0L304.3,139.7L303.0,139.5L301.2,139.3L299.2,139.2L297.0,139.0L294.8,138.8L292.7,138.6L291.0,138.3L289.7,137.9L288.9,137.3L288.8,136.7ZM287.2,145.8L287.4,146.1L288.2,146.4L289.5,146.6L291.3,146.8L293.3,147.0L295.6,147.1L297.8,147.3L299.8,147.6L301.5,147.9L302.8,148.3L303.6,148.9L303.8,149.5L303.0,153.7L302.8,153.3L302.0,153.0L300.7,152.8L298.9,152.6L296.8,152.5L294.6,152.3L292.4,152.1L290.4,151.9L288.7,151.5L287.4,151.1L286.6,150.6L286.4,149.9Z" fill="url(#hb23)" opacity="1.0"/><path d="M300.7,71.6L299.7,72.4L298.6,73.1L297.6,73.9L296.6,74.7L295.8,75.4L295.0,76.1L294.3,76.8L293.7,77.5L293.3,78.1L293.0,78.6L292.8,79.1L292.7,79.5L293.3,86.6L293.4,86.4L293.6,86.1L293.9,85.8L294.4,85.4L294.9,84.9L295.6,84.4L296.4,83.8L297.3,83.2L298.2,82.5L299.2,81.8L300.2,81.1L301.3,80.4ZM309.9,79.1L309.6,79.6L308.9,80.3L307.5,81.2L305.9,82.4L303.9,83.7L301.8,85.1L299.6,86.5L297.7,87.9L295.9,89.3L294.6,90.4L293.8,91.5L293.5,92.3L293.5,99.3L293.9,99.0L294.7,98.3L296.1,97.5L297.9,96.5L299.9,95.2L302.1,93.9L304.3,92.4L306.3,91.0L308.0,89.5L309.3,88.2L310.1,87.1L310.3,86.1ZM310.6,93.5L310.3,93.9L309.5,94.6L308.1,95.3L306.3,96.3L304.2,97.4L301.9,98.6L299.7,99.8L297.6,101.0L295.7,102.2L294.3,103.3L293.4,104.3L293.0,105.2L292.5,112.2L292.8,111.8L293.7,111.2L295.1,110.5L297.0,109.5L299.1,108.5L301.4,107.3L303.7,106.1L305.8,104.9L307.7,103.6L309.1,102.5L310.0,101.4L310.3,100.5ZM310.0,107.5L309.6,107.9L308.7,108.5L307.3,109.2L305.5,110.0L303.3,111.0L301.0,112.0L298.6,113.1L296.4,114.2L294.5,115.3L293.1,116.3L292.1,117.3L291.7,118.1L290.8,125.1L291.1,124.7L292.0,124.2L293.5,123.5L295.4,122.7L297.6,121.8L299.9,120.8L302.3,119.7L304.5,118.5L306.4,117.4L307.9,116.3L308.8,115.4L309.2,114.5ZM308.5,121.3L308.1,121.7L307.2,122.2L305.7,122.9L303.8,123.6L301.6,124.5L299.2,125.4L296.8,126.4L294.6,127.4L292.7,128.4L291.1,129.4L290.1,130.3L289.7,131.2L288.5,138.1L288.9,137.7L289.8,137.2L291.3,136.6L293.2,135.9L295.4,135.0L297.8,134.1L300.2,133.1L302.5,132.1L304.4,131.1L305.9,130.1L307.0,129.1L307.4,128.3ZM306.3,134.8L306.0,135.2L305.0,135.7L303.5,136.3L301.6,137.0L299.4,137.8L297.0,138.7L294.6,139.7L292.4,140.7L290.4,141.7L288.9,142.6L287.8,143.6L287.4,144.4L286.2,151.3L286.5,150.9L287.5,150.4L289.0,149.8L290.9,149.1L293.1,148.3L295.5,147.4L297.9,146.4L300.2,145.4L302.1,144.4L303.7,143.5L304.7,142.6L305.1,141.7ZM304.0,148.1L303.9,148.3L303.7,148.4L303.4,148.6L302.9,148.8L302.4,149.1L301.7,149.4L301.0,149.6L300.2,149.9L299.3,150.3L298.3,150.6L297.3,151.0L296.3,151.4L294.8,160.1L295.9,159.6L296.9,159.2L297.8,158.7L298.8,158.3L299.6,157.8L300.4,157.4L301.0,157.0L301.6,156.6L302.1,156.2L302.4,155.8L302.7,155.4L302.8,155.0Z" fill="url(#hf23)"/></g>
<defs><linearGradient id="hf24" gradientUnits="userSpaceOnUse" x1="342.5" y1="132.7" x2="360.5" y2="129.3"><stop offset="0" stop-color="#7f2f2f"/><stop offset="0.35" stop-color="#c44848"/><stop offset="0.62" stop-color="#d98888"/><stop offset="1" stop-color="#c44848"/></linearGradient><linearGradient id="hb24" gradientUnits="userSpaceOnUse" x1="342.5" y1="132.7" x2="360.5" y2="129.3"><stop offset="0" stop-color="#9b3939"/><stop offset="0.45" stop-color="#d67f7f"/><stop offset="1" stop-color="#e8b9b9"/></linearGradient></defs><g opacity="0.9"><path d="M341.2,117.9L341.5,118.1L342.3,118.1L343.6,117.8L345.1,117.3L347.0,116.7L348.9,116.0L350.9,115.4L352.8,114.8L354.4,114.5L355.7,114.4L356.6,114.6L357.0,115.1L357.8,118.8L357.5,118.6L356.7,118.6L355.4,118.9L353.9,119.4L352.0,120.0L350.0,120.7L348.1,121.3L346.2,121.8L344.6,122.2L343.3,122.3L342.5,122.1L342.1,121.6ZM344.0,130.3L344.3,130.6L345.2,130.6L346.4,130.3L348.0,129.8L349.9,129.3L351.8,128.7L353.9,128.1L355.8,127.7L357.4,127.4L358.8,127.5L359.6,127.7L360.0,128.3L360.6,132.1L360.3,131.7L359.5,131.7L358.2,131.9L356.6,132.3L354.8,132.8L352.8,133.4L350.8,133.9L348.9,134.4L347.3,134.7L346.1,134.8L345.2,134.6L344.8,134.1ZM346.0,142.6L346.3,142.9L347.1,142.9L348.4,142.7L350.0,142.4L351.9,141.9L353.9,141.5L356.0,141.1L357.9,140.7L359.5,140.6L360.8,140.6L361.7,140.9L362.0,141.4L362.5,145.3L362.2,145.0L361.3,144.9L360.1,145.1L358.5,145.4L356.6,145.8L354.5,146.3L352.5,146.7L350.6,147.0L349.0,147.2L347.7,147.2L346.9,146.9L346.5,146.4Z" fill="url(#hb24)" opacity="1.0"/><path d="M347.1,108.1L346.2,109.0L345.4,109.8L344.5,110.7L343.8,111.5L343.1,112.4L342.5,113.1L341.9,113.9L341.5,114.6L341.2,115.2L340.9,115.7L340.8,116.2L340.9,116.6L342.3,122.9L342.4,122.7L342.5,122.4L342.8,122.0L343.1,121.6L343.6,121.1L344.2,120.5L344.8,119.8L345.5,119.1L346.3,118.4L347.1,117.6L348.0,116.7L348.9,115.9ZM356.7,113.8L356.5,114.3L355.9,115.1L354.8,116.2L353.4,117.6L351.8,119.1L350.1,120.8L348.3,122.5L346.8,124.1L345.4,125.7L344.4,127.1L343.8,128.3L343.8,129.1L345.1,135.4L345.3,134.9L345.9,134.1L347.0,133.1L348.4,131.7L350.1,130.2L351.8,128.6L353.6,126.8L355.2,125.1L356.5,123.5L357.5,122.1L358.0,121.0L358.1,120.1ZM359.8,127.0L359.6,127.5L359.0,128.3L357.8,129.3L356.4,130.5L354.7,131.9L352.8,133.5L350.9,135.0L349.2,136.6L347.8,138.0L346.7,139.3L346.0,140.5L345.8,141.3L346.7,147.6L346.9,147.2L347.6,146.5L348.8,145.5L350.3,144.3L352.1,142.9L353.9,141.4L355.8,139.8L357.5,138.2L359.0,136.7L360.1,135.4L360.7,134.2L360.8,133.3ZM361.8,140.2L361.8,140.3L361.7,140.6L361.4,140.8L361.1,141.2L360.6,141.6L360.1,142.0L359.5,142.5L358.8,143.0L358.1,143.6L357.3,144.1L356.5,144.8L355.6,145.4L356.7,153.4L357.5,152.7L358.3,152.0L359.1,151.3L359.8,150.6L360.5,150.0L361.0,149.4L361.5,148.8L362.0,148.3L362.3,147.7L362.5,147.3L362.6,146.9L362.6,146.5Z" fill="url(#hf24)"/></g>
<defs><linearGradient id="hf25" gradientUnits="userSpaceOnUse" x1="332.3" y1="85.0" x2="351.7" y2="83.0"><stop offset="0" stop-color="#6e0c0e"/><stop offset="0.35" stop-color="#aa1216"/><stop offset="0.62" stop-color="#c86568"/><stop offset="1" stop-color="#aa1216"/></linearGradient><linearGradient id="hb25" gradientUnits="userSpaceOnUse" x1="332.3" y1="85.0" x2="351.7" y2="83.0"><stop offset="0" stop-color="#860e11"/><stop offset="0.45" stop-color="#c4595c"/><stop offset="1" stop-color="#dfa4a5"/></linearGradient></defs><g opacity="1.0"><path d="M331.0,61.1L331.3,61.4L332.2,61.4L333.5,61.3L335.2,61.0L337.3,60.5L339.4,60.1L341.6,59.7L343.6,59.4L345.4,59.2L346.7,59.3L347.6,59.6L348.0,60.1L348.4,64.3L348.1,64.1L347.2,64.0L345.9,64.2L344.1,64.5L342.1,64.9L340.0,65.3L337.8,65.8L335.8,66.1L334.0,66.2L332.6,66.2L331.8,65.8L331.4,65.3ZM332.4,74.5L332.7,74.8L333.5,74.9L334.9,74.7L336.6,74.4L338.6,74.0L340.8,73.5L343.0,73.1L345.0,72.8L346.7,72.6L348.1,72.7L349.0,73.0L349.3,73.6L349.8,77.8L349.5,77.5L348.6,77.4L347.3,77.6L345.5,77.9L343.5,78.3L341.3,78.8L339.2,79.2L337.1,79.5L335.4,79.6L334.0,79.6L333.1,79.3L332.8,78.7ZM333.8,88.0L334.1,88.3L335.0,88.3L336.3,88.2L338.0,87.8L340.0,87.4L342.2,86.9L344.4,86.5L346.4,86.2L348.2,86.0L349.5,86.1L350.4,86.4L350.8,86.9L351.2,91.1L350.9,90.8L350.0,90.8L348.7,91.0L347.0,91.3L344.9,91.7L342.8,92.2L340.6,92.6L338.6,92.9L336.8,93.1L335.5,93.0L334.6,92.7L334.2,92.2ZM335.3,101.4L335.6,101.7L336.4,101.8L337.8,101.6L339.5,101.3L341.5,100.8L343.7,100.4L345.9,99.9L347.9,99.6L349.6,99.4L351.0,99.5L351.9,99.8L352.2,100.3L352.7,104.5L352.4,104.2L351.5,104.2L350.2,104.4L348.5,104.7L346.4,105.1L344.3,105.6L342.1,106.0L340.1,106.4L338.3,106.5L337.0,106.5L336.1,106.2L335.7,105.6Z" fill="url(#hb25)" opacity="1.0"/><path d="M338.5,51.6L337.5,52.4L336.5,53.2L335.5,54.0L334.6,54.8L333.8,55.5L333.0,56.3L332.3,57.0L331.8,57.6L331.3,58.2L331.0,58.8L330.9,59.3L330.8,59.7L331.5,66.7L331.6,66.5L331.8,66.2L332.1,65.9L332.6,65.5L333.1,65.0L333.8,64.5L334.6,63.9L335.5,63.3L336.4,62.6L337.4,61.9L338.4,61.1L339.5,60.4ZM347.8,58.7L347.6,59.2L346.8,59.9L345.5,60.9L343.9,62.1L342.0,63.5L339.9,65.1L337.9,66.6L336.0,68.2L334.4,69.7L333.1,71.0L332.4,72.2L332.2,73.1L332.9,80.1L333.2,79.7L334.0,78.9L335.2,77.9L336.9,76.7L338.8,75.3L340.8,73.8L342.9,72.2L344.8,70.7L346.4,69.2L347.6,67.8L348.3,66.7L348.5,65.7ZM349.2,72.2L349.0,72.6L348.2,73.3L346.9,74.3L345.3,75.6L343.4,77.0L341.3,78.5L339.3,80.1L337.4,81.6L335.8,83.1L334.5,84.5L333.8,85.7L333.6,86.6L334.4,93.6L334.6,93.1L335.4,92.4L336.6,91.4L338.3,90.2L340.2,88.8L342.2,87.2L344.3,85.6L346.2,84.1L347.8,82.6L349.0,81.2L349.7,80.1L349.9,79.2ZM350.6,85.5L350.4,86.0L349.6,86.7L348.3,87.7L346.7,89.0L344.8,90.4L342.7,91.9L340.7,93.5L338.8,95.1L337.2,96.6L336.0,98.0L335.3,99.1L335.1,100.0L335.9,107.0L336.1,106.6L336.9,105.8L338.1,104.8L339.8,103.6L341.7,102.2L343.7,100.7L345.8,99.1L347.6,97.5L349.2,96.0L350.5,94.6L351.2,93.4L351.4,92.5ZM352.1,98.9L351.9,99.3L351.4,99.9L350.5,100.6L349.3,101.6L347.8,102.7L346.2,103.9L344.4,105.2L342.7,106.5L341.1,107.9L339.6,109.2L338.3,110.4L337.4,111.5L338.3,119.3L339.3,118.6L340.5,117.6L342.0,116.5L343.7,115.2L345.4,113.9L347.1,112.6L348.8,111.2L350.2,109.9L351.4,108.7L352.2,107.6L352.7,106.7L352.9,105.9Z" fill="url(#hf25)"/></g>
<path d="M295.6,41.0L295.8,40.9L296.0,40.9L296.2,40.8L296.5,40.7L296.8,40.6L297.1,40.5L297.4,40.3L297.7,40.2L298.0,40.1L298.4,40.0L298.8,39.8L299.1,39.7L299.5,39.6L299.9,39.5L300.3,39.5L300.6,39.4L301.0,39.4L301.3,39.3L301.7,39.4L302.0,39.4L302.3,39.5L302.7,39.5L303.0,39.7L303.3,39.8L303.7,39.9L304.1,40.1L304.4,40.2L304.8,40.4L305.1,40.6L305.5,40.8L305.8,41.0L306.2,41.2L306.5,41.5L306.8,41.7L307.1,41.9L307.4,42.2L307.6,42.4L307.9,42.7L308.1,42.9L308.3,43.2L308.5,43.5L308.6,43.8L308.8,44.1L308.9,44.4L309.0,44.8L309.0,45.1L309.1,45.5L309.2,45.9L309.2,46.3L309.2,46.6L309.3,47.0L309.3,47.4L309.3,47.7L309.3,48.1L309.3,48.4L309.3,48.7L309.3,49.0L309.4,49.2L309.4,49.4L309.4,49.6" stroke="#f0c8c8" stroke-width="1.1" fill="none" opacity="1.0" stroke-linecap="round" stroke-linejoin="round"/>
<path d="M314.7,53.8L314.7,53.6L314.7,53.3L314.8,53.0L314.8,52.7L314.8,52.3L314.8,51.9L314.8,51.4L314.9,51.0L314.9,50.5L314.9,50.0L315.0,49.6L315.0,49.1L315.1,48.7L315.1,48.2L315.2,47.8L315.3,47.5L315.4,47.1L315.5,46.8L315.6,46.6L315.7,46.4L315.8,46.3L316.0,46.2L316.2,46.1L316.4,46.1L316.5,46.1L316.8,46.2L317.0,46.2L317.2,46.3L317.4,46.4L317.6,46.6L317.9,46.7L318.1,46.8L318.4,46.9L318.6,47.1L318.9,47.2L319.1,47.3L319.3,47.4L319.6,47.4L319.8,47.5L320.0,47.5L320.2,47.5L320.4,47.5L320.6,47.5L320.8,47.4L321.1,47.4L321.3,47.3L321.5,47.3L321.7,47.2L321.9,47.1L322.1,47.1L322.3,47.0L322.5,46.9L322.7,46.9L322.9,46.8L323.2,46.7L323.4,46.6L323.6,46.6L323.8,46.5L324.0,46.5L324.2,46.4L324.4,46.3L324.6,46.3L324.9,46.2L325.1,46.1L325.3,46.0L325.6,45.9L325.8,45.8L326.0,45.7L326.3,45.7L326.5,45.6L326.7,45.5L327.0,45.4L327.2,45.4L327.4,45.3L327.6,45.3L327.8,45.3L327.9,45.3L328.1,45.3L328.3,45.3L328.4,45.4L328.5,45.5L328.6,45.6L328.7,45.7L328.8,45.9L328.8,46.1L328.9,46.3L328.9,46.5L328.9,46.7L328.9,46.9L329.0,47.2L329.0,47.4L329.0,47.7L329.0,47.9L329.0,48.2L329.1,48.4L329.1,48.7L329.2,48.9L329.2,49.2L329.3,49.4L329.4,49.6L329.5,49.8L329.6,50.0L329.8,50.3L330.0,50.5L330.1,50.7L330.3,51.0L330.5,51.2L330.7,51.5L330.9,51.7L331.1,52.0L331.3,52.2L331.4,52.4L331.6,52.6L331.8,52.8L332.0,53.0L332.1,53.2L332.3,53.4L332.4,53.6L332.5,53.7L332.6,53.8" stroke="#b01c1c" stroke-width="1.2" fill="none" opacity="1.0" stroke-linecap="round" stroke-linejoin="round"/>
<path d="M298.8,57.0L298.8,57.2L298.8,57.5L298.8,57.8L298.8,58.1L298.8,58.5L298.9,58.8L298.9,59.3L298.9,59.7L298.9,60.1L298.9,60.6L298.9,61.0L299.0,61.5L299.0,61.9L299.1,62.3L299.2,62.7L299.3,63.1L299.4,63.5L299.5,63.8L299.7,64.1L299.9,64.4L300.1,64.6L300.4,64.8L300.7,65.0L301.1,65.1L301.5,65.2L301.9,65.3L302.3,65.4L302.7,65.4L303.2,65.5L303.6,65.5L304.1,65.6L304.5,65.6L304.9,65.7L305.4,65.7L305.8,65.8L306.1,65.9L306.5,66.0L306.8,66.1L307.1,66.3L307.3,66.5L307.5,66.7L307.7,67.0L307.8,67.3L307.9,67.6L308.0,67.9L308.1,68.3L308.2,68.6L308.2,69.0L308.2,69.4L308.3,69.8L308.3,70.2L308.3,70.5L308.3,70.9L308.3,71.2L308.3,71.6L308.3,71.9L308.3,72.2L308.3,72.4L308.3,72.6L308.3,72.8" stroke="#b01c1c" stroke-width="1.2" fill="none" opacity="1.0" stroke-linecap="round" stroke-linejoin="round"/>
<path d="M348.8,43.2L348.8,43.1L348.8,42.9L348.9,42.8L348.9,42.6L348.9,42.4L348.9,42.2L348.9,42.0L349.0,41.7L349.0,41.5L349.0,41.2L349.1,41.0L349.1,40.7L349.2,40.5L349.2,40.2L349.3,40.0L349.4,39.8L349.5,39.6L349.6,39.4L349.8,39.2L349.9,39.0L350.1,38.8L350.2,38.7L350.4,38.6L350.6,38.4L350.8,38.3L351.0,38.2L351.2,38.1L351.4,38.0L351.6,37.9L351.8,37.8L352.1,37.7L352.4,37.6L352.6,37.5L352.9,37.4L353.2,37.3L353.6,37.2L353.9,37.1L354.3,37.1L354.7,37.0L355.1,36.9L355.6,36.8L356.1,36.7L356.6,36.6L357.2,36.5L357.8,36.4L358.5,36.2L359.2,36.1L359.9,36.0L360.6,35.9L361.3,35.8L362.0,35.7L362.7,35.6L363.3,35.5L363.9,35.5L364.5,35.5L365.1,35.5L365.6,35.5L366.1,35.6L366.5,35.7L366.8,35.8L367.1,36.0L367.3,36.2L367.5,36.5L367.6,36.8L367.7,37.1L367.8,37.4L367.8,37.8L367.8,38.2L367.8,38.6L367.7,39.0L367.7,39.5L367.6,39.9L367.5,40.3L367.4,40.8L367.3,41.2L367.2,41.6L367.1,42.1L367.0,42.5L366.9,42.8L366.8,43.2L366.7,43.5L366.6,43.9L366.4,44.2L366.3,44.6L366.1,44.9L365.9,45.3L365.7,45.6L365.5,45.9L365.3,46.3L365.1,46.6L364.9,46.9L364.7,47.2L364.5,47.6L364.3,47.9L364.1,48.2L364.0,48.5L363.8,48.8L363.7,49.1L363.6,49.3L363.6,49.6L363.6,49.9L363.6,50.1L363.6,50.4L363.7,50.6L363.8,50.9L363.9,51.2L364.0,51.4L364.2,51.6L364.3,51.9L364.5,52.1L364.6,52.3L364.8,52.5L364.9,52.7L365.1,52.9L365.2,53.1L365.3,53.3L365.4,53.4L365.6,53.6L365.6,53.7L365.7,53.8" stroke="#c03030" stroke-width="1.2" fill="none" opacity="1.0" stroke-linecap="round" stroke-linejoin="round"/>
<path d="M277.9,153.9L277.9,154.2L277.8,154.5L277.7,154.9L277.6,155.3L277.5,155.8L277.4,156.3L277.3,156.8L277.2,157.4L277.0,158.0L276.9,158.5L276.8,159.1L276.7,159.7L276.6,160.2L276.6,160.8L276.5,161.3L276.5,161.8L276.5,162.2L276.5,162.7L276.6,163.0L276.7,163.3L276.8,163.5L277.0,163.8L277.2,164.0L277.4,164.1L277.6,164.3L277.9,164.4L278.1,164.5L278.4,164.6L278.7,164.6L279.1,164.7L279.4,164.7L279.7,164.7L280.1,164.7L280.4,164.7L280.8,164.6L281.2,164.6L281.5,164.6L281.9,164.5L282.2,164.5L282.6,164.4L283.0,164.3L283.3,164.2L283.7,164.1L284.1,163.9L284.6,163.7L285.0,163.5L285.4,163.2L285.9,163.0L286.3,162.7L286.8,162.5L287.2,162.2L287.7,162.0L288.1,161.8L288.5,161.6L288.9,161.4L289.3,161.2L289.7,161.1L290.1,161.0L290.5,161.0L290.8,161.0L291.1,161.0L291.4,161.1L291.8,161.3L292.1,161.4L292.4,161.6L292.7,161.8L293.0,162.0L293.3,162.3L293.5,162.5L293.8,162.8L294.1,163.1L294.3,163.4L294.5,163.7L294.7,164.0L294.9,164.3L295.1,164.5L295.2,164.8L295.3,165.1L295.4,165.4L295.5,165.6L295.5,165.8L295.5,166.1L295.4,166.3L295.3,166.6L295.1,166.8L294.9,167.1L294.7,167.3L294.5,167.6L294.2,167.8L294.0,168.1L293.8,168.3L293.6,168.6L293.4,168.8L293.2,169.1L293.0,169.3L292.9,169.5L292.9,169.7L292.9,169.9L293.0,170.1L293.1,170.3L293.3,170.5L293.5,170.7L293.8,170.8L294.1,171.0L294.5,171.2L294.9,171.3L295.3,171.5L295.7,171.7L296.2,171.8L296.7,171.9L297.2,172.1L297.8,172.2L298.3,172.3L298.9,172.4L299.5,172.5L300.1,172.6L300.7,172.6L301.3,172.7L301.9,172.7L302.5,172.7L303.1,172.7L303.8,172.6L304.6,172.5L305.4,172.4L306.2,172.3L307.0,172.1L307.9,171.9L308.7,171.7L309.6,171.6L310.5,171.4L311.3,171.2L312.2,171.0L313.0,170.8L313.8,170.6L314.6,170.5L315.3,170.4L316.0,170.3L316.6,170.3L317.2,170.3L317.7,170.3L318.1,170.4L318.5,170.5L318.9,170.6L319.2,170.7L319.5,170.9L319.7,171.1L319.9,171.3L320.1,171.6L320.2,171.8L320.3,172.1L320.4,172.3L320.5,172.6L320.6,172.9L320.7,173.2L320.8,173.5L320.8,173.8L320.9,174.1L321.0,174.4L321.1,174.7L321.2,175.0L321.3,175.3L321.4,175.6L321.5,176.0L321.6,176.4L321.6,176.8L321.7,177.2L321.8,177.6L321.8,178.0L321.9,178.4L321.9,178.8L321.9,179.2L322.0,179.6L322.0,180.0L322.1,180.3L322.1,180.7L322.1,181.0L322.2,181.3L322.3,181.6L322.3,181.8L322.4,182.0L322.5,182.2L322.6,182.3L322.6,182.3L322.7,182.4L322.8,182.4L322.9,182.3L322.9,182.3L323.0,182.2L323.1,182.1L323.2,182.1L323.3,182.0L323.4,181.9L323.5,181.8L323.6,181.8L323.7,181.7L323.8,181.7L324.0,181.7L324.1,181.8L324.2,181.9L324.4,182.0L324.6,182.2L324.7,182.3L324.9,182.5L325.1,182.8L325.3,183.0L325.5,183.3L325.8,183.5L326.0,183.8L326.2,184.1L326.4,184.4L326.7,184.8L326.9,185.1L327.2,185.4L327.4,185.8L327.7,186.1L327.9,186.5L328.2,186.8L328.5,187.2L328.7,187.5L329.0,187.9L329.3,188.3L329.6,188.7L329.8,189.1L330.2,189.6L330.5,190.1L330.8,190.6L331.1,191.2L331.4,191.7L331.7,192.2L332.1,192.8L332.4,193.3L332.7,193.7L333.0,194.2L333.3,194.6L333.7,195.0L333.9,195.3L334.2,195.6L334.5,195.8L334.8,195.9L335.0,196.0L335.2,196.0L335.4,195.9L335.6,195.8L335.8,195.6L336.0,195.3L336.2,195.0L336.3,194.7L336.5,194.3L336.6,193.9L336.8,193.5L336.9,193.1L337.1,192.6L337.2,192.1L337.4,191.7L337.5,191.2L337.7,190.7L337.8,190.3L338.0,189.8L338.2,189.4L338.4,189.0L338.6,188.6L338.8,188.2L339.1,187.8L339.3,187.3L339.6,186.9L339.8,186.4L340.1,185.9L340.4,185.5L340.6,185.0L340.9,184.5L341.2,184.1L341.4,183.6L341.7,183.2L341.9,182.8L342.1,182.4L342.4,182.0L342.5,181.7L342.7,181.4L342.9,181.1L343.0,180.9" stroke="#c04444" stroke-width="1.2" fill="none" opacity="1.0" stroke-linecap="round" stroke-linejoin="round"/>
<path d="M277.9,149.2L277.8,149.5L277.7,150.0L277.5,150.4L277.4,151.0L277.2,151.6L277.0,152.2L276.8,152.9L276.6,153.6L276.4,154.4L276.1,155.1L275.9,155.8L275.7,156.6L275.5,157.3L275.3,158.0L275.1,158.6L274.9,159.2L274.8,159.8L274.6,160.2L274.5,160.7L274.4,161.0" stroke="#f0d0d0" stroke-width="1.0" fill="none" opacity="1.0" stroke-linecap="round" stroke-linejoin="round"/>
<path d="M354.8,182.0L354.9,182.3L355.1,182.7L355.2,183.1L355.4,183.6L355.5,184.2L355.7,184.8L355.9,185.4L356.1,186.1L356.3,186.8L356.6,187.5L356.8,188.1L357.1,188.8L357.3,189.4L357.6,190.0L357.9,190.6L358.2,191.1L358.5,191.6L358.8,192.0L359.2,192.4L359.5,192.6L359.9,192.8L360.3,192.9L360.7,192.9L361.2,192.9L361.7,192.9L362.3,192.8L362.8,192.6L363.4,192.5L363.9,192.3L364.5,192.1L365.0,191.8L365.6,191.6L366.1,191.4L366.6,191.2L367.1,190.9L367.5,190.7L368.0,190.6L368.3,190.4L368.6,190.3L368.9,190.2" stroke="#f0d4d4" stroke-width="1.0" fill="none" opacity="1.0" stroke-linecap="round" stroke-linejoin="round"/>
<path d="M334.7,40.0L334.8,40.1L335.0,40.2L335.2,40.2L335.4,40.3L335.7,40.4L335.9,40.5L336.2,40.5L336.5,40.6L336.8,40.7L337.1,40.9L337.4,41.0L337.7,41.2L337.9,41.4L338.2,41.6L338.5,41.9L338.7,42.2L338.9,42.6L339.1,43.0L339.2,43.5L339.3,44.0L339.4,44.6L339.4,45.3L339.5,46.0L339.5,46.8L339.5,47.7L339.6,48.6L339.5,49.6L339.5,50.6L339.5,51.6L339.4,52.6L339.4,53.7L339.3,54.7L339.2,55.7L339.1,56.7L338.9,57.7L338.8,58.7L338.6,59.6L338.4,60.5L338.2,61.3L338.0,62.0L337.7,62.7L337.5,63.3L337.1,64.0L336.8,64.5L336.4,65.1L336.0,65.7L335.6,66.2L335.2,66.7L334.7,67.2L334.3,67.6L333.8,68.1L333.4,68.5L332.9,69.0L332.5,69.4L332.0,69.8L331.6,70.3L331.2,70.7L330.7,71.1L330.4,71.6L330.0,72.0L329.7,72.5L329.3,72.9L329.0,73.4L328.7,73.8L328.4,74.3L328.1,74.7L327.8,75.2L327.5,75.6L327.2,76.1L326.9,76.5L326.6,76.9L326.3,77.3L326.0,77.7L325.7,78.1L325.5,78.5L325.2,78.8L324.9,79.1L324.6,79.5L324.3,79.7L324.0,80.0L323.7,80.2L323.4,80.5L323.1,80.7L322.8,80.8L322.5,81.0L322.1,81.2L321.8,81.3L321.5,81.4L321.2,81.5L320.9,81.6L320.6,81.7L320.3,81.8L320.0,81.8L319.7,81.9L319.4,81.9L319.1,82.0L318.8,82.0L318.5,82.0L318.3,82.0L318.0,82.0L317.7,82.0L317.5,82.0L317.2,82.0L316.9,82.0L316.6,82.0L316.3,81.9L316.0,81.9L315.7,81.9L315.4,81.8L315.1,81.8L314.9,81.7L314.6,81.6L314.4,81.5L314.3,81.3L314.1,81.2L314.0,81.0L313.9,80.8L313.9,80.5L313.9,80.3L314.0,80.0L314.1,79.7L314.3,79.3L314.5,79.0L314.8,78.5L315.1,78.1L315.5,77.7L315.8,77.2L316.2,76.7L316.7,76.2L317.1,75.6L317.6,75.1L318.1,74.5L318.6,74.0L319.1,73.4L319.6,72.8L320.1,72.3L320.6,71.7L321.1,71.1L321.5,70.6L322.0,70.0L322.5,69.4L323.0,68.8L323.5,68.2L324.0,67.5L324.6,66.9L325.1,66.2L325.7,65.5L326.3,64.8L326.9,64.1L327.4,63.4L328.0,62.7L328.6,62.0L329.1,61.4L329.6,60.8L330.1,60.2L330.5,59.7L330.9,59.2L331.3,58.7L331.6,58.3L331.9,58.0Z" fill="#f2e8b8" opacity="0.35"/>
<path d="M337.5,61.6L335.4,58.3M337.7,46.1L338.4,47.3M319.4,81.3L318.3,79.1M324.7,77.5L324.0,79.7M328.9,67.7L330.7,68.6M316.0,79.5L316.8,78.4M330.6,66.3L330.7,68.6M336.5,51.5L338.2,50.3M322.4,78.2L321.8,77.6M326.4,75.8L325.7,76.8M323.0,80.3L322.4,78.2M335.4,58.3L335.2,56.2M337.5,61.6L335.9,60.7M338.4,48.8L338.2,50.3M325.7,76.8L325.7,74.8M327.3,73.9L326.0,73.2M334.7,42.1L334.6,44.8M336.2,50.0L336.5,51.5M332.0,63.5L333.2,61.6M326.4,75.8L326.9,73.9M336.2,50.0L338.2,50.3M316.0,79.5L315.8,81.4M334.6,44.8L336.2,43.9M334.3,58.0L335.4,58.3M316.0,79.5L318.3,79.1M320.8,73.0L322.0,73.7M321.8,76.3L321.8,77.6M335.2,56.2L333.6,56.7M337.4,53.4L336.7,55.9M337.7,43.9L337.7,41.2M322.4,78.2L324.0,79.7M336.2,43.9L337.7,41.2M338.5,52.2L337.4,53.4M319.4,76.4L320.4,78.7M336.2,50.0L334.3,50.0M332.5,60.4L334.3,58.0M327.3,73.9L328.4,72.6M337.7,43.9L337.7,46.1M334.3,58.0L333.6,56.7M330.6,66.3L331.9,64.3M323.5,72.5L324.6,73.0M326.0,73.2L326.9,73.9M325.9,71.6L325.5,70.0M328.9,67.7L327.9,66.6M324.2,70.7L323.3,69.5M336.2,50.0L334.9,48.1M325.9,71.6L327.3,71.9M324.2,70.7L325.9,71.6M325.7,74.8L326.9,73.9M328.7,65.5L327.9,66.6M319.4,81.3L320.7,80.5M328.4,68.8L330.7,68.6M322.6,71.8L323.0,72.8M318.4,75.5L316.8,78.4M324.0,79.7L322.7,80.1M324.6,73.0L323.0,72.8M332.0,63.5L330.2,63.2M336.4,46.3L334.6,44.8M338.9,57.0L335.2,56.2M335.5,62.6L333.2,61.6M335.4,58.3L335.9,60.7M327.3,71.9L326.0,73.2M337.7,43.9L336.2,43.9M336.7,52.9L337.9,53.2M334.7,65.9L331.9,64.3M333.5,58.9L334.3,58.0M315.8,81.4L316.8,78.4M330.2,63.2L331.9,64.3M319.4,76.4L318.4,75.5M335.5,62.6L334.7,65.9M324.2,70.7L322.6,71.8M336.4,46.3L334.9,48.1M334.7,42.1L337.7,41.2M328.9,67.7L328.7,65.5M324.7,77.5L325.7,76.8M320.8,73.0L319.0,74.0M319.0,74.0L318.4,75.5M338.4,48.8L336.2,50.0M323.5,72.5L322.6,71.8M335.5,62.6L335.9,60.7M319.4,76.4L319.0,74.0M326.0,73.2L324.6,73.0M315.8,81.4L318.3,79.1M322.6,71.8L323.3,69.5M338.5,52.2L338.2,50.3M333.5,53.5L335.2,56.2M338.5,52.2L337.9,53.2M323.1,77.1L321.8,77.6M320.8,73.0L322.6,71.8M327.3,71.9L328.4,72.6M333.9,51.6L336.5,51.5M334.3,50.0L333.9,51.6M328.9,67.7L330.6,66.3M320.4,78.7L321.8,77.6M326.4,75.8L325.7,74.8M327.2,69.4L325.5,70.0M334.3,50.0L334.9,48.1M322.0,73.7L322.8,75.1M321.8,76.3L322.8,75.1M328.4,68.8L327.9,66.6M321.8,76.3L323.1,77.1M324.7,77.5L323.1,77.1M318.3,79.1L316.8,78.4M323.0,80.3L322.7,80.1M322.8,75.1L323.1,77.1M332.5,60.4L333.5,58.9M332.0,63.5L331.9,64.3M335.5,62.6L337.5,61.6M338.9,57.0L335.4,58.3M320.7,80.5L322.7,80.1M320.7,80.5L320.4,78.7M322.0,73.7L323.0,72.8M318.3,79.1L320.4,78.7M337.4,53.4L336.7,52.9M327.3,73.9L326.9,73.9M336.4,46.3L338.4,47.3M327.2,69.4L328.9,67.7M334.3,58.0L335.2,56.2M328.4,72.6L326.9,73.9M324.2,70.7L325.5,70.0M338.9,57.0L336.7,55.9M333.5,53.5L333.6,56.7M323.3,69.5L325.5,70.0M333.5,58.9L333.6,56.7M338.4,48.8L338.4,47.3M326.0,73.2L325.7,74.8M328.4,68.8L328.9,67.7M334.7,42.1L336.2,43.9M322.4,78.2L323.1,77.1M336.7,55.9L335.2,56.2M337.4,53.4L337.9,53.2M332.0,63.5L334.7,65.9M328.4,68.8L327.2,69.4M332.5,60.4L333.2,61.6M321.8,76.3L319.4,76.4M323.5,72.5L323.0,72.8M333.5,58.9L335.4,58.3M322.4,78.2L322.7,80.1M336.4,46.3L337.7,46.1M328.7,65.5L330.6,66.3M325.9,71.6L326.0,73.2M328.7,65.5L330.2,63.2M323.0,80.3L324.0,79.7M333.5,53.5L333.9,51.6M336.5,51.5L336.7,52.9M322.4,78.2L320.4,78.7M319.4,81.3L320.4,78.7" stroke="#d8c060" stroke-width="0.55" fill="none" opacity="1.0"/>
<path d="M318.0,80.0L318.2,79.9L318.4,79.8L318.7,79.7L319.0,79.6L319.3,79.4L319.6,79.2L320.0,79.0L320.4,78.9L320.8,78.7L321.2,78.5L321.6,78.3L322.0,78.2L322.4,78.0L322.8,77.9L323.2,77.8L323.6,77.8L324.0,77.8L324.3,77.8L324.7,77.9L325.0,78.0L325.3,78.2L325.6,78.4L325.9,78.6L326.2,78.9L326.5,79.2L326.8,79.5L327.1,79.9L327.4,80.3L327.7,80.7L327.9,81.1L328.2,81.6L328.5,82.0L328.7,82.5L328.9,83.0L329.1,83.5L329.4,84.0L329.5,84.5L329.7,85.0L329.9,85.5L330.0,86.0L330.1,86.5L330.2,87.0L330.3,87.6L330.4,88.1L330.4,88.7L330.4,89.3L330.4,89.9L330.5,90.5L330.5,91.1L330.4,91.8L330.4,92.4L330.4,93.0L330.3,93.6L330.3,94.3L330.3,94.9L330.2,95.5L330.2,96.2L330.1,96.8L330.1,97.4L330.0,98.0L330.0,98.6L329.9,99.2L329.9,99.9L329.8,100.6L329.8,101.2L329.7,101.9L329.7,102.6L329.6,103.3L329.6,104.0L329.5,104.6L329.4,105.3L329.3,105.9L329.2,106.5L329.1,107.1L329.0,107.7L328.8,108.2L328.6,108.7L328.5,109.2L328.2,109.6L328.0,110.0L327.7,110.3L327.4,110.7L327.1,110.9L326.7,111.2L326.4,111.4L325.9,111.6L325.5,111.8L325.1,112.0L324.6,112.1L324.2,112.2L323.7,112.3L323.3,112.4L322.8,112.4L322.4,112.5L321.9,112.4L321.5,112.4L321.1,112.3L320.7,112.2L320.3,112.1L320.0,112.0L319.7,111.8L319.4,111.6L319.0,111.4L318.7,111.1L318.4,110.8L318.2,110.5L317.9,110.2L317.6,109.8L317.3,109.4L317.1,109.0L316.8,108.6L316.6,108.1L316.3,107.6L316.1,107.2L315.9,106.7L315.7,106.1L315.5,105.6L315.3,105.1L315.2,104.5L315.0,104.0L314.9,103.4L314.7,102.8L314.6,102.1L314.5,101.4L314.4,100.6L314.4,99.8L314.3,99.0L314.3,98.2L314.2,97.3L314.2,96.5L314.2,95.7L314.1,94.9L314.1,94.1L314.1,93.4L314.1,92.7L314.1,92.0L314.1,91.4L314.0,90.9L314.0,90.4L314.0,90.0Z" fill="#e0b880" opacity="0.5"/>
<path d="M324.1,108.2L325.3,107.1M324.0,112.3L323.5,110.9M320.3,111.5L321.9,110.6M321.3,96.0L319.9,96.8M326.3,82.5L327.0,83.2M324.5,101.4L323.5,102.3M315.0,93.4L313.9,92.8M324.1,108.2L324.1,107.1M326.9,110.6L328.0,110.0M329.3,97.5L328.2,98.5M327.7,87.4L330.2,87.5M317.3,95.4L319.2,95.6M327.1,96.9L328.2,98.5M319.2,95.6L318.3,94.6M328.8,99.8L328.2,98.5M327.2,92.1L326.9,92.2M318.2,86.8L319.1,85.1M316.7,87.7L318.5,89.2M318.2,86.8L316.7,87.7M330.2,87.5L327.5,86.9M322.5,91.2L322.5,89.6M315.7,93.1L316.0,92.1M325.1,105.0L324.6,104.2M323.6,93.2L324.3,95.1M327.0,105.8L326.5,107.8M323.6,93.2L321.9,93.0M319.9,98.4L320.4,99.7M314.2,90.8L313.9,92.8M326.0,105.6L324.6,104.2M318.8,101.3L320.2,102.6M319.0,86.2L319.1,85.1M318.6,82.9L319.6,82.8M315.0,93.4L315.7,93.1M324.1,108.2L322.4,108.1M321.4,94.4L321.9,93.0M329.3,95.6L327.1,96.9M314.9,101.1L318.4,100.6M321.2,107.0L322.4,108.1M321.9,110.6L321.9,109.2M318.2,108.4L319.8,107.5M322.2,105.6L320.5,104.1M314.1,92.9L315.0,93.4M323.6,93.2L324.6,93.3M314.1,92.9L313.9,92.8M317.9,103.1L317.0,104.4M326.9,92.2L327.9,90.6M326.9,92.2L329.9,92.5M317.2,96.6L317.3,98.4M321.9,93.0L320.5,93.5M323.6,79.4L325.0,79.0M315.8,94.4L315.9,95.8M324.7,85.1L324.8,83.3M314.2,90.8L314.1,92.9M324.3,81.5L324.8,83.3M315.6,89.1L314.2,90.8M327.2,92.1L326.1,91.5M315.8,94.4L316.4,94.1M322.2,100.5L322.5,99.7M319.0,97.5L319.9,98.4M329.0,106.7L327.0,105.8M324.9,96.1L326.4,98.1M318.2,108.4L319.1,106.5M322.1,90.6L320.1,89.5M327.0,110.9L325.9,110.9M329.3,95.6L328.2,98.5M322.7,80.0L322.9,78.6M314.1,92.9L315.7,93.1M329.5,101.0L327.5,101.1M329.0,106.7L328.7,107.8M329.0,106.7L326.5,107.8M326.4,98.1L328.2,98.5M322.7,80.0L321.2,80.5M322.5,95.5L324.3,95.1M322.2,100.5L323.0,102.4M324.7,110.7L323.5,110.9M316.6,100.8L314.9,101.1M321.2,107.0L321.9,109.2M321.9,93.0L322.5,91.2M315.8,94.4L315.0,93.4M315.5,103.0L317.9,103.1M327.0,110.9L328.0,110.0M324.9,96.1L327.1,96.9M319.9,98.4L318.9,98.0M317.5,93.3L318.3,94.6M324.3,95.1L324.6,93.3M323.6,111.0L323.5,110.9M315.0,93.4L316.0,92.1M318.8,101.3L318.4,100.6M318.6,109.2L319.8,107.5M324.5,101.4L323.0,102.4M325.3,88.5L322.7,88.1M323.0,102.4L323.5,102.3M318.0,84.0L319.6,82.8M315.5,103.0L317.0,104.4M315.9,95.8L314.2,97.5M322.9,97.8L322.5,99.7M313.9,92.8L315.7,93.1M320.3,103.2L319.7,105.0M326.9,80.2L326.4,81.6M315.6,89.1L314.4,90.1M315.8,94.4L315.7,93.1M319.7,105.0L317.0,104.4M321.9,86.5L322.7,88.1M326.4,91.5L327.9,90.6M322.5,99.7L320.4,99.7M321.4,94.4L320.5,93.5M329.5,101.0L328.8,99.8M317.5,93.3L316.4,94.1M327.0,83.2L326.4,81.6M329.5,101.0L328.2,98.5M324.6,99.8L322.5,99.7M320.7,79.2L318.7,80.4M317.3,98.4L314.2,97.5M327.7,87.4L327.5,86.9M320.2,102.6L320.5,104.1M319.7,105.0L320.5,104.1M323.7,84.5L321.8,82.8M325.3,107.1L324.1,107.1M318.2,86.8L319.1,87.5M328.6,86.3L330.2,87.5M324.8,88.1L325.3,88.5M318.2,108.4L318.6,109.2M317.2,96.6L317.3,95.4M322.1,90.6L322.5,91.2M317.9,103.1L320.2,102.6M322.5,95.5L322.9,97.8M327.5,101.1L328.2,98.5M315.5,103.0L314.9,101.1M324.7,110.7L323.6,111.0M326.1,93.8L326.9,92.2M319.0,86.2L319.1,87.5M324.2,81.4L325.2,80.1M319.2,90.6L318.5,89.2M318.6,82.9L318.0,84.0M325.1,105.0L325.3,103.9M329.3,97.5L329.3,95.6M321.2,107.0L322.2,105.6M319.6,82.8L321.8,82.8M319.8,88.8L318.5,89.2M321.6,81.7L321.8,82.8M326.0,105.6L325.3,103.9M326.0,105.6L325.3,107.1M318.2,86.8L319.0,86.2M324.7,85.1L323.7,84.5M327.0,110.9L326.9,110.6M319.9,98.4L319.9,96.8M324.6,99.8L326.4,98.1M317.5,93.3L315.7,93.1M318.8,101.3L316.6,100.8M326.3,82.5L326.4,81.6M318.5,91.8L317.5,93.3M322.5,95.5L321.4,94.4M325.2,80.1L325.0,79.0M317.2,96.6L315.9,95.8M325.1,86.7L327.5,86.9M324.2,81.4L324.8,83.3M321.2,107.0L319.8,107.5M320.3,111.5L319.6,109.9M328.6,86.3L327.7,87.4M317.3,95.4L318.3,94.6M326.8,109.3L328.0,110.0M323.6,79.4L322.9,78.6M329.9,92.5L327.9,90.6M318.7,80.4L321.2,80.5M318.9,98.0L317.3,98.4M320.3,103.2L320.5,104.1M324.2,81.4L324.3,81.5M325.9,110.9L326.9,110.6M327.2,92.1L326.1,93.8M329.3,97.5L327.1,96.9M317.3,95.4L315.9,95.8M322.9,97.8L321.3,96.0M319.2,90.6L320.1,89.5M322.4,108.1L324.1,107.1M318.5,89.2L320.1,89.5M316.6,100.8L318.4,100.6M318.4,80.7L318.7,80.4M314.4,90.1L316.0,92.1M326.8,109.3L326.5,107.8M322.5,89.6L322.7,88.1M319.8,88.8L320.1,89.5M320.7,79.2L321.2,80.5M319.8,88.8L319.1,87.5M320.3,111.5L321.9,109.2M318.2,108.4L319.6,109.9M325.2,80.1L324.3,81.5M319.3,87.1L321.9,86.5M320.7,79.2L322.7,80.0M318.8,101.3L317.9,103.1M325.3,103.9L324.6,104.2M326.0,105.6L327.0,105.8M325.1,105.0L326.0,105.6M324.7,110.7L325.9,110.9M325.2,80.1L326.9,80.2M319.7,105.0L319.1,106.5M317.5,93.3L316.0,92.1M319.0,97.5L318.9,98.0M318.6,82.9L318.4,80.7M320.4,99.7L318.4,100.6M318.2,86.8L319.3,87.1M326.9,92.2L326.1,91.5M321.9,110.6L323.5,110.9M328.7,107.8L328.0,110.0M319.0,97.5L317.3,98.4M320.3,82.6L321.6,81.7M324.6,99.8L324.5,101.4M320.3,82.6L319.6,82.8M325.1,86.7L325.3,88.5M323.7,84.5L324.8,83.3M317.2,96.6L314.2,97.5M327.2,92.1L326.4,91.5M322.5,95.5L321.3,96.0M326.4,91.5L326.9,92.2M315.6,89.1L316.7,87.7M322.2,100.5L320.4,99.7M324.1,107.1L322.2,105.6M324.8,83.3L327.0,83.2M328.6,86.3L327.5,86.9M324.8,88.1L325.1,86.7M326.3,82.5L324.8,83.3M318.9,98.0L319.9,96.8M314.2,90.8L314.4,90.1M326.8,109.3L326.9,110.6M324.9,96.1L324.3,95.1M319.3,87.1L319.1,87.5M328.7,107.8L326.5,107.8M327.1,96.9L326.4,98.1M318.5,91.8L318.5,89.2M316.4,84.2L319.1,85.1M318.5,91.8L319.2,90.6M320.3,82.6L321.8,82.8M328.8,99.8L327.5,101.1M322.4,108.1L321.9,109.2M325.3,107.1L326.5,107.8M327.2,92.1L327.9,90.6M327.2,92.1L329.9,92.5M320.3,103.2L320.2,102.6M318.6,82.9L320.3,82.6M321.9,86.5L323.7,84.5M323.5,102.3L324.6,104.2M318.4,80.7L319.6,82.8M324.7,85.1L325.1,86.7M323.6,79.4L322.7,80.0M321.4,94.4L321.3,96.0M318.0,84.0L319.1,85.1M316.4,84.2L318.0,84.0M326.1,93.8L324.6,93.3M319.2,95.6L320.5,93.5M319.3,87.1L319.0,86.2M324.8,88.1L322.7,88.1M322.9,78.6L325.0,79.0M321.6,81.7L321.2,80.5M319.2,95.6L319.9,96.8M325.0,79.0L326.9,80.2M319.1,106.5L319.8,107.5M319.6,109.9L318.6,109.2M324.7,110.7L324.0,112.3M325.1,105.0L327.0,105.8M315.7,93.1L316.4,94.1M326.4,91.5L326.1,91.5M322.1,90.6L322.5,89.6M318.6,82.9L316.4,84.2M319.0,97.5L319.9,96.8M323.6,111.0L321.9,110.6M323.6,111.0L324.0,112.3" stroke="#c8a040" stroke-width="0.6" fill="none" opacity="1.0"/>
<defs><linearGradient id="hf26" gradientUnits="userSpaceOnUse" x1="343.0" y1="165.7" x2="359.0" y2="168.3"><stop offset="0" stop-color="#8a4646"/><stop offset="0.35" stop-color="#d46c6c"/><stop offset="0.62" stop-color="#e39f9f"/><stop offset="1" stop-color="#d46c6c"/></linearGradient><linearGradient id="hb26" gradientUnits="userSpaceOnUse" x1="343.0" y1="165.7" x2="359.0" y2="168.3"><stop offset="0" stop-color="#a75555"/><stop offset="0.45" stop-color="#e19898"/><stop offset="1" stop-color="#eec6c6"/></linearGradient></defs><g opacity="0.55"><path d="M346.7,151.2L346.9,151.6L347.6,151.8L348.7,151.9L350.1,152.0L351.8,152.0L353.7,152.1L355.5,152.2L357.2,152.3L358.6,152.5L359.7,152.9L360.4,153.4L360.5,154.0L360.2,157.8L360.0,157.5L359.3,157.2L358.2,157.0L356.8,157.0L355.1,156.9L353.3,156.9L351.4,156.8L349.8,156.7L348.3,156.4L347.2,156.1L346.6,155.6L346.4,155.0ZM345.5,163.9L345.7,164.2L346.4,164.4L347.5,164.6L348.9,164.8L350.6,164.9L352.4,165.0L354.3,165.2L356.0,165.5L357.4,165.9L358.5,166.4L359.1,167.0L359.2,167.6L358.5,171.4L358.3,171.0L357.7,170.6L356.6,170.4L355.2,170.1L353.5,169.9L351.7,169.8L350.0,169.6L348.3,169.4L346.9,169.1L345.8,168.7L345.2,168.3L345.0,167.7ZM343.2,175.9L343.4,176.3L344.0,176.6L345.1,176.9L346.5,177.2L348.2,177.5L350.0,177.8L351.8,178.1L353.4,178.6L354.8,179.0L355.8,179.5L356.4,180.1L356.5,180.7L355.6,184.4L355.4,184.1L354.8,183.7L353.7,183.4L352.3,183.1L350.6,182.8L348.9,182.5L347.1,182.1L345.4,181.7L344.1,181.3L343.0,180.8L342.5,180.2L342.4,179.6Z" fill="url(#hb26)" opacity="1.0"/><path d="M354.4,144.0L353.4,144.5L352.5,145.0L351.5,145.6L350.7,146.1L349.8,146.7L349.1,147.2L348.4,147.7L347.9,148.2L347.4,148.7L347.1,149.1L346.9,149.5L346.8,149.9L346.3,156.3L346.4,156.1L346.6,155.9L346.9,155.6L347.3,155.4L347.8,155.0L348.5,154.7L349.2,154.3L350.0,153.9L350.8,153.4L351.7,153.0L352.7,152.5L353.6,152.0ZM360.6,152.7L360.4,153.1L359.6,153.7L358.5,154.3L356.9,155.1L355.2,156.0L353.3,157.0L351.3,158.0L349.6,159.0L348.0,160.0L346.8,161.0L346.0,161.9L345.7,162.6L344.9,169.0L345.2,168.6L346.0,168.1L347.2,167.5L348.7,166.7L350.5,165.9L352.5,164.9L354.4,163.9L356.2,162.9L357.8,161.8L359.0,160.8L359.8,159.9L360.1,159.1ZM359.5,166.4L359.2,166.8L358.4,167.2L357.2,167.8L355.6,168.4L353.7,169.1L351.7,169.9L349.7,170.7L347.8,171.5L346.2,172.3L344.8,173.1L343.9,173.9L343.5,174.7L342.1,180.9L342.4,180.5L343.2,180.1L344.5,179.6L346.1,179.1L348.0,178.4L350.1,177.7L352.1,176.9L354.0,176.1L355.7,175.2L357.0,174.3L357.9,173.5L358.3,172.6ZM356.8,179.5L356.7,179.6L356.5,179.7L356.3,179.9L355.9,180.1L355.5,180.3L354.9,180.5L354.3,180.7L353.7,180.9L352.9,181.1L352.1,181.4L351.3,181.6L350.5,181.9L348.7,189.7L349.6,189.4L350.4,189.0L351.2,188.7L351.9,188.3L352.6,188.0L353.2,187.7L353.8,187.3L354.2,187.0L354.6,186.6L354.9,186.3L355.1,186.0L355.3,185.7Z" fill="url(#hf26)"/></g>
<path d="M334.0,150.0L334.2,149.7L334.5,149.4L334.7,149.0L335.1,148.5L335.4,148.0L335.7,147.5L336.1,147.0L336.5,146.4L336.9,145.8L337.4,145.2L337.8,144.6L338.3,144.0L338.7,143.4L339.2,142.8L339.7,142.2L340.1,141.7L340.6,141.2L341.1,140.8L341.5,140.4L342.0,140.0L342.5,139.7L342.9,139.4L343.4,139.1L343.9,138.8L344.4,138.6L344.9,138.3L345.4,138.1L345.9,137.9L346.4,137.7L346.9,137.6L347.4,137.4L347.9,137.3L348.4,137.2L348.9,137.1L349.5,137.0L350.0,137.0L350.5,136.9L351.0,136.9L351.5,137.0L352.0,137.0L352.5,137.1L353.0,137.2L353.5,137.3L354.0,137.4L354.5,137.6L355.0,137.8L355.5,138.0L356.0,138.2L356.5,138.4L357.0,138.7L357.5,139.0L358.0,139.3L358.5,139.6L359.0,139.9L359.5,140.2L360.0,140.6L360.5,140.9L361.0,141.3L361.5,141.6L362.0,142.0L362.5,142.4L363.0,142.8L363.5,143.2L364.0,143.7L364.6,144.2L365.1,144.7L365.6,145.2L366.1,145.7L366.7,146.3L367.2,146.8L367.7,147.4L368.2,147.9L368.7,148.4L369.2,149.0L369.7,149.5L370.2,150.0L370.7,150.6L371.1,151.1L371.6,151.5L372.0,152.0L372.4,152.4L372.9,152.9L373.3,153.3L373.7,153.7L374.2,154.0L374.6,154.4L375.0,154.8L375.4,155.2L375.9,155.5L376.2,155.9L376.6,156.2L377.0,156.6L377.3,157.0L377.7,157.4L378.0,157.8L378.2,158.2L378.5,158.6L378.7,159.0L378.9,159.5L379.0,160.0L379.1,160.5L379.2,161.0L379.2,161.6L379.3,162.2L379.2,162.8L379.2,163.4L379.2,164.0L379.1,164.6L379.0,165.2L378.9,165.9L378.7,166.5L378.6,167.2L378.4,167.8L378.3,168.4L378.1,169.0L377.9,169.7L377.7,170.3L377.4,170.9L377.2,171.4L377.0,172.0L376.8,172.6L376.5,173.1L376.3,173.7L376.0,174.3L375.8,174.8L375.5,175.4L375.2,176.0L374.9,176.5L374.6,177.1L374.2,177.6L373.9,178.2L373.5,178.7L373.2,179.2L372.8,179.7L372.4,180.1L371.9,180.5L371.5,181.0L371.0,181.3L370.5,181.7L370.0,182.0L369.5,182.3L368.9,182.5L368.3,182.7L367.6,182.9L366.9,183.1L366.2,183.2L365.5,183.3L364.8,183.4L364.0,183.5L363.2,183.6L362.5,183.6L361.7,183.7L361.0,183.7L360.2,183.7L359.5,183.8L358.7,183.8L358.0,183.8L357.3,183.9L356.6,183.9L356.0,184.0L355.4,184.1L354.8,184.2L354.1,184.3L353.5,184.4L352.9,184.6L352.4,184.7L351.8,184.8L351.2,185.0L350.6,185.1L350.1,185.2L349.5,185.3L349.0,185.4L348.4,185.4L347.9,185.5L347.4,185.5L346.9,185.5L346.4,185.4L345.9,185.3L345.5,185.2L345.0,185.0L344.6,184.8L344.1,184.5L343.7,184.2L343.3,183.9L342.9,183.6L342.5,183.2L342.2,182.8L341.8,182.4L341.5,181.9L341.1,181.4L340.8,180.9L340.5,180.4L340.1,179.9L339.8,179.4L339.5,178.8L339.2,178.3L338.9,177.7L338.6,177.1L338.3,176.6L338.0,176.0L337.7,175.4L337.4,174.7L337.1,174.0L336.8,173.3L336.5,172.5L336.2,171.7L335.9,170.9L335.6,170.1L335.3,169.3L335.1,168.4L334.8,167.6L334.5,166.8L334.3,166.1L334.1,165.3L333.9,164.6L333.6,164.0L333.5,163.4L333.3,162.9L333.1,162.4L333.0,162.0Z" fill="#a8e4a0" opacity="0.3"/>
<path d="M359.8,173.8L361.2,175.4M360.5,149.6L361.2,147.7M364.9,171.9L364.9,172.3M355.8,164.4L355.8,163.0M333.4,163.5L333.6,163.1M358.1,153.4L358.9,154.3M343.5,170.8L343.9,169.3M357.2,174.6L354.3,176.6M342.3,182.6L343.8,181.6M353.4,151.2L354.6,150.7M344.0,164.5L345.0,163.4M351.6,144.1L352.0,144.8M369.8,178.7L369.1,177.1M339.9,162.1L337.8,161.8M339.8,177.9L339.7,174.8M361.4,143.8L360.5,142.0M344.6,150.4L347.0,149.9M367.6,177.9L364.8,177.6M355.1,151.1L354.6,150.7M337.0,150.2L336.2,150.1M349.6,175.1L349.1,177.9M377.4,167.4L375.6,166.0M346.3,169.7L343.9,169.3M350.2,138.7L351.9,139.1M353.4,151.2L352.4,150.1M342.6,147.4L341.4,146.2M349.7,171.1L350.2,170.1M355.2,181.2L355.8,183.7M345.3,144.5L345.7,146.7M343.8,181.6L345.1,182.9M356.0,153.4L356.9,153.9M343.7,155.0L343.7,153.1M337.8,158.0L337.7,157.1M367.4,165.6L367.8,163.9M372.2,162.1L371.1,160.9M356.8,143.4L357.5,145.3M345.8,181.4L343.9,180.8M348.6,181.8L350.0,182.5M351.9,139.1L350.3,137.4M337.9,155.3L337.7,157.1M347.0,139.4L348.2,137.5M349.1,177.9L347.6,178.2M349.2,149.0L347.0,149.9M350.6,151.0L352.4,150.1M362.8,157.8L363.6,157.3M362.7,155.1L363.6,157.3M354.4,155.4L354.1,155.5M352.1,152.4L353.4,151.2M367.4,165.6L366.3,166.6M352.1,152.4L351.8,152.9M346.3,183.6L345.1,182.9M351.9,139.1L350.2,141.7M354.0,181.4L354.7,182.8M362.1,175.2L361.8,175.8M362.4,171.9L364.9,172.3M346.8,166.2L349.7,165.8M339.9,162.1L339.3,160.8M361.7,172.9L359.5,173.0M350.3,137.4L348.9,138.0M348.8,154.2L350.7,156.0M354.0,157.4L354.4,155.4M347.5,160.3L345.9,160.5M346.6,177.2L345.3,176.4M372.4,162.1L372.2,162.1M376.6,168.4L374.7,168.3M346.1,174.8L347.8,175.6M355.0,163.6L355.8,163.0M378.1,159.0L375.3,159.3M366.5,181.3L367.9,180.2M348.6,181.8L350.8,182.3M339.8,177.9L343.5,176.7M350.0,143.8L348.7,143.9M344.6,173.4L345.6,175.0M367.2,156.1L366.1,156.9M374.7,159.5L374.4,161.5M373.5,158.2L374.7,159.5M349.7,152.1L350.6,151.0M364.4,162.3L364.8,163.8M348.5,152.0L349.7,152.1M357.2,174.6L355.5,172.3M358.1,152.1L358.1,153.4M352.7,164.9L353.0,165.8M337.1,153.5L338.9,154.3M355.0,163.6L356.6,165.4M373.5,160.3L374.7,159.5M354.3,176.6L353.4,176.6M350.0,143.8L350.6,143.3M338.2,152.1L339.6,149.9M346.6,142.6L346.5,142.2M361.6,157.7L362.8,157.8M363.7,157.4L361.6,157.7M340.0,165.4L338.3,165.9M357.9,169.8L355.2,171.2M366.8,183.0L367.1,181.5M345.8,156.8L344.7,156.7M363.7,157.4L362.8,157.8M364.0,182.6L362.8,181.9M347.5,145.6L345.7,146.7M361.1,154.0L358.9,154.3M348.5,152.0L346.6,153.3M364.9,171.9L365.0,169.5M346.1,174.8L344.6,173.4M370.8,160.3L372.2,162.1M370.9,152.1L368.4,154.5M338.9,154.3L336.9,154.2M340.0,144.7L337.5,146.3M347.5,145.6L346.8,145.0M354.0,181.4L355.2,181.2M347.0,139.4L348.9,138.0M368.1,151.5L366.0,151.8M373.2,170.4L374.2,171.9M351.5,184.2L350.8,182.3M354.0,157.4L353.0,158.4M355.5,172.3L355.2,171.2M378.4,161.0L378.1,163.3M355.5,172.3L353.7,172.7M342.3,182.6L343.9,180.8M352.7,164.9L352.7,164.9M361.8,175.8L361.2,175.4M349.0,168.2L350.2,170.1M367.2,181.7L366.8,183.0M345.9,160.5L346.7,158.8M354.6,148.9L354.7,147.9M336.9,154.2L334.6,155.7M368.1,151.5L368.6,153.3M366.0,155.1L368.4,154.5M366.5,181.3L367.1,181.5M355.9,153.0L356.9,153.9M362.1,180.2L361.7,180.5M350.2,141.7L350.6,143.3M343.3,151.1L342.1,150.8M370.6,168.1L371.3,167.3M376.6,168.4L377.0,170.0M337.1,153.5L336.7,152.2M333.6,163.1L334.4,164.9M361.2,165.6L360.5,164.3M352.1,152.4L352.4,152.2M345.8,181.4L343.8,181.6M361.2,181.5L362.8,181.9M373.5,160.3L373.5,158.2M378.0,169.2L377.2,170.3M358.6,167.1L358.9,166.2M365.7,167.6L364.8,169.6M357.7,175.7L358.4,177.2M374.4,168.7L375.1,166.7M360.0,177.1L361.2,175.4M367.1,181.5L367.9,180.2M337.8,173.3L337.7,173.7M370.6,168.1L372.3,166.9M351.6,144.1L350.6,143.3M362.1,175.2L363.7,173.8M361.2,181.5L362.8,183.2M360.5,164.3L358.9,166.2M337.8,158.0L337.3,160.1M351.7,148.5L351.1,147.4M354.7,147.9L354.6,150.8M337.9,155.3L338.9,154.3M346.5,158.9L345.9,160.5M370.8,157.3L373.5,158.2M369.1,165.1L367.8,163.9M365.8,158.6L364.7,158.6M356.0,153.4L355.9,153.0M344.5,169.5L345.0,169.7M341.4,146.2L340.0,147.4M362.1,180.2L363.2,180.6M345.8,181.4L346.3,183.6M370.8,160.3L370.8,157.3M340.7,159.2L339.3,160.8M343.7,155.0L344.9,154.3M375.3,159.3L374.7,159.5M363.2,180.6L361.7,180.5M344.1,139.4L342.4,141.2M345.3,144.5L346.6,142.6M337.9,155.3L339.2,154.0M340.4,148.6L337.5,146.3M378.1,159.0L376.3,160.1M363.0,165.1L360.5,164.3M334.2,159.5L335.2,157.4M336.8,169.4L336.1,168.2M346.3,169.7L345.0,169.7M336.1,168.2L337.6,167.6M353.0,158.4L350.2,159.2M362.8,183.2L364.0,182.6M360.5,142.0L357.8,141.0M355.0,163.6L355.8,164.4M351.7,148.5L349.2,149.0M366.8,171.8L364.9,172.3M344.6,173.4L345.2,173.5M366.0,151.8L368.6,153.3M341.4,155.8L339.2,154.0M356.8,143.4L357.8,141.0M363.7,173.8L362.4,171.9M371.1,160.9L368.0,162.0M356.8,139.5L357.8,141.0M336.7,152.2L338.2,152.1M338.5,167.1L340.0,165.4M363.0,165.1L364.4,162.3M366.0,155.1L366.1,156.9M369.1,177.1L371.4,179.6M337.8,163.2L335.7,164.4M349.7,171.1L349.0,168.2M343.7,160.3L342.5,162.0M372.3,166.9L371.3,167.3M338.2,152.1L339.2,154.0M361.7,172.9L362.4,171.9M349.7,152.1L351.8,152.9M372.4,162.1L371.4,160.7M376.3,160.1L378.4,161.0M346.1,174.8L345.6,175.0M361.2,181.5L359.8,183.5M354.7,182.8L355.8,183.7M343.5,176.7L345.3,176.4M345.1,163.7L344.0,164.5M337.3,160.1L337.8,161.8M353.0,158.4L353.4,159.8M366.0,151.8L367.2,149.7M367.2,181.7L365.9,182.4M347.5,160.3L346.7,158.8M343.3,151.1L344.6,150.4M372.4,162.1L371.1,160.9M341.2,161.6L342.5,162.0M368.8,170.7L370.1,171.6M350.3,157.9L353.0,158.4M338.5,167.1L339.8,166.6M375.3,159.3L373.5,158.2M338.3,169.4L337.6,167.6M368.1,151.5L367.7,148.7M363.0,165.1L364.8,163.8M350.2,138.7L350.3,137.4M337.0,150.2L336.7,152.2M344.5,169.5L343.9,169.3M345.2,173.5L345.6,175.0M357.9,169.8L360.4,168.3M334.4,160.9L335.7,160.5M348.2,137.5L348.9,138.0M358.1,153.4L358.1,155.2M363.0,165.1L361.2,165.6M354.6,148.9L354.6,150.8M370.8,160.3L370.6,157.3M367.2,156.1L368.4,154.5M370.8,160.3L371.4,160.7M347.3,155.5L346.6,153.3M349.0,168.2L350.9,167.5M353.4,176.6L351.1,174.7M367.6,177.9L367.0,176.6M336.7,156.5L335.2,157.4M357.2,174.6L359.8,173.8M352.0,144.8L350.6,143.3M345.9,160.5L343.7,160.3M340.7,159.2L342.5,159.0M360.5,149.6L359.1,151.0M373.2,170.4L374.7,168.3M346.6,177.2L347.6,178.2M356.8,143.4L354.5,141.9M356.8,139.5L354.5,141.9M370.8,160.3L371.1,160.9M338.2,152.1L336.2,150.1M334.4,164.9L335.7,164.4M361.5,143.1L363.0,145.4M351.5,162.7L350.0,162.7M349.6,145.0L347.5,145.6M355.9,153.0L355.1,154.1M346.8,166.2L345.9,166.3M369.1,177.1L369.2,177.5M340.0,165.4L340.6,167.7M360.4,177.0L361.2,175.4M354.0,181.4L355.2,179.7M337.4,171.8L335.8,170.1M337.3,160.1L339.3,160.8M361.2,181.5L362.1,180.2M350.9,167.5L352.6,167.1M364.0,182.6L365.9,182.4M360.4,168.3L362.1,168.0M347.1,158.7L346.7,158.8M348.8,154.2L349.7,152.1M357.2,174.6L357.7,175.7M374.4,168.7L374.2,171.9M353.3,168.5L350.9,167.5M351.5,184.2L351.4,184.6M354.6,148.9L354.6,150.7M368.1,151.5L370.9,152.1M350.7,156.0L352.7,154.5M361.1,154.0L362.7,155.1M342.0,173.6L339.7,174.8M354.7,182.8L355.2,179.7M361.2,148.2L361.2,147.7M345.8,181.4L345.5,182.3M373.5,160.3L374.4,161.5M351.5,162.7L352.3,161.4M346.6,177.2L347.8,175.6M358.1,152.1L356.9,153.9M342.6,147.4L340.4,148.6M337.8,163.2L337.8,161.8M367.8,163.9L367.2,164.2M351.4,184.6L352.4,184.1M363.0,165.1L362.1,168.0M352.7,164.9L352.6,162.6M347.0,139.4L346.0,140.7M361.2,181.5L359.4,181.2M345.8,156.8L347.3,155.5M335.7,160.5L337.3,160.1M337.8,158.0L336.7,156.5M340.7,159.2L341.4,157.8M346.5,158.9L346.7,158.8M349.1,177.9L347.8,175.6M337.9,155.3L336.7,156.5M370.6,168.1L369.6,169.2M350.6,143.3L348.7,143.9M361.2,147.7L363.0,145.4M361.6,157.7L363.6,157.3M363.7,157.4L363.6,157.3M370.1,171.6L368.1,171.9M350.3,167.3L349.7,165.8M335.8,170.1L336.1,168.2M341.2,161.6L339.3,160.8M346.1,174.8L345.2,173.5M378.6,162.8L378.7,163.3M346.6,177.2L343.5,176.7M340.3,150.9L339.6,149.9M347.5,160.3L350.2,159.2M350.0,182.5L351.5,184.2M369.6,169.2L370.1,171.6M368.8,170.7L367.8,169.5M364.5,178.8L363.2,180.6M343.7,153.1L344.9,154.3M335.2,157.4L334.6,155.7M356.9,162.6L355.8,163.0M337.8,164.4L338.3,165.9M367.6,177.9L369.2,177.5M341.2,161.6L339.9,162.1M344.5,169.5L343.5,170.8M343.5,176.7L345.6,175.0M372.3,166.9L372.0,165.2M366.6,157.2L366.1,156.9M360.5,142.0L360.6,143.6M363.7,157.4L364.7,158.6M342.0,173.6L344.6,173.4M361.1,160.0L361.6,157.7M337.8,173.3L339.7,174.8M361.1,160.0L362.8,157.8M364.8,163.8L367.2,164.2M366.8,183.0L365.9,182.4M336.8,169.4L338.3,169.4M361.2,165.6L358.9,166.2M349.2,149.0L350.6,151.0M354.9,171.1L355.2,171.2M364.5,178.8L364.8,177.6M376.3,160.1L375.3,159.3M345.0,169.7L343.9,169.3M354.9,171.1L353.7,172.7M365.1,158.0L365.8,158.6M352.4,152.2L351.8,152.9M361.4,143.8L360.6,143.6M338.5,167.1L337.6,167.6M374.1,163.4L372.4,162.1M377.0,170.0L377.2,170.3M363.7,157.4L362.7,155.1M374.6,163.9L374.4,161.5M365.7,167.6L366.3,166.6M346.6,153.3L344.9,154.3M349.6,145.0L350.9,145.6M364.8,169.6L365.0,169.5M341.4,157.8L342.5,159.0M346.3,183.6L345.5,182.3M369.8,178.7L371.4,179.6M360.5,149.6L361.2,148.2M350.3,157.9L350.2,159.2M337.8,163.2L339.9,162.1M343.7,155.0L344.7,156.7M337.1,153.5L336.9,154.2M354.3,176.6L355.2,179.7M367.2,156.1L366.6,157.2M356.0,153.4L355.1,154.1M355.2,181.2L354.7,182.8M343.7,160.3L342.5,159.0M369.5,164.9L372.0,165.2M376.6,168.4L377.4,167.4M354.4,141.8L356.8,139.5M367.4,165.6L367.2,164.2M351.6,144.1L350.9,145.6M369.1,177.1L367.0,176.6M366.5,181.3L365.9,182.4M345.8,156.8L346.7,158.8M337.4,171.8L337.7,173.7M360.0,177.1L357.7,175.7M350.0,143.8L350.2,141.7M352.7,154.5L354.1,155.5M345.1,163.7L345.9,166.3M378.1,159.0L378.4,161.0M377.0,170.0L378.0,169.2M353.4,151.2L352.4,152.2M356.9,153.9L358.1,155.2M358.1,164.8L356.6,165.4M363.7,173.8L364.9,172.3M354.0,181.4L355.8,183.7M345.9,166.3L344.0,164.5M339.8,166.6L338.3,165.9M340.3,150.9L342.1,150.8M374.1,163.4L374.4,161.5M368.5,182.4L367.1,181.5M343.5,140.7L342.4,141.2M342.0,173.6L343.5,170.8M349.1,177.9L346.6,177.2M363.2,180.6L362.8,181.9M354.7,147.9L354.6,150.7M345.5,182.3L345.1,182.9M354.2,168.4L352.6,167.1M351.5,184.2L352.4,184.1M350.3,184.9L351.4,184.6M354.7,147.9L357.5,145.3M367.8,163.9L369.5,164.9M334.2,159.5L334.4,160.9M365.8,158.6L366.6,157.2M360.0,177.1L358.4,177.2M359.8,183.5L362.8,183.2M348.5,152.0L350.6,151.0M343.3,151.1L344.2,149.7M355.2,171.2L353.7,172.7M369.6,169.2L367.8,169.5M369.8,178.7L369.2,177.5M354.4,155.4L355.1,154.1M357.5,145.3L360.6,143.6M354.0,181.4L352.0,179.4M361.7,172.9L359.8,173.8M356.9,162.6L355.8,164.4M353.4,151.2L354.6,150.8M345.8,181.4L348.6,181.8M360.4,177.0L361.8,175.8M345.3,176.4L345.6,175.0M351.5,162.7L352.6,162.6M344.7,156.7L344.9,154.3M338.5,167.1L338.3,169.4M350.2,170.1L350.9,167.5M343.5,140.7L344.1,139.4M367.2,181.7L368.5,182.4M352.6,162.6L350.0,162.7M351.1,147.4L350.9,145.6M358.9,166.2L360.4,168.3M355.1,151.1L354.6,150.8M358.1,152.1L359.1,151.0M344.5,169.5L343.0,170.2M349.6,145.0L350.0,143.8M344.1,139.4L346.0,140.7M357.9,169.8L358.6,167.1M350.3,157.9L350.7,156.0M368.4,154.5L368.6,153.3M376.6,168.4L377.2,170.3M373.5,160.3L375.3,159.3M343.2,142.6L342.4,141.2M377.2,170.3L374.2,171.9M350.3,167.3L350.9,167.5M340.0,144.7L341.4,146.2M348.2,137.5L350.3,137.4M356.8,143.4L354.4,141.8M344.6,150.4L344.2,149.7M361.7,180.5L359.4,181.2M348.8,154.2L347.3,155.5M352.0,144.8L350.9,145.6M367.2,181.7L366.5,181.3M337.1,153.5L338.2,152.1M352.7,164.9L352.6,167.1M351.1,174.7L353.7,172.7M351.6,144.1L350.0,143.8M361.2,165.6L362.1,168.0M333.4,163.5L335.7,164.4M352.6,162.6L352.3,161.4M373.2,170.4L374.4,168.7M366.0,155.1L366.6,157.2M338.5,167.1L338.3,165.9M350.2,141.7L349.2,140.8M346.8,166.2L349.0,168.2M349.6,175.1L351.1,174.7M371.4,160.7L372.2,162.1M343.9,180.8L343.8,181.6M361.3,141.5L360.5,142.0M358.1,153.4L356.9,153.9M360.4,177.0L360.0,177.1M336.7,156.5L334.6,155.7M358.1,164.8L355.8,164.4M376.6,168.4L378.0,169.2M347.5,145.6L348.7,143.9M347.8,175.6L347.6,178.2M349.6,175.1L347.8,175.6M338.3,165.9L337.6,167.6M361.7,172.9L363.7,173.8M337.7,173.7L339.7,174.8M363.7,157.4L365.1,158.0M370.8,157.3L370.6,157.3M358.6,167.1L360.4,168.3M343.0,170.2L343.9,169.3M358.9,154.3L358.1,155.2M371.4,179.6L369.2,177.5M369.1,165.1L367.2,164.2M354.0,157.4L353.4,159.8M345.3,144.5L346.8,145.0M339.8,177.9L337.7,173.7M367.4,165.6L369.5,164.9M350.2,138.7L349.2,140.8M365.7,167.6L367.1,166.6M347.5,160.3L346.5,158.9M337.8,164.4L337.8,163.2M344.5,169.5L346.3,169.7M377.4,167.4L378.0,169.2M343.3,151.1L343.7,153.1M340.3,150.9L340.4,148.6M378.4,161.0L378.7,163.3M340.0,165.4L339.8,166.6M374.1,163.4L374.6,163.9M353.0,165.8L352.6,167.1M354.4,141.8L354.5,141.9M340.0,144.7L340.0,147.4M338.9,154.3L339.2,154.0M368.8,170.7L369.6,169.2M370.6,157.3L373.5,158.2M354.4,155.4L352.7,154.5M342.3,182.6L345.1,182.9M360.4,177.0L358.4,177.2M355.1,151.1L353.4,151.2M361.5,143.1L360.5,142.0M345.7,146.7L346.8,145.0M355.1,154.1L354.1,155.5M337.5,146.3L340.0,147.4M364.8,177.6L367.0,176.6M353.4,176.6L352.0,179.4M339.3,160.8L337.8,161.8M353.3,168.5L354.2,168.4M343.2,142.6L343.5,140.7M346.1,174.8L345.3,176.4M353.3,168.5L352.6,167.1M368.8,170.7L368.1,171.9M356.9,162.6L355.0,163.6M358.1,164.8L358.6,167.1M347.5,160.3L347.1,158.7M337.8,173.3L337.4,171.8M337.0,150.2L338.2,152.1M375.6,166.0L375.1,166.7M336.7,152.2L336.2,150.1M342.6,147.4L340.0,147.4M364.4,162.3L367.2,164.2M361.1,160.0L363.6,157.3M336.8,169.4L335.8,170.1M359.8,183.5L359.4,181.2M357.2,174.6L359.5,173.0M350.3,184.9L352.4,184.1M367.8,163.9L368.0,162.0M365.7,167.6L365.0,169.5M352.7,154.5L351.8,152.9M349.8,165.0L349.7,165.8M339.8,166.6L340.6,167.7M362.1,175.2L361.2,175.4M355.2,181.2L355.2,179.7M367.8,169.5L368.1,171.9M366.8,171.8L368.1,171.9M361.5,143.1L361.3,141.5M361.5,143.1L361.4,143.8M366.8,183.0L368.5,182.4M361.2,181.5L361.7,180.5M351.1,147.4L349.2,149.0M361.2,148.2L363.0,145.4M364.9,171.9L364.8,169.6M356.6,165.4L355.8,164.4M342.1,150.8L344.2,149.7M348.5,152.0L347.0,149.9M371.3,167.3L372.0,165.2M349.6,145.0L348.7,143.9M340.4,148.6L340.0,147.4M367.2,181.7L367.9,180.2M340.4,148.6L339.6,149.9M375.6,166.0L374.6,163.9M367.2,164.2L368.0,162.0M345.3,144.5L343.2,142.6M367.7,148.7L366.0,151.8M341.4,155.8L341.4,157.8M378.6,162.8L378.1,163.3M352.7,164.9L353.0,165.8M362.1,180.2L364.5,178.8M350.3,184.9L351.5,184.2M367.6,177.9L369.1,177.1M367.1,166.6L366.3,166.6M370.9,152.1L368.6,153.3M354.6,150.7L354.6,150.8M361.3,141.5L360.6,143.6M334.2,159.5L335.7,160.5M343.0,170.2L343.5,170.8M378.1,163.3L378.7,163.3M343.7,155.0L341.4,155.8M354.0,157.4L354.1,155.5M368.1,151.5L367.2,149.7M374.4,168.7L374.7,168.3M352.1,152.4L350.6,151.0M367.0,176.6L369.2,177.5M346.6,162.7L345.0,163.4M345.1,163.7L345.0,163.4M355.5,172.3L354.9,171.1M353.4,159.8L352.3,161.4M342.5,162.0L339.9,162.1M362.8,183.2L362.8,181.9M354.9,171.1L354.2,168.4M371.4,160.7L371.1,160.9M343.9,180.8L345.5,182.3M349.8,165.0L350.0,162.7M367.7,148.7L367.2,149.7M336.7,156.5L337.7,157.1M351.7,148.5L352.4,150.1M333.4,163.5L334.4,164.9M350.8,182.3L352.0,179.4M369.1,165.1L369.5,164.9M347.0,139.4L349.2,140.8M361.4,143.8L363.0,145.4M346.0,140.7L346.6,142.6M378.6,162.8L378.4,161.0M346.5,158.9L347.1,158.7M352.7,164.9L352.6,167.1M356.9,153.9L358.9,154.3M364.9,171.9L366.8,171.8M338.5,167.1L340.6,167.7M367.2,181.7L367.1,181.5M365.1,158.0L363.6,157.3M365.1,158.0L366.1,156.9M358.1,153.4L359.1,151.0M358.1,164.8L358.9,166.2M334.4,160.9L333.6,163.1M337.9,155.3L336.9,154.2M346.6,162.7L345.1,163.7M361.5,143.1L360.6,143.6M337.8,164.4L335.7,164.4M358.1,164.8L360.5,164.3M349.0,168.2L350.3,167.3M359.5,173.0L359.8,173.8M349.7,165.8L350.9,167.5M350.0,182.5L350.8,182.3M345.8,181.4L345.1,182.9M367.2,156.1L366.0,155.1M367.4,165.6L367.1,166.6M369.1,165.1L367.4,165.6M349.8,165.0L350.3,167.3M376.3,160.1L374.7,159.5M348.5,152.0L348.8,154.2M349.7,171.1L346.3,169.7M375.1,166.7L374.7,168.3M350.2,138.7L348.9,138.0M346.0,140.7L346.5,142.2M367.1,181.5L365.9,182.4M365.1,158.0L364.7,158.6M358.1,153.4L361.1,154.0M345.3,144.5L346.5,142.2M345.9,160.5L346.6,162.7" stroke="#1ab81a" stroke-width="0.8" fill="none" opacity="1.0"/>
<text x="55.60" y="70.20" font-size="7.8" font-weight="bold" fill="#17999b" text-anchor="start" >CHS</text>
<text x="18.00" y="139.60" font-size="9.3" font-weight="bold" fill="#000" text-anchor="start" >TM4</text>
<text x="107.20" y="123.20" font-size="9.3" font-weight="bold" fill="#000" text-anchor="start" >TM5</text>
<text x="119.60" y="152.70" font-size="7.9" font-weight="normal" fill="#f29010" text-anchor="start" >LTC4</text>
<text x="46.20" y="187.30" font-size="9.3" font-weight="bold" fill="#000" text-anchor="start" >ICL2</text>
<text x="197.20" y="112.70" font-size="7.8" font-weight="bold" fill="#17999b" text-anchor="start" >CHS</text>
<text x="144.70" y="137.50" font-size="9.3" font-weight="bold" fill="#000" text-anchor="start" >TM4</text>
<text x="234.80" y="120.20" font-size="9.3" font-weight="bold" fill="#000" text-anchor="start" >TM5</text>
<text x="245.40" y="160.60" font-size="8.0" font-weight="normal" fill="#f0d000" text-anchor="start" >LTD4</text>
<text x="169.30" y="185.50" font-size="9.3" font-weight="bold" fill="#000" text-anchor="start" >ICL2</text>
<text x="271.60" y="118.50" font-size="9.3" font-weight="bold" fill="#000" text-anchor="start" >TM4</text>
<text x="363.00" y="121.70" font-size="9.3" font-weight="bold" fill="#000" text-anchor="start" >TM5</text>
<text x="365.00" y="94.60" font-size="8.0" font-weight="bold" fill="#d4a86a" text-anchor="start" >ceramide</text>
<text x="371.60" y="149.00" font-size="8.0" font-weight="normal" fill="#2cb42c" text-anchor="start" >CLR</text>
<text x="297.80" y="185.50" font-size="9.3" font-weight="bold" fill="#000" text-anchor="start" >ICL2</text>
<text x="43.2" y="210.9" font-size="9.25" font-weight="bold" fill="#7468d6">CysLT2R<tspan fill="#000">-</tspan><tspan fill="#f39a1c">LTC4</tspan></text>
<text x="175.1" y="210.9" font-size="9.25" font-weight="bold" fill="#7a4a25">CysLT2R<tspan fill="#000">-</tspan><tspan fill="#f5d800">LTD4</tspan></text>
<text x="298.8" y="210.9" font-size="9.25" font-weight="bold" fill="#a01c1c">CysLT2R<tspan fill="#000">-</tspan><tspan fill="#d4a86a">ceramide</tspan></text>
<text x="376.50" y="58.80" font-size="6.7" font-weight="bold" fill="#000" text-anchor="start" >Extracellular</text>
<text x="385.70" y="173.60" font-size="6.7" font-weight="bold" fill="#000" text-anchor="start" >Intracellular</text>
<text x="13.80" y="24.80" font-size="9.2" font-weight="bold" fill="#000" text-anchor="start" >a</text>
<text x="419.40" y="24.60" font-size="9.2" font-weight="bold" fill="#000" text-anchor="start" >b</text>
<text x="12.90" y="242.00" font-size="9.2" font-weight="bold" fill="#000" text-anchor="start" >c</text>
<text x="332.80" y="238.70" font-size="9.2" font-weight="bold" fill="#000" text-anchor="start" >d</text>
<text x="523.00" y="238.70" font-size="9.2" font-weight="bold" fill="#000" text-anchor="start" >e</text>
<line x1="452.50" y1="73.07" x2="542.00" y2="73.07" stroke="#222" stroke-width="1.0" stroke-dasharray="1.1 1.8"/>
<line x1="452.50" y1="143.90" x2="587.27" y2="143.90" stroke="#333" stroke-width="1.0" stroke-dasharray="1.1 2.3"/>
<line x1="451.00" y1="58.50" x2="451.00" y2="151.30" stroke="#000" stroke-width="1.8" />
<line x1="450.10" y1="151.30" x2="589.80" y2="151.30" stroke="#000" stroke-width="1.8" />
<line x1="446.20" y1="143.90" x2="451.00" y2="143.90" stroke="#000" stroke-width="1.7" />
<text x="446.00" y="146.40" font-size="7.1" font-weight="bold" fill="#000" text-anchor="end" >0</text>
<line x1="446.20" y1="129.73" x2="451.00" y2="129.73" stroke="#000" stroke-width="1.7" />
<text x="446.00" y="132.23" font-size="7.1" font-weight="bold" fill="#000" text-anchor="end" >20</text>
<line x1="446.20" y1="115.57" x2="451.00" y2="115.57" stroke="#000" stroke-width="1.7" />
<text x="446.00" y="118.07" font-size="7.1" font-weight="bold" fill="#000" text-anchor="end" >40</text>
<line x1="446.20" y1="101.40" x2="451.00" y2="101.40" stroke="#000" stroke-width="1.7" />
<text x="446.00" y="103.90" font-size="7.1" font-weight="bold" fill="#000" text-anchor="end" >60</text>
<line x1="446.20" y1="87.24" x2="451.00" y2="87.24" stroke="#000" stroke-width="1.7" />
<text x="446.00" y="89.74" font-size="7.1" font-weight="bold" fill="#000" text-anchor="end" >80</text>
<line x1="446.20" y1="73.07" x2="451.00" y2="73.07" stroke="#000" stroke-width="1.7" />
<text x="446.00" y="75.57" font-size="7.1" font-weight="bold" fill="#000" text-anchor="end" >100</text>
<line x1="446.20" y1="58.90" x2="451.00" y2="58.90" stroke="#000" stroke-width="1.7" />
<text x="446.00" y="61.40" font-size="7.1" font-weight="bold" fill="#000" text-anchor="end" >120</text>
<line x1="451.00" y1="151.30" x2="451.00" y2="154.30" stroke="#000" stroke-width="1.7" />
<text x="451.30" y="161.60" font-size="7.2" font-weight="bold" fill="#000" text-anchor="middle" >-11</text>
<line x1="468.25" y1="151.30" x2="468.25" y2="154.30" stroke="#000" stroke-width="1.7" />
<text x="468.55" y="161.60" font-size="7.2" font-weight="bold" fill="#000" text-anchor="middle" >-10</text>
<line x1="485.50" y1="151.30" x2="485.50" y2="154.30" stroke="#000" stroke-width="1.7" />
<text x="485.80" y="161.60" font-size="7.2" font-weight="bold" fill="#000" text-anchor="middle" >-9</text>
<line x1="502.75" y1="151.30" x2="502.75" y2="154.30" stroke="#000" stroke-width="1.7" />
<text x="503.05" y="161.60" font-size="7.2" font-weight="bold" fill="#000" text-anchor="middle" >-8</text>
<line x1="520.00" y1="151.30" x2="520.00" y2="154.30" stroke="#000" stroke-width="1.7" />
<text x="520.30" y="161.60" font-size="7.2" font-weight="bold" fill="#000" text-anchor="middle" >-7</text>
<line x1="537.25" y1="151.30" x2="537.25" y2="154.30" stroke="#000" stroke-width="1.7" />
<text x="537.55" y="161.60" font-size="7.2" font-weight="bold" fill="#000" text-anchor="middle" >-6</text>
<line x1="554.50" y1="151.30" x2="554.50" y2="154.30" stroke="#000" stroke-width="1.7" />
<text x="554.80" y="161.60" font-size="7.2" font-weight="bold" fill="#000" text-anchor="middle" >-5</text>
<line x1="571.75" y1="151.30" x2="571.75" y2="154.30" stroke="#000" stroke-width="1.7" />
<text x="572.05" y="161.60" font-size="7.2" font-weight="bold" fill="#000" text-anchor="middle" >-4</text>
<line x1="589.00" y1="151.30" x2="589.00" y2="154.30" stroke="#000" stroke-width="1.7" />
<text x="589.30" y="161.60" font-size="7.2" font-weight="bold" fill="#000" text-anchor="middle" >-3</text>
<text x="525.00" y="175.60" font-size="9.3" font-weight="bold" fill="#000" text-anchor="middle" >log [ligand(M)]</text>
<text transform="translate(434.6,107.5) rotate(-90)" font-size="9.3" text-anchor="middle">Normalized G<tspan font-size="5.5" dy="1.8">q</tspan><tspan dy="-1.8"> response</tspan></text>
<path d="M468.2,144.2L469.1,144.1L470.0,143.9L470.8,143.7L471.7,143.5L472.6,143.3L473.4,143.0L474.3,142.7L475.1,142.3L476.0,141.9L476.9,141.5L477.7,140.9L478.6,140.4L479.5,139.7L480.3,139.0L481.2,138.2L482.1,137.3L482.9,136.3L483.8,135.2L484.6,134.0L485.5,132.7L486.4,131.2L487.2,129.7L488.1,128.0L488.9,126.2L489.8,124.2L490.7,122.2L491.5,120.1L492.4,117.8L493.3,115.5L494.1,113.2L495.0,110.8L495.9,108.4L496.7,105.9L497.6,103.6L498.4,101.2L499.3,99.0L500.2,96.8L501.0,94.7L501.9,92.7L502.8,90.8L503.6,89.0L504.5,87.4L505.3,85.9L506.2,84.5L507.1,83.2L507.9,82.0L508.8,81.0L509.6,80.0L510.5,79.1L511.4,78.4L512.2,77.7L513.1,77.1L514.0,76.5L514.8,76.0L515.7,75.6L516.5,75.2L517.4,74.9L518.3,74.6L519.1,74.3L520.0,74.1L520.9,73.9L521.7,73.7L522.6,73.5L523.5,73.4L524.3,73.3L525.2,73.1L526.0,73.0L526.9,73.0L527.8,72.9L528.6,72.8L529.5,72.8L530.4,72.7L531.2,72.7L532.1,72.6L532.9,72.6L533.8,72.6L534.7,72.5L535.5,72.5L536.4,72.5L537.2,72.5" stroke="#1a1aff" stroke-width="1.3" fill="none" />
<path d="M485.5,145.0L486.6,144.9L487.7,144.9L488.7,144.9L489.8,144.9L490.9,144.9L492.0,144.9L493.0,144.9L494.1,144.9L495.2,144.9L496.3,144.9L497.4,144.9L498.4,144.9L499.5,144.9L500.6,144.9L501.7,144.9L502.8,144.8L503.8,144.8L504.9,144.8L506.0,144.8L507.1,144.7L508.1,144.7L509.2,144.7L510.3,144.6L511.4,144.6L512.5,144.5L513.5,144.5L514.6,144.4L515.7,144.3L516.8,144.2L517.8,144.1L518.9,143.9L520.0,143.8L521.1,143.6L522.2,143.4L523.2,143.2L524.3,142.9L525.4,142.6L526.5,142.3L527.5,141.9L528.6,141.5L529.7,141.1L530.8,140.5L531.9,140.0L532.9,139.4L534.0,138.7L535.1,137.9L536.2,137.1L537.2,136.2L538.3,135.3L539.4,134.4L540.5,133.4L541.6,132.3L542.6,131.3L543.7,130.2L544.8,129.1L545.9,128.0L547.0,127.0L548.0,125.9L549.1,124.9L550.2,124.0L551.3,123.1L552.3,122.3L553.4,121.5L554.5,120.8L555.6,120.1L556.7,119.5L557.7,119.0L558.8,118.5L559.9,118.1L561.0,117.7L562.0,117.3L563.1,117.0L564.2,116.8L565.3,116.5L566.4,116.3L567.4,116.1L568.5,116.0L569.6,115.8L570.7,115.7L571.8,115.6" stroke="#ff1a1a" stroke-width="1.3" fill="none" />
<circle cx="468.25" cy="143.19" r="1.5" fill="#1a1aff"/>
<circle cx="480.32" cy="141.07" r="1.5" fill="#1a1aff"/>
<line x1="485.50" y1="124.78" x2="485.50" y2="134.69" stroke="#1a1aff" stroke-width="0.8" />
<line x1="484.00" y1="124.78" x2="487.00" y2="124.78" stroke="#1a1aff" stroke-width="0.8" />
<line x1="484.00" y1="134.69" x2="487.00" y2="134.69" stroke="#1a1aff" stroke-width="0.8" />
<circle cx="485.50" cy="129.73" r="1.5" fill="#1a1aff"/>
<circle cx="497.57" cy="107.07" r="1.5" fill="#1a1aff"/>
<line x1="502.75" y1="84.40" x2="502.75" y2="90.07" stroke="#1a1aff" stroke-width="0.8" />
<line x1="501.25" y1="84.40" x2="504.25" y2="84.40" stroke="#1a1aff" stroke-width="0.8" />
<line x1="501.25" y1="90.07" x2="504.25" y2="90.07" stroke="#1a1aff" stroke-width="0.8" />
<circle cx="502.75" cy="87.24" r="1.5" fill="#1a1aff"/>
<line x1="514.83" y1="73.07" x2="514.83" y2="75.90" stroke="#1a1aff" stroke-width="0.8" />
<line x1="513.33" y1="73.07" x2="516.33" y2="73.07" stroke="#1a1aff" stroke-width="0.8" />
<line x1="513.33" y1="75.90" x2="516.33" y2="75.90" stroke="#1a1aff" stroke-width="0.8" />
<circle cx="514.83" cy="74.49" r="1.5" fill="#1a1aff"/>
<circle cx="520.00" cy="73.78" r="1.5" fill="#1a1aff"/>
<line x1="537.25" y1="73.78" x2="537.25" y2="78.03" stroke="#1a1aff" stroke-width="0.8" />
<line x1="535.75" y1="73.78" x2="538.75" y2="73.78" stroke="#1a1aff" stroke-width="0.8" />
<line x1="535.75" y1="78.03" x2="538.75" y2="78.03" stroke="#1a1aff" stroke-width="0.8" />
<circle cx="537.25" cy="75.90" r="1.5" fill="#1a1aff"/>
<circle cx="485.50" cy="142.48" r="1.3" fill="#ff1a1a"/>
<circle cx="502.75" cy="145.32" r="1.3" fill="#ff1a1a"/>
<line x1="520.00" y1="141.07" x2="520.00" y2="146.73" stroke="#ff1a1a" stroke-width="0.8" />
<line x1="518.50" y1="141.07" x2="521.50" y2="141.07" stroke="#ff1a1a" stroke-width="0.8" />
<line x1="518.50" y1="146.73" x2="521.50" y2="146.73" stroke="#ff1a1a" stroke-width="0.8" />
<circle cx="520.00" cy="143.90" r="1.3" fill="#ff1a1a"/>
<line x1="532.08" y1="136.11" x2="532.08" y2="141.78" stroke="#ff1a1a" stroke-width="0.8" />
<line x1="530.58" y1="136.11" x2="533.58" y2="136.11" stroke="#ff1a1a" stroke-width="0.8" />
<line x1="530.58" y1="141.78" x2="533.58" y2="141.78" stroke="#ff1a1a" stroke-width="0.8" />
<circle cx="532.08" cy="138.94" r="1.3" fill="#ff1a1a"/>
<line x1="537.25" y1="130.44" x2="537.25" y2="138.94" stroke="#ff1a1a" stroke-width="0.8" />
<line x1="535.75" y1="130.44" x2="538.75" y2="130.44" stroke="#ff1a1a" stroke-width="0.8" />
<line x1="535.75" y1="138.94" x2="538.75" y2="138.94" stroke="#ff1a1a" stroke-width="0.8" />
<circle cx="537.25" cy="134.69" r="1.3" fill="#ff1a1a"/>
<line x1="549.33" y1="116.98" x2="549.33" y2="131.15" stroke="#ff1a1a" stroke-width="0.8" />
<line x1="547.83" y1="116.98" x2="550.83" y2="116.98" stroke="#ff1a1a" stroke-width="0.8" />
<line x1="547.83" y1="131.15" x2="550.83" y2="131.15" stroke="#ff1a1a" stroke-width="0.8" />
<circle cx="549.33" cy="124.07" r="1.3" fill="#ff1a1a"/>
<line x1="554.50" y1="110.61" x2="554.50" y2="127.61" stroke="#ff1a1a" stroke-width="0.8" />
<line x1="553.00" y1="110.61" x2="556.00" y2="110.61" stroke="#ff1a1a" stroke-width="0.8" />
<line x1="553.00" y1="127.61" x2="556.00" y2="127.61" stroke="#ff1a1a" stroke-width="0.8" />
<circle cx="554.50" cy="119.11" r="1.3" fill="#ff1a1a"/>
<line x1="571.75" y1="109.19" x2="571.75" y2="123.36" stroke="#ff1a1a" stroke-width="0.8" />
<line x1="570.25" y1="109.19" x2="573.25" y2="109.19" stroke="#ff1a1a" stroke-width="0.8" />
<line x1="570.25" y1="123.36" x2="573.25" y2="123.36" stroke="#ff1a1a" stroke-width="0.8" />
<circle cx="571.75" cy="116.28" r="1.3" fill="#ff1a1a"/>
<rect x="542.6" y="0.6" width="142" height="106.6" fill="#fff" stroke="#3a3232" stroke-width="1.1"/>
<line x1="542.60" y1="22.30" x2="684.60" y2="22.30" stroke="#3a3232" stroke-width="1.1" />
<line x1="542.60" y1="50.10" x2="684.60" y2="50.10" stroke="#3a3232" stroke-width="1.1" />
<line x1="542.60" y1="78.30" x2="684.60" y2="78.30" stroke="#3a3232" stroke-width="1.1" />
<line x1="593.50" y1="0.60" x2="593.50" y2="107.20" stroke="#3a3232" stroke-width="1.1" />
<line x1="638.60" y1="0.60" x2="638.60" y2="107.20" stroke="#3a3232" stroke-width="1.1" />
<text x="613.00" y="12.30" font-size="8.4" font-weight="normal" fill="#000" text-anchor="middle" >LTC4</text>
<line x1="606.00" y1="17.80" x2="619.20" y2="17.80" stroke="#3344ff" stroke-width="1.3" />
<circle cx="612.60" cy="17.80" r="1.3" fill="#1a1aff"/>
<text x="662.20" y="11.00" font-size="9.2" font-weight="normal" fill="#000" text-anchor="middle" >ceramide</text>
<line x1="653.10" y1="17.30" x2="666.30" y2="17.30" stroke="#ff2020" stroke-width="1.3" />
<circle cx="659.70" cy="17.30" r="1.3" fill="#ff1a1a"/>
<text x="568.30" y="33.70" font-size="9.4" text-anchor="middle" fill="#222">EC<tspan font-size="5.4" dy="2.8">50</tspan></text>
<text x="568.30" y="43.50" font-size="8.2" font-weight="normal" fill="#222" text-anchor="middle" textLength="45.5" lengthAdjust="spacingAndGlyphs">± s.e.m.(µM)</text>
<text x="568.00" y="63.50" font-size="9.4" text-anchor="middle" fill="#222">pEC<tspan font-size="5.4" dy="2.8">50</tspan></text>
<text x="568.00" y="73.30" font-size="8.2" font-weight="normal" fill="#222" text-anchor="middle" textLength="29.3" lengthAdjust="spacingAndGlyphs">± s.e.m.</text>
<text x="568.30" y="91.20" font-size="9.4" text-anchor="middle" fill="#222">E<tspan font-size="5.4" dy="2.8">max</tspan></text>
<text x="568.30" y="101.00" font-size="8.2" font-weight="normal" fill="#222" text-anchor="middle" textLength="42" lengthAdjust="spacingAndGlyphs">± s.e.m.(%)</text>
<text x="616.30" y="34.40" font-size="7.0" font-weight="normal" fill="#000" text-anchor="middle" >0.0039</text>
<text x="616.30" y="43.70" font-size="7.0" font-weight="normal" fill="#000" text-anchor="middle" >± 0.0004</text>
<text x="661.60" y="34.40" font-size="7.0" font-weight="normal" fill="#000" text-anchor="middle" >2.749</text>
<text x="661.60" y="43.70" font-size="7.0" font-weight="normal" fill="#000" text-anchor="middle" >± 0.902</text>
<text x="614.50" y="63.60" font-size="7.0" font-weight="normal" fill="#000" text-anchor="middle" >8.41</text>
<text x="614.50" y="72.90" font-size="7.0" font-weight="normal" fill="#000" text-anchor="middle" >± 0.04</text>
<text x="660.30" y="63.60" font-size="7.0" font-weight="normal" fill="#000" text-anchor="middle" >5.61</text>
<text x="660.30" y="72.90" font-size="7.0" font-weight="normal" fill="#000" text-anchor="middle" >± 0.14</text>
<text x="661.00" y="91.60" font-size="7.0" font-weight="normal" fill="#000" text-anchor="middle" >40.31</text>
<text x="661.00" y="100.90" font-size="7.0" font-weight="normal" fill="#000" text-anchor="middle" >± 10.56</text>
<text x="613.00" y="95.50" font-size="7.0" font-weight="normal" fill="#000" text-anchor="middle" >100</text>
<line x1="49.40" y1="248.60" x2="49.40" y2="394.80" stroke="#000" stroke-width="1.9" />
<line x1="48.50" y1="393.90" x2="266.80" y2="393.90" stroke="#000" stroke-width="1.9" />
<line x1="52.50" y1="392.00" x2="266.00" y2="392.00" stroke="#000" stroke-width="1.8" stroke-dasharray="1.1 3.3"/>
<line x1="43.00" y1="392.00" x2="49.40" y2="392.00" stroke="#000" stroke-width="1.8" />
<text x="42.00" y="395.20" font-size="8.9" font-weight="bold" fill="#000" text-anchor="end" >0</text>
<line x1="43.00" y1="368.17" x2="49.40" y2="368.17" stroke="#000" stroke-width="1.8" />
<text x="42.00" y="371.37" font-size="8.9" font-weight="bold" fill="#000" text-anchor="end" >100</text>
<line x1="43.00" y1="344.34" x2="49.40" y2="344.34" stroke="#000" stroke-width="1.8" />
<text x="42.00" y="347.54" font-size="8.9" font-weight="bold" fill="#000" text-anchor="end" >200</text>
<line x1="43.00" y1="320.51" x2="49.40" y2="320.51" stroke="#000" stroke-width="1.8" />
<text x="42.00" y="323.71" font-size="8.9" font-weight="bold" fill="#000" text-anchor="end" >300</text>
<line x1="43.00" y1="296.68" x2="49.40" y2="296.68" stroke="#000" stroke-width="1.8" />
<text x="42.00" y="299.88" font-size="8.9" font-weight="bold" fill="#000" text-anchor="end" >400</text>
<line x1="43.00" y1="272.85" x2="49.40" y2="272.85" stroke="#000" stroke-width="1.8" />
<text x="42.00" y="276.05" font-size="8.9" font-weight="bold" fill="#000" text-anchor="end" >500</text>
<line x1="43.00" y1="249.02" x2="49.40" y2="249.02" stroke="#000" stroke-width="1.8" />
<text x="42.00" y="252.22" font-size="8.9" font-weight="bold" fill="#000" text-anchor="end" >600</text>
<line x1="49.50" y1="393.90" x2="49.50" y2="400.20" stroke="#000" stroke-width="1.8" />
<text x="49.80" y="411.60" font-size="8.9" font-weight="bold" fill="#000" text-anchor="middle" >-10</text>
<line x1="80.48" y1="393.90" x2="80.48" y2="400.20" stroke="#000" stroke-width="1.8" />
<text x="80.78" y="411.60" font-size="8.9" font-weight="bold" fill="#000" text-anchor="middle" >-9</text>
<line x1="111.46" y1="393.90" x2="111.46" y2="400.20" stroke="#000" stroke-width="1.8" />
<text x="111.76" y="411.60" font-size="8.9" font-weight="bold" fill="#000" text-anchor="middle" >-8</text>
<line x1="142.44" y1="393.90" x2="142.44" y2="400.20" stroke="#000" stroke-width="1.8" />
<text x="142.74" y="411.60" font-size="8.9" font-weight="bold" fill="#000" text-anchor="middle" >-7</text>
<line x1="173.42" y1="393.90" x2="173.42" y2="400.20" stroke="#000" stroke-width="1.8" />
<text x="173.72" y="411.60" font-size="8.9" font-weight="bold" fill="#000" text-anchor="middle" >-6</text>
<line x1="204.40" y1="393.90" x2="204.40" y2="400.20" stroke="#000" stroke-width="1.8" />
<text x="204.70" y="411.60" font-size="8.9" font-weight="bold" fill="#000" text-anchor="middle" >-5</text>
<line x1="235.38" y1="393.90" x2="235.38" y2="400.20" stroke="#000" stroke-width="1.8" />
<text x="235.68" y="411.60" font-size="8.9" font-weight="bold" fill="#000" text-anchor="middle" >-4</text>
<line x1="266.36" y1="393.90" x2="266.36" y2="400.20" stroke="#000" stroke-width="1.8" />
<text x="266.66" y="411.60" font-size="8.9" font-weight="bold" fill="#000" text-anchor="middle" >-3</text>
<text x="149.40" y="423.40" font-size="10.6" font-weight="bold" fill="#000" text-anchor="middle" >log [ceramide(M)]</text>
<text transform="translate(16.9,315.6) rotate(-90)" font-size="10.7" text-anchor="middle">Normalized G<tspan font-size="6.2" dy="2.2">q</tspan><tspan dy="-2.2"> response</tspan></text>
<path d="M184.5,375.2 L117.5,306.8" stroke="#f3a9a6" stroke-width="3.8" fill="none" />
<path d="M108.4,298.4 L112.4,312.4 L123.0,302.2 Z" stroke="none" stroke-width="1" fill="#f3a9a6" />
<line x1="244.20" y1="369.80" x2="244.20" y2="298.00" stroke="#f3a9a6" stroke-width="3.8" />
<path d="M244.2,282.3 L237.9,301.2 L250.5,301.2 Z" stroke="none" stroke-width="1" fill="#f3a9a6" />
<text x="120.6" y="334.4" font-size="9.0" font-weight="bold">EC<tspan font-size="6.0" font-weight="normal" dy="2.8">50</tspan></text>
<text x="246.3" y="321.8" font-size="9.4" font-weight="bold">E<tspan font-size="6.0" font-weight="normal" dy="3">max</tspan></text>
<path d="M80.5,391.0L82.4,391.0L84.4,391.0L86.3,391.0L88.2,391.0L90.2,391.0L92.1,391.0L94.0,391.0L96.0,391.0L97.9,391.0L99.8,391.0L101.8,391.0L103.7,391.0L105.7,391.0L107.6,391.0L109.5,391.0L111.5,391.0L113.4,390.9L115.3,390.9L117.3,390.9L119.2,390.9L121.1,390.9L123.1,390.8L125.0,390.8L127.0,390.7L128.9,390.7L130.8,390.6L132.8,390.6L134.7,390.5L136.6,390.4L138.6,390.3L140.5,390.1L142.4,390.0L144.4,389.8L146.3,389.6L148.2,389.4L150.2,389.1L152.1,388.8L154.1,388.5L156.0,388.1L157.9,387.7L159.9,387.2L161.8,386.6L163.7,386.0L165.7,385.4L167.6,384.7L169.5,383.9L171.5,383.1L173.4,382.3L175.4,381.4L177.3,380.5L179.2,379.6L181.2,378.6L183.1,377.7L185.0,376.8L187.0,376.0L188.9,375.1L190.8,374.4L192.8,373.6L194.7,373.0L196.7,372.3L198.6,371.8L200.5,371.3L202.5,370.8L204.4,370.4L206.3,370.1L208.3,369.7L210.2,369.5L212.1,369.2L214.1,369.0L216.0,368.8L218.0,368.7L219.9,368.5L221.8,368.4L223.8,368.3L225.7,368.2L227.6,368.1L229.6,368.1L231.5,368.0L233.4,368.0L235.4,367.9" stroke="#1a1aff" stroke-width="1.1" fill="none" />
<line x1="80.48" y1="391.05" x2="80.48" y2="392.48" stroke="#1a1aff" stroke-width="0.75" />
<line x1="78.68" y1="391.05" x2="82.28" y2="391.05" stroke="#1a1aff" stroke-width="0.75" />
<line x1="78.68" y1="392.48" x2="82.28" y2="392.48" stroke="#1a1aff" stroke-width="0.75" />
<circle cx="80.48" cy="391.76" r="1.7" fill="#1a1aff"/>
<line x1="111.46" y1="386.76" x2="111.46" y2="388.66" stroke="#1a1aff" stroke-width="0.75" />
<line x1="109.66" y1="386.76" x2="113.26" y2="386.76" stroke="#1a1aff" stroke-width="0.75" />
<line x1="109.66" y1="388.66" x2="113.26" y2="388.66" stroke="#1a1aff" stroke-width="0.75" />
<circle cx="111.46" cy="387.71" r="1.7" fill="#1a1aff"/>
<line x1="142.44" y1="387.47" x2="142.44" y2="389.38" stroke="#1a1aff" stroke-width="0.75" />
<line x1="140.64" y1="387.47" x2="144.24" y2="387.47" stroke="#1a1aff" stroke-width="0.75" />
<line x1="140.64" y1="389.38" x2="144.24" y2="389.38" stroke="#1a1aff" stroke-width="0.75" />
<circle cx="142.44" cy="388.43" r="1.7" fill="#1a1aff"/>
<line x1="164.13" y1="380.56" x2="164.13" y2="382.47" stroke="#1a1aff" stroke-width="0.75" />
<line x1="162.33" y1="380.56" x2="165.93" y2="380.56" stroke="#1a1aff" stroke-width="0.75" />
<line x1="162.33" y1="382.47" x2="165.93" y2="382.47" stroke="#1a1aff" stroke-width="0.75" />
<circle cx="164.13" cy="381.51" r="1.7" fill="#1a1aff"/>
<line x1="173.42" y1="380.56" x2="173.42" y2="382.47" stroke="#1a1aff" stroke-width="0.75" />
<line x1="171.62" y1="380.56" x2="175.22" y2="380.56" stroke="#1a1aff" stroke-width="0.75" />
<line x1="171.62" y1="382.47" x2="175.22" y2="382.47" stroke="#1a1aff" stroke-width="0.75" />
<circle cx="173.42" cy="381.51" r="1.7" fill="#1a1aff"/>
<line x1="195.11" y1="370.31" x2="195.11" y2="373.17" stroke="#1a1aff" stroke-width="0.75" />
<line x1="193.31" y1="370.31" x2="196.91" y2="370.31" stroke="#1a1aff" stroke-width="0.75" />
<line x1="193.31" y1="373.17" x2="196.91" y2="373.17" stroke="#1a1aff" stroke-width="0.75" />
<circle cx="195.11" cy="371.74" r="1.7" fill="#1a1aff"/>
<line x1="204.40" y1="367.22" x2="204.40" y2="369.12" stroke="#1a1aff" stroke-width="0.75" />
<line x1="202.60" y1="367.22" x2="206.20" y2="367.22" stroke="#1a1aff" stroke-width="0.75" />
<line x1="202.60" y1="369.12" x2="206.20" y2="369.12" stroke="#1a1aff" stroke-width="0.75" />
<circle cx="204.40" cy="368.17" r="1.7" fill="#1a1aff"/>
<line x1="235.38" y1="367.46" x2="235.38" y2="368.88" stroke="#1a1aff" stroke-width="0.75" />
<line x1="233.58" y1="367.46" x2="237.18" y2="367.46" stroke="#1a1aff" stroke-width="0.75" />
<line x1="233.58" y1="368.88" x2="237.18" y2="368.88" stroke="#1a1aff" stroke-width="0.75" />
<circle cx="235.38" cy="368.17" r="1.7" fill="#1a1aff"/>
<path d="M80.5,386.7L82.4,386.7L84.4,386.7L86.3,386.7L88.2,386.7L90.2,386.7L92.1,386.7L94.0,386.7L96.0,386.7L97.9,386.7L99.8,386.7L101.8,386.7L103.7,386.7L105.7,386.6L107.6,386.6L109.5,386.6L111.5,386.6L113.4,386.6L115.3,386.5L117.3,386.5L119.2,386.5L121.1,386.4L123.1,386.4L125.0,386.3L127.0,386.2L128.9,386.2L130.8,386.1L132.8,386.0L134.7,385.9L136.6,385.7L138.6,385.6L140.5,385.4L142.4,385.2L144.4,385.0L146.3,384.7L148.2,384.5L150.2,384.2L152.1,383.8L154.1,383.4L156.0,383.0L157.9,382.5L159.9,382.0L161.8,381.5L163.7,380.9L165.7,380.3L167.6,379.6L169.5,378.9L171.5,378.2L173.4,377.5L175.4,376.7L177.3,376.0L179.2,375.2L181.2,374.5L183.1,373.8L185.0,373.1L187.0,372.4L188.9,371.8L190.8,371.2L192.8,370.6L194.7,370.1L196.7,369.6L198.6,369.2L200.5,368.8L202.5,368.4L204.4,368.1L206.3,367.8L208.3,367.6L210.2,367.4L212.1,367.2L214.1,367.0L216.0,366.8L218.0,366.7L219.9,366.6L221.8,366.5L223.8,366.4L225.7,366.3L227.6,366.2L229.6,366.2L231.5,366.1L233.4,366.1L235.4,366.0" stroke="#9a6a3a" stroke-width="1.1" fill="none" />
<line x1="80.48" y1="384.37" x2="80.48" y2="388.19" stroke="#9a6a3a" stroke-width="0.75" />
<line x1="78.68" y1="384.37" x2="82.28" y2="384.37" stroke="#9a6a3a" stroke-width="0.75" />
<line x1="78.68" y1="388.19" x2="82.28" y2="388.19" stroke="#9a6a3a" stroke-width="0.75" />
<circle cx="80.48" cy="386.28" r="1.7" fill="#9a6a3a"/>
<line x1="111.46" y1="384.37" x2="111.46" y2="388.19" stroke="#9a6a3a" stroke-width="0.75" />
<line x1="109.66" y1="384.37" x2="113.26" y2="384.37" stroke="#9a6a3a" stroke-width="0.75" />
<line x1="109.66" y1="388.19" x2="113.26" y2="388.19" stroke="#9a6a3a" stroke-width="0.75" />
<circle cx="111.46" cy="386.28" r="1.7" fill="#9a6a3a"/>
<line x1="142.44" y1="384.14" x2="142.44" y2="387.00" stroke="#9a6a3a" stroke-width="0.75" />
<line x1="140.64" y1="384.14" x2="144.24" y2="384.14" stroke="#9a6a3a" stroke-width="0.75" />
<line x1="140.64" y1="387.00" x2="144.24" y2="387.00" stroke="#9a6a3a" stroke-width="0.75" />
<circle cx="142.44" cy="385.57" r="1.7" fill="#9a6a3a"/>
<line x1="164.13" y1="377.23" x2="164.13" y2="381.04" stroke="#9a6a3a" stroke-width="0.75" />
<line x1="162.33" y1="377.23" x2="165.93" y2="377.23" stroke="#9a6a3a" stroke-width="0.75" />
<line x1="162.33" y1="381.04" x2="165.93" y2="381.04" stroke="#9a6a3a" stroke-width="0.75" />
<circle cx="164.13" cy="379.13" r="1.7" fill="#9a6a3a"/>
<line x1="173.42" y1="372.46" x2="173.42" y2="376.27" stroke="#9a6a3a" stroke-width="0.75" />
<line x1="171.62" y1="372.46" x2="175.22" y2="372.46" stroke="#9a6a3a" stroke-width="0.75" />
<line x1="171.62" y1="376.27" x2="175.22" y2="376.27" stroke="#9a6a3a" stroke-width="0.75" />
<circle cx="173.42" cy="374.37" r="1.7" fill="#9a6a3a"/>
<line x1="195.11" y1="366.03" x2="195.11" y2="369.84" stroke="#9a6a3a" stroke-width="0.75" />
<line x1="193.31" y1="366.03" x2="196.91" y2="366.03" stroke="#9a6a3a" stroke-width="0.75" />
<line x1="193.31" y1="369.84" x2="196.91" y2="369.84" stroke="#9a6a3a" stroke-width="0.75" />
<circle cx="195.11" cy="367.93" r="1.7" fill="#9a6a3a"/>
<line x1="204.40" y1="364.60" x2="204.40" y2="367.46" stroke="#9a6a3a" stroke-width="0.75" />
<line x1="202.60" y1="364.60" x2="206.20" y2="364.60" stroke="#9a6a3a" stroke-width="0.75" />
<line x1="202.60" y1="367.46" x2="206.20" y2="367.46" stroke="#9a6a3a" stroke-width="0.75" />
<circle cx="204.40" cy="366.03" r="1.7" fill="#9a6a3a"/>
<line x1="235.38" y1="364.60" x2="235.38" y2="367.46" stroke="#9a6a3a" stroke-width="0.75" />
<line x1="233.58" y1="364.60" x2="237.18" y2="364.60" stroke="#9a6a3a" stroke-width="0.75" />
<line x1="233.58" y1="367.46" x2="237.18" y2="367.46" stroke="#9a6a3a" stroke-width="0.75" />
<circle cx="235.38" cy="366.03" r="1.7" fill="#9a6a3a"/>
<path d="M80.5,378.9L82.4,378.9L84.4,378.9L86.3,378.8L88.2,378.8L90.2,378.8L92.1,378.8L94.0,378.8L96.0,378.8L97.9,378.8L99.8,378.8L101.8,378.8L103.7,378.7L105.7,378.7L107.6,378.7L109.5,378.6L111.5,378.6L113.4,378.6L115.3,378.5L117.3,378.5L119.2,378.4L121.1,378.3L123.1,378.2L125.0,378.1L127.0,378.0L128.9,377.9L130.8,377.7L132.8,377.6L134.7,377.4L136.6,377.1L138.6,376.9L140.5,376.6L142.4,376.3L144.4,376.0L146.3,375.6L148.2,375.1L150.2,374.7L152.1,374.1L154.1,373.6L156.0,373.0L157.9,372.3L159.9,371.6L161.8,370.9L163.7,370.1L165.7,369.3L167.6,368.5L169.5,367.7L171.5,366.8L173.4,366.0L175.4,365.2L177.3,364.4L179.2,363.6L181.2,362.9L183.1,362.2L185.0,361.6L187.0,361.0L188.9,360.4L190.8,359.9L192.8,359.4L194.7,359.0L196.7,358.6L198.6,358.3L200.5,358.0L202.5,357.7L204.4,357.5L206.3,357.3L208.3,357.1L210.2,356.9L212.1,356.8L214.1,356.6L216.0,356.5L218.0,356.4L219.9,356.3L221.8,356.3L223.8,356.2L225.7,356.1L227.6,356.1L229.6,356.1L231.5,356.0L233.4,356.0L235.4,356.0" stroke="#000000" stroke-width="1.1" fill="none" />
<line x1="80.48" y1="374.60" x2="80.48" y2="384.14" stroke="#000000" stroke-width="0.75" />
<line x1="78.68" y1="374.60" x2="82.28" y2="374.60" stroke="#000000" stroke-width="0.75" />
<line x1="78.68" y1="384.14" x2="82.28" y2="384.14" stroke="#000000" stroke-width="0.75" />
<circle cx="80.48" cy="379.37" r="1.7" fill="#000000"/>
<line x1="111.46" y1="373.89" x2="111.46" y2="383.42" stroke="#000000" stroke-width="0.75" />
<line x1="109.66" y1="373.89" x2="113.26" y2="373.89" stroke="#000000" stroke-width="0.75" />
<line x1="109.66" y1="383.42" x2="113.26" y2="383.42" stroke="#000000" stroke-width="0.75" />
<circle cx="111.46" cy="378.66" r="1.7" fill="#000000"/>
<line x1="142.44" y1="374.60" x2="142.44" y2="381.75" stroke="#000000" stroke-width="0.75" />
<line x1="140.64" y1="374.60" x2="144.24" y2="374.60" stroke="#000000" stroke-width="0.75" />
<line x1="140.64" y1="381.75" x2="144.24" y2="381.75" stroke="#000000" stroke-width="0.75" />
<circle cx="142.44" cy="378.18" r="1.7" fill="#000000"/>
<line x1="164.13" y1="363.40" x2="164.13" y2="369.12" stroke="#000000" stroke-width="0.75" />
<line x1="162.33" y1="363.40" x2="165.93" y2="363.40" stroke="#000000" stroke-width="0.75" />
<line x1="162.33" y1="369.12" x2="165.93" y2="369.12" stroke="#000000" stroke-width="0.75" />
<circle cx="164.13" cy="366.26" r="1.7" fill="#000000"/>
<line x1="173.42" y1="357.45" x2="173.42" y2="364.12" stroke="#000000" stroke-width="0.75" />
<line x1="171.62" y1="357.45" x2="175.22" y2="357.45" stroke="#000000" stroke-width="0.75" />
<line x1="171.62" y1="364.12" x2="175.22" y2="364.12" stroke="#000000" stroke-width="0.75" />
<circle cx="173.42" cy="360.78" r="1.7" fill="#000000"/>
<line x1="195.11" y1="356.02" x2="195.11" y2="361.74" stroke="#000000" stroke-width="0.75" />
<line x1="193.31" y1="356.02" x2="196.91" y2="356.02" stroke="#000000" stroke-width="0.75" />
<line x1="193.31" y1="361.74" x2="196.91" y2="361.74" stroke="#000000" stroke-width="0.75" />
<circle cx="195.11" cy="358.88" r="1.7" fill="#000000"/>
<line x1="204.40" y1="353.87" x2="204.40" y2="358.64" stroke="#000000" stroke-width="0.75" />
<line x1="202.60" y1="353.87" x2="206.20" y2="353.87" stroke="#000000" stroke-width="0.75" />
<line x1="202.60" y1="358.64" x2="206.20" y2="358.64" stroke="#000000" stroke-width="0.75" />
<circle cx="204.40" cy="356.25" r="1.7" fill="#000000"/>
<line x1="235.38" y1="353.40" x2="235.38" y2="360.07" stroke="#000000" stroke-width="0.75" />
<line x1="233.58" y1="353.40" x2="237.18" y2="353.40" stroke="#000000" stroke-width="0.75" />
<line x1="233.58" y1="360.07" x2="237.18" y2="360.07" stroke="#000000" stroke-width="0.75" />
<circle cx="235.38" cy="356.73" r="1.7" fill="#000000"/>
<path d="M80.5,372.4L82.4,372.4L84.4,372.4L86.3,372.4L88.2,372.3L90.2,372.3L92.1,372.3L94.0,372.3L96.0,372.2L97.9,372.2L99.8,372.2L101.8,372.1L103.7,372.1L105.7,372.0L107.6,372.0L109.5,371.9L111.5,371.8L113.4,371.7L115.3,371.6L117.3,371.5L119.2,371.3L121.1,371.1L123.1,370.9L125.0,370.7L127.0,370.5L128.9,370.2L130.8,369.9L132.8,369.5L134.7,369.1L136.6,368.7L138.6,368.2L140.5,367.6L142.4,367.1L144.4,366.4L146.3,365.7L148.2,364.9L150.2,364.1L152.1,363.3L154.1,362.4L156.0,361.5L157.9,360.5L159.9,359.6L161.8,358.6L163.7,357.6L165.7,356.7L167.6,355.8L169.5,354.9L171.5,354.0L173.4,353.2L175.4,352.4L177.3,351.7L179.2,351.1L181.2,350.5L183.1,349.9L185.0,349.4L187.0,348.9L188.9,348.5L190.8,348.2L192.8,347.9L194.7,347.6L196.7,347.3L198.6,347.1L200.5,346.9L202.5,346.7L204.4,346.6L206.3,346.4L208.3,346.3L210.2,346.2L212.1,346.1L214.1,346.0L216.0,346.0L218.0,345.9L219.9,345.9L221.8,345.8L223.8,345.8L225.7,345.7L227.6,345.7L229.6,345.7L231.5,345.7L233.4,345.7L235.4,345.6" stroke="#ff8c1a" stroke-width="1.1" fill="none" />
<line x1="80.48" y1="362.93" x2="80.48" y2="373.41" stroke="#ff8c1a" stroke-width="0.75" />
<line x1="78.68" y1="362.93" x2="82.28" y2="362.93" stroke="#ff8c1a" stroke-width="0.75" />
<line x1="78.68" y1="373.41" x2="82.28" y2="373.41" stroke="#ff8c1a" stroke-width="0.75" />
<circle cx="80.48" cy="368.17" r="1.7" fill="#ff8c1a"/>
<line x1="111.46" y1="369.36" x2="111.46" y2="379.85" stroke="#ff8c1a" stroke-width="0.75" />
<line x1="109.66" y1="369.36" x2="113.26" y2="369.36" stroke="#ff8c1a" stroke-width="0.75" />
<line x1="109.66" y1="379.85" x2="113.26" y2="379.85" stroke="#ff8c1a" stroke-width="0.75" />
<circle cx="111.46" cy="374.60" r="1.7" fill="#ff8c1a"/>
<line x1="142.44" y1="363.64" x2="142.44" y2="369.36" stroke="#ff8c1a" stroke-width="0.75" />
<line x1="140.64" y1="363.64" x2="144.24" y2="363.64" stroke="#ff8c1a" stroke-width="0.75" />
<line x1="140.64" y1="369.36" x2="144.24" y2="369.36" stroke="#ff8c1a" stroke-width="0.75" />
<circle cx="142.44" cy="366.50" r="1.7" fill="#ff8c1a"/>
<line x1="164.13" y1="349.11" x2="164.13" y2="356.25" stroke="#ff8c1a" stroke-width="0.75" />
<line x1="162.33" y1="349.11" x2="165.93" y2="349.11" stroke="#ff8c1a" stroke-width="0.75" />
<line x1="162.33" y1="356.25" x2="165.93" y2="356.25" stroke="#ff8c1a" stroke-width="0.75" />
<circle cx="164.13" cy="352.68" r="1.7" fill="#ff8c1a"/>
<line x1="173.42" y1="341.24" x2="173.42" y2="350.77" stroke="#ff8c1a" stroke-width="0.75" />
<line x1="171.62" y1="341.24" x2="175.22" y2="341.24" stroke="#ff8c1a" stroke-width="0.75" />
<line x1="171.62" y1="350.77" x2="175.22" y2="350.77" stroke="#ff8c1a" stroke-width="0.75" />
<circle cx="173.42" cy="346.01" r="1.7" fill="#ff8c1a"/>
<line x1="195.11" y1="343.15" x2="195.11" y2="353.63" stroke="#ff8c1a" stroke-width="0.75" />
<line x1="193.31" y1="343.15" x2="196.91" y2="343.15" stroke="#ff8c1a" stroke-width="0.75" />
<line x1="193.31" y1="353.63" x2="196.91" y2="353.63" stroke="#ff8c1a" stroke-width="0.75" />
<circle cx="195.11" cy="348.39" r="1.7" fill="#ff8c1a"/>
<line x1="204.40" y1="341.96" x2="204.40" y2="353.40" stroke="#ff8c1a" stroke-width="0.75" />
<line x1="202.60" y1="341.96" x2="206.20" y2="341.96" stroke="#ff8c1a" stroke-width="0.75" />
<line x1="202.60" y1="353.40" x2="206.20" y2="353.40" stroke="#ff8c1a" stroke-width="0.75" />
<circle cx="204.40" cy="347.68" r="1.7" fill="#ff8c1a"/>
<line x1="235.38" y1="340.77" x2="235.38" y2="351.25" stroke="#ff8c1a" stroke-width="0.75" />
<line x1="233.58" y1="340.77" x2="237.18" y2="340.77" stroke="#ff8c1a" stroke-width="0.75" />
<line x1="233.58" y1="351.25" x2="237.18" y2="351.25" stroke="#ff8c1a" stroke-width="0.75" />
<circle cx="235.38" cy="346.01" r="1.7" fill="#ff8c1a"/>
<path d="M80.5,356.6L82.4,356.6L84.4,356.6L86.3,356.5L88.2,356.5L90.2,356.5L92.1,356.4L94.0,356.4L96.0,356.3L97.9,356.3L99.8,356.2L101.8,356.1L103.7,356.0L105.7,355.9L107.6,355.8L109.5,355.6L111.5,355.5L113.4,355.3L115.3,355.1L117.3,354.9L119.2,354.6L121.1,354.3L123.1,353.9L125.0,353.6L127.0,353.1L128.9,352.7L130.8,352.2L132.8,351.6L134.7,351.0L136.6,350.3L138.6,349.6L140.5,348.8L142.4,348.0L144.4,347.1L146.3,346.2L148.2,345.3L150.2,344.4L152.1,343.4L154.1,342.5L156.0,341.6L157.9,340.7L159.9,339.8L161.8,338.9L163.7,338.1L165.7,337.4L167.6,336.7L169.5,336.0L171.5,335.4L173.4,334.9L175.4,334.4L177.3,333.9L179.2,333.5L181.2,333.2L183.1,332.8L185.0,332.6L187.0,332.3L188.9,332.1L190.8,331.9L192.8,331.7L194.7,331.6L196.7,331.4L198.6,331.3L200.5,331.2L202.5,331.1L204.4,331.0L206.3,331.0L208.3,330.9L210.2,330.9L212.1,330.8L214.1,330.8L216.0,330.7L218.0,330.7L219.9,330.7L221.8,330.7L223.8,330.6L225.7,330.6L227.6,330.6L229.6,330.6L231.5,330.6L233.4,330.6L235.4,330.6" stroke="#b030e0" stroke-width="1.1" fill="none" />
<line x1="80.48" y1="343.63" x2="80.48" y2="362.69" stroke="#b030e0" stroke-width="0.75" />
<line x1="78.68" y1="343.63" x2="82.28" y2="343.63" stroke="#b030e0" stroke-width="0.75" />
<line x1="78.68" y1="362.69" x2="82.28" y2="362.69" stroke="#b030e0" stroke-width="0.75" />
<circle cx="80.48" cy="353.16" r="1.7" fill="#b030e0"/>
<line x1="111.46" y1="352.68" x2="111.46" y2="366.98" stroke="#b030e0" stroke-width="0.75" />
<line x1="109.66" y1="352.68" x2="113.26" y2="352.68" stroke="#b030e0" stroke-width="0.75" />
<line x1="109.66" y1="366.98" x2="113.26" y2="366.98" stroke="#b030e0" stroke-width="0.75" />
<circle cx="111.46" cy="359.83" r="1.7" fill="#b030e0"/>
<line x1="142.44" y1="340.77" x2="142.44" y2="355.06" stroke="#b030e0" stroke-width="0.75" />
<line x1="140.64" y1="340.77" x2="144.24" y2="340.77" stroke="#b030e0" stroke-width="0.75" />
<line x1="140.64" y1="355.06" x2="144.24" y2="355.06" stroke="#b030e0" stroke-width="0.75" />
<circle cx="142.44" cy="347.91" r="1.7" fill="#b030e0"/>
<line x1="164.13" y1="330.28" x2="164.13" y2="345.53" stroke="#b030e0" stroke-width="0.75" />
<line x1="162.33" y1="330.28" x2="165.93" y2="330.28" stroke="#b030e0" stroke-width="0.75" />
<line x1="162.33" y1="345.53" x2="165.93" y2="345.53" stroke="#b030e0" stroke-width="0.75" />
<circle cx="164.13" cy="337.91" r="1.7" fill="#b030e0"/>
<line x1="173.42" y1="326.23" x2="173.42" y2="342.91" stroke="#b030e0" stroke-width="0.75" />
<line x1="171.62" y1="326.23" x2="175.22" y2="326.23" stroke="#b030e0" stroke-width="0.75" />
<line x1="171.62" y1="342.91" x2="175.22" y2="342.91" stroke="#b030e0" stroke-width="0.75" />
<circle cx="173.42" cy="334.57" r="1.7" fill="#b030e0"/>
<line x1="195.11" y1="322.18" x2="195.11" y2="341.24" stroke="#b030e0" stroke-width="0.75" />
<line x1="193.31" y1="322.18" x2="196.91" y2="322.18" stroke="#b030e0" stroke-width="0.75" />
<line x1="193.31" y1="341.24" x2="196.91" y2="341.24" stroke="#b030e0" stroke-width="0.75" />
<circle cx="195.11" cy="331.71" r="1.7" fill="#b030e0"/>
<line x1="204.40" y1="324.56" x2="204.40" y2="338.86" stroke="#b030e0" stroke-width="0.75" />
<line x1="202.60" y1="324.56" x2="206.20" y2="324.56" stroke="#b030e0" stroke-width="0.75" />
<line x1="202.60" y1="338.86" x2="206.20" y2="338.86" stroke="#b030e0" stroke-width="0.75" />
<circle cx="204.40" cy="331.71" r="1.7" fill="#b030e0"/>
<line x1="235.38" y1="322.42" x2="235.38" y2="339.10" stroke="#b030e0" stroke-width="0.75" />
<line x1="233.58" y1="322.42" x2="237.18" y2="322.42" stroke="#b030e0" stroke-width="0.75" />
<line x1="233.58" y1="339.10" x2="237.18" y2="339.10" stroke="#b030e0" stroke-width="0.75" />
<circle cx="235.38" cy="330.76" r="1.7" fill="#b030e0"/>
<path d="M80.5,327.8L82.4,327.7L84.4,327.7L86.3,327.6L88.2,327.5L90.2,327.4L92.1,327.3L94.0,327.2L96.0,327.0L97.9,326.9L99.8,326.7L101.8,326.5L103.7,326.2L105.7,326.0L107.6,325.7L109.5,325.3L111.5,324.9L113.4,324.5L115.3,324.0L117.3,323.5L119.2,322.9L121.1,322.3L123.1,321.6L125.0,320.8L127.0,320.0L128.9,319.1L130.8,318.2L132.8,317.3L134.7,316.3L136.6,315.3L138.6,314.2L140.5,313.2L142.4,312.2L144.4,311.2L146.3,310.2L148.2,309.3L150.2,308.4L152.1,307.5L154.1,306.7L156.0,306.0L157.9,305.3L159.9,304.6L161.8,304.1L163.7,303.5L165.7,303.1L167.6,302.7L169.5,302.3L171.5,301.9L173.4,301.6L175.4,301.4L177.3,301.1L179.2,300.9L181.2,300.8L183.1,300.6L185.0,300.5L187.0,300.3L188.9,300.2L190.8,300.1L192.8,300.1L194.7,300.0L196.7,299.9L198.6,299.9L200.5,299.8L202.5,299.8L204.4,299.8L206.3,299.7L208.3,299.7L210.2,299.7L212.1,299.7L214.1,299.6L216.0,299.6L218.0,299.6L219.9,299.6L221.8,299.6L223.8,299.6L225.7,299.6L227.6,299.6L229.6,299.6L231.5,299.6L233.4,299.6L235.4,299.6" stroke="#20c020" stroke-width="1.1" fill="none" />
<line x1="80.48" y1="323.61" x2="80.48" y2="330.76" stroke="#20c020" stroke-width="0.75" />
<line x1="78.68" y1="323.61" x2="82.28" y2="323.61" stroke="#20c020" stroke-width="0.75" />
<line x1="78.68" y1="330.76" x2="82.28" y2="330.76" stroke="#20c020" stroke-width="0.75" />
<circle cx="80.48" cy="327.18" r="1.7" fill="#20c020"/>
<line x1="111.46" y1="320.99" x2="111.46" y2="328.14" stroke="#20c020" stroke-width="0.75" />
<line x1="109.66" y1="320.99" x2="113.26" y2="320.99" stroke="#20c020" stroke-width="0.75" />
<line x1="109.66" y1="328.14" x2="113.26" y2="328.14" stroke="#20c020" stroke-width="0.75" />
<circle cx="111.46" cy="324.56" r="1.7" fill="#20c020"/>
<line x1="142.44" y1="312.17" x2="142.44" y2="314.55" stroke="#20c020" stroke-width="0.75" />
<line x1="140.64" y1="312.17" x2="144.24" y2="312.17" stroke="#20c020" stroke-width="0.75" />
<line x1="140.64" y1="314.55" x2="144.24" y2="314.55" stroke="#20c020" stroke-width="0.75" />
<circle cx="142.44" cy="313.36" r="1.7" fill="#20c020"/>
<line x1="164.13" y1="301.92" x2="164.13" y2="304.31" stroke="#20c020" stroke-width="0.75" />
<line x1="162.33" y1="301.92" x2="165.93" y2="301.92" stroke="#20c020" stroke-width="0.75" />
<line x1="162.33" y1="304.31" x2="165.93" y2="304.31" stroke="#20c020" stroke-width="0.75" />
<circle cx="164.13" cy="303.11" r="1.7" fill="#20c020"/>
<line x1="173.42" y1="299.06" x2="173.42" y2="301.45" stroke="#20c020" stroke-width="0.75" />
<line x1="171.62" y1="299.06" x2="175.22" y2="299.06" stroke="#20c020" stroke-width="0.75" />
<line x1="171.62" y1="301.45" x2="175.22" y2="301.45" stroke="#20c020" stroke-width="0.75" />
<circle cx="173.42" cy="300.25" r="1.7" fill="#20c020"/>
<line x1="195.11" y1="295.73" x2="195.11" y2="304.31" stroke="#20c020" stroke-width="0.75" />
<line x1="193.31" y1="295.73" x2="196.91" y2="295.73" stroke="#20c020" stroke-width="0.75" />
<line x1="193.31" y1="304.31" x2="196.91" y2="304.31" stroke="#20c020" stroke-width="0.75" />
<circle cx="195.11" cy="300.02" r="1.7" fill="#20c020"/>
<line x1="204.40" y1="294.06" x2="204.40" y2="306.45" stroke="#20c020" stroke-width="0.75" />
<line x1="202.60" y1="294.06" x2="206.20" y2="294.06" stroke="#20c020" stroke-width="0.75" />
<line x1="202.60" y1="306.45" x2="206.20" y2="306.45" stroke="#20c020" stroke-width="0.75" />
<circle cx="204.40" cy="300.25" r="1.7" fill="#20c020"/>
<line x1="235.38" y1="295.97" x2="235.38" y2="304.54" stroke="#20c020" stroke-width="0.75" />
<line x1="233.58" y1="295.97" x2="237.18" y2="295.97" stroke="#20c020" stroke-width="0.75" />
<line x1="233.58" y1="304.54" x2="237.18" y2="304.54" stroke="#20c020" stroke-width="0.75" />
<circle cx="235.38" cy="300.25" r="1.7" fill="#20c020"/>
<path d="M80.5,312.4L82.4,311.5L84.4,310.4L86.3,309.4L88.2,308.2L90.2,307.0L92.1,305.8L94.0,304.5L96.0,303.2L97.9,301.9L99.8,300.6L101.8,299.4L103.7,298.1L105.7,296.9L107.6,295.7L109.5,294.6L111.5,293.6L113.4,292.7L115.3,291.8L117.3,290.9L119.2,290.2L121.1,289.5L123.1,288.9L125.0,288.4L127.0,287.9L128.9,287.4L130.8,287.0L132.8,286.7L134.7,286.4L136.6,286.1L138.6,285.9L140.5,285.7L142.4,285.5L144.4,285.3L146.3,285.2L148.2,285.1L150.2,285.0L152.1,284.9L154.1,284.8L156.0,284.7L157.9,284.7L159.9,284.6L161.8,284.6L163.7,284.5L165.7,284.5L167.6,284.5L169.5,284.5L171.5,284.4L173.4,284.4L175.4,284.4L177.3,284.4L179.2,284.4L181.2,284.4L183.1,284.3L185.0,284.3L187.0,284.3L188.9,284.3L190.8,284.3L192.8,284.3L194.7,284.3L196.7,284.3L198.6,284.3L200.5,284.3L202.5,284.3L204.4,284.3L206.3,284.3L208.3,284.3L210.2,284.3L212.1,284.3L214.1,284.3L216.0,284.3L218.0,284.3L219.9,284.3L221.8,284.3L223.8,284.3L225.7,284.3L227.6,284.3L229.6,284.3L231.5,284.3L233.4,284.3L235.4,284.3" stroke="#ff1a1a" stroke-width="1.1" fill="none" />
<circle cx="80.48" cy="312.41" r="1.7" fill="#ff1a1a"/>
<line x1="111.46" y1="287.86" x2="111.46" y2="299.78" stroke="#ff1a1a" stroke-width="0.75" />
<line x1="109.66" y1="287.86" x2="113.26" y2="287.86" stroke="#ff1a1a" stroke-width="0.75" />
<line x1="109.66" y1="299.78" x2="113.26" y2="299.78" stroke="#ff1a1a" stroke-width="0.75" />
<circle cx="111.46" cy="293.82" r="1.7" fill="#ff1a1a"/>
<line x1="142.44" y1="291.20" x2="142.44" y2="295.01" stroke="#ff1a1a" stroke-width="0.75" />
<line x1="140.64" y1="291.20" x2="144.24" y2="291.20" stroke="#ff1a1a" stroke-width="0.75" />
<line x1="140.64" y1="295.01" x2="144.24" y2="295.01" stroke="#ff1a1a" stroke-width="0.75" />
<circle cx="142.44" cy="293.11" r="1.7" fill="#ff1a1a"/>
<line x1="164.13" y1="274.52" x2="164.13" y2="292.63" stroke="#ff1a1a" stroke-width="0.75" />
<line x1="162.33" y1="274.52" x2="165.93" y2="274.52" stroke="#ff1a1a" stroke-width="0.75" />
<line x1="162.33" y1="292.63" x2="165.93" y2="292.63" stroke="#ff1a1a" stroke-width="0.75" />
<circle cx="164.13" cy="283.57" r="1.7" fill="#ff1a1a"/>
<line x1="173.42" y1="268.08" x2="173.42" y2="288.10" stroke="#ff1a1a" stroke-width="0.75" />
<line x1="171.62" y1="268.08" x2="175.22" y2="268.08" stroke="#ff1a1a" stroke-width="0.75" />
<line x1="171.62" y1="288.10" x2="175.22" y2="288.10" stroke="#ff1a1a" stroke-width="0.75" />
<circle cx="173.42" cy="278.09" r="1.7" fill="#ff1a1a"/>
<line x1="195.11" y1="284.29" x2="195.11" y2="294.77" stroke="#ff1a1a" stroke-width="0.75" />
<line x1="193.31" y1="284.29" x2="196.91" y2="284.29" stroke="#ff1a1a" stroke-width="0.75" />
<line x1="193.31" y1="294.77" x2="196.91" y2="294.77" stroke="#ff1a1a" stroke-width="0.75" />
<circle cx="195.11" cy="289.53" r="1.7" fill="#ff1a1a"/>
<line x1="204.40" y1="275.23" x2="204.40" y2="290.48" stroke="#ff1a1a" stroke-width="0.75" />
<line x1="202.60" y1="275.23" x2="206.20" y2="275.23" stroke="#ff1a1a" stroke-width="0.75" />
<line x1="202.60" y1="290.48" x2="206.20" y2="290.48" stroke="#ff1a1a" stroke-width="0.75" />
<circle cx="204.40" cy="282.86" r="1.7" fill="#ff1a1a"/>
<line x1="235.38" y1="277.85" x2="235.38" y2="288.34" stroke="#ff1a1a" stroke-width="0.75" />
<line x1="233.58" y1="277.85" x2="237.18" y2="277.85" stroke="#ff1a1a" stroke-width="0.75" />
<line x1="233.58" y1="288.34" x2="237.18" y2="288.34" stroke="#ff1a1a" stroke-width="0.75" />
<circle cx="235.38" cy="283.10" r="1.7" fill="#ff1a1a"/>
<text x="285.00" y="276.40" font-size="9.0" font-weight="normal" fill="#000" text-anchor="middle" >LTC4(nM)</text>
<line x1="266.30" y1="292.40" x2="281.80" y2="292.40" stroke="#1a1aff" stroke-width="1.2" />
<circle cx="274.00" cy="292.40" r="1.4" fill="#1a1aff"/>
<text x="293.60" y="295.40" font-size="8.6" font-weight="normal" fill="#000" text-anchor="middle" >0</text>
<line x1="266.30" y1="305.68" x2="281.80" y2="305.68" stroke="#9a6a3a" stroke-width="1.2" />
<circle cx="274.00" cy="305.68" r="1.4" fill="#9a6a3a"/>
<text x="293.60" y="308.68" font-size="8.6" font-weight="normal" fill="#000" text-anchor="middle" >0.01</text>
<line x1="266.30" y1="318.96" x2="281.80" y2="318.96" stroke="#000000" stroke-width="1.2" />
<circle cx="274.00" cy="318.96" r="1.4" fill="#000000"/>
<text x="293.60" y="321.96" font-size="8.6" font-weight="normal" fill="#000" text-anchor="middle" >0.1</text>
<line x1="266.30" y1="332.24" x2="281.80" y2="332.24" stroke="#ff8c1a" stroke-width="1.2" />
<circle cx="274.00" cy="332.24" r="1.4" fill="#ff8c1a"/>
<text x="293.60" y="335.24" font-size="8.6" font-weight="normal" fill="#000" text-anchor="middle" >1</text>
<line x1="266.30" y1="345.52" x2="281.80" y2="345.52" stroke="#b030e0" stroke-width="1.2" />
<circle cx="274.00" cy="345.52" r="1.4" fill="#b030e0"/>
<text x="293.60" y="348.52" font-size="8.6" font-weight="normal" fill="#000" text-anchor="middle" >10</text>
<line x1="266.30" y1="358.80" x2="281.80" y2="358.80" stroke="#20c020" stroke-width="1.2" />
<circle cx="274.00" cy="358.80" r="1.4" fill="#20c020"/>
<text x="293.60" y="361.80" font-size="8.6" font-weight="normal" fill="#000" text-anchor="middle" >100</text>
<line x1="266.30" y1="372.08" x2="281.80" y2="372.08" stroke="#ff1a1a" stroke-width="1.2" />
<circle cx="274.00" cy="372.08" r="1.4" fill="#ff1a1a"/>
<text x="293.60" y="375.08" font-size="8.6" font-weight="normal" fill="#000" text-anchor="middle" >1000</text>
<line x1="353.10" y1="257.80" x2="353.10" y2="391.40" stroke="#000" stroke-width="1.9" />
<line x1="352.20" y1="390.50" x2="487.30" y2="390.50" stroke="#000" stroke-width="1.9" />
<line x1="348.00" y1="390.20" x2="353.10" y2="390.20" stroke="#000" stroke-width="1.8" />
<text x="346.60" y="393.40" font-size="8.9" font-weight="bold" fill="#000" text-anchor="end" >0</text>
<line x1="348.00" y1="346.00" x2="353.10" y2="346.00" stroke="#000" stroke-width="1.8" />
<text x="346.60" y="349.20" font-size="8.9" font-weight="bold" fill="#000" text-anchor="end" >150</text>
<line x1="348.00" y1="301.80" x2="353.10" y2="301.80" stroke="#000" stroke-width="1.8" />
<text x="346.60" y="305.00" font-size="8.9" font-weight="bold" fill="#000" text-anchor="end" >300</text>
<line x1="348.00" y1="257.60" x2="353.10" y2="257.60" stroke="#000" stroke-width="1.8" />
<text x="346.60" y="260.80" font-size="8.9" font-weight="bold" fill="#000" text-anchor="end" >450</text>
<text transform="translate(327.4,319.5) rotate(-90)" font-size="9.4" font-weight="bold" text-anchor="middle">ΔE<tspan font-size="5.6" font-weight="normal" dy="2.4">max</tspan></text>
<line x1="365.90" y1="390.50" x2="365.90" y2="394.20" stroke="#000" stroke-width="1.5" />
<line x1="384.10" y1="390.50" x2="384.10" y2="394.20" stroke="#000" stroke-width="1.5" />
<line x1="402.30" y1="390.50" x2="402.30" y2="394.20" stroke="#000" stroke-width="1.5" />
<line x1="420.50" y1="390.50" x2="420.50" y2="394.20" stroke="#000" stroke-width="1.5" />
<line x1="438.70" y1="390.50" x2="438.70" y2="394.20" stroke="#000" stroke-width="1.5" />
<line x1="456.90" y1="390.50" x2="456.90" y2="394.20" stroke="#000" stroke-width="1.5" />
<line x1="475.10" y1="390.50" x2="475.10" y2="394.20" stroke="#000" stroke-width="1.5" />
<circle cx="363.20" cy="390.00" r="2.6" fill="#1a1aff"/>
<circle cx="366.00" cy="390.00" r="2.6" fill="#1a1aff"/>
<circle cx="368.80" cy="390.00" r="2.6" fill="#1a1aff"/>
<line x1="384.15" y1="388.43" x2="384.15" y2="389.32" stroke="#a06a38" stroke-width="1.0" />
<line x1="381.95" y1="388.43" x2="386.35" y2="388.43" stroke="#a06a38" stroke-width="1.0" />
<line x1="381.95" y1="389.32" x2="386.35" y2="389.32" stroke="#a06a38" stroke-width="1.0" />
<circle cx="381.50" cy="385.80" r="2.6" fill="#a06a38"/>
<circle cx="384.50" cy="388.50" r="2.6" fill="#a06a38"/>
<circle cx="387.20" cy="388.00" r="2.6" fill="#a06a38"/>
<circle cx="383.50" cy="390.40" r="2.6" fill="#a06a38"/>
<rect x="396.70" y="376.06" width="11.2" height="14.44" fill="none" stroke="#000000" stroke-width="1.1"/>
<line x1="402.30" y1="372.52" x2="402.30" y2="379.59" stroke="#000000" stroke-width="1.0" />
<line x1="400.10" y1="372.52" x2="404.50" y2="372.52" stroke="#000000" stroke-width="1.0" />
<line x1="400.10" y1="379.59" x2="404.50" y2="379.59" stroke="#000000" stroke-width="1.0" />
<circle cx="402.30" cy="369.00" r="2.6" fill="#000000"/>
<circle cx="399.30" cy="381.20" r="2.6" fill="#000000"/>
<circle cx="405.80" cy="378.30" r="2.6" fill="#000000"/>
<rect x="414.85" y="363.68" width="11.2" height="26.82" fill="none" stroke="#ff8c1a" stroke-width="1.1"/>
<line x1="420.45" y1="357.20" x2="420.45" y2="370.16" stroke="#ff8c1a" stroke-width="1.0" />
<line x1="418.25" y1="357.20" x2="422.65" y2="357.20" stroke="#ff8c1a" stroke-width="1.0" />
<line x1="418.25" y1="370.16" x2="422.65" y2="370.16" stroke="#ff8c1a" stroke-width="1.0" />
<circle cx="420.60" cy="354.60" r="2.6" fill="#ff8c1a"/>
<circle cx="420.60" cy="359.60" r="2.6" fill="#ff8c1a"/>
<circle cx="420.60" cy="376.90" r="2.6" fill="#ff8c1a"/>
<rect x="433.00" y="345.71" width="11.2" height="44.79" fill="none" stroke="#ee22ee" stroke-width="1.1"/>
<line x1="438.60" y1="337.45" x2="438.60" y2="353.96" stroke="#ee22ee" stroke-width="1.0" />
<line x1="436.40" y1="337.45" x2="440.80" y2="337.45" stroke="#ee22ee" stroke-width="1.0" />
<line x1="436.40" y1="353.96" x2="440.80" y2="353.96" stroke="#ee22ee" stroke-width="1.0" />
<circle cx="434.80" cy="335.90" r="2.6" fill="#ee22ee"/>
<circle cx="441.70" cy="338.30" r="2.6" fill="#ee22ee"/>
<circle cx="438.40" cy="362.50" r="2.6" fill="#ee22ee"/>
<rect x="451.15" y="305.93" width="11.2" height="84.57" fill="none" stroke="#33dd33" stroke-width="1.1"/>
<line x1="456.75" y1="302.39" x2="456.75" y2="309.46" stroke="#33dd33" stroke-width="1.0" />
<line x1="454.55" y1="302.39" x2="458.95" y2="302.39" stroke="#33dd33" stroke-width="1.0" />
<line x1="454.55" y1="309.46" x2="458.95" y2="309.46" stroke="#33dd33" stroke-width="1.0" />
<circle cx="453.30" cy="300.70" r="2.6" fill="#33dd33"/>
<circle cx="460.10" cy="303.50" r="2.6" fill="#33dd33"/>
<circle cx="456.60" cy="313.40" r="2.6" fill="#33dd33"/>
<rect x="469.30" y="287.66" width="11.2" height="102.84" fill="none" stroke="#ff1a1a" stroke-width="1.1"/>
<line x1="474.90" y1="279.41" x2="474.90" y2="295.91" stroke="#ff1a1a" stroke-width="1.0" />
<line x1="472.70" y1="279.41" x2="477.10" y2="279.41" stroke="#ff1a1a" stroke-width="1.0" />
<line x1="472.70" y1="295.91" x2="477.10" y2="295.91" stroke="#ff1a1a" stroke-width="1.0" />
<circle cx="474.60" cy="272.00" r="2.6" fill="#ff1a1a"/>
<circle cx="471.60" cy="297.40" r="2.6" fill="#ff1a1a"/>
<circle cx="478.20" cy="294.20" r="2.6" fill="#ff1a1a"/>
<text x="332.40" y="405.20" font-size="9.2" font-weight="normal" fill="#000" text-anchor="middle" >LTC4(nM)</text>
<text x="366.00" y="405.20" font-size="8.2" font-weight="normal" fill="#000" text-anchor="middle" >0</text>
<text x="384.15" y="405.20" font-size="8.2" font-weight="normal" fill="#000" text-anchor="middle" >0.01</text>
<text x="402.30" y="405.20" font-size="8.2" font-weight="normal" fill="#000" text-anchor="middle" >0.1</text>
<text x="420.45" y="405.20" font-size="8.2" font-weight="normal" fill="#000" text-anchor="middle" >1</text>
<text x="438.60" y="405.20" font-size="8.2" font-weight="normal" fill="#000" text-anchor="middle" >10</text>
<text x="456.75" y="405.20" font-size="8.2" font-weight="normal" fill="#000" text-anchor="middle" >100</text>
<text x="474.90" y="405.20" font-size="8.2" font-weight="normal" fill="#000" text-anchor="middle" >1000</text>
<line x1="360.20" y1="408.80" x2="487.00" y2="408.80" stroke="#444" stroke-width="0.9" />
<text x="425.30" y="421.00" font-size="10.2" font-weight="bold" fill="#000" text-anchor="middle" >ceramide</text>
<text x="595.50" y="247.00" font-size="8.6" font-weight="bold" fill="#000" text-anchor="middle" >NanoBiT assay ΔpEC<tspan font-size="5.3" dy="2.2">50</tspan></text>
<text x="533.00" y="263.60" font-size="9.2" font-weight="normal" fill="#000" text-anchor="middle" >LTC4(nM)</text>
<rect x="550.0" y="267.00" width="77.5" height="18.95" fill="#ffffff"/>
<rect x="550.0" y="285.95" width="77.5" height="18.95" fill="#fde8e9"/>
<line x1="550.00" y1="285.95" x2="627.50" y2="285.95" stroke="#ffffff" stroke-width="0.8" />
<rect x="550.0" y="304.90" width="77.5" height="18.95" fill="#fdd0d2"/>
<line x1="550.00" y1="304.90" x2="627.50" y2="304.90" stroke="#ffffff" stroke-width="0.8" />
<rect x="550.0" y="323.85" width="77.5" height="18.95" fill="#fba8aa"/>
<line x1="550.00" y1="323.85" x2="627.50" y2="323.85" stroke="#ffffff" stroke-width="0.8" />
<rect x="550.0" y="342.80" width="77.5" height="18.95" fill="#fba5a7"/>
<line x1="550.00" y1="342.80" x2="627.50" y2="342.80" stroke="#ffffff" stroke-width="0.8" />
<rect x="550.0" y="361.75" width="77.5" height="18.95" fill="#fa8a8c"/>
<line x1="550.00" y1="361.75" x2="627.50" y2="361.75" stroke="#ffffff" stroke-width="0.8" />
<rect x="550.0" y="380.70" width="77.5" height="18.95" fill="#fb0000"/>
<line x1="550.00" y1="380.70" x2="627.50" y2="380.70" stroke="#ffffff" stroke-width="0.8" />
<rect x="550.0" y="267.00" width="77.5" height="132.65" fill="none" stroke="#000" stroke-width="1.1"/>
<line x1="546.30" y1="276.48" x2="550.00" y2="276.48" stroke="#000" stroke-width="1.1" />
<text x="544.20" y="279.38" font-size="8.0" font-weight="normal" fill="#000" text-anchor="end" >0</text>
<line x1="546.30" y1="295.43" x2="550.00" y2="295.43" stroke="#000" stroke-width="1.1" />
<text x="544.20" y="298.32" font-size="8.0" font-weight="normal" fill="#000" text-anchor="end" >0.01</text>
<line x1="546.30" y1="314.38" x2="550.00" y2="314.38" stroke="#000" stroke-width="1.1" />
<text x="544.20" y="317.27" font-size="8.0" font-weight="normal" fill="#000" text-anchor="end" >0.1</text>
<line x1="546.30" y1="333.32" x2="550.00" y2="333.32" stroke="#000" stroke-width="1.1" />
<text x="544.20" y="336.22" font-size="8.0" font-weight="normal" fill="#000" text-anchor="end" >1</text>
<line x1="546.30" y1="352.27" x2="550.00" y2="352.27" stroke="#000" stroke-width="1.1" />
<text x="544.20" y="355.17" font-size="8.0" font-weight="normal" fill="#000" text-anchor="end" >10</text>
<line x1="546.30" y1="371.23" x2="550.00" y2="371.23" stroke="#000" stroke-width="1.1" />
<text x="544.20" y="374.12" font-size="8.0" font-weight="normal" fill="#000" text-anchor="end" >100</text>
<line x1="546.30" y1="390.18" x2="550.00" y2="390.18" stroke="#000" stroke-width="1.1" />
<text x="544.20" y="393.07" font-size="8.0" font-weight="normal" fill="#000" text-anchor="end" >1000</text>
<text x="629.80" y="298.32" font-size="8.2" font-weight="normal" fill="#000" text-anchor="start" >p=0.8506</text>
<text x="629.80" y="317.27" font-size="8.2" font-weight="normal" fill="#000" text-anchor="start" >p=0.1201</text>
<text x="629.80" y="336.22" font-size="8.2" font-weight="normal" fill="#000" text-anchor="start" >p=0.0031</text>
<text x="629.80" y="355.17" font-size="8.2" font-weight="normal" fill="#000" text-anchor="start" >p=0.0019</text>
<text x="629.80" y="374.12" font-size="8.2" font-weight="normal" fill="#000" text-anchor="start" >p=0.0001</text>
<text x="629.80" y="393.07" font-size="8.2" font-weight="normal" fill="#000" text-anchor="start" >p&lt;0.0001</text>
<line x1="522.60" y1="274.30" x2="522.60" y2="400.20" stroke="#000" stroke-width="0.9" />
<text transform="translate(520.6,334.5) rotate(-90)" font-size="10.6" font-weight="bold" text-anchor="middle">ceramide</text>
<defs><linearGradient id="cb" x1="0" x2="1" y1="0" y2="0"><stop offset="0" stop-color="#f00000"/><stop offset="1" stop-color="#ffffff"/></linearGradient></defs>
<rect x="566.5" y="402.6" width="39.8" height="7.8" fill="url(#cb)" stroke="#000" stroke-width="0.9"/>
<line x1="573.40" y1="402.60" x2="573.40" y2="410.40" stroke="#000" stroke-width="0.8" opacity="0.55"/>
<text x="573.40" y="418.40" font-size="8.2" font-weight="normal" fill="#000" text-anchor="middle" >2</text>
<line x1="589.60" y1="402.60" x2="589.60" y2="410.40" stroke="#000" stroke-width="0.8" opacity="0.55"/>
<text x="589.60" y="418.40" font-size="8.2" font-weight="normal" fill="#000" text-anchor="middle" >1</text>
<text x="606.20" y="418.40" font-size="8.2" font-weight="normal" fill="#000" text-anchor="middle" >0</text>
</svg></body></html>
